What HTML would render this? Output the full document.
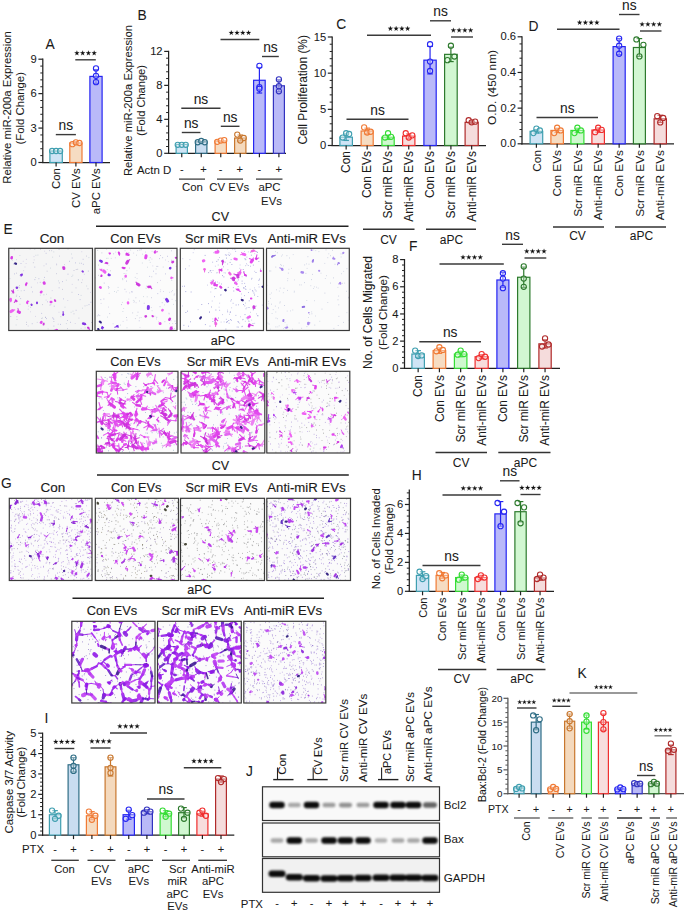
<!DOCTYPE html>
<html><head><meta charset="utf-8"><style>
html,body{margin:0;padding:0;background:#fff;}
svg{display:block;}
text{font-family:"Liberation Sans", sans-serif;stroke:#1a1a1a;stroke-width:0.06px;}
</style></head><body>
<svg width="685" height="914" viewBox="0 0 685 914">
<rect x="0" y="0" width="685" height="914" fill="#fff"/>
<text x="45.57" y="49.4" font-size="13.8" text-anchor="start" fill="#1a1a1a" >A</text>
<line x1="42.8" y1="58.6" x2="42.8" y2="163.1" stroke="#222" stroke-width="1.25" />
<line x1="42.2" y1="162.5" x2="110" y2="162.5" stroke="#222" stroke-width="1.25" />
<line x1="38.4" y1="162.5" x2="42.8" y2="162.5" stroke="#222" stroke-width="1.2" />
<text x="36.8" y="166.1" font-size="11.2" text-anchor="end" fill="#1a1a1a" >0</text>
<line x1="38.4" y1="128.07" x2="42.8" y2="128.07" stroke="#222" stroke-width="1.2" />
<text x="36.8" y="131.67" font-size="11.2" text-anchor="end" fill="#1a1a1a" >3</text>
<line x1="38.4" y1="93.63" x2="42.8" y2="93.63" stroke="#222" stroke-width="1.2" />
<text x="36.8" y="97.23" font-size="11.2" text-anchor="end" fill="#1a1a1a" >6</text>
<line x1="38.4" y1="59.2" x2="42.8" y2="59.2" stroke="#222" stroke-width="1.2" />
<text x="36.8" y="62.8" font-size="11.2" text-anchor="end" fill="#1a1a1a" >9</text>
<line x1="40.3" y1="155.61" x2="42.8" y2="155.61" stroke="#222" stroke-width="1.0" />
<line x1="40.3" y1="148.73" x2="42.8" y2="148.73" stroke="#222" stroke-width="1.0" />
<line x1="40.3" y1="141.84" x2="42.8" y2="141.84" stroke="#222" stroke-width="1.0" />
<line x1="40.3" y1="134.95" x2="42.8" y2="134.95" stroke="#222" stroke-width="1.0" />
<line x1="40.3" y1="121.18" x2="42.8" y2="121.18" stroke="#222" stroke-width="1.0" />
<line x1="40.3" y1="114.29" x2="42.8" y2="114.29" stroke="#222" stroke-width="1.0" />
<line x1="40.3" y1="107.41" x2="42.8" y2="107.41" stroke="#222" stroke-width="1.0" />
<line x1="40.3" y1="100.52" x2="42.8" y2="100.52" stroke="#222" stroke-width="1.0" />
<line x1="40.3" y1="86.75" x2="42.8" y2="86.75" stroke="#222" stroke-width="1.0" />
<line x1="40.3" y1="79.86" x2="42.8" y2="79.86" stroke="#222" stroke-width="1.0" />
<line x1="40.3" y1="72.97" x2="42.8" y2="72.97" stroke="#222" stroke-width="1.0" />
<line x1="40.3" y1="66.09" x2="42.8" y2="66.09" stroke="#222" stroke-width="1.0" />
<rect x="49.9" y="151.02" width="12.4" height="11.48" fill="#cfe4f5" stroke="#3f9fb0" stroke-width="1.2" />
<circle cx="52.1" cy="151.02" r="2.6" fill="rgba(255,255,255,0.35)" stroke="#3f9fb0" stroke-width="1.1"/>
<circle cx="56.1" cy="151.02" r="2.6" fill="rgba(255,255,255,0.35)" stroke="#3f9fb0" stroke-width="1.1"/>
<circle cx="60.1" cy="151.02" r="2.6" fill="rgba(255,255,255,0.35)" stroke="#3f9fb0" stroke-width="1.1"/>
<line x1="56.1" y1="162.5" x2="56.1" y2="166.5" stroke="#222" stroke-width="1.2" />
<rect x="69.8" y="142.99" width="12.2" height="19.51" fill="#f6dcc2" stroke="#f07a35" stroke-width="1.2" />
<line x1="75.9" y1="141.84" x2="75.9" y2="142.99" stroke="#f07a35" stroke-width="1.2" />
<line x1="73.1" y1="141.84" x2="78.7" y2="141.84" stroke="#f07a35" stroke-width="1.2" />
<line x1="75.9" y1="142.99" x2="75.9" y2="144.14" stroke="#f07a35" stroke-width="1.2" />
<line x1="73.1" y1="144.14" x2="78.7" y2="144.14" stroke="#f07a35" stroke-width="1.2" />
<circle cx="72.4" cy="144.14" r="2.6" fill="rgba(255,255,255,0.35)" stroke="#f07a35" stroke-width="1.1"/>
<circle cx="75.9" cy="142.41" r="2.6" fill="rgba(255,255,255,0.35)" stroke="#f07a35" stroke-width="1.1"/>
<circle cx="79.4" cy="142.99" r="2.6" fill="rgba(255,255,255,0.35)" stroke="#f07a35" stroke-width="1.1"/>
<line x1="75.9" y1="162.5" x2="75.9" y2="166.5" stroke="#222" stroke-width="1.2" />
<rect x="89.9" y="76.42" width="12.2" height="86.08" fill="#b9b9f9" stroke="#2525f2" stroke-width="1.2" />
<line x1="96" y1="69.53" x2="96" y2="76.42" stroke="#2525f2" stroke-width="1.2" />
<line x1="93.2" y1="69.53" x2="98.8" y2="69.53" stroke="#2525f2" stroke-width="1.2" />
<line x1="96" y1="76.42" x2="96" y2="83.3" stroke="#2525f2" stroke-width="1.2" />
<line x1="93.2" y1="83.3" x2="98.8" y2="83.3" stroke="#2525f2" stroke-width="1.2" />
<circle cx="96" cy="68.38" r="2.6" fill="rgba(255,255,255,0.35)" stroke="#2525f2" stroke-width="1.1"/>
<circle cx="96" cy="75.84" r="2.6" fill="rgba(255,255,255,0.35)" stroke="#2525f2" stroke-width="1.1"/>
<circle cx="96" cy="82.16" r="2.6" fill="rgba(255,255,255,0.35)" stroke="#2525f2" stroke-width="1.1"/>
<line x1="96" y1="162.5" x2="96" y2="166.5" stroke="#222" stroke-width="1.2" />
<line x1="55.8" y1="134.6" x2="75.9" y2="134.6" stroke="#3a3a3a" stroke-width="1.4" />
<text x="65.85" y="130" font-size="15" text-anchor="middle" fill="#1a1a1a" textLength="14.55" lengthAdjust="spacingAndGlyphs" >ns</text>
<line x1="75.3" y1="59.8" x2="95.8" y2="59.8" stroke="#3a3a3a" stroke-width="1.4" />
<path d="M76.92,50.55L77.52,52.34L79.39,52.35L77.88,53.46L78.45,55.25L76.92,54.15L75.39,55.25L75.97,53.46L74.45,52.35L76.33,52.34Z" fill="#111" stroke="#111" stroke-width="0.15" stroke-linejoin="round"/>
<path d="M82.67,50.55L83.27,52.34L85.14,52.35L83.62,53.46L84.20,55.25L82.67,54.15L81.14,55.25L81.72,53.46L80.20,52.35L82.08,52.34Z" fill="#111" stroke="#111" stroke-width="0.15" stroke-linejoin="round"/>
<path d="M88.42,50.55L89.02,52.34L90.89,52.35L89.38,53.46L89.95,55.25L88.42,54.15L86.89,55.25L87.47,53.46L85.95,52.35L87.83,52.34Z" fill="#111" stroke="#111" stroke-width="0.15" stroke-linejoin="round"/>
<path d="M94.17,50.55L94.77,52.34L96.64,52.35L95.12,53.46L95.70,55.25L94.17,54.15L92.64,55.25L93.22,53.46L91.70,52.35L93.58,52.34Z" fill="#111" stroke="#111" stroke-width="0.15" stroke-linejoin="round"/>
<text transform="translate(10.9,107.4) rotate(-90)" font-size="11.3" text-anchor="middle" fill="#1a1a1a" textLength="152.5" lengthAdjust="spacingAndGlyphs" >Relative miR-200a Expression</text>
<text transform="translate(24.4,108.3) rotate(-90)" font-size="11.1" text-anchor="middle" fill="#1a1a1a" textLength="72.5" lengthAdjust="spacingAndGlyphs" >(Fold Change)</text>
<text transform="translate(60.2,168.2) rotate(-90)" font-size="11.35" text-anchor="end" fill="#1a1a1a" >Con</text>
<text transform="translate(80,168.2) rotate(-90)" font-size="11.35" text-anchor="end" fill="#1a1a1a" >CV EVs</text>
<text transform="translate(99.9,168.2) rotate(-90)" font-size="11.35" text-anchor="end" fill="#1a1a1a" >aPC EVs</text>
<text x="137.5" y="19.5" font-size="13.8" text-anchor="start" fill="#1a1a1a" >B</text>
<line x1="168.6" y1="50.8" x2="168.6" y2="153.9" stroke="#222" stroke-width="1.25" />
<line x1="168" y1="153.3" x2="286" y2="153.3" stroke="#222" stroke-width="1.25" />
<line x1="164.2" y1="153.3" x2="168.6" y2="153.3" stroke="#222" stroke-width="1.2" />
<text x="162.6" y="156.9" font-size="11.2" text-anchor="end" fill="#1a1a1a" >0</text>
<line x1="164.2" y1="119.33" x2="168.6" y2="119.33" stroke="#222" stroke-width="1.2" />
<text x="162.6" y="122.93" font-size="11.2" text-anchor="end" fill="#1a1a1a" >4</text>
<line x1="164.2" y1="85.37" x2="168.6" y2="85.37" stroke="#222" stroke-width="1.2" />
<text x="162.6" y="88.97" font-size="11.2" text-anchor="end" fill="#1a1a1a" >8</text>
<line x1="164.2" y1="51.4" x2="168.6" y2="51.4" stroke="#222" stroke-width="1.2" />
<text x="162.6" y="55" font-size="11.2" text-anchor="end" fill="#1a1a1a" >12</text>
<line x1="166.1" y1="146.51" x2="168.6" y2="146.51" stroke="#222" stroke-width="1.0" />
<line x1="166.1" y1="139.71" x2="168.6" y2="139.71" stroke="#222" stroke-width="1.0" />
<line x1="166.1" y1="132.92" x2="168.6" y2="132.92" stroke="#222" stroke-width="1.0" />
<line x1="166.1" y1="126.13" x2="168.6" y2="126.13" stroke="#222" stroke-width="1.0" />
<line x1="166.1" y1="112.54" x2="168.6" y2="112.54" stroke="#222" stroke-width="1.0" />
<line x1="166.1" y1="105.75" x2="168.6" y2="105.75" stroke="#222" stroke-width="1.0" />
<line x1="166.1" y1="98.95" x2="168.6" y2="98.95" stroke="#222" stroke-width="1.0" />
<line x1="166.1" y1="92.16" x2="168.6" y2="92.16" stroke="#222" stroke-width="1.0" />
<line x1="166.1" y1="78.57" x2="168.6" y2="78.57" stroke="#222" stroke-width="1.0" />
<line x1="166.1" y1="71.78" x2="168.6" y2="71.78" stroke="#222" stroke-width="1.0" />
<line x1="166.1" y1="64.99" x2="168.6" y2="64.99" stroke="#222" stroke-width="1.0" />
<line x1="166.1" y1="58.19" x2="168.6" y2="58.19" stroke="#222" stroke-width="1.0" />
<rect x="176.1" y="144.38" width="11.3" height="8.92" fill="#cfe4f5" stroke="#3f9fb0" stroke-width="1.2" />
<circle cx="177.75" cy="144.81" r="2.6" fill="rgba(255,255,255,0.35)" stroke="#3f9fb0" stroke-width="1.1"/>
<circle cx="181.75" cy="144.81" r="2.6" fill="rgba(255,255,255,0.35)" stroke="#3f9fb0" stroke-width="1.1"/>
<circle cx="185.75" cy="144.81" r="2.6" fill="rgba(255,255,255,0.35)" stroke="#3f9fb0" stroke-width="1.1"/>
<line x1="181.75" y1="153.3" x2="181.75" y2="157.3" stroke="#222" stroke-width="1.2" />
<rect x="195.6" y="141.84" width="11.3" height="11.46" fill="#c9dcf0" stroke="#2f6d85" stroke-width="1.2" />
<circle cx="197.75" cy="142.26" r="2.6" fill="rgba(255,255,255,0.35)" stroke="#2f6d85" stroke-width="1.1"/>
<circle cx="201.25" cy="140.99" r="2.6" fill="rgba(255,255,255,0.35)" stroke="#2f6d85" stroke-width="1.1"/>
<circle cx="204.75" cy="142.26" r="2.6" fill="rgba(255,255,255,0.35)" stroke="#2f6d85" stroke-width="1.1"/>
<line x1="201.25" y1="153.3" x2="201.25" y2="157.3" stroke="#222" stroke-width="1.2" />
<rect x="215.1" y="140.99" width="11.3" height="12.31" fill="#f6dcc2" stroke="#f07a35" stroke-width="1.2" />
<circle cx="217.25" cy="141.84" r="2.6" fill="rgba(255,255,255,0.35)" stroke="#f07a35" stroke-width="1.1"/>
<circle cx="220.75" cy="140.56" r="2.6" fill="rgba(255,255,255,0.35)" stroke="#f07a35" stroke-width="1.1"/>
<circle cx="224.25" cy="140.14" r="2.6" fill="rgba(255,255,255,0.35)" stroke="#f07a35" stroke-width="1.1"/>
<line x1="220.75" y1="153.3" x2="220.75" y2="157.3" stroke="#222" stroke-width="1.2" />
<rect x="234.6" y="138.02" width="11.3" height="15.28" fill="#f4d9bd" stroke="#c8772e" stroke-width="1.2" />
<line x1="240.25" y1="135.04" x2="240.25" y2="138.02" stroke="#c8772e" stroke-width="1.2" />
<line x1="237.45" y1="135.04" x2="243.05" y2="135.04" stroke="#c8772e" stroke-width="1.2" />
<line x1="240.25" y1="138.02" x2="240.25" y2="140.99" stroke="#c8772e" stroke-width="1.2" />
<line x1="237.45" y1="140.99" x2="243.05" y2="140.99" stroke="#c8772e" stroke-width="1.2" />
<circle cx="237.25" cy="134.62" r="2.6" fill="rgba(255,255,255,0.35)" stroke="#c8772e" stroke-width="1.1"/>
<circle cx="243.75" cy="138.02" r="2.6" fill="rgba(255,255,255,0.35)" stroke="#c8772e" stroke-width="1.1"/>
<circle cx="240.25" cy="140.56" r="2.6" fill="rgba(255,255,255,0.35)" stroke="#c8772e" stroke-width="1.1"/>
<line x1="240.25" y1="153.3" x2="240.25" y2="157.3" stroke="#222" stroke-width="1.2" />
<rect x="253.6" y="80.27" width="11.6" height="73.03" fill="#b9b9f9" stroke="#2525f2" stroke-width="1.2" />
<line x1="259.4" y1="67.53" x2="259.4" y2="80.27" stroke="#2525f2" stroke-width="1.2" />
<line x1="256.6" y1="67.53" x2="262.2" y2="67.53" stroke="#2525f2" stroke-width="1.2" />
<line x1="259.4" y1="80.27" x2="259.4" y2="93.01" stroke="#2525f2" stroke-width="1.2" />
<line x1="256.6" y1="93.01" x2="262.2" y2="93.01" stroke="#2525f2" stroke-width="1.2" />
<circle cx="259.4" cy="65.84" r="2.6" fill="rgba(255,255,255,0.35)" stroke="#2525f2" stroke-width="1.1"/>
<circle cx="259.4" cy="87.07" r="2.6" fill="rgba(255,255,255,0.35)" stroke="#2525f2" stroke-width="1.1"/>
<circle cx="259.4" cy="88.76" r="2.6" fill="rgba(255,255,255,0.35)" stroke="#2525f2" stroke-width="1.1"/>
<line x1="259.4" y1="153.3" x2="259.4" y2="157.3" stroke="#222" stroke-width="1.2" />
<rect x="273.4" y="85.79" width="11" height="67.51" fill="#b9b9f7" stroke="#3232c0" stroke-width="1.2" />
<line x1="278.9" y1="79.85" x2="278.9" y2="85.79" stroke="#3232c0" stroke-width="1.2" />
<line x1="276.1" y1="79.85" x2="281.7" y2="79.85" stroke="#3232c0" stroke-width="1.2" />
<line x1="278.9" y1="85.79" x2="278.9" y2="91.74" stroke="#3232c0" stroke-width="1.2" />
<line x1="276.1" y1="91.74" x2="281.7" y2="91.74" stroke="#3232c0" stroke-width="1.2" />
<circle cx="278.9" cy="79.42" r="2.6" fill="rgba(255,255,255,0.35)" stroke="#3232c0" stroke-width="1.1"/>
<circle cx="278.9" cy="86.22" r="2.6" fill="rgba(255,255,255,0.35)" stroke="#3232c0" stroke-width="1.1"/>
<circle cx="278.9" cy="91.31" r="2.6" fill="rgba(255,255,255,0.35)" stroke="#3232c0" stroke-width="1.1"/>
<line x1="278.9" y1="153.3" x2="278.9" y2="157.3" stroke="#222" stroke-width="1.2" />
<line x1="181.8" y1="132.5" x2="200.5" y2="132.5" stroke="#3a3a3a" stroke-width="1.4" />
<text x="191.15" y="127.9" font-size="15" text-anchor="middle" fill="#1a1a1a" textLength="14.55" lengthAdjust="spacingAndGlyphs" >ns</text>
<line x1="220.8" y1="126.3" x2="239.5" y2="126.3" stroke="#3a3a3a" stroke-width="1.4" />
<text x="230.15" y="121.7" font-size="15" text-anchor="middle" fill="#1a1a1a" textLength="14.55" lengthAdjust="spacingAndGlyphs" >ns</text>
<line x1="181.3" y1="108.3" x2="220.5" y2="108.3" stroke="#3a3a3a" stroke-width="1.4" />
<text x="200.9" y="103.7" font-size="15" text-anchor="middle" fill="#1a1a1a" textLength="14.55" lengthAdjust="spacingAndGlyphs" >ns</text>
<line x1="220.5" y1="39.5" x2="259.3" y2="39.5" stroke="#3a3a3a" stroke-width="1.4" />
<path d="M231.28,30.25L231.87,32.04L233.75,32.05L232.22,33.16L232.81,34.95L231.28,33.85L229.75,34.95L230.33,33.16L228.81,32.05L230.69,32.04Z" fill="#111" stroke="#111" stroke-width="0.15" stroke-linejoin="round"/>
<path d="M237.03,30.25L237.62,32.04L239.50,32.05L237.97,33.16L238.56,34.95L237.03,33.85L235.50,34.95L236.08,33.16L234.56,32.05L236.44,32.04Z" fill="#111" stroke="#111" stroke-width="0.15" stroke-linejoin="round"/>
<path d="M242.78,30.25L243.37,32.04L245.25,32.05L243.72,33.16L244.31,34.95L242.78,33.85L241.25,34.95L241.83,33.16L240.31,32.05L242.19,32.04Z" fill="#111" stroke="#111" stroke-width="0.15" stroke-linejoin="round"/>
<path d="M248.53,30.25L249.12,32.04L251.00,32.05L249.47,33.16L250.06,34.95L248.53,33.85L247.00,34.95L247.58,33.16L246.06,32.05L247.94,32.04Z" fill="#111" stroke="#111" stroke-width="0.15" stroke-linejoin="round"/>
<line x1="262" y1="56.5" x2="278.8" y2="56.5" stroke="#3a3a3a" stroke-width="1.4" />
<text x="270.4" y="51.9" font-size="15" text-anchor="middle" fill="#1a1a1a" textLength="14.55" lengthAdjust="spacingAndGlyphs" >ns</text>
<text transform="translate(131.8,100.5) rotate(-90)" font-size="11.3" text-anchor="middle" fill="#1a1a1a" textLength="151" lengthAdjust="spacingAndGlyphs" >Relative miR-200a Expression</text>
<text transform="translate(145.3,100.5) rotate(-90)" font-size="11.1" text-anchor="middle" fill="#1a1a1a" textLength="71" lengthAdjust="spacingAndGlyphs" >(Fold Change)</text>
<text x="137" y="173.6" font-size="11.4" text-anchor="start" fill="#1a1a1a" textLength="34.3" lengthAdjust="spacingAndGlyphs" >Actn D</text>
<text x="181.8" y="172.9" font-size="11" text-anchor="middle" fill="#1a1a1a" >-</text>
<text x="203.5" y="172.9" font-size="11" text-anchor="middle" fill="#1a1a1a" >+</text>
<text x="220.6" y="172.9" font-size="11" text-anchor="middle" fill="#1a1a1a" >-</text>
<text x="239.8" y="172.9" font-size="11" text-anchor="middle" fill="#1a1a1a" >+</text>
<text x="259.4" y="172.9" font-size="11" text-anchor="middle" fill="#1a1a1a" >-</text>
<text x="278.6" y="172.9" font-size="11" text-anchor="middle" fill="#1a1a1a" >+</text>
<line x1="179" y1="179.1" x2="205" y2="179.1" stroke="#2e2e2e" stroke-width="1.2" />
<line x1="217" y1="179.1" x2="243" y2="179.1" stroke="#2e2e2e" stroke-width="1.2" />
<line x1="256" y1="179.1" x2="282.5" y2="179.1" stroke="#2e2e2e" stroke-width="1.2" />
<text x="192.5" y="190.8" font-size="11.4" text-anchor="middle" fill="#1a1a1a" >Con</text>
<text x="229.3" y="190.8" font-size="11.4" text-anchor="middle" fill="#1a1a1a" >CV EVs</text>
<text x="269.5" y="190.8" font-size="11.4" text-anchor="middle" fill="#1a1a1a" >aPC</text>
<text x="271.5" y="204.9" font-size="11.4" text-anchor="middle" fill="#1a1a1a" >EVs</text>
<text x="336.2" y="28.6" font-size="13.8" text-anchor="start" fill="#1a1a1a" >C</text>
<line x1="332.2" y1="36.4" x2="332.2" y2="146.1" stroke="#222" stroke-width="1.25" />
<line x1="331.6" y1="145.5" x2="486" y2="145.5" stroke="#222" stroke-width="1.25" />
<line x1="327.8" y1="145.5" x2="332.2" y2="145.5" stroke="#222" stroke-width="1.2" />
<text x="326.2" y="149.1" font-size="11.2" text-anchor="end" fill="#1a1a1a" >0</text>
<line x1="327.8" y1="109.33" x2="332.2" y2="109.33" stroke="#222" stroke-width="1.2" />
<text x="326.2" y="112.93" font-size="11.2" text-anchor="end" fill="#1a1a1a" >5</text>
<line x1="327.8" y1="73.17" x2="332.2" y2="73.17" stroke="#222" stroke-width="1.2" />
<text x="326.2" y="76.77" font-size="11.2" text-anchor="end" fill="#1a1a1a" >10</text>
<line x1="327.8" y1="37" x2="332.2" y2="37" stroke="#222" stroke-width="1.2" />
<text x="326.2" y="40.6" font-size="11.2" text-anchor="end" fill="#1a1a1a" >15</text>
<line x1="329.7" y1="138.27" x2="332.2" y2="138.27" stroke="#222" stroke-width="1.0" />
<line x1="329.7" y1="131.03" x2="332.2" y2="131.03" stroke="#222" stroke-width="1.0" />
<line x1="329.7" y1="123.8" x2="332.2" y2="123.8" stroke="#222" stroke-width="1.0" />
<line x1="329.7" y1="116.57" x2="332.2" y2="116.57" stroke="#222" stroke-width="1.0" />
<line x1="329.7" y1="102.1" x2="332.2" y2="102.1" stroke="#222" stroke-width="1.0" />
<line x1="329.7" y1="94.87" x2="332.2" y2="94.87" stroke="#222" stroke-width="1.0" />
<line x1="329.7" y1="87.63" x2="332.2" y2="87.63" stroke="#222" stroke-width="1.0" />
<line x1="329.7" y1="80.4" x2="332.2" y2="80.4" stroke="#222" stroke-width="1.0" />
<line x1="329.7" y1="65.93" x2="332.2" y2="65.93" stroke="#222" stroke-width="1.0" />
<line x1="329.7" y1="58.7" x2="332.2" y2="58.7" stroke="#222" stroke-width="1.0" />
<line x1="329.7" y1="51.47" x2="332.2" y2="51.47" stroke="#222" stroke-width="1.0" />
<line x1="329.7" y1="44.23" x2="332.2" y2="44.23" stroke="#222" stroke-width="1.0" />
<rect x="339.9" y="137.18" width="12.5" height="8.32" fill="#cfe4f5" stroke="#3f9fb0" stroke-width="1.2" />
<line x1="346.15" y1="133.93" x2="346.15" y2="137.18" stroke="#3f9fb0" stroke-width="1.2" />
<line x1="343.35" y1="133.93" x2="348.95" y2="133.93" stroke="#3f9fb0" stroke-width="1.2" />
<line x1="346.15" y1="137.18" x2="346.15" y2="140.44" stroke="#3f9fb0" stroke-width="1.2" />
<line x1="343.35" y1="140.44" x2="348.95" y2="140.44" stroke="#3f9fb0" stroke-width="1.2" />
<circle cx="342.65" cy="137.54" r="2.6" fill="rgba(255,255,255,0.35)" stroke="#3f9fb0" stroke-width="1.1"/>
<circle cx="346.15" cy="133.2" r="2.6" fill="rgba(255,255,255,0.35)" stroke="#3f9fb0" stroke-width="1.1"/>
<circle cx="349.15" cy="133.93" r="2.6" fill="rgba(255,255,255,0.35)" stroke="#3f9fb0" stroke-width="1.1"/>
<line x1="346.15" y1="145.5" x2="346.15" y2="149.5" stroke="#222" stroke-width="1.2" />
<rect x="361.1" y="131.03" width="12.1" height="14.47" fill="#f6dcc2" stroke="#f07a35" stroke-width="1.2" />
<line x1="367.15" y1="128.14" x2="367.15" y2="131.03" stroke="#f07a35" stroke-width="1.2" />
<line x1="364.35" y1="128.14" x2="369.95" y2="128.14" stroke="#f07a35" stroke-width="1.2" />
<line x1="367.15" y1="131.03" x2="367.15" y2="133.93" stroke="#f07a35" stroke-width="1.2" />
<line x1="364.35" y1="133.93" x2="369.95" y2="133.93" stroke="#f07a35" stroke-width="1.2" />
<circle cx="364.15" cy="127.42" r="2.6" fill="rgba(255,255,255,0.35)" stroke="#f07a35" stroke-width="1.1"/>
<circle cx="367.15" cy="132.48" r="2.6" fill="rgba(255,255,255,0.35)" stroke="#f07a35" stroke-width="1.1"/>
<circle cx="370.65" cy="131.76" r="2.6" fill="rgba(255,255,255,0.35)" stroke="#f07a35" stroke-width="1.1"/>
<line x1="367.15" y1="145.5" x2="367.15" y2="149.5" stroke="#222" stroke-width="1.2" />
<rect x="381.9" y="137.18" width="12.3" height="8.32" fill="#cff8cf" stroke="#35dd35" stroke-width="1.2" />
<line x1="388.05" y1="135.01" x2="388.05" y2="137.18" stroke="#35dd35" stroke-width="1.2" />
<line x1="385.25" y1="135.01" x2="390.85" y2="135.01" stroke="#35dd35" stroke-width="1.2" />
<line x1="388.05" y1="137.18" x2="388.05" y2="139.35" stroke="#35dd35" stroke-width="1.2" />
<line x1="385.25" y1="139.35" x2="390.85" y2="139.35" stroke="#35dd35" stroke-width="1.2" />
<circle cx="388.05" cy="133.2" r="2.6" fill="rgba(255,255,255,0.35)" stroke="#35dd35" stroke-width="1.1"/>
<circle cx="385.05" cy="137.54" r="2.6" fill="rgba(255,255,255,0.35)" stroke="#35dd35" stroke-width="1.1"/>
<circle cx="391.05" cy="136.82" r="2.6" fill="rgba(255,255,255,0.35)" stroke="#35dd35" stroke-width="1.1"/>
<line x1="388.05" y1="145.5" x2="388.05" y2="149.5" stroke="#222" stroke-width="1.2" />
<rect x="402.6" y="136.1" width="12.3" height="9.4" fill="#f7dddd" stroke="#f02e2e" stroke-width="1.2" />
<line x1="408.75" y1="133.93" x2="408.75" y2="136.1" stroke="#f02e2e" stroke-width="1.2" />
<line x1="405.95" y1="133.93" x2="411.55" y2="133.93" stroke="#f02e2e" stroke-width="1.2" />
<line x1="408.75" y1="136.1" x2="408.75" y2="138.27" stroke="#f02e2e" stroke-width="1.2" />
<line x1="405.95" y1="138.27" x2="411.55" y2="138.27" stroke="#f02e2e" stroke-width="1.2" />
<circle cx="405.75" cy="133.2" r="2.6" fill="rgba(255,255,255,0.35)" stroke="#f02e2e" stroke-width="1.1"/>
<circle cx="408.75" cy="137.54" r="2.6" fill="rgba(255,255,255,0.35)" stroke="#f02e2e" stroke-width="1.1"/>
<circle cx="412.25" cy="135.37" r="2.6" fill="rgba(255,255,255,0.35)" stroke="#f02e2e" stroke-width="1.1"/>
<line x1="408.75" y1="145.5" x2="408.75" y2="149.5" stroke="#222" stroke-width="1.2" />
<rect x="423.9" y="60.15" width="12.3" height="85.35" fill="#b9b9f9" stroke="#2525f2" stroke-width="1.2" />
<line x1="430.05" y1="46.4" x2="430.05" y2="60.15" stroke="#2525f2" stroke-width="1.2" />
<line x1="427.25" y1="46.4" x2="432.85" y2="46.4" stroke="#2525f2" stroke-width="1.2" />
<line x1="430.05" y1="60.15" x2="430.05" y2="73.89" stroke="#2525f2" stroke-width="1.2" />
<line x1="427.25" y1="73.89" x2="432.85" y2="73.89" stroke="#2525f2" stroke-width="1.2" />
<circle cx="430.05" cy="44.23" r="2.6" fill="rgba(255,255,255,0.35)" stroke="#2525f2" stroke-width="1.1"/>
<circle cx="430.05" cy="61.59" r="2.6" fill="rgba(255,255,255,0.35)" stroke="#2525f2" stroke-width="1.1"/>
<circle cx="430.05" cy="71" r="2.6" fill="rgba(255,255,255,0.35)" stroke="#2525f2" stroke-width="1.1"/>
<line x1="430.05" y1="145.5" x2="430.05" y2="149.5" stroke="#222" stroke-width="1.2" />
<rect x="444.6" y="54.36" width="12.6" height="91.14" fill="#d2f7d2" stroke="#2d7a2d" stroke-width="1.2" />
<line x1="450.9" y1="47.13" x2="450.9" y2="54.36" stroke="#2d7a2d" stroke-width="1.2" />
<line x1="448.1" y1="47.13" x2="453.7" y2="47.13" stroke="#2d7a2d" stroke-width="1.2" />
<line x1="450.9" y1="54.36" x2="450.9" y2="61.59" stroke="#2d7a2d" stroke-width="1.2" />
<line x1="448.1" y1="61.59" x2="453.7" y2="61.59" stroke="#2d7a2d" stroke-width="1.2" />
<circle cx="450.9" cy="45.68" r="2.6" fill="rgba(255,255,255,0.35)" stroke="#2d7a2d" stroke-width="1.1"/>
<circle cx="447.4" cy="60.15" r="2.6" fill="rgba(255,255,255,0.35)" stroke="#2d7a2d" stroke-width="1.1"/>
<circle cx="454.4" cy="56.53" r="2.6" fill="rgba(255,255,255,0.35)" stroke="#2d7a2d" stroke-width="1.1"/>
<line x1="450.9" y1="145.5" x2="450.9" y2="149.5" stroke="#222" stroke-width="1.2" />
<rect x="465.1" y="122.35" width="13.1" height="23.15" fill="#f5dcdc" stroke="#b02a2a" stroke-width="1.2" />
<line x1="471.65" y1="120.91" x2="471.65" y2="122.35" stroke="#b02a2a" stroke-width="1.2" />
<line x1="468.85" y1="120.91" x2="474.45" y2="120.91" stroke="#b02a2a" stroke-width="1.2" />
<line x1="471.65" y1="122.35" x2="471.65" y2="123.8" stroke="#b02a2a" stroke-width="1.2" />
<line x1="468.85" y1="123.8" x2="474.45" y2="123.8" stroke="#b02a2a" stroke-width="1.2" />
<circle cx="468.65" cy="120.18" r="2.6" fill="rgba(255,255,255,0.35)" stroke="#b02a2a" stroke-width="1.1"/>
<circle cx="471.65" cy="122.35" r="2.6" fill="rgba(255,255,255,0.35)" stroke="#b02a2a" stroke-width="1.1"/>
<circle cx="475.15" cy="121.63" r="2.6" fill="rgba(255,255,255,0.35)" stroke="#b02a2a" stroke-width="1.1"/>
<line x1="471.65" y1="145.5" x2="471.65" y2="149.5" stroke="#222" stroke-width="1.2" />
<line x1="346.5" y1="119.3" x2="408.5" y2="119.3" stroke="#3a3a3a" stroke-width="1.4" />
<text x="377.5" y="114.7" font-size="15" text-anchor="middle" fill="#1a1a1a" textLength="14.55" lengthAdjust="spacingAndGlyphs" >ns</text>
<line x1="367" y1="35.3" x2="431" y2="35.3" stroke="#3a3a3a" stroke-width="1.4" />
<path d="M390.38,26.05L390.96,27.84L392.85,27.85L391.32,28.96L391.90,30.75L390.38,29.65L388.85,30.75L389.43,28.96L387.90,27.85L389.79,27.84Z" fill="#111" stroke="#111" stroke-width="0.15" stroke-linejoin="round"/>
<path d="M396.12,26.05L396.71,27.84L398.60,27.85L397.07,28.96L397.65,30.75L396.12,29.65L394.60,30.75L395.18,28.96L393.65,27.85L395.54,27.84Z" fill="#111" stroke="#111" stroke-width="0.15" stroke-linejoin="round"/>
<path d="M401.88,26.05L402.46,27.84L404.35,27.85L402.82,28.96L403.40,30.75L401.88,29.65L400.35,30.75L400.93,28.96L399.40,27.85L401.29,27.84Z" fill="#111" stroke="#111" stroke-width="0.15" stroke-linejoin="round"/>
<path d="M407.62,26.05L408.21,27.84L410.10,27.85L408.57,28.96L409.15,30.75L407.62,29.65L406.10,30.75L406.68,28.96L405.15,27.85L407.04,27.84Z" fill="#111" stroke="#111" stroke-width="0.15" stroke-linejoin="round"/>
<line x1="430" y1="20.8" x2="451" y2="20.8" stroke="#3a3a3a" stroke-width="1.4" />
<text x="440.5" y="16.2" font-size="15" text-anchor="middle" fill="#1a1a1a" textLength="14.55" lengthAdjust="spacingAndGlyphs" >ns</text>
<line x1="451" y1="37" x2="473" y2="37" stroke="#3a3a3a" stroke-width="1.4" />
<path d="M453.38,27.75L453.96,29.54L455.85,29.55L454.32,30.66L454.90,32.45L453.38,31.35L451.85,32.45L452.43,30.66L450.90,29.55L452.79,29.54Z" fill="#111" stroke="#111" stroke-width="0.15" stroke-linejoin="round"/>
<path d="M459.12,27.75L459.71,29.54L461.60,29.55L460.07,30.66L460.65,32.45L459.12,31.35L457.60,32.45L458.18,30.66L456.65,29.55L458.54,29.54Z" fill="#111" stroke="#111" stroke-width="0.15" stroke-linejoin="round"/>
<path d="M464.88,27.75L465.46,29.54L467.35,29.55L465.82,30.66L466.40,32.45L464.88,31.35L463.35,32.45L463.93,30.66L462.40,29.55L464.29,29.54Z" fill="#111" stroke="#111" stroke-width="0.15" stroke-linejoin="round"/>
<path d="M470.62,27.75L471.21,29.54L473.10,29.55L471.57,30.66L472.15,32.45L470.62,31.35L469.10,32.45L469.68,30.66L468.15,29.55L470.04,29.54Z" fill="#111" stroke="#111" stroke-width="0.15" stroke-linejoin="round"/>
<text transform="translate(307.2,89.8) rotate(-90)" font-size="11.9" text-anchor="middle" fill="#1a1a1a" textLength="109.5" lengthAdjust="spacingAndGlyphs" >Cell Proliferation (%)</text>
<text transform="translate(350.35,151.1) rotate(-90)" font-size="11.9" text-anchor="end" fill="#1a1a1a" >Con</text>
<text transform="translate(371.35,151.1) rotate(-90)" font-size="11.9" text-anchor="end" fill="#1a1a1a" >Con EVs</text>
<text transform="translate(392.25,151.1) rotate(-90)" font-size="11.9" text-anchor="end" fill="#1a1a1a" >Scr miR EVs</text>
<text transform="translate(412.95,151.1) rotate(-90)" font-size="11.9" text-anchor="end" fill="#1a1a1a" >Anti-miR EVs</text>
<text transform="translate(434.25,151.1) rotate(-90)" font-size="11.9" text-anchor="end" fill="#1a1a1a" >Con EVs</text>
<text transform="translate(455.1,151.1) rotate(-90)" font-size="11.9" text-anchor="end" fill="#1a1a1a" >Scr miR EVs</text>
<text transform="translate(475.85,151.1) rotate(-90)" font-size="11.9" text-anchor="end" fill="#1a1a1a" >Anti-miR EVs</text>
<line x1="363" y1="229.3" x2="414.5" y2="229.3" stroke="#333" stroke-width="1.4" />
<line x1="426" y1="229.3" x2="476" y2="229.3" stroke="#333" stroke-width="1.4" />
<text x="388.5" y="244" font-size="12" text-anchor="middle" fill="#1a1a1a" >CV</text>
<text x="451.5" y="244" font-size="12" text-anchor="middle" fill="#1a1a1a" >aPC</text>
<text x="528.4" y="30.8" font-size="13.8" text-anchor="start" fill="#1a1a1a" >D</text>
<line x1="522" y1="36.2" x2="522" y2="144.4" stroke="#222" stroke-width="1.25" />
<line x1="521.4" y1="143.8" x2="674" y2="143.8" stroke="#222" stroke-width="1.25" />
<line x1="517.6" y1="143.8" x2="522" y2="143.8" stroke="#222" stroke-width="1.2" />
<text x="516" y="147.4" font-size="11.2" text-anchor="end" fill="#1a1a1a" >0.0</text>
<line x1="517.6" y1="108.13" x2="522" y2="108.13" stroke="#222" stroke-width="1.2" />
<text x="516" y="111.73" font-size="11.2" text-anchor="end" fill="#1a1a1a" >0.2</text>
<line x1="517.6" y1="72.47" x2="522" y2="72.47" stroke="#222" stroke-width="1.2" />
<text x="516" y="76.07" font-size="11.2" text-anchor="end" fill="#1a1a1a" >0.4</text>
<line x1="517.6" y1="36.8" x2="522" y2="36.8" stroke="#222" stroke-width="1.2" />
<text x="516" y="40.4" font-size="11.2" text-anchor="end" fill="#1a1a1a" >0.6</text>
<line x1="519.5" y1="136.67" x2="522" y2="136.67" stroke="#222" stroke-width="1.0" />
<line x1="519.5" y1="129.53" x2="522" y2="129.53" stroke="#222" stroke-width="1.0" />
<line x1="519.5" y1="122.4" x2="522" y2="122.4" stroke="#222" stroke-width="1.0" />
<line x1="519.5" y1="115.27" x2="522" y2="115.27" stroke="#222" stroke-width="1.0" />
<line x1="519.5" y1="101" x2="522" y2="101" stroke="#222" stroke-width="1.0" />
<line x1="519.5" y1="93.87" x2="522" y2="93.87" stroke="#222" stroke-width="1.0" />
<line x1="519.5" y1="86.73" x2="522" y2="86.73" stroke="#222" stroke-width="1.0" />
<line x1="519.5" y1="79.6" x2="522" y2="79.6" stroke="#222" stroke-width="1.0" />
<line x1="519.5" y1="65.33" x2="522" y2="65.33" stroke="#222" stroke-width="1.0" />
<line x1="519.5" y1="58.2" x2="522" y2="58.2" stroke="#222" stroke-width="1.0" />
<line x1="519.5" y1="51.07" x2="522" y2="51.07" stroke="#222" stroke-width="1.0" />
<line x1="519.5" y1="43.93" x2="522" y2="43.93" stroke="#222" stroke-width="1.0" />
<rect x="530.1" y="131.32" width="12.6" height="12.48" fill="#cfe4f5" stroke="#3f9fb0" stroke-width="1.2" />
<line x1="536.4" y1="129.53" x2="536.4" y2="131.32" stroke="#3f9fb0" stroke-width="1.2" />
<line x1="533.6" y1="129.53" x2="539.2" y2="129.53" stroke="#3f9fb0" stroke-width="1.2" />
<line x1="536.4" y1="131.32" x2="536.4" y2="133.1" stroke="#3f9fb0" stroke-width="1.2" />
<line x1="533.6" y1="133.1" x2="539.2" y2="133.1" stroke="#3f9fb0" stroke-width="1.2" />
<circle cx="533.4" cy="133.1" r="2.6" fill="rgba(255,255,255,0.35)" stroke="#3f9fb0" stroke-width="1.1"/>
<circle cx="536.4" cy="128.64" r="2.6" fill="rgba(255,255,255,0.35)" stroke="#3f9fb0" stroke-width="1.1"/>
<circle cx="539.9" cy="130.43" r="2.6" fill="rgba(255,255,255,0.35)" stroke="#3f9fb0" stroke-width="1.1"/>
<line x1="536.4" y1="143.8" x2="536.4" y2="147.8" stroke="#222" stroke-width="1.2" />
<rect x="550.9" y="130.43" width="12.5" height="13.38" fill="#f6dcc2" stroke="#f07a35" stroke-width="1.2" />
<line x1="557.15" y1="128.28" x2="557.15" y2="130.43" stroke="#f07a35" stroke-width="1.2" />
<line x1="554.35" y1="128.28" x2="559.95" y2="128.28" stroke="#f07a35" stroke-width="1.2" />
<line x1="557.15" y1="130.43" x2="557.15" y2="132.56" stroke="#f07a35" stroke-width="1.2" />
<line x1="554.35" y1="132.56" x2="559.95" y2="132.56" stroke="#f07a35" stroke-width="1.2" />
<circle cx="554.15" cy="133.1" r="2.6" fill="rgba(255,255,255,0.35)" stroke="#f07a35" stroke-width="1.1"/>
<circle cx="557.15" cy="127.75" r="2.6" fill="rgba(255,255,255,0.35)" stroke="#f07a35" stroke-width="1.1"/>
<circle cx="560.65" cy="130.43" r="2.6" fill="rgba(255,255,255,0.35)" stroke="#f07a35" stroke-width="1.1"/>
<line x1="557.15" y1="143.8" x2="557.15" y2="147.8" stroke="#222" stroke-width="1.2" />
<rect x="570.9" y="130.43" width="13" height="13.38" fill="#cff8cf" stroke="#35dd35" stroke-width="1.2" />
<line x1="577.4" y1="128.28" x2="577.4" y2="130.43" stroke="#35dd35" stroke-width="1.2" />
<line x1="574.6" y1="128.28" x2="580.2" y2="128.28" stroke="#35dd35" stroke-width="1.2" />
<line x1="577.4" y1="130.43" x2="577.4" y2="132.56" stroke="#35dd35" stroke-width="1.2" />
<line x1="574.6" y1="132.56" x2="580.2" y2="132.56" stroke="#35dd35" stroke-width="1.2" />
<circle cx="574.4" cy="133.1" r="2.6" fill="rgba(255,255,255,0.35)" stroke="#35dd35" stroke-width="1.1"/>
<circle cx="577.4" cy="127.75" r="2.6" fill="rgba(255,255,255,0.35)" stroke="#35dd35" stroke-width="1.1"/>
<circle cx="580.9" cy="130.43" r="2.6" fill="rgba(255,255,255,0.35)" stroke="#35dd35" stroke-width="1.1"/>
<line x1="577.4" y1="143.8" x2="577.4" y2="147.8" stroke="#222" stroke-width="1.2" />
<rect x="591.9" y="130.07" width="12.5" height="13.73" fill="#f7dddd" stroke="#f02e2e" stroke-width="1.2" />
<line x1="598.15" y1="127.93" x2="598.15" y2="130.07" stroke="#f02e2e" stroke-width="1.2" />
<line x1="595.35" y1="127.93" x2="600.95" y2="127.93" stroke="#f02e2e" stroke-width="1.2" />
<line x1="598.15" y1="130.07" x2="598.15" y2="132.21" stroke="#f02e2e" stroke-width="1.2" />
<line x1="595.35" y1="132.21" x2="600.95" y2="132.21" stroke="#f02e2e" stroke-width="1.2" />
<circle cx="595.15" cy="132.21" r="2.6" fill="rgba(255,255,255,0.35)" stroke="#f02e2e" stroke-width="1.1"/>
<circle cx="598.15" cy="127.75" r="2.6" fill="rgba(255,255,255,0.35)" stroke="#f02e2e" stroke-width="1.1"/>
<circle cx="601.65" cy="129.89" r="2.6" fill="rgba(255,255,255,0.35)" stroke="#f02e2e" stroke-width="1.1"/>
<line x1="598.15" y1="143.8" x2="598.15" y2="147.8" stroke="#222" stroke-width="1.2" />
<rect x="613.1" y="46.61" width="12.1" height="97.19" fill="#b9b9f9" stroke="#2525f2" stroke-width="1.2" />
<line x1="619.15" y1="38.58" x2="619.15" y2="46.61" stroke="#2525f2" stroke-width="1.2" />
<line x1="616.35" y1="38.58" x2="621.95" y2="38.58" stroke="#2525f2" stroke-width="1.2" />
<line x1="619.15" y1="46.61" x2="619.15" y2="54.63" stroke="#2525f2" stroke-width="1.2" />
<line x1="616.35" y1="54.63" x2="621.95" y2="54.63" stroke="#2525f2" stroke-width="1.2" />
<circle cx="619.15" cy="38.58" r="2.6" fill="rgba(255,255,255,0.35)" stroke="#2525f2" stroke-width="1.1"/>
<circle cx="619.15" cy="45.72" r="2.6" fill="rgba(255,255,255,0.35)" stroke="#2525f2" stroke-width="1.1"/>
<circle cx="619.15" cy="53.74" r="2.6" fill="rgba(255,255,255,0.35)" stroke="#2525f2" stroke-width="1.1"/>
<line x1="619.15" y1="143.8" x2="619.15" y2="147.8" stroke="#222" stroke-width="1.2" />
<rect x="633.4" y="47.5" width="12" height="96.3" fill="#d2f7d2" stroke="#2d7a2d" stroke-width="1.2" />
<line x1="639.4" y1="38.58" x2="639.4" y2="47.5" stroke="#2d7a2d" stroke-width="1.2" />
<line x1="636.6" y1="38.58" x2="642.2" y2="38.58" stroke="#2d7a2d" stroke-width="1.2" />
<line x1="639.4" y1="47.5" x2="639.4" y2="56.42" stroke="#2d7a2d" stroke-width="1.2" />
<line x1="636.6" y1="56.42" x2="642.2" y2="56.42" stroke="#2d7a2d" stroke-width="1.2" />
<circle cx="636.4" cy="39.47" r="2.6" fill="rgba(255,255,255,0.35)" stroke="#2d7a2d" stroke-width="1.1"/>
<circle cx="643.4" cy="44.82" r="2.6" fill="rgba(255,255,255,0.35)" stroke="#2d7a2d" stroke-width="1.1"/>
<circle cx="639.4" cy="56.42" r="2.6" fill="rgba(255,255,255,0.35)" stroke="#2d7a2d" stroke-width="1.1"/>
<line x1="639.4" y1="143.8" x2="639.4" y2="147.8" stroke="#222" stroke-width="1.2" />
<rect x="654.1" y="118.83" width="12.3" height="24.97" fill="#f5dcdc" stroke="#b02a2a" stroke-width="1.2" />
<line x1="660.25" y1="115.27" x2="660.25" y2="118.83" stroke="#b02a2a" stroke-width="1.2" />
<line x1="657.45" y1="115.27" x2="663.05" y2="115.27" stroke="#b02a2a" stroke-width="1.2" />
<line x1="660.25" y1="118.83" x2="660.25" y2="122.4" stroke="#b02a2a" stroke-width="1.2" />
<line x1="657.45" y1="122.4" x2="663.05" y2="122.4" stroke="#b02a2a" stroke-width="1.2" />
<circle cx="657.25" cy="116.16" r="2.6" fill="rgba(255,255,255,0.35)" stroke="#b02a2a" stroke-width="1.1"/>
<circle cx="663.25" cy="117.94" r="2.6" fill="rgba(255,255,255,0.35)" stroke="#b02a2a" stroke-width="1.1"/>
<circle cx="660.25" cy="122.4" r="2.6" fill="rgba(255,255,255,0.35)" stroke="#b02a2a" stroke-width="1.1"/>
<line x1="660.25" y1="143.8" x2="660.25" y2="147.8" stroke="#222" stroke-width="1.2" />
<line x1="536.5" y1="117.5" x2="598" y2="117.5" stroke="#3a3a3a" stroke-width="1.4" />
<text x="567.25" y="112.9" font-size="15" text-anchor="middle" fill="#1a1a1a" textLength="14.55" lengthAdjust="spacingAndGlyphs" >ns</text>
<line x1="557" y1="29.3" x2="619.5" y2="29.3" stroke="#3a3a3a" stroke-width="1.4" />
<path d="M579.62,20.05L580.22,21.84L582.10,21.85L580.58,22.96L581.15,24.75L579.62,23.65L578.10,24.75L578.67,22.96L577.15,21.85L579.03,21.84Z" fill="#111" stroke="#111" stroke-width="0.15" stroke-linejoin="round"/>
<path d="M585.38,20.05L585.97,21.84L587.85,21.85L586.33,22.96L586.90,24.75L585.38,23.65L583.85,24.75L584.42,22.96L582.90,21.85L584.78,21.84Z" fill="#111" stroke="#111" stroke-width="0.15" stroke-linejoin="round"/>
<path d="M591.12,20.05L591.72,21.84L593.60,21.85L592.08,22.96L592.65,24.75L591.12,23.65L589.60,24.75L590.17,22.96L588.65,21.85L590.53,21.84Z" fill="#111" stroke="#111" stroke-width="0.15" stroke-linejoin="round"/>
<path d="M596.88,20.05L597.47,21.84L599.35,21.85L597.83,22.96L598.40,24.75L596.88,23.65L595.35,24.75L595.92,22.96L594.40,21.85L596.28,21.84Z" fill="#111" stroke="#111" stroke-width="0.15" stroke-linejoin="round"/>
<line x1="619" y1="14.5" x2="639.5" y2="14.5" stroke="#3a3a3a" stroke-width="1.4" />
<text x="629.25" y="9.9" font-size="15" text-anchor="middle" fill="#1a1a1a" textLength="14.55" lengthAdjust="spacingAndGlyphs" >ns</text>
<line x1="640" y1="31" x2="661.5" y2="31" stroke="#3a3a3a" stroke-width="1.4" />
<path d="M642.12,21.75L642.72,23.54L644.60,23.55L643.08,24.66L643.65,26.45L642.12,25.35L640.60,26.45L641.17,24.66L639.65,23.55L641.53,23.54Z" fill="#111" stroke="#111" stroke-width="0.15" stroke-linejoin="round"/>
<path d="M647.88,21.75L648.47,23.54L650.35,23.55L648.83,24.66L649.40,26.45L647.88,25.35L646.35,26.45L646.92,24.66L645.40,23.55L647.28,23.54Z" fill="#111" stroke="#111" stroke-width="0.15" stroke-linejoin="round"/>
<path d="M653.62,21.75L654.22,23.54L656.10,23.55L654.58,24.66L655.15,26.45L653.62,25.35L652.10,26.45L652.67,24.66L651.15,23.55L653.03,23.54Z" fill="#111" stroke="#111" stroke-width="0.15" stroke-linejoin="round"/>
<path d="M659.38,21.75L659.97,23.54L661.85,23.55L660.33,24.66L660.90,26.45L659.38,25.35L657.85,26.45L658.42,24.66L656.90,23.55L658.78,23.54Z" fill="#111" stroke="#111" stroke-width="0.15" stroke-linejoin="round"/>
<text transform="translate(495.5,87.5) rotate(-90)" font-size="11.8" text-anchor="middle" fill="#1a1a1a" textLength="75" lengthAdjust="spacingAndGlyphs" >O.D. (450 nm)</text>
<text transform="translate(540.6,150) rotate(-90)" font-size="11.8" text-anchor="end" fill="#1a1a1a" >Con</text>
<text transform="translate(561.35,150) rotate(-90)" font-size="11.8" text-anchor="end" fill="#1a1a1a" >Con EVs</text>
<text transform="translate(581.6,150) rotate(-90)" font-size="11.8" text-anchor="end" fill="#1a1a1a" >Scr miR EVs</text>
<text transform="translate(602.35,150) rotate(-90)" font-size="11.8" text-anchor="end" fill="#1a1a1a" >Anti-miR EVs</text>
<text transform="translate(623.35,150) rotate(-90)" font-size="11.8" text-anchor="end" fill="#1a1a1a" >Con EVs</text>
<text transform="translate(643.6,150) rotate(-90)" font-size="11.8" text-anchor="end" fill="#1a1a1a" >Scr miR EVs</text>
<text transform="translate(664.45,150) rotate(-90)" font-size="11.8" text-anchor="end" fill="#1a1a1a" >Anti-miR EVs</text>
<line x1="553" y1="227" x2="604" y2="227" stroke="#333" stroke-width="1.4" />
<line x1="615" y1="227" x2="666" y2="227" stroke="#333" stroke-width="1.4" />
<text x="577.5" y="240" font-size="12" text-anchor="middle" fill="#1a1a1a" >CV</text>
<text x="641.5" y="240" font-size="12" text-anchor="middle" fill="#1a1a1a" >aPC</text>
<text x="408.9" y="251" font-size="13.8" text-anchor="start" fill="#1a1a1a" >F</text>
<line x1="404.5" y1="259" x2="404.5" y2="368.9" stroke="#222" stroke-width="1.25" />
<line x1="403.9" y1="368.3" x2="560" y2="368.3" stroke="#222" stroke-width="1.25" />
<line x1="400.1" y1="368.3" x2="404.5" y2="368.3" stroke="#222" stroke-width="1.2" />
<text x="398.5" y="371.9" font-size="11.2" text-anchor="end" fill="#1a1a1a" >0</text>
<line x1="400.1" y1="341.12" x2="404.5" y2="341.12" stroke="#222" stroke-width="1.2" />
<text x="398.5" y="344.73" font-size="11.2" text-anchor="end" fill="#1a1a1a" >2</text>
<line x1="400.1" y1="313.95" x2="404.5" y2="313.95" stroke="#222" stroke-width="1.2" />
<text x="398.5" y="317.55" font-size="11.2" text-anchor="end" fill="#1a1a1a" >4</text>
<line x1="400.1" y1="286.78" x2="404.5" y2="286.78" stroke="#222" stroke-width="1.2" />
<text x="398.5" y="290.38" font-size="11.2" text-anchor="end" fill="#1a1a1a" >6</text>
<line x1="400.1" y1="259.6" x2="404.5" y2="259.6" stroke="#222" stroke-width="1.2" />
<text x="398.5" y="263.2" font-size="11.2" text-anchor="end" fill="#1a1a1a" >8</text>
<line x1="402" y1="362.87" x2="404.5" y2="362.87" stroke="#222" stroke-width="1.0" />
<line x1="402" y1="357.43" x2="404.5" y2="357.43" stroke="#222" stroke-width="1.0" />
<line x1="402" y1="352" x2="404.5" y2="352" stroke="#222" stroke-width="1.0" />
<line x1="402" y1="346.56" x2="404.5" y2="346.56" stroke="#222" stroke-width="1.0" />
<line x1="402" y1="335.69" x2="404.5" y2="335.69" stroke="#222" stroke-width="1.0" />
<line x1="402" y1="330.25" x2="404.5" y2="330.25" stroke="#222" stroke-width="1.0" />
<line x1="402" y1="324.82" x2="404.5" y2="324.82" stroke="#222" stroke-width="1.0" />
<line x1="402" y1="319.38" x2="404.5" y2="319.38" stroke="#222" stroke-width="1.0" />
<line x1="402" y1="308.52" x2="404.5" y2="308.52" stroke="#222" stroke-width="1.0" />
<line x1="402" y1="303.08" x2="404.5" y2="303.08" stroke="#222" stroke-width="1.0" />
<line x1="402" y1="297.64" x2="404.5" y2="297.64" stroke="#222" stroke-width="1.0" />
<line x1="402" y1="292.21" x2="404.5" y2="292.21" stroke="#222" stroke-width="1.0" />
<line x1="402" y1="281.34" x2="404.5" y2="281.34" stroke="#222" stroke-width="1.0" />
<line x1="402" y1="275.9" x2="404.5" y2="275.9" stroke="#222" stroke-width="1.0" />
<line x1="402" y1="270.47" x2="404.5" y2="270.47" stroke="#222" stroke-width="1.0" />
<line x1="402" y1="265.03" x2="404.5" y2="265.03" stroke="#222" stroke-width="1.0" />
<rect x="411.9" y="354.03" width="12.5" height="14.27" fill="#cfe4f5" stroke="#3f9fb0" stroke-width="1.2" />
<line x1="418.15" y1="350.64" x2="418.15" y2="354.03" stroke="#3f9fb0" stroke-width="1.2" />
<line x1="415.35" y1="350.64" x2="420.95" y2="350.64" stroke="#3f9fb0" stroke-width="1.2" />
<line x1="418.15" y1="354.03" x2="418.15" y2="357.43" stroke="#3f9fb0" stroke-width="1.2" />
<line x1="415.35" y1="357.43" x2="420.95" y2="357.43" stroke="#3f9fb0" stroke-width="1.2" />
<circle cx="415.15" cy="350.64" r="2.6" fill="rgba(255,255,255,0.35)" stroke="#3f9fb0" stroke-width="1.1"/>
<circle cx="418.15" cy="356.07" r="2.6" fill="rgba(255,255,255,0.35)" stroke="#3f9fb0" stroke-width="1.1"/>
<circle cx="421.65" cy="355.39" r="2.6" fill="rgba(255,255,255,0.35)" stroke="#3f9fb0" stroke-width="1.1"/>
<line x1="418.15" y1="368.3" x2="418.15" y2="372.3" stroke="#222" stroke-width="1.2" />
<rect x="433.1" y="350.64" width="12.6" height="17.66" fill="#f6dcc2" stroke="#f07a35" stroke-width="1.2" />
<line x1="439.4" y1="347.92" x2="439.4" y2="350.64" stroke="#f07a35" stroke-width="1.2" />
<line x1="436.6" y1="347.92" x2="442.2" y2="347.92" stroke="#f07a35" stroke-width="1.2" />
<line x1="439.4" y1="350.64" x2="439.4" y2="353.35" stroke="#f07a35" stroke-width="1.2" />
<line x1="436.6" y1="353.35" x2="442.2" y2="353.35" stroke="#f07a35" stroke-width="1.2" />
<circle cx="436.4" cy="351.32" r="2.6" fill="rgba(255,255,255,0.35)" stroke="#f07a35" stroke-width="1.1"/>
<circle cx="439.4" cy="347.24" r="2.6" fill="rgba(255,255,255,0.35)" stroke="#f07a35" stroke-width="1.1"/>
<circle cx="442.9" cy="349.96" r="2.6" fill="rgba(255,255,255,0.35)" stroke="#f07a35" stroke-width="1.1"/>
<line x1="439.4" y1="368.3" x2="439.4" y2="372.3" stroke="#222" stroke-width="1.2" />
<rect x="454.4" y="354.03" width="12.5" height="14.27" fill="#cff8cf" stroke="#35dd35" stroke-width="1.2" />
<line x1="460.65" y1="351.32" x2="460.65" y2="354.03" stroke="#35dd35" stroke-width="1.2" />
<line x1="457.85" y1="351.32" x2="463.45" y2="351.32" stroke="#35dd35" stroke-width="1.2" />
<line x1="460.65" y1="354.03" x2="460.65" y2="356.75" stroke="#35dd35" stroke-width="1.2" />
<line x1="457.85" y1="356.75" x2="463.45" y2="356.75" stroke="#35dd35" stroke-width="1.2" />
<circle cx="457.65" cy="354.71" r="2.6" fill="rgba(255,255,255,0.35)" stroke="#35dd35" stroke-width="1.1"/>
<circle cx="460.65" cy="350.64" r="2.6" fill="rgba(255,255,255,0.35)" stroke="#35dd35" stroke-width="1.1"/>
<circle cx="464.15" cy="354.03" r="2.6" fill="rgba(255,255,255,0.35)" stroke="#35dd35" stroke-width="1.1"/>
<line x1="460.65" y1="368.3" x2="460.65" y2="372.3" stroke="#222" stroke-width="1.2" />
<rect x="475.1" y="356.75" width="13.1" height="11.55" fill="#f7dddd" stroke="#f02e2e" stroke-width="1.2" />
<line x1="481.65" y1="354.71" x2="481.65" y2="356.75" stroke="#f02e2e" stroke-width="1.2" />
<line x1="478.85" y1="354.71" x2="484.45" y2="354.71" stroke="#f02e2e" stroke-width="1.2" />
<line x1="481.65" y1="356.75" x2="481.65" y2="358.79" stroke="#f02e2e" stroke-width="1.2" />
<line x1="478.85" y1="358.79" x2="484.45" y2="358.79" stroke="#f02e2e" stroke-width="1.2" />
<circle cx="478.65" cy="358.11" r="2.6" fill="rgba(255,255,255,0.35)" stroke="#f02e2e" stroke-width="1.1"/>
<circle cx="481.65" cy="354.03" r="2.6" fill="rgba(255,255,255,0.35)" stroke="#f02e2e" stroke-width="1.1"/>
<circle cx="485.15" cy="356.75" r="2.6" fill="rgba(255,255,255,0.35)" stroke="#f02e2e" stroke-width="1.1"/>
<line x1="481.65" y1="368.3" x2="481.65" y2="372.3" stroke="#222" stroke-width="1.2" />
<rect x="496.9" y="279.98" width="12" height="88.32" fill="#b9b9f9" stroke="#2525f2" stroke-width="1.2" />
<line x1="502.9" y1="272.51" x2="502.9" y2="279.98" stroke="#2525f2" stroke-width="1.2" />
<line x1="500.1" y1="272.51" x2="505.7" y2="272.51" stroke="#2525f2" stroke-width="1.2" />
<line x1="502.9" y1="279.98" x2="502.9" y2="287.45" stroke="#2525f2" stroke-width="1.2" />
<line x1="500.1" y1="287.45" x2="505.7" y2="287.45" stroke="#2525f2" stroke-width="1.2" />
<circle cx="502.9" cy="273.19" r="2.6" fill="rgba(255,255,255,0.35)" stroke="#2525f2" stroke-width="1.1"/>
<circle cx="502.9" cy="278.62" r="2.6" fill="rgba(255,255,255,0.35)" stroke="#2525f2" stroke-width="1.1"/>
<circle cx="502.9" cy="288.13" r="2.6" fill="rgba(255,255,255,0.35)" stroke="#2525f2" stroke-width="1.1"/>
<line x1="502.9" y1="368.3" x2="502.9" y2="372.3" stroke="#222" stroke-width="1.2" />
<rect x="517.6" y="277.26" width="12.3" height="91.04" fill="#d2f7d2" stroke="#2d7a2d" stroke-width="1.2" />
<line x1="523.75" y1="267.07" x2="523.75" y2="277.26" stroke="#2d7a2d" stroke-width="1.2" />
<line x1="520.95" y1="267.07" x2="526.55" y2="267.07" stroke="#2d7a2d" stroke-width="1.2" />
<line x1="523.75" y1="277.26" x2="523.75" y2="287.45" stroke="#2d7a2d" stroke-width="1.2" />
<line x1="520.95" y1="287.45" x2="526.55" y2="287.45" stroke="#2d7a2d" stroke-width="1.2" />
<circle cx="523.75" cy="266.39" r="2.6" fill="rgba(255,255,255,0.35)" stroke="#2d7a2d" stroke-width="1.1"/>
<circle cx="523.75" cy="278.62" r="2.6" fill="rgba(255,255,255,0.35)" stroke="#2d7a2d" stroke-width="1.1"/>
<circle cx="523.75" cy="286.78" r="2.6" fill="rgba(255,255,255,0.35)" stroke="#2d7a2d" stroke-width="1.1"/>
<line x1="523.75" y1="368.3" x2="523.75" y2="372.3" stroke="#222" stroke-width="1.2" />
<rect x="538.9" y="343.84" width="12.3" height="24.46" fill="#f5dcdc" stroke="#b02a2a" stroke-width="1.2" />
<line x1="545.05" y1="339.77" x2="545.05" y2="343.84" stroke="#b02a2a" stroke-width="1.2" />
<line x1="542.25" y1="339.77" x2="547.85" y2="339.77" stroke="#b02a2a" stroke-width="1.2" />
<line x1="545.05" y1="343.84" x2="545.05" y2="347.92" stroke="#b02a2a" stroke-width="1.2" />
<line x1="542.25" y1="347.92" x2="547.85" y2="347.92" stroke="#b02a2a" stroke-width="1.2" />
<circle cx="545.05" cy="338.41" r="2.6" fill="rgba(255,255,255,0.35)" stroke="#b02a2a" stroke-width="1.1"/>
<circle cx="542.05" cy="346.56" r="2.6" fill="rgba(255,255,255,0.35)" stroke="#b02a2a" stroke-width="1.1"/>
<circle cx="548.55" cy="344.52" r="2.6" fill="rgba(255,255,255,0.35)" stroke="#b02a2a" stroke-width="1.1"/>
<line x1="545.05" y1="368.3" x2="545.05" y2="372.3" stroke="#222" stroke-width="1.2" />
<line x1="419.3" y1="341.8" x2="481" y2="341.8" stroke="#3a3a3a" stroke-width="1.4" />
<text x="450.15" y="337.2" font-size="15" text-anchor="middle" fill="#1a1a1a" textLength="14.55" lengthAdjust="spacingAndGlyphs" >ns</text>
<line x1="439.5" y1="264" x2="503.8" y2="264" stroke="#3a3a3a" stroke-width="1.4" />
<path d="M463.02,254.75L463.61,256.54L465.50,256.55L463.97,257.66L464.55,259.45L463.02,258.35L461.50,259.45L462.07,257.66L460.55,256.55L462.44,256.54Z" fill="#111" stroke="#111" stroke-width="0.15" stroke-linejoin="round"/>
<path d="M468.77,254.75L469.36,256.54L471.25,256.55L469.72,257.66L470.30,259.45L468.77,258.35L467.25,259.45L467.82,257.66L466.30,256.55L468.19,256.54Z" fill="#111" stroke="#111" stroke-width="0.15" stroke-linejoin="round"/>
<path d="M474.52,254.75L475.11,256.54L477.00,256.55L475.47,257.66L476.05,259.45L474.52,258.35L473.00,259.45L473.57,257.66L472.05,256.55L473.94,256.54Z" fill="#111" stroke="#111" stroke-width="0.15" stroke-linejoin="round"/>
<path d="M480.27,254.75L480.86,256.54L482.75,256.55L481.22,257.66L481.80,259.45L480.27,258.35L478.75,259.45L479.32,257.66L477.80,256.55L479.69,256.54Z" fill="#111" stroke="#111" stroke-width="0.15" stroke-linejoin="round"/>
<line x1="502" y1="244.3" x2="523" y2="244.3" stroke="#3a3a3a" stroke-width="1.4" />
<text x="512.5" y="239.7" font-size="15" text-anchor="middle" fill="#1a1a1a" textLength="14.55" lengthAdjust="spacingAndGlyphs" >ns</text>
<line x1="524.5" y1="258" x2="546.3" y2="258" stroke="#3a3a3a" stroke-width="1.4" />
<path d="M526.77,248.75L527.37,250.54L529.25,250.55L527.73,251.66L528.30,253.45L526.77,252.35L525.25,253.45L525.82,251.66L524.30,250.55L526.18,250.54Z" fill="#111" stroke="#111" stroke-width="0.15" stroke-linejoin="round"/>
<path d="M532.52,248.75L533.12,250.54L535.00,250.55L533.48,251.66L534.05,253.45L532.52,252.35L531.00,253.45L531.57,251.66L530.05,250.55L531.93,250.54Z" fill="#111" stroke="#111" stroke-width="0.15" stroke-linejoin="round"/>
<path d="M538.27,248.75L538.87,250.54L540.75,250.55L539.23,251.66L539.80,253.45L538.27,252.35L536.75,253.45L537.32,251.66L535.80,250.55L537.68,250.54Z" fill="#111" stroke="#111" stroke-width="0.15" stroke-linejoin="round"/>
<path d="M544.02,248.75L544.62,250.54L546.50,250.55L544.98,251.66L545.55,253.45L544.02,252.35L542.50,253.45L543.07,251.66L541.55,250.55L543.43,250.54Z" fill="#111" stroke="#111" stroke-width="0.15" stroke-linejoin="round"/>
<text transform="translate(372.3,312.5) rotate(-90)" font-size="12" text-anchor="middle" fill="#1a1a1a" textLength="113" lengthAdjust="spacingAndGlyphs" >No. of Cells Migrated</text>
<text transform="translate(386.6,312.5) rotate(-90)" font-size="11.7" text-anchor="middle" fill="#1a1a1a" textLength="75" lengthAdjust="spacingAndGlyphs" >(Fold Change)</text>
<text transform="translate(422.35,375.1) rotate(-90)" font-size="11.9" text-anchor="end" fill="#1a1a1a" >Con</text>
<text transform="translate(443.6,375.1) rotate(-90)" font-size="11.9" text-anchor="end" fill="#1a1a1a" >Con EVs</text>
<text transform="translate(464.85,375.1) rotate(-90)" font-size="11.9" text-anchor="end" fill="#1a1a1a" >Scr miR EVs</text>
<text transform="translate(485.85,375.1) rotate(-90)" font-size="11.9" text-anchor="end" fill="#1a1a1a" >Anti-miR EVs</text>
<text transform="translate(507.1,375.1) rotate(-90)" font-size="11.9" text-anchor="end" fill="#1a1a1a" >Con EVs</text>
<text transform="translate(527.95,375.1) rotate(-90)" font-size="11.9" text-anchor="end" fill="#1a1a1a" >Scr miR EVs</text>
<text transform="translate(549.25,375.1) rotate(-90)" font-size="11.9" text-anchor="end" fill="#1a1a1a" >Anti-miR EVs</text>
<line x1="435.5" y1="452.5" x2="487" y2="452.5" stroke="#333" stroke-width="1.4" />
<line x1="498.3" y1="452.5" x2="550.5" y2="452.5" stroke="#333" stroke-width="1.4" />
<text x="461.2" y="466.8" font-size="12" text-anchor="middle" fill="#1a1a1a" >CV</text>
<text x="525.5" y="466.5" font-size="12" text-anchor="middle" fill="#1a1a1a" >aPC</text>
<text x="411.8" y="480.4" font-size="13.8" text-anchor="start" fill="#1a1a1a" >H</text>
<line x1="409.3" y1="489.4" x2="409.3" y2="591.9" stroke="#222" stroke-width="1.25" />
<line x1="408.7" y1="591.3" x2="554" y2="591.3" stroke="#222" stroke-width="1.25" />
<line x1="404.9" y1="591.3" x2="409.3" y2="591.3" stroke="#222" stroke-width="1.2" />
<text x="403.3" y="594.9" font-size="11.2" text-anchor="end" fill="#1a1a1a" >0</text>
<line x1="404.9" y1="562.36" x2="409.3" y2="562.36" stroke="#222" stroke-width="1.2" />
<text x="403.3" y="565.96" font-size="11.2" text-anchor="end" fill="#1a1a1a" >2</text>
<line x1="404.9" y1="533.41" x2="409.3" y2="533.41" stroke="#222" stroke-width="1.2" />
<text x="403.3" y="537.01" font-size="11.2" text-anchor="end" fill="#1a1a1a" >4</text>
<line x1="404.9" y1="504.47" x2="409.3" y2="504.47" stroke="#222" stroke-width="1.2" />
<text x="403.3" y="508.07" font-size="11.2" text-anchor="end" fill="#1a1a1a" >6</text>
<line x1="406.8" y1="585.51" x2="409.3" y2="585.51" stroke="#222" stroke-width="1.0" />
<line x1="406.8" y1="579.72" x2="409.3" y2="579.72" stroke="#222" stroke-width="1.0" />
<line x1="406.8" y1="573.93" x2="409.3" y2="573.93" stroke="#222" stroke-width="1.0" />
<line x1="406.8" y1="568.15" x2="409.3" y2="568.15" stroke="#222" stroke-width="1.0" />
<line x1="406.8" y1="556.57" x2="409.3" y2="556.57" stroke="#222" stroke-width="1.0" />
<line x1="406.8" y1="550.78" x2="409.3" y2="550.78" stroke="#222" stroke-width="1.0" />
<line x1="406.8" y1="544.99" x2="409.3" y2="544.99" stroke="#222" stroke-width="1.0" />
<line x1="406.8" y1="539.2" x2="409.3" y2="539.2" stroke="#222" stroke-width="1.0" />
<line x1="406.8" y1="527.63" x2="409.3" y2="527.63" stroke="#222" stroke-width="1.0" />
<line x1="406.8" y1="521.84" x2="409.3" y2="521.84" stroke="#222" stroke-width="1.0" />
<line x1="406.8" y1="516.05" x2="409.3" y2="516.05" stroke="#222" stroke-width="1.0" />
<line x1="406.8" y1="510.26" x2="409.3" y2="510.26" stroke="#222" stroke-width="1.0" />
<line x1="406.8" y1="498.68" x2="409.3" y2="498.68" stroke="#222" stroke-width="1.0" />
<line x1="406.8" y1="492.89" x2="409.3" y2="492.89" stroke="#222" stroke-width="1.0" />
<rect x="416.4" y="575.38" width="12.3" height="15.92" fill="#cfe4f5" stroke="#3f9fb0" stroke-width="1.2" />
<line x1="422.55" y1="571.76" x2="422.55" y2="575.38" stroke="#3f9fb0" stroke-width="1.2" />
<line x1="419.75" y1="571.76" x2="425.35" y2="571.76" stroke="#3f9fb0" stroke-width="1.2" />
<line x1="422.55" y1="575.38" x2="422.55" y2="579" stroke="#3f9fb0" stroke-width="1.2" />
<line x1="419.75" y1="579" x2="425.35" y2="579" stroke="#3f9fb0" stroke-width="1.2" />
<circle cx="419.55" cy="571.76" r="2.6" fill="rgba(255,255,255,0.35)" stroke="#3f9fb0" stroke-width="1.1"/>
<circle cx="422.55" cy="579" r="2.6" fill="rgba(255,255,255,0.35)" stroke="#3f9fb0" stroke-width="1.1"/>
<circle cx="426.05" cy="576.11" r="2.6" fill="rgba(255,255,255,0.35)" stroke="#3f9fb0" stroke-width="1.1"/>
<line x1="422.55" y1="591.3" x2="422.55" y2="595.3" stroke="#222" stroke-width="1.2" />
<rect x="436.1" y="575.38" width="12.3" height="15.92" fill="#f6dcc2" stroke="#f07a35" stroke-width="1.2" />
<line x1="442.25" y1="572.49" x2="442.25" y2="575.38" stroke="#f07a35" stroke-width="1.2" />
<line x1="439.45" y1="572.49" x2="445.05" y2="572.49" stroke="#f07a35" stroke-width="1.2" />
<line x1="442.25" y1="575.38" x2="442.25" y2="578.28" stroke="#f07a35" stroke-width="1.2" />
<line x1="439.45" y1="578.28" x2="445.05" y2="578.28" stroke="#f07a35" stroke-width="1.2" />
<circle cx="439.25" cy="573.21" r="2.6" fill="rgba(255,255,255,0.35)" stroke="#f07a35" stroke-width="1.1"/>
<circle cx="442.25" cy="578.28" r="2.6" fill="rgba(255,255,255,0.35)" stroke="#f07a35" stroke-width="1.1"/>
<circle cx="445.75" cy="575.38" r="2.6" fill="rgba(255,255,255,0.35)" stroke="#f07a35" stroke-width="1.1"/>
<line x1="442.25" y1="591.3" x2="442.25" y2="595.3" stroke="#222" stroke-width="1.2" />
<rect x="455.6" y="577.55" width="12.3" height="13.75" fill="#cff8cf" stroke="#35dd35" stroke-width="1.2" />
<line x1="461.75" y1="574.95" x2="461.75" y2="577.55" stroke="#35dd35" stroke-width="1.2" />
<line x1="458.95" y1="574.95" x2="464.55" y2="574.95" stroke="#35dd35" stroke-width="1.2" />
<line x1="461.75" y1="577.55" x2="461.75" y2="580.16" stroke="#35dd35" stroke-width="1.2" />
<line x1="458.95" y1="580.16" x2="464.55" y2="580.16" stroke="#35dd35" stroke-width="1.2" />
<circle cx="458.75" cy="579.72" r="2.6" fill="rgba(255,255,255,0.35)" stroke="#35dd35" stroke-width="1.1"/>
<circle cx="461.75" cy="574.66" r="2.6" fill="rgba(255,255,255,0.35)" stroke="#35dd35" stroke-width="1.1"/>
<circle cx="465.25" cy="577.55" r="2.6" fill="rgba(255,255,255,0.35)" stroke="#35dd35" stroke-width="1.1"/>
<line x1="461.75" y1="591.3" x2="461.75" y2="595.3" stroke="#222" stroke-width="1.2" />
<rect x="474.9" y="577.55" width="12" height="13.75" fill="#f7dddd" stroke="#f02e2e" stroke-width="1.2" />
<line x1="480.9" y1="575.38" x2="480.9" y2="577.55" stroke="#f02e2e" stroke-width="1.2" />
<line x1="478.1" y1="575.38" x2="483.7" y2="575.38" stroke="#f02e2e" stroke-width="1.2" />
<line x1="480.9" y1="577.55" x2="480.9" y2="579.72" stroke="#f02e2e" stroke-width="1.2" />
<line x1="478.1" y1="579.72" x2="483.7" y2="579.72" stroke="#f02e2e" stroke-width="1.2" />
<circle cx="477.9" cy="579" r="2.6" fill="rgba(255,255,255,0.35)" stroke="#f02e2e" stroke-width="1.1"/>
<circle cx="480.9" cy="575.38" r="2.6" fill="rgba(255,255,255,0.35)" stroke="#f02e2e" stroke-width="1.1"/>
<circle cx="484.4" cy="577.55" r="2.6" fill="rgba(255,255,255,0.35)" stroke="#f02e2e" stroke-width="1.1"/>
<line x1="480.9" y1="591.3" x2="480.9" y2="595.3" stroke="#222" stroke-width="1.2" />
<rect x="494.9" y="513.88" width="11.3" height="77.42" fill="#b9b9f9" stroke="#2525f2" stroke-width="1.2" />
<line x1="500.55" y1="501.58" x2="500.55" y2="513.88" stroke="#2525f2" stroke-width="1.2" />
<line x1="497.75" y1="501.58" x2="503.35" y2="501.58" stroke="#2525f2" stroke-width="1.2" />
<line x1="500.55" y1="513.88" x2="500.55" y2="526.18" stroke="#2525f2" stroke-width="1.2" />
<line x1="497.75" y1="526.18" x2="503.35" y2="526.18" stroke="#2525f2" stroke-width="1.2" />
<circle cx="497.55" cy="503.02" r="2.6" fill="rgba(255,255,255,0.35)" stroke="#2525f2" stroke-width="1.1"/>
<circle cx="504.05" cy="511.71" r="2.6" fill="rgba(255,255,255,0.35)" stroke="#2525f2" stroke-width="1.1"/>
<circle cx="500.55" cy="526.18" r="2.6" fill="rgba(255,255,255,0.35)" stroke="#2525f2" stroke-width="1.1"/>
<line x1="500.55" y1="591.3" x2="500.55" y2="595.3" stroke="#222" stroke-width="1.2" />
<rect x="514.9" y="511.71" width="11.3" height="79.59" fill="#d2f7d2" stroke="#2d7a2d" stroke-width="1.2" />
<line x1="520.55" y1="501.58" x2="520.55" y2="511.71" stroke="#2d7a2d" stroke-width="1.2" />
<line x1="517.75" y1="501.58" x2="523.35" y2="501.58" stroke="#2d7a2d" stroke-width="1.2" />
<line x1="520.55" y1="511.71" x2="520.55" y2="521.84" stroke="#2d7a2d" stroke-width="1.2" />
<line x1="517.75" y1="521.84" x2="523.35" y2="521.84" stroke="#2d7a2d" stroke-width="1.2" />
<circle cx="517.55" cy="503.02" r="2.6" fill="rgba(255,255,255,0.35)" stroke="#2d7a2d" stroke-width="1.1"/>
<circle cx="524.05" cy="507.37" r="2.6" fill="rgba(255,255,255,0.35)" stroke="#2d7a2d" stroke-width="1.1"/>
<circle cx="520.55" cy="523.28" r="2.6" fill="rgba(255,255,255,0.35)" stroke="#2d7a2d" stroke-width="1.1"/>
<line x1="520.55" y1="591.3" x2="520.55" y2="595.3" stroke="#222" stroke-width="1.2" />
<rect x="534.4" y="577.99" width="11.3" height="13.31" fill="#f5dcdc" stroke="#b02a2a" stroke-width="1.2" />
<line x1="540.05" y1="575.82" x2="540.05" y2="577.99" stroke="#b02a2a" stroke-width="1.2" />
<line x1="537.25" y1="575.82" x2="542.85" y2="575.82" stroke="#b02a2a" stroke-width="1.2" />
<line x1="540.05" y1="577.99" x2="540.05" y2="580.16" stroke="#b02a2a" stroke-width="1.2" />
<line x1="537.25" y1="580.16" x2="542.85" y2="580.16" stroke="#b02a2a" stroke-width="1.2" />
<circle cx="537.05" cy="579" r="2.6" fill="rgba(255,255,255,0.35)" stroke="#b02a2a" stroke-width="1.1"/>
<circle cx="540.05" cy="574.66" r="2.6" fill="rgba(255,255,255,0.35)" stroke="#b02a2a" stroke-width="1.1"/>
<circle cx="543.55" cy="577.55" r="2.6" fill="rgba(255,255,255,0.35)" stroke="#b02a2a" stroke-width="1.1"/>
<line x1="540.05" y1="591.3" x2="540.05" y2="595.3" stroke="#222" stroke-width="1.2" />
<line x1="422.5" y1="565.5" x2="480.5" y2="565.5" stroke="#3a3a3a" stroke-width="1.4" />
<text x="451.5" y="560.9" font-size="15" text-anchor="middle" fill="#1a1a1a" textLength="14.55" lengthAdjust="spacingAndGlyphs" >ns</text>
<line x1="442.5" y1="495" x2="501.3" y2="495" stroke="#3a3a3a" stroke-width="1.4" />
<path d="M463.27,485.75L463.86,487.54L465.75,487.55L464.22,488.66L464.80,490.45L463.27,489.35L461.75,490.45L462.32,488.66L460.80,487.55L462.69,487.54Z" fill="#111" stroke="#111" stroke-width="0.15" stroke-linejoin="round"/>
<path d="M469.02,485.75L469.61,487.54L471.50,487.55L469.97,488.66L470.55,490.45L469.02,489.35L467.50,490.45L468.07,488.66L466.55,487.55L468.44,487.54Z" fill="#111" stroke="#111" stroke-width="0.15" stroke-linejoin="round"/>
<path d="M474.77,485.75L475.36,487.54L477.25,487.55L475.72,488.66L476.30,490.45L474.77,489.35L473.25,490.45L473.82,488.66L472.30,487.55L474.19,487.54Z" fill="#111" stroke="#111" stroke-width="0.15" stroke-linejoin="round"/>
<path d="M480.52,485.75L481.11,487.54L483.00,487.55L481.47,488.66L482.05,490.45L480.52,489.35L479.00,490.45L479.57,488.66L478.05,487.55L479.94,487.54Z" fill="#111" stroke="#111" stroke-width="0.15" stroke-linejoin="round"/>
<line x1="500" y1="480.8" x2="519.5" y2="480.8" stroke="#3a3a3a" stroke-width="1.4" />
<text x="509.75" y="476.2" font-size="15" text-anchor="middle" fill="#1a1a1a" textLength="14.55" lengthAdjust="spacingAndGlyphs" >ns</text>
<line x1="520.5" y1="494.5" x2="540.5" y2="494.5" stroke="#3a3a3a" stroke-width="1.4" />
<path d="M521.88,485.25L522.47,487.04L524.35,487.05L522.83,488.16L523.40,489.95L521.88,488.85L520.35,489.95L520.92,488.16L519.40,487.05L521.28,487.04Z" fill="#111" stroke="#111" stroke-width="0.15" stroke-linejoin="round"/>
<path d="M527.62,485.25L528.22,487.04L530.10,487.05L528.58,488.16L529.15,489.95L527.62,488.85L526.10,489.95L526.67,488.16L525.15,487.05L527.03,487.04Z" fill="#111" stroke="#111" stroke-width="0.15" stroke-linejoin="round"/>
<path d="M533.38,485.25L533.97,487.04L535.85,487.05L534.33,488.16L534.90,489.95L533.38,488.85L531.85,489.95L532.42,488.16L530.90,487.05L532.78,487.04Z" fill="#111" stroke="#111" stroke-width="0.15" stroke-linejoin="round"/>
<path d="M539.12,485.25L539.72,487.04L541.60,487.05L540.08,488.16L540.65,489.95L539.12,488.85L537.60,489.95L538.17,488.16L536.65,487.05L538.53,487.04Z" fill="#111" stroke="#111" stroke-width="0.15" stroke-linejoin="round"/>
<text transform="translate(379.6,538.8) rotate(-90)" font-size="11.2" text-anchor="middle" fill="#1a1a1a" textLength="101" lengthAdjust="spacingAndGlyphs" >No. of Cells Invaded</text>
<text transform="translate(393.3,538.8) rotate(-90)" font-size="11.1" text-anchor="middle" fill="#1a1a1a" textLength="71" lengthAdjust="spacingAndGlyphs" >(Fold Change)</text>
<text transform="translate(426.75,597.6) rotate(-90)" font-size="11.0" text-anchor="end" fill="#1a1a1a" >Con</text>
<text transform="translate(446.45,597.6) rotate(-90)" font-size="11.0" text-anchor="end" fill="#1a1a1a" >Con EVs</text>
<text transform="translate(465.95,597.6) rotate(-90)" font-size="11.0" text-anchor="end" fill="#1a1a1a" >Scr miR EVs</text>
<text transform="translate(485.1,597.6) rotate(-90)" font-size="11.0" text-anchor="end" fill="#1a1a1a" >Anti-miR EVs</text>
<text transform="translate(504.75,597.6) rotate(-90)" font-size="11.0" text-anchor="end" fill="#1a1a1a" >Con EVs</text>
<text transform="translate(524.75,597.6) rotate(-90)" font-size="11.0" text-anchor="end" fill="#1a1a1a" >Scr miR EVs</text>
<text transform="translate(544.25,597.6) rotate(-90)" font-size="11.0" text-anchor="end" fill="#1a1a1a" >Anti-miR EVs</text>
<line x1="438" y1="669.5" x2="486.3" y2="669.5" stroke="#333" stroke-width="1.4" />
<line x1="496.8" y1="669.5" x2="545.5" y2="669.5" stroke="#333" stroke-width="1.4" />
<text x="461.8" y="683" font-size="12" text-anchor="middle" fill="#1a1a1a" >CV</text>
<text x="522" y="683" font-size="12" text-anchor="middle" fill="#1a1a1a" >aPC</text>
<text x="44.5" y="722.8" font-size="13.8" text-anchor="start" fill="#1a1a1a" >I</text>
<line x1="42.6" y1="732.6" x2="42.6" y2="835.7" stroke="#222" stroke-width="1.25" />
<line x1="42" y1="835.1" x2="234.3" y2="835.1" stroke="#222" stroke-width="1.25" />
<line x1="38.2" y1="835.1" x2="42.6" y2="835.1" stroke="#222" stroke-width="1.2" />
<text x="36.6" y="838.7" font-size="11.2" text-anchor="end" fill="#1a1a1a" >0</text>
<line x1="38.2" y1="814.72" x2="42.6" y2="814.72" stroke="#222" stroke-width="1.2" />
<text x="36.6" y="818.32" font-size="11.2" text-anchor="end" fill="#1a1a1a" >1</text>
<line x1="38.2" y1="794.34" x2="42.6" y2="794.34" stroke="#222" stroke-width="1.2" />
<text x="36.6" y="797.94" font-size="11.2" text-anchor="end" fill="#1a1a1a" >2</text>
<line x1="38.2" y1="773.96" x2="42.6" y2="773.96" stroke="#222" stroke-width="1.2" />
<text x="36.6" y="777.56" font-size="11.2" text-anchor="end" fill="#1a1a1a" >3</text>
<line x1="38.2" y1="753.58" x2="42.6" y2="753.58" stroke="#222" stroke-width="1.2" />
<text x="36.6" y="757.18" font-size="11.2" text-anchor="end" fill="#1a1a1a" >4</text>
<line x1="38.2" y1="733.2" x2="42.6" y2="733.2" stroke="#222" stroke-width="1.2" />
<text x="36.6" y="736.8" font-size="11.2" text-anchor="end" fill="#1a1a1a" >5</text>
<line x1="40.1" y1="831.02" x2="42.6" y2="831.02" stroke="#222" stroke-width="1.0" />
<line x1="40.1" y1="826.95" x2="42.6" y2="826.95" stroke="#222" stroke-width="1.0" />
<line x1="40.1" y1="822.87" x2="42.6" y2="822.87" stroke="#222" stroke-width="1.0" />
<line x1="40.1" y1="818.8" x2="42.6" y2="818.8" stroke="#222" stroke-width="1.0" />
<line x1="40.1" y1="810.64" x2="42.6" y2="810.64" stroke="#222" stroke-width="1.0" />
<line x1="40.1" y1="806.57" x2="42.6" y2="806.57" stroke="#222" stroke-width="1.0" />
<line x1="40.1" y1="802.49" x2="42.6" y2="802.49" stroke="#222" stroke-width="1.0" />
<line x1="40.1" y1="798.42" x2="42.6" y2="798.42" stroke="#222" stroke-width="1.0" />
<line x1="40.1" y1="790.26" x2="42.6" y2="790.26" stroke="#222" stroke-width="1.0" />
<line x1="40.1" y1="786.19" x2="42.6" y2="786.19" stroke="#222" stroke-width="1.0" />
<line x1="40.1" y1="782.11" x2="42.6" y2="782.11" stroke="#222" stroke-width="1.0" />
<line x1="40.1" y1="778.04" x2="42.6" y2="778.04" stroke="#222" stroke-width="1.0" />
<line x1="40.1" y1="769.88" x2="42.6" y2="769.88" stroke="#222" stroke-width="1.0" />
<line x1="40.1" y1="765.81" x2="42.6" y2="765.81" stroke="#222" stroke-width="1.0" />
<line x1="40.1" y1="761.73" x2="42.6" y2="761.73" stroke="#222" stroke-width="1.0" />
<line x1="40.1" y1="757.66" x2="42.6" y2="757.66" stroke="#222" stroke-width="1.0" />
<line x1="40.1" y1="749.5" x2="42.6" y2="749.5" stroke="#222" stroke-width="1.0" />
<line x1="40.1" y1="745.43" x2="42.6" y2="745.43" stroke="#222" stroke-width="1.0" />
<line x1="40.1" y1="741.35" x2="42.6" y2="741.35" stroke="#222" stroke-width="1.0" />
<line x1="40.1" y1="737.28" x2="42.6" y2="737.28" stroke="#222" stroke-width="1.0" />
<rect x="49.4" y="814.72" width="11.3" height="20.38" fill="#cfe4f5" stroke="#3f9fb0" stroke-width="1.2" />
<line x1="55.05" y1="810.64" x2="55.05" y2="814.72" stroke="#3f9fb0" stroke-width="1.2" />
<line x1="52.25" y1="810.64" x2="57.85" y2="810.64" stroke="#3f9fb0" stroke-width="1.2" />
<line x1="55.05" y1="814.72" x2="55.05" y2="818.8" stroke="#3f9fb0" stroke-width="1.2" />
<line x1="52.25" y1="818.8" x2="57.85" y2="818.8" stroke="#3f9fb0" stroke-width="1.2" />
<circle cx="52.05" cy="810.64" r="2.6" fill="rgba(255,255,255,0.35)" stroke="#3f9fb0" stroke-width="1.1"/>
<circle cx="58.55" cy="815.74" r="2.6" fill="rgba(255,255,255,0.35)" stroke="#3f9fb0" stroke-width="1.1"/>
<circle cx="55.05" cy="818.8" r="2.6" fill="rgba(255,255,255,0.35)" stroke="#3f9fb0" stroke-width="1.1"/>
<line x1="55.05" y1="835.1" x2="55.05" y2="839.1" stroke="#222" stroke-width="1.2" />
<rect x="68.1" y="764.79" width="10.8" height="70.31" fill="#c9dcf0" stroke="#2f6d85" stroke-width="1.2" />
<line x1="73.5" y1="757.66" x2="73.5" y2="764.79" stroke="#2f6d85" stroke-width="1.2" />
<line x1="70.7" y1="757.66" x2="76.3" y2="757.66" stroke="#2f6d85" stroke-width="1.2" />
<line x1="73.5" y1="764.79" x2="73.5" y2="771.92" stroke="#2f6d85" stroke-width="1.2" />
<line x1="70.7" y1="771.92" x2="76.3" y2="771.92" stroke="#2f6d85" stroke-width="1.2" />
<circle cx="73.5" cy="757.66" r="2.6" fill="rgba(255,255,255,0.35)" stroke="#2f6d85" stroke-width="1.1"/>
<circle cx="73.5" cy="765.81" r="2.6" fill="rgba(255,255,255,0.35)" stroke="#2f6d85" stroke-width="1.1"/>
<circle cx="73.5" cy="770.9" r="2.6" fill="rgba(255,255,255,0.35)" stroke="#2f6d85" stroke-width="1.1"/>
<line x1="73.5" y1="835.1" x2="73.5" y2="839.1" stroke="#222" stroke-width="1.2" />
<rect x="86.4" y="815.74" width="11" height="19.36" fill="#f6dcc2" stroke="#f07a35" stroke-width="1.2" />
<line x1="91.9" y1="811.66" x2="91.9" y2="815.74" stroke="#f07a35" stroke-width="1.2" />
<line x1="89.1" y1="811.66" x2="94.7" y2="811.66" stroke="#f07a35" stroke-width="1.2" />
<line x1="91.9" y1="815.74" x2="91.9" y2="819.82" stroke="#f07a35" stroke-width="1.2" />
<line x1="89.1" y1="819.82" x2="94.7" y2="819.82" stroke="#f07a35" stroke-width="1.2" />
<circle cx="88.9" cy="811.66" r="2.6" fill="rgba(255,255,255,0.35)" stroke="#f07a35" stroke-width="1.1"/>
<circle cx="95.4" cy="815.74" r="2.6" fill="rgba(255,255,255,0.35)" stroke="#f07a35" stroke-width="1.1"/>
<circle cx="91.9" cy="819.82" r="2.6" fill="rgba(255,255,255,0.35)" stroke="#f07a35" stroke-width="1.1"/>
<line x1="91.9" y1="835.1" x2="91.9" y2="839.1" stroke="#222" stroke-width="1.2" />
<rect x="105.1" y="766.83" width="10.8" height="68.27" fill="#f4d9bd" stroke="#c8772e" stroke-width="1.2" />
<line x1="110.5" y1="757.66" x2="110.5" y2="766.83" stroke="#c8772e" stroke-width="1.2" />
<line x1="107.7" y1="757.66" x2="113.3" y2="757.66" stroke="#c8772e" stroke-width="1.2" />
<line x1="110.5" y1="766.83" x2="110.5" y2="776" stroke="#c8772e" stroke-width="1.2" />
<line x1="107.7" y1="776" x2="113.3" y2="776" stroke="#c8772e" stroke-width="1.2" />
<circle cx="110.5" cy="757.66" r="2.6" fill="rgba(255,255,255,0.35)" stroke="#c8772e" stroke-width="1.1"/>
<circle cx="110.5" cy="767.85" r="2.6" fill="rgba(255,255,255,0.35)" stroke="#c8772e" stroke-width="1.1"/>
<circle cx="110.5" cy="772.94" r="2.6" fill="rgba(255,255,255,0.35)" stroke="#c8772e" stroke-width="1.1"/>
<line x1="110.5" y1="835.1" x2="110.5" y2="839.1" stroke="#222" stroke-width="1.2" />
<rect x="123.1" y="814.72" width="11.3" height="20.38" fill="#b9b9f9" stroke="#2525f2" stroke-width="1.2" />
<line x1="128.75" y1="810.24" x2="128.75" y2="814.72" stroke="#2525f2" stroke-width="1.2" />
<line x1="125.95" y1="810.24" x2="131.55" y2="810.24" stroke="#2525f2" stroke-width="1.2" />
<line x1="128.75" y1="814.72" x2="128.75" y2="819.2" stroke="#2525f2" stroke-width="1.2" />
<line x1="125.95" y1="819.2" x2="131.55" y2="819.2" stroke="#2525f2" stroke-width="1.2" />
<circle cx="128.75" cy="809.62" r="2.6" fill="rgba(255,255,255,0.35)" stroke="#2525f2" stroke-width="1.1"/>
<circle cx="125.75" cy="818.8" r="2.6" fill="rgba(255,255,255,0.35)" stroke="#2525f2" stroke-width="1.1"/>
<circle cx="132.25" cy="815.13" r="2.6" fill="rgba(255,255,255,0.35)" stroke="#2525f2" stroke-width="1.1"/>
<line x1="128.75" y1="835.1" x2="128.75" y2="839.1" stroke="#222" stroke-width="1.2" />
<rect x="141.4" y="811.66" width="11" height="23.44" fill="#b9b9f7" stroke="#3232c0" stroke-width="1.2" />
<line x1="146.9" y1="809.62" x2="146.9" y2="811.66" stroke="#3232c0" stroke-width="1.2" />
<line x1="144.1" y1="809.62" x2="149.7" y2="809.62" stroke="#3232c0" stroke-width="1.2" />
<line x1="146.9" y1="811.66" x2="146.9" y2="813.7" stroke="#3232c0" stroke-width="1.2" />
<line x1="144.1" y1="813.7" x2="149.7" y2="813.7" stroke="#3232c0" stroke-width="1.2" />
<circle cx="143.9" cy="812.68" r="2.6" fill="rgba(255,255,255,0.35)" stroke="#3232c0" stroke-width="1.1"/>
<circle cx="146.9" cy="809.62" r="2.6" fill="rgba(255,255,255,0.35)" stroke="#3232c0" stroke-width="1.1"/>
<circle cx="150.4" cy="811.66" r="2.6" fill="rgba(255,255,255,0.35)" stroke="#3232c0" stroke-width="1.1"/>
<line x1="146.9" y1="835.1" x2="146.9" y2="839.1" stroke="#222" stroke-width="1.2" />
<rect x="160.1" y="813.7" width="11.1" height="21.4" fill="#cff8cf" stroke="#35dd35" stroke-width="1.2" />
<line x1="165.65" y1="810.64" x2="165.65" y2="813.7" stroke="#35dd35" stroke-width="1.2" />
<line x1="162.85" y1="810.64" x2="168.45" y2="810.64" stroke="#35dd35" stroke-width="1.2" />
<line x1="165.65" y1="813.7" x2="165.65" y2="816.76" stroke="#35dd35" stroke-width="1.2" />
<line x1="162.85" y1="816.76" x2="168.45" y2="816.76" stroke="#35dd35" stroke-width="1.2" />
<circle cx="162.65" cy="810.64" r="2.6" fill="rgba(255,255,255,0.35)" stroke="#35dd35" stroke-width="1.1"/>
<circle cx="169.15" cy="813.7" r="2.6" fill="rgba(255,255,255,0.35)" stroke="#35dd35" stroke-width="1.1"/>
<circle cx="165.65" cy="816.76" r="2.6" fill="rgba(255,255,255,0.35)" stroke="#35dd35" stroke-width="1.1"/>
<line x1="165.65" y1="835.1" x2="165.65" y2="839.1" stroke="#222" stroke-width="1.2" />
<rect x="178.6" y="812.68" width="10.8" height="22.42" fill="#d2f7d2" stroke="#2d7a2d" stroke-width="1.2" />
<line x1="184" y1="807.59" x2="184" y2="812.68" stroke="#2d7a2d" stroke-width="1.2" />
<line x1="181.2" y1="807.59" x2="186.8" y2="807.59" stroke="#2d7a2d" stroke-width="1.2" />
<line x1="184" y1="812.68" x2="184" y2="817.78" stroke="#2d7a2d" stroke-width="1.2" />
<line x1="181.2" y1="817.78" x2="186.8" y2="817.78" stroke="#2d7a2d" stroke-width="1.2" />
<circle cx="181" cy="808.61" r="2.6" fill="rgba(255,255,255,0.35)" stroke="#2d7a2d" stroke-width="1.1"/>
<circle cx="187.5" cy="812.68" r="2.6" fill="rgba(255,255,255,0.35)" stroke="#2d7a2d" stroke-width="1.1"/>
<circle cx="184" cy="818.8" r="2.6" fill="rgba(255,255,255,0.35)" stroke="#2d7a2d" stroke-width="1.1"/>
<line x1="184" y1="835.1" x2="184" y2="839.1" stroke="#222" stroke-width="1.2" />
<rect x="196.9" y="813.7" width="11" height="21.4" fill="#f7dddd" stroke="#f02e2e" stroke-width="1.2" />
<line x1="202.4" y1="811.26" x2="202.4" y2="813.7" stroke="#f02e2e" stroke-width="1.2" />
<line x1="199.6" y1="811.26" x2="205.2" y2="811.26" stroke="#f02e2e" stroke-width="1.2" />
<line x1="202.4" y1="813.7" x2="202.4" y2="816.15" stroke="#f02e2e" stroke-width="1.2" />
<line x1="199.6" y1="816.15" x2="205.2" y2="816.15" stroke="#f02e2e" stroke-width="1.2" />
<circle cx="199.4" cy="812.68" r="2.6" fill="rgba(255,255,255,0.35)" stroke="#f02e2e" stroke-width="1.1"/>
<circle cx="202.4" cy="810.64" r="2.6" fill="rgba(255,255,255,0.35)" stroke="#f02e2e" stroke-width="1.1"/>
<circle cx="205.9" cy="815.74" r="2.6" fill="rgba(255,255,255,0.35)" stroke="#f02e2e" stroke-width="1.1"/>
<line x1="202.4" y1="835.1" x2="202.4" y2="839.1" stroke="#222" stroke-width="1.2" />
<rect x="215.6" y="779.06" width="10.8" height="56.04" fill="#f5dcdc" stroke="#b02a2a" stroke-width="1.2" />
<line x1="221" y1="776" x2="221" y2="779.06" stroke="#b02a2a" stroke-width="1.2" />
<line x1="218.2" y1="776" x2="223.8" y2="776" stroke="#b02a2a" stroke-width="1.2" />
<line x1="221" y1="779.06" x2="221" y2="782.11" stroke="#b02a2a" stroke-width="1.2" />
<line x1="218.2" y1="782.11" x2="223.8" y2="782.11" stroke="#b02a2a" stroke-width="1.2" />
<circle cx="218" cy="778.04" r="2.6" fill="rgba(255,255,255,0.35)" stroke="#b02a2a" stroke-width="1.1"/>
<circle cx="224" cy="779.06" r="2.6" fill="rgba(255,255,255,0.35)" stroke="#b02a2a" stroke-width="1.1"/>
<circle cx="221" cy="782.11" r="2.6" fill="rgba(255,255,255,0.35)" stroke="#b02a2a" stroke-width="1.1"/>
<line x1="221" y1="835.1" x2="221" y2="839.1" stroke="#222" stroke-width="1.2" />
<line x1="54.5" y1="748.5" x2="74.3" y2="748.5" stroke="#3a3a3a" stroke-width="1.4" />
<path d="M55.78,739.25L56.37,741.04L58.25,741.05L56.73,742.16L57.31,743.95L55.78,742.85L54.25,743.95L54.83,742.16L53.31,741.05L55.19,741.04Z" fill="#111" stroke="#111" stroke-width="0.15" stroke-linejoin="round"/>
<path d="M61.53,739.25L62.12,741.04L64.00,741.05L62.48,742.16L63.06,743.95L61.53,742.85L60.00,743.95L60.58,742.16L59.06,741.05L60.94,741.04Z" fill="#111" stroke="#111" stroke-width="0.15" stroke-linejoin="round"/>
<path d="M67.28,739.25L67.87,741.04L69.75,741.05L68.23,742.16L68.81,743.95L67.28,742.85L65.75,743.95L66.33,742.16L64.81,741.05L66.69,741.04Z" fill="#111" stroke="#111" stroke-width="0.15" stroke-linejoin="round"/>
<path d="M73.03,739.25L73.62,741.04L75.50,741.05L73.98,742.16L74.56,743.95L73.03,742.85L71.50,743.95L72.08,742.16L70.56,741.05L72.44,741.04Z" fill="#111" stroke="#111" stroke-width="0.15" stroke-linejoin="round"/>
<line x1="90.5" y1="748" x2="110.5" y2="748" stroke="#3a3a3a" stroke-width="1.4" />
<path d="M91.88,738.75L92.47,740.54L94.34,740.55L92.83,741.66L93.41,743.45L91.88,742.35L90.34,743.45L90.92,741.66L89.41,740.55L91.28,740.54Z" fill="#111" stroke="#111" stroke-width="0.15" stroke-linejoin="round"/>
<path d="M97.62,738.75L98.22,740.54L100.09,740.55L98.58,741.66L99.16,743.45L97.62,742.35L96.09,743.45L96.67,741.66L95.16,740.55L97.03,740.54Z" fill="#111" stroke="#111" stroke-width="0.15" stroke-linejoin="round"/>
<path d="M103.38,738.75L103.97,740.54L105.84,740.55L104.33,741.66L104.91,743.45L103.38,742.35L101.84,743.45L102.42,741.66L100.91,740.55L102.78,740.54Z" fill="#111" stroke="#111" stroke-width="0.15" stroke-linejoin="round"/>
<path d="M109.12,738.75L109.72,740.54L111.59,740.55L110.08,741.66L110.66,743.45L109.12,742.35L107.59,743.45L108.17,741.66L106.66,740.55L108.53,740.54Z" fill="#111" stroke="#111" stroke-width="0.15" stroke-linejoin="round"/>
<line x1="110" y1="733" x2="147" y2="733" stroke="#3a3a3a" stroke-width="1.4" />
<path d="M119.88,723.75L120.47,725.54L122.34,725.55L120.83,726.66L121.41,728.45L119.88,727.35L118.34,728.45L118.92,726.66L117.41,725.55L119.28,725.54Z" fill="#111" stroke="#111" stroke-width="0.15" stroke-linejoin="round"/>
<path d="M125.62,723.75L126.22,725.54L128.09,725.55L126.58,726.66L127.16,728.45L125.62,727.35L124.09,728.45L124.67,726.66L123.16,725.55L125.03,725.54Z" fill="#111" stroke="#111" stroke-width="0.15" stroke-linejoin="round"/>
<path d="M131.38,723.75L131.97,725.54L133.84,725.55L132.32,726.66L132.91,728.45L131.38,727.35L129.84,728.45L130.43,726.66L128.91,725.55L130.78,725.54Z" fill="#111" stroke="#111" stroke-width="0.15" stroke-linejoin="round"/>
<path d="M137.12,723.75L137.72,725.54L139.59,725.55L138.07,726.66L138.66,728.45L137.12,727.35L135.59,728.45L136.18,726.66L134.66,725.55L136.53,725.54Z" fill="#111" stroke="#111" stroke-width="0.15" stroke-linejoin="round"/>
<line x1="147" y1="799" x2="184.5" y2="799" stroke="#3a3a3a" stroke-width="1.4" />
<text x="165.75" y="794.4" font-size="15" text-anchor="middle" fill="#1a1a1a" textLength="14.55" lengthAdjust="spacingAndGlyphs" >ns</text>
<line x1="183.8" y1="767.8" x2="221.3" y2="767.8" stroke="#3a3a3a" stroke-width="1.4" />
<path d="M193.93,758.55L194.52,760.34L196.40,760.35L194.88,761.46L195.46,763.25L193.93,762.15L192.40,763.25L192.98,761.46L191.46,760.35L193.34,760.34Z" fill="#111" stroke="#111" stroke-width="0.15" stroke-linejoin="round"/>
<path d="M199.68,758.55L200.27,760.34L202.15,760.35L200.62,761.46L201.21,763.25L199.68,762.15L198.15,763.25L198.73,761.46L197.21,760.35L199.09,760.34Z" fill="#111" stroke="#111" stroke-width="0.15" stroke-linejoin="round"/>
<path d="M205.43,758.55L206.02,760.34L207.90,760.35L206.38,761.46L206.96,763.25L205.43,762.15L203.90,763.25L204.48,761.46L202.96,760.35L204.84,760.34Z" fill="#111" stroke="#111" stroke-width="0.15" stroke-linejoin="round"/>
<path d="M211.18,758.55L211.77,760.34L213.65,760.35L212.12,761.46L212.71,763.25L211.18,762.15L209.65,763.25L210.23,761.46L208.71,760.35L210.59,760.34Z" fill="#111" stroke="#111" stroke-width="0.15" stroke-linejoin="round"/>
<text transform="translate(12.9,782.3) rotate(-90)" font-size="11.4" text-anchor="middle" fill="#1a1a1a" textLength="102.5" lengthAdjust="spacingAndGlyphs" >Caspase 3/7 Activity</text>
<text transform="translate(25.3,782.3) rotate(-90)" font-size="11.1" text-anchor="middle" fill="#1a1a1a" textLength="71" lengthAdjust="spacingAndGlyphs" >(Fold Change)</text>
<text x="22" y="852.8" font-size="11.4" text-anchor="start" fill="#1a1a1a" >PTX</text>
<text x="55.05" y="852.5" font-size="11" text-anchor="middle" fill="#1a1a1a" >-</text>
<text x="73.5" y="852.5" font-size="11" text-anchor="middle" fill="#1a1a1a" >+</text>
<text x="91.9" y="852.5" font-size="11" text-anchor="middle" fill="#1a1a1a" >-</text>
<text x="110.5" y="852.5" font-size="11" text-anchor="middle" fill="#1a1a1a" >+</text>
<text x="128.75" y="852.5" font-size="11" text-anchor="middle" fill="#1a1a1a" >-</text>
<text x="146.9" y="852.5" font-size="11" text-anchor="middle" fill="#1a1a1a" >+</text>
<text x="165.65" y="852.5" font-size="11" text-anchor="middle" fill="#1a1a1a" >-</text>
<text x="184" y="852.5" font-size="11" text-anchor="middle" fill="#1a1a1a" >+</text>
<text x="202.4" y="852.5" font-size="11" text-anchor="middle" fill="#1a1a1a" >-</text>
<text x="221" y="852.5" font-size="11" text-anchor="middle" fill="#1a1a1a" >+</text>
<line x1="51.3" y1="860.3" x2="78.8" y2="860.3" stroke="#333" stroke-width="1.3" />
<line x1="87.5" y1="860.3" x2="115.5" y2="860.3" stroke="#333" stroke-width="1.3" />
<line x1="125" y1="860.3" x2="153" y2="860.3" stroke="#333" stroke-width="1.3" />
<line x1="162" y1="860.3" x2="190" y2="860.3" stroke="#333" stroke-width="1.3" />
<line x1="198.3" y1="860.3" x2="227" y2="860.3" stroke="#333" stroke-width="1.3" />
<text x="64.5" y="872.8" font-size="11.3" text-anchor="middle" fill="#1a1a1a" >Con</text>
<text x="101.3" y="872.8" font-size="11.3" text-anchor="middle" fill="#1a1a1a" >CV</text>
<text x="101.3" y="885.3" font-size="11.3" text-anchor="middle" fill="#1a1a1a" >EVs</text>
<text x="138.8" y="872.8" font-size="11.3" text-anchor="middle" fill="#1a1a1a" >aPC</text>
<text x="138.8" y="885.3" font-size="11.3" text-anchor="middle" fill="#1a1a1a" >EVs</text>
<text x="177.5" y="872.8" font-size="11.3" text-anchor="middle" fill="#1a1a1a" >Scr</text>
<text x="177.5" y="885.3" font-size="11.3" text-anchor="middle" fill="#1a1a1a" >miR</text>
<text x="177.5" y="897.8" font-size="11.3" text-anchor="middle" fill="#1a1a1a" >aPC</text>
<text x="177.5" y="910.3" font-size="11.3" text-anchor="middle" fill="#1a1a1a" >EVs</text>
<text x="213" y="872.8" font-size="11.3" text-anchor="middle" fill="#1a1a1a" >Anti-miR</text>
<text x="213" y="885.3" font-size="11.3" text-anchor="middle" fill="#1a1a1a" >aPC</text>
<text x="213" y="897.8" font-size="11.3" text-anchor="middle" fill="#1a1a1a" >EVs</text>
<text x="577.4" y="677.8" font-size="13.8" text-anchor="start" fill="#1a1a1a" >K</text>
<line x1="507.9" y1="697.7" x2="507.9" y2="794.3" stroke="#555" stroke-width="1.25" />
<line x1="507.3" y1="793.7" x2="684" y2="793.7" stroke="#555" stroke-width="1.25" />
<line x1="503.5" y1="793.7" x2="507.9" y2="793.7" stroke="#555" stroke-width="1.2" />
<text x="502.5" y="797.3" font-size="9.8" text-anchor="end" fill="#1a1a1a" >0</text>
<line x1="503.5" y1="769.85" x2="507.9" y2="769.85" stroke="#555" stroke-width="1.2" />
<text x="502.5" y="773.45" font-size="9.8" text-anchor="end" fill="#1a1a1a" >5</text>
<line x1="503.5" y1="746" x2="507.9" y2="746" stroke="#555" stroke-width="1.2" />
<text x="502.5" y="749.6" font-size="9.8" text-anchor="end" fill="#1a1a1a" >10</text>
<line x1="503.5" y1="722.15" x2="507.9" y2="722.15" stroke="#555" stroke-width="1.2" />
<text x="502.5" y="725.75" font-size="9.8" text-anchor="end" fill="#1a1a1a" >15</text>
<line x1="503.5" y1="698.3" x2="507.9" y2="698.3" stroke="#555" stroke-width="1.2" />
<text x="502.5" y="701.9" font-size="9.8" text-anchor="end" fill="#1a1a1a" >20</text>
<line x1="505.4" y1="788.93" x2="507.9" y2="788.93" stroke="#555" stroke-width="1.0" />
<line x1="505.4" y1="784.16" x2="507.9" y2="784.16" stroke="#555" stroke-width="1.0" />
<line x1="505.4" y1="779.39" x2="507.9" y2="779.39" stroke="#555" stroke-width="1.0" />
<line x1="505.4" y1="774.62" x2="507.9" y2="774.62" stroke="#555" stroke-width="1.0" />
<line x1="505.4" y1="765.08" x2="507.9" y2="765.08" stroke="#555" stroke-width="1.0" />
<line x1="505.4" y1="760.31" x2="507.9" y2="760.31" stroke="#555" stroke-width="1.0" />
<line x1="505.4" y1="755.54" x2="507.9" y2="755.54" stroke="#555" stroke-width="1.0" />
<line x1="505.4" y1="750.77" x2="507.9" y2="750.77" stroke="#555" stroke-width="1.0" />
<line x1="505.4" y1="741.23" x2="507.9" y2="741.23" stroke="#555" stroke-width="1.0" />
<line x1="505.4" y1="736.46" x2="507.9" y2="736.46" stroke="#555" stroke-width="1.0" />
<line x1="505.4" y1="731.69" x2="507.9" y2="731.69" stroke="#555" stroke-width="1.0" />
<line x1="505.4" y1="726.92" x2="507.9" y2="726.92" stroke="#555" stroke-width="1.0" />
<line x1="505.4" y1="717.38" x2="507.9" y2="717.38" stroke="#555" stroke-width="1.0" />
<line x1="505.4" y1="712.61" x2="507.9" y2="712.61" stroke="#555" stroke-width="1.0" />
<line x1="505.4" y1="707.84" x2="507.9" y2="707.84" stroke="#555" stroke-width="1.0" />
<line x1="505.4" y1="703.07" x2="507.9" y2="703.07" stroke="#555" stroke-width="1.0" />
<rect x="514.2" y="787.98" width="9.8" height="5.72" fill="#cfe4f5" stroke="#3f9fb0" stroke-width="1.2" />
<line x1="519.1" y1="787.02" x2="519.1" y2="787.98" stroke="#3f9fb0" stroke-width="1.2" />
<line x1="516.3" y1="787.02" x2="521.9" y2="787.02" stroke="#3f9fb0" stroke-width="1.2" />
<line x1="519.1" y1="787.98" x2="519.1" y2="788.93" stroke="#3f9fb0" stroke-width="1.2" />
<line x1="516.3" y1="788.93" x2="521.9" y2="788.93" stroke="#3f9fb0" stroke-width="1.2" />
<circle cx="516.1" cy="788.93" r="2.6" fill="rgba(255,255,255,0.35)" stroke="#3f9fb0" stroke-width="1.1"/>
<circle cx="519.1" cy="787.02" r="2.6" fill="rgba(255,255,255,0.35)" stroke="#3f9fb0" stroke-width="1.1"/>
<circle cx="522.1" cy="788.45" r="2.6" fill="rgba(255,255,255,0.35)" stroke="#3f9fb0" stroke-width="1.1"/>
<line x1="519.1" y1="793.7" x2="519.1" y2="797.7" stroke="#222" stroke-width="1.2" />
<rect x="531.3" y="722.15" width="9.7" height="71.55" fill="#c9dcf0" stroke="#2f6d85" stroke-width="1.2" />
<line x1="536.15" y1="714.52" x2="536.15" y2="722.15" stroke="#2f6d85" stroke-width="1.2" />
<line x1="533.35" y1="714.52" x2="538.95" y2="714.52" stroke="#2f6d85" stroke-width="1.2" />
<line x1="536.15" y1="722.15" x2="536.15" y2="729.78" stroke="#2f6d85" stroke-width="1.2" />
<line x1="533.35" y1="729.78" x2="538.95" y2="729.78" stroke="#2f6d85" stroke-width="1.2" />
<circle cx="533.15" cy="715.47" r="2.6" fill="rgba(255,255,255,0.35)" stroke="#2f6d85" stroke-width="1.1"/>
<circle cx="539.65" cy="719.29" r="2.6" fill="rgba(255,255,255,0.35)" stroke="#2f6d85" stroke-width="1.1"/>
<circle cx="536.15" cy="730.26" r="2.6" fill="rgba(255,255,255,0.35)" stroke="#2f6d85" stroke-width="1.1"/>
<line x1="536.15" y1="793.7" x2="536.15" y2="797.7" stroke="#222" stroke-width="1.2" />
<rect x="548.4" y="788.45" width="9.5" height="5.25" fill="#f6dcc2" stroke="#f07a35" stroke-width="1.2" />
<line x1="553.15" y1="787.5" x2="553.15" y2="788.45" stroke="#f07a35" stroke-width="1.2" />
<line x1="550.35" y1="787.5" x2="555.95" y2="787.5" stroke="#f07a35" stroke-width="1.2" />
<line x1="553.15" y1="788.45" x2="553.15" y2="789.41" stroke="#f07a35" stroke-width="1.2" />
<line x1="550.35" y1="789.41" x2="555.95" y2="789.41" stroke="#f07a35" stroke-width="1.2" />
<circle cx="550.15" cy="789.41" r="2.6" fill="rgba(255,255,255,0.35)" stroke="#f07a35" stroke-width="1.1"/>
<circle cx="553.15" cy="787.02" r="2.6" fill="rgba(255,255,255,0.35)" stroke="#f07a35" stroke-width="1.1"/>
<circle cx="556.15" cy="788.93" r="2.6" fill="rgba(255,255,255,0.35)" stroke="#f07a35" stroke-width="1.1"/>
<line x1="553.15" y1="793.7" x2="553.15" y2="797.7" stroke="#222" stroke-width="1.2" />
<rect x="564.6" y="721.2" width="10.1" height="72.5" fill="#f4d9bd" stroke="#c8772e" stroke-width="1.2" />
<line x1="569.65" y1="714.04" x2="569.65" y2="721.2" stroke="#c8772e" stroke-width="1.2" />
<line x1="566.85" y1="714.04" x2="572.45" y2="714.04" stroke="#c8772e" stroke-width="1.2" />
<line x1="569.65" y1="721.2" x2="569.65" y2="728.35" stroke="#c8772e" stroke-width="1.2" />
<line x1="566.85" y1="728.35" x2="572.45" y2="728.35" stroke="#c8772e" stroke-width="1.2" />
<circle cx="569.65" cy="714.04" r="2.6" fill="rgba(255,255,255,0.35)" stroke="#c8772e" stroke-width="1.1"/>
<circle cx="569.65" cy="721.2" r="2.6" fill="rgba(255,255,255,0.35)" stroke="#c8772e" stroke-width="1.1"/>
<circle cx="569.65" cy="728.35" r="2.6" fill="rgba(255,255,255,0.35)" stroke="#c8772e" stroke-width="1.1"/>
<line x1="569.65" y1="793.7" x2="569.65" y2="797.7" stroke="#222" stroke-width="1.2" />
<rect x="581.6" y="722.15" width="9.8" height="71.55" fill="#cff8cf" stroke="#35dd35" stroke-width="1.2" />
<line x1="586.5" y1="715" x2="586.5" y2="722.15" stroke="#35dd35" stroke-width="1.2" />
<line x1="583.7" y1="715" x2="589.3" y2="715" stroke="#35dd35" stroke-width="1.2" />
<line x1="586.5" y1="722.15" x2="586.5" y2="729.3" stroke="#35dd35" stroke-width="1.2" />
<line x1="583.7" y1="729.3" x2="589.3" y2="729.3" stroke="#35dd35" stroke-width="1.2" />
<circle cx="586.5" cy="715.47" r="2.6" fill="rgba(255,255,255,0.35)" stroke="#35dd35" stroke-width="1.1"/>
<circle cx="586.5" cy="721.67" r="2.6" fill="rgba(255,255,255,0.35)" stroke="#35dd35" stroke-width="1.1"/>
<circle cx="586.5" cy="730.74" r="2.6" fill="rgba(255,255,255,0.35)" stroke="#35dd35" stroke-width="1.1"/>
<line x1="586.5" y1="793.7" x2="586.5" y2="797.7" stroke="#222" stroke-width="1.2" />
<rect x="598.4" y="722.15" width="10" height="71.55" fill="#f7dddd" stroke="#f02e2e" stroke-width="1.2" />
<line x1="603.4" y1="714.04" x2="603.4" y2="722.15" stroke="#f02e2e" stroke-width="1.2" />
<line x1="600.6" y1="714.04" x2="606.2" y2="714.04" stroke="#f02e2e" stroke-width="1.2" />
<line x1="603.4" y1="722.15" x2="603.4" y2="730.26" stroke="#f02e2e" stroke-width="1.2" />
<line x1="600.6" y1="730.26" x2="606.2" y2="730.26" stroke="#f02e2e" stroke-width="1.2" />
<circle cx="603.4" cy="713.09" r="2.6" fill="rgba(255,255,255,0.35)" stroke="#f02e2e" stroke-width="1.1"/>
<circle cx="603.4" cy="722.15" r="2.6" fill="rgba(255,255,255,0.35)" stroke="#f02e2e" stroke-width="1.1"/>
<circle cx="603.4" cy="729.3" r="2.6" fill="rgba(255,255,255,0.35)" stroke="#f02e2e" stroke-width="1.1"/>
<line x1="603.4" y1="793.7" x2="603.4" y2="797.7" stroke="#222" stroke-width="1.2" />
<rect x="615.4" y="788.93" width="9.8" height="4.77" fill="#b9b9f9" stroke="#2525f2" stroke-width="1.2" />
<line x1="620.3" y1="787.98" x2="620.3" y2="788.93" stroke="#2525f2" stroke-width="1.2" />
<line x1="617.5" y1="787.98" x2="623.1" y2="787.98" stroke="#2525f2" stroke-width="1.2" />
<line x1="620.3" y1="788.93" x2="620.3" y2="789.88" stroke="#2525f2" stroke-width="1.2" />
<line x1="617.5" y1="789.88" x2="623.1" y2="789.88" stroke="#2525f2" stroke-width="1.2" />
<circle cx="617.3" cy="789.41" r="2.6" fill="rgba(255,255,255,0.35)" stroke="#2525f2" stroke-width="1.1"/>
<circle cx="620.3" cy="787.5" r="2.6" fill="rgba(255,255,255,0.35)" stroke="#2525f2" stroke-width="1.1"/>
<circle cx="623.3" cy="789.17" r="2.6" fill="rgba(255,255,255,0.35)" stroke="#2525f2" stroke-width="1.1"/>
<line x1="620.3" y1="793.7" x2="620.3" y2="797.7" stroke="#222" stroke-width="1.2" />
<rect x="632.1" y="783.68" width="10.1" height="10.02" fill="#b9b9f7" stroke="#3232c0" stroke-width="1.2" />
<line x1="637.15" y1="782.73" x2="637.15" y2="783.68" stroke="#3232c0" stroke-width="1.2" />
<line x1="634.35" y1="782.73" x2="639.95" y2="782.73" stroke="#3232c0" stroke-width="1.2" />
<line x1="637.15" y1="783.68" x2="637.15" y2="784.64" stroke="#3232c0" stroke-width="1.2" />
<line x1="634.35" y1="784.64" x2="639.95" y2="784.64" stroke="#3232c0" stroke-width="1.2" />
<circle cx="634.15" cy="783.21" r="2.6" fill="rgba(255,255,255,0.35)" stroke="#3232c0" stroke-width="1.1"/>
<circle cx="637.15" cy="784.16" r="2.6" fill="rgba(255,255,255,0.35)" stroke="#3232c0" stroke-width="1.1"/>
<circle cx="640.15" cy="783.68" r="2.6" fill="rgba(255,255,255,0.35)" stroke="#3232c0" stroke-width="1.1"/>
<line x1="637.15" y1="793.7" x2="637.15" y2="797.7" stroke="#222" stroke-width="1.2" />
<rect x="648.9" y="783.68" width="10" height="10.02" fill="#d2f7d2" stroke="#2d7a2d" stroke-width="1.2" />
<line x1="653.9" y1="782.25" x2="653.9" y2="783.68" stroke="#2d7a2d" stroke-width="1.2" />
<line x1="651.1" y1="782.25" x2="656.7" y2="782.25" stroke="#2d7a2d" stroke-width="1.2" />
<line x1="653.9" y1="783.68" x2="653.9" y2="785.11" stroke="#2d7a2d" stroke-width="1.2" />
<line x1="651.1" y1="785.11" x2="656.7" y2="785.11" stroke="#2d7a2d" stroke-width="1.2" />
<circle cx="650.9" cy="784.16" r="2.6" fill="rgba(255,255,255,0.35)" stroke="#2d7a2d" stroke-width="1.1"/>
<circle cx="653.9" cy="781.78" r="2.6" fill="rgba(255,255,255,0.35)" stroke="#2d7a2d" stroke-width="1.1"/>
<circle cx="656.9" cy="783.68" r="2.6" fill="rgba(255,255,255,0.35)" stroke="#2d7a2d" stroke-width="1.1"/>
<line x1="653.9" y1="793.7" x2="653.9" y2="797.7" stroke="#222" stroke-width="1.2" />
<rect x="665.9" y="749.82" width="10" height="43.88" fill="#f5dcdc" stroke="#b02a2a" stroke-width="1.2" />
<line x1="670.9" y1="745.05" x2="670.9" y2="749.82" stroke="#b02a2a" stroke-width="1.2" />
<line x1="668.1" y1="745.05" x2="673.7" y2="745.05" stroke="#b02a2a" stroke-width="1.2" />
<line x1="670.9" y1="749.82" x2="670.9" y2="754.59" stroke="#b02a2a" stroke-width="1.2" />
<line x1="668.1" y1="754.59" x2="673.7" y2="754.59" stroke="#b02a2a" stroke-width="1.2" />
<circle cx="670.9" cy="743.62" r="2.6" fill="rgba(255,255,255,0.35)" stroke="#b02a2a" stroke-width="1.1"/>
<circle cx="667.9" cy="750.77" r="2.6" fill="rgba(255,255,255,0.35)" stroke="#b02a2a" stroke-width="1.1"/>
<circle cx="673.9" cy="749.82" r="2.6" fill="rgba(255,255,255,0.35)" stroke="#b02a2a" stroke-width="1.1"/>
<line x1="670.9" y1="793.7" x2="670.9" y2="797.7" stroke="#222" stroke-width="1.2" />
<line x1="517" y1="708" x2="536.5" y2="708" stroke="#3a3a3a" stroke-width="1.4" />
<path d="M519.70,699.86L520.22,701.44L521.87,701.44L520.54,702.42L521.05,704.00L519.70,703.03L518.35,704.00L518.86,702.42L517.53,701.44L519.18,701.44Z" fill="#111" stroke="#111" stroke-width="0.15" stroke-linejoin="round"/>
<path d="M524.40,699.86L524.92,701.44L526.57,701.44L525.24,702.42L525.75,704.00L524.40,703.03L523.05,704.00L523.56,702.42L522.23,701.44L523.88,701.44Z" fill="#111" stroke="#111" stroke-width="0.15" stroke-linejoin="round"/>
<path d="M529.10,699.86L529.62,701.44L531.27,701.44L529.94,702.42L530.45,704.00L529.10,703.03L527.75,704.00L528.26,702.42L526.93,701.44L528.58,701.44Z" fill="#111" stroke="#111" stroke-width="0.15" stroke-linejoin="round"/>
<path d="M533.80,699.86L534.32,701.44L535.97,701.44L534.64,702.42L535.15,704.00L533.80,703.03L532.45,704.00L532.96,702.42L531.63,701.44L533.28,701.44Z" fill="#111" stroke="#111" stroke-width="0.15" stroke-linejoin="round"/>
<line x1="552.3" y1="706.3" x2="570.3" y2="706.3" stroke="#3a3a3a" stroke-width="1.4" />
<path d="M554.25,698.16L554.77,699.74L556.42,699.74L555.09,700.72L555.60,702.30L554.25,701.33L552.90,702.30L553.41,700.72L552.08,699.74L553.73,699.74Z" fill="#111" stroke="#111" stroke-width="0.15" stroke-linejoin="round"/>
<path d="M558.95,698.16L559.47,699.74L561.12,699.74L559.79,700.72L560.30,702.30L558.95,701.33L557.60,702.30L558.11,700.72L556.78,699.74L558.43,699.74Z" fill="#111" stroke="#111" stroke-width="0.15" stroke-linejoin="round"/>
<path d="M563.65,698.16L564.17,699.74L565.82,699.74L564.49,700.72L565.00,702.30L563.65,701.33L562.30,702.30L562.81,700.72L561.48,699.74L563.13,699.74Z" fill="#111" stroke="#111" stroke-width="0.15" stroke-linejoin="round"/>
<path d="M568.35,698.16L568.87,699.74L570.52,699.74L569.19,700.72L569.70,702.30L568.35,701.33L567.00,702.30L567.51,700.72L566.18,699.74L567.83,699.74Z" fill="#111" stroke="#111" stroke-width="0.15" stroke-linejoin="round"/>
<line x1="569.5" y1="693" x2="637.3" y2="693" stroke="#777" stroke-width="1.4" />
<path d="M596.35,684.86L596.87,686.44L598.52,686.44L597.19,687.42L597.70,689.00L596.35,688.03L595.00,689.00L595.51,687.42L594.18,686.44L595.83,686.44Z" fill="#111" stroke="#111" stroke-width="0.15" stroke-linejoin="round"/>
<path d="M601.05,684.86L601.57,686.44L603.22,686.44L601.89,687.42L602.40,689.00L601.05,688.03L599.70,689.00L600.21,687.42L598.88,686.44L600.53,686.44Z" fill="#111" stroke="#111" stroke-width="0.15" stroke-linejoin="round"/>
<path d="M605.75,684.86L606.27,686.44L607.92,686.44L606.59,687.42L607.10,689.00L605.75,688.03L604.40,689.00L604.91,687.42L603.58,686.44L605.23,686.44Z" fill="#111" stroke="#111" stroke-width="0.15" stroke-linejoin="round"/>
<path d="M610.45,684.86L610.97,686.44L612.62,686.44L611.29,687.42L611.80,689.00L610.45,688.03L609.10,689.00L609.61,687.42L608.28,686.44L609.93,686.44Z" fill="#111" stroke="#111" stroke-width="0.15" stroke-linejoin="round"/>
<line x1="654.5" y1="735.8" x2="671.5" y2="735.8" stroke="#777" stroke-width="1.4" />
<path d="M655.95,727.66L656.47,729.24L658.12,729.24L656.79,730.22L657.30,731.80L655.95,730.83L654.60,731.80L655.11,730.22L653.78,729.24L655.43,729.24Z" fill="#111" stroke="#111" stroke-width="0.15" stroke-linejoin="round"/>
<path d="M660.65,727.66L661.17,729.24L662.82,729.24L661.49,730.22L662.00,731.80L660.65,730.83L659.30,731.80L659.81,730.22L658.48,729.24L660.13,729.24Z" fill="#111" stroke="#111" stroke-width="0.15" stroke-linejoin="round"/>
<path d="M665.35,727.66L665.87,729.24L667.52,729.24L666.19,730.22L666.70,731.80L665.35,730.83L664.00,731.80L664.51,730.22L663.18,729.24L664.83,729.24Z" fill="#111" stroke="#111" stroke-width="0.15" stroke-linejoin="round"/>
<path d="M670.05,727.66L670.57,729.24L672.22,729.24L670.89,730.22L671.40,731.80L670.05,730.83L668.70,731.80L669.21,730.22L667.88,729.24L669.53,729.24Z" fill="#111" stroke="#111" stroke-width="0.15" stroke-linejoin="round"/>
<line x1="637" y1="775.5" x2="655.3" y2="775.5" stroke="#3a3a3a" stroke-width="1.4" />
<text x="646.15" y="770.9" font-size="14.5" text-anchor="middle" fill="#1a1a1a" textLength="14.06" lengthAdjust="spacingAndGlyphs" >ns</text>
<text transform="translate(486.3,744.5) rotate(-90)" font-size="10.5" text-anchor="middle" fill="#1a1a1a" textLength="115" lengthAdjust="spacingAndGlyphs" >Bax:Bcl-2 (Fold Change)</text>
<text x="488" y="813.4" font-size="10.6" text-anchor="start" fill="#1a1a1a" >PTX</text>
<text x="519.1" y="813.3" font-size="10.4" text-anchor="middle" fill="#1a1a1a" >-</text>
<text x="536.15" y="813.3" font-size="10.4" text-anchor="middle" fill="#1a1a1a" >+</text>
<text x="553.15" y="813.3" font-size="10.4" text-anchor="middle" fill="#1a1a1a" >-</text>
<text x="569.65" y="813.3" font-size="10.4" text-anchor="middle" fill="#1a1a1a" >+</text>
<text x="586.5" y="813.3" font-size="10.4" text-anchor="middle" fill="#1a1a1a" >+</text>
<text x="603.4" y="813.3" font-size="10.4" text-anchor="middle" fill="#1a1a1a" >+</text>
<text x="620.3" y="813.3" font-size="10.4" text-anchor="middle" fill="#1a1a1a" >-</text>
<text x="637.15" y="813.3" font-size="10.4" text-anchor="middle" fill="#1a1a1a" >+</text>
<text x="653.9" y="813.3" font-size="10.4" text-anchor="middle" fill="#1a1a1a" >+</text>
<text x="670.9" y="813.3" font-size="10.4" text-anchor="middle" fill="#1a1a1a" >+</text>
<line x1="514" y1="818" x2="539.8" y2="818" stroke="#555" stroke-width="1.3" />
<line x1="548.3" y1="818" x2="573.3" y2="818" stroke="#555" stroke-width="1.3" />
<line x1="581.4" y1="818" x2="591.9" y2="818" stroke="#555" stroke-width="1.3" />
<line x1="598.3" y1="818" x2="608.7" y2="818" stroke="#555" stroke-width="1.3" />
<line x1="617" y1="818" x2="642.1" y2="818" stroke="#555" stroke-width="1.8" />
<line x1="649.6" y1="818" x2="660" y2="818" stroke="#555" stroke-width="1.6" />
<line x1="666.2" y1="818" x2="677" y2="818" stroke="#555" stroke-width="1.3" />
<text transform="translate(530.3,821.5) rotate(-90)" font-size="10.5" text-anchor="end" fill="#1a1a1a" >Con</text>
<text transform="translate(564.1,821.5) rotate(-90)" font-size="10.5" text-anchor="end" fill="#1a1a1a" >CV EVs</text>
<text transform="translate(590.3,821.5) rotate(-90)" font-size="10.5" text-anchor="end" fill="#1a1a1a" >Scr miR CV EVs</text>
<text transform="translate(608.3,821.5) rotate(-90)" font-size="10.5" text-anchor="end" fill="#1a1a1a" >Anti-miR CV EVs</text>
<text transform="translate(634.1,821.5) rotate(-90)" font-size="10.5" text-anchor="end" fill="#1a1a1a" >aPC EVs</text>
<text transform="translate(659.1,821.5) rotate(-90)" font-size="10.5" text-anchor="end" fill="#1a1a1a" >Scr miR aPC EVs</text>
<text transform="translate(676.6,821.5) rotate(-90)" font-size="10.5" text-anchor="end" fill="#1a1a1a" >Anti-miR aPC EVs</text>
<text x="246.1" y="775.5" font-size="13.8" text-anchor="start" fill="#1a1a1a" >J</text>
<rect x="262.5" y="786.8" width="177" height="33.7" fill="#f9f9f9" stroke="#333" stroke-width="1.2" />
<rect x="262.5" y="823" width="177" height="33.8" fill="#f9f9f9" stroke="#333" stroke-width="1.2" />
<rect x="262.5" y="858.5" width="177" height="33.8" fill="#f1f1f1" stroke="#333" stroke-width="1.2" />
<g style="filter:blur(0.9px)">
<rect x="269.25" y="801.75" width="15.5" height="6.5" rx="3.25" fill="rgb(12,12,12)"/>
<rect x="287.91" y="802.77" width="12.79" height="4.45" rx="2.23" fill="rgb(167,167,167)"/>
<rect x="303.75" y="801.75" width="15.5" height="6.5" rx="3.25" fill="rgb(12,12,12)"/>
<rect x="322.51" y="802.7" width="12.98" height="4.6" rx="2.3" fill="rgb(156,156,156)"/>
<rect x="338.91" y="802.63" width="13.17" height="4.75" rx="2.37" fill="rgb(145,145,145)"/>
<rect x="356.51" y="802.7" width="12.98" height="4.6" rx="2.3" fill="rgb(156,156,156)"/>
<rect x="373.25" y="801.75" width="15.5" height="6.5" rx="3.25" fill="rgb(12,12,12)"/>
<rect x="390.25" y="801.75" width="15.5" height="6.5" rx="3.25" fill="rgb(12,12,12)"/>
<rect x="405.75" y="801.75" width="15.5" height="6.5" rx="3.25" fill="rgb(12,12,12)"/>
<rect x="423.02" y="802.34" width="13.95" height="5.33" rx="2.67" fill="rgb(100,100,100)"/>
<rect x="270.61" y="838.27" width="12.79" height="4.45" rx="2.23" fill="rgb(167,167,167)"/>
<rect x="286.55" y="837.25" width="15.5" height="6.5" rx="3.25" fill="rgb(12,12,12)"/>
<rect x="305.11" y="838.27" width="12.79" height="4.45" rx="2.23" fill="rgb(167,167,167)"/>
<rect x="321.25" y="837.25" width="15.5" height="6.5" rx="3.25" fill="rgb(12,12,12)"/>
<rect x="337.75" y="837.25" width="15.5" height="6.5" rx="3.25" fill="rgb(12,12,12)"/>
<rect x="355.25" y="837.25" width="15.5" height="6.5" rx="3.25" fill="rgb(12,12,12)"/>
<rect x="374.7" y="838.35" width="12.59" height="4.31" rx="2.15" fill="rgb(178,178,178)"/>
<rect x="391.61" y="838.27" width="12.79" height="4.45" rx="2.23" fill="rgb(167,167,167)"/>
<rect x="407.11" y="838.27" width="12.79" height="4.45" rx="2.23" fill="rgb(167,167,167)"/>
<rect x="422.25" y="837.25" width="15.5" height="6.5" rx="3.25" fill="rgb(12,12,12)"/>
<rect x="268.5" y="870.55" width="17" height="6.5" rx="3.25" fill="rgb(12,12,12)"/>
<rect x="285.8" y="874.05" width="17" height="6.5" rx="3.25" fill="rgb(12,12,12)"/>
<rect x="303" y="875.05" width="17" height="6.5" rx="3.25" fill="rgb(12,12,12)"/>
<rect x="320.5" y="875.35" width="17" height="6.5" rx="3.25" fill="rgb(12,12,12)"/>
<rect x="337" y="875.05" width="17" height="6.5" rx="3.25" fill="rgb(12,12,12)"/>
<rect x="354.5" y="874.75" width="17" height="6.5" rx="3.25" fill="rgb(12,12,12)"/>
<rect x="372.5" y="874.55" width="17" height="6.5" rx="3.25" fill="rgb(12,12,12)"/>
<rect x="389.5" y="874.55" width="17" height="6.5" rx="3.25" fill="rgb(12,12,12)"/>
<rect x="405" y="874.55" width="17" height="6.5" rx="3.25" fill="rgb(12,12,12)"/>
<rect x="421.5" y="874.75" width="17" height="6.5" rx="3.25" fill="rgb(12,12,12)"/>
</g>
<text x="443.8" y="809" font-size="11.6" text-anchor="start" fill="#1a1a1a" >Bcl2</text>
<text x="443.8" y="842.6" font-size="11.6" text-anchor="start" fill="#1a1a1a" >Bax</text>
<text x="443.8" y="882.2" font-size="11.6" text-anchor="start" fill="#1a1a1a" >GAPDH</text>
<text x="240.8" y="907.6" font-size="11.4" text-anchor="start" fill="#1a1a1a" >PTX</text>
<text x="277" y="907.4" font-size="11" text-anchor="middle" fill="#1a1a1a" >-</text>
<text x="294.3" y="907.4" font-size="11" text-anchor="middle" fill="#1a1a1a" >+</text>
<text x="311.5" y="907.4" font-size="11" text-anchor="middle" fill="#1a1a1a" >-</text>
<text x="329" y="907.4" font-size="11" text-anchor="middle" fill="#1a1a1a" >+</text>
<text x="345.5" y="907.4" font-size="11" text-anchor="middle" fill="#1a1a1a" >+</text>
<text x="363" y="907.4" font-size="11" text-anchor="middle" fill="#1a1a1a" >+</text>
<text x="381" y="907.4" font-size="11" text-anchor="middle" fill="#1a1a1a" >-</text>
<text x="398" y="907.4" font-size="11" text-anchor="middle" fill="#1a1a1a" >+</text>
<text x="413.5" y="907.4" font-size="11" text-anchor="middle" fill="#1a1a1a" >+</text>
<text x="430" y="907.4" font-size="11" text-anchor="middle" fill="#1a1a1a" >+</text>
<text transform="translate(286.1,774.8) rotate(-90)" font-size="11.5" text-anchor="start" fill="#1a1a1a" textLength="21" lengthAdjust="spacingAndGlyphs" >Con</text>
<text transform="translate(321.6,774.8) rotate(-90)" font-size="11.5" text-anchor="start" fill="#1a1a1a" textLength="37.5" lengthAdjust="spacingAndGlyphs" >CV EVs</text>
<text transform="translate(347.7,782) rotate(-90)" font-size="11.5" text-anchor="start" fill="#1a1a1a" textLength="83" lengthAdjust="spacingAndGlyphs" >Scr miR CV EVs</text>
<text transform="translate(366.8,782) rotate(-90)" font-size="11.5" text-anchor="start" fill="#1a1a1a" textLength="88.3" lengthAdjust="spacingAndGlyphs" >Anti-miR CV EVs</text>
<text transform="translate(391.4,774) rotate(-90)" font-size="11.5" text-anchor="start" fill="#1a1a1a" textLength="44" lengthAdjust="spacingAndGlyphs" >aPC EVs</text>
<text transform="translate(414.1,782) rotate(-90)" font-size="11.5" text-anchor="start" fill="#1a1a1a" textLength="90" lengthAdjust="spacingAndGlyphs" >Scr miR aPC EVs</text>
<text transform="translate(431.8,782) rotate(-90)" font-size="11.5" text-anchor="start" fill="#1a1a1a" textLength="95.6" lengthAdjust="spacingAndGlyphs" >Anti-miR aPC EVs</text>
<line x1="273.2" y1="779.6" x2="293.5" y2="779.6" stroke="#222" stroke-width="1.4" />
<line x1="307.3" y1="779.6" x2="327.7" y2="779.6" stroke="#222" stroke-width="1.4" />
<line x1="378" y1="779.6" x2="398.4" y2="779.6" stroke="#222" stroke-width="1.4" />
<line x1="277.5" y1="767.5" x2="277.5" y2="779.6" stroke="#222" stroke-width="1.1" />
<line x1="313.2" y1="767.5" x2="313.2" y2="779.6" stroke="#222" stroke-width="1.1" />
<line x1="381.6" y1="767.5" x2="381.6" y2="779.6" stroke="#222" stroke-width="1.1" />
<svg x="8.75" y="248.3" width="83.75" height="82.2" viewBox="8.75 248.3 83.75 82.2" overflow="hidden">
<rect x="8.75" y="248.3" width="83.75" height="82.2" fill="#f5f5f5" stroke="none" stroke-width="1" />
<path d="M46.6 294.3l0 0M58.6 280.9l0 0M42.3 317.9l0 0M48.1 328.9l0 0M34.8 249.5l0 0M68 249.2l0 0M43.9 279.8l0 0M12.3 260.3l0 0M10 278.6l0 0M66.3 280.2l0 0M44 322.7l0 0M71.5 254l0 0M16.5 259.7l0 0M58.2 324.2l0 0M10.5 300.6l0 0M81.1 295.4l0 0M82.4 308.2l0 0M87 305.4l0 0M88.9 257.6l0 0M71.9 276.5l0 0M50.5 268.1l0 0M64.5 264.6l0 0M78.3 279.7l0 0M65 307.2l0 0M16.1 325l0 0M37.9 255.1l0 0M66.3 323.6l0 0M21.2 290.8l0 0M53.8 251.9l0 0M86.7 286l0 0M37.2 322.4l0 0M52.7 257.2l0 0M35.7 277.5l0 0M19.9 255.5l0 0M16.9 316.7l0 0M11.9 293.6l0 0M72.8 275.2l0 0M79.5 263.2l0 0M35.9 255.3l0 0M71.1 312.3l0 0M73 311.2l0 0" stroke="#b0c0d0" stroke-width="0.8" stroke-linecap="round" fill="none" opacity="0.8"/>
<path d="M46.6 318.6l0 0M24.2 290.4l0 0M63.5 298.9l0 0M13.7 263.9l0 0M45.6 317.5l0 0M68 274.2l0 0M43.9 294.8l0 0M72.2 258l0 0M75.5 262.9l0 0M46.2 264l0 0M92.3 249.9l0 0M16.3 296.2l0 0M19.4 296.6l0 0M81.3 263.3l0 0M34.8 267.1l0 0M69.5 261.3l0 0M32.2 323.7l0 0M46.1 253.3l0 0M32.4 291.9l0 0M90.9 302.3l0 0M14.4 273.9l0 0M70.5 322.3l0 0M59.1 287.8l0 0M20.7 298.6l0 0M76.1 310.3l0 0M88.3 271.1l0 0M18.2 287l0 0M62.4 281.6l0 0M10.8 316.5l0 0M89 304.6l0 0M53.9 326.1l0 0M41.7 313.4l0 0M47.6 301.8l0 0M78.4 294.5l0 0M34.9 279.6l0 0M31.3 287.2l0 0M60.5 324.4l0 0M80.1 299.6l0 0M40.2 282.3l0 0M53.8 319.3l0 0M53.1 318.3l0 0M83.3 264.3l0 0M83.1 259.3l0 0M54.2 306.2l0 0M50.9 304.7l0 0M21 263.5l0 0M44.5 277.4l0 0M38.9 278.7l0 0" stroke="#9898d0" stroke-width="0.8" stroke-linecap="round" fill="none" opacity="0.8"/>
<path d="M16.6 273.2l0 0M53.9 321.5l0 0M60.9 316.7l0 0M62.4 289.4l0 0M47.1 271.2l0 0M51.7 250.7l0 0M14.3 249.7l0 0M26.6 324.5l0 0M74 270.5l0 0M41.8 318.5l0 0M78.3 280l0 0M59.3 282.9l0 0M33.3 262.7l0 0M19.3 287.7l0 0M85 305.9l0 0M15.9 287.2l0 0M81.7 282.6l0 0M40.5 249.3l0 0M45.6 317.2l0 0M78.9 318.1l0 0M56.5 273.7l0 0M74 313.8l0 0M77.7 269.3l0 0M72 292.3l0 0M19.6 285.6l0 0M17 319.5l0 0M26.6 322.3l0 0M30.7 307.3l0 0M49.6 250.6l0 0M88 288.8l0 0M56.7 264.8l0 0M50.9 298l0 0M54.3 329.6l0 0M49.9 305.1l0 0M67.6 328.6l0 0M17.5 308.4l0 0M67.5 320.5l0 0M42.5 304.6l0 0M85.1 327.9l0 0M76 287.9l0 0M86.4 256.1l0 0M20 304.3l0 0M59.1 249.4l0 0M59.4 256.1l0 0M76.2 269.5l0 0M91.7 322.5l0 0" stroke="#a8a8c8" stroke-width="0.8" stroke-linecap="round" fill="none" opacity="0.8"/>
<path d="M59 312.3l0 0M44 265.8l0 0M81.1 328.4l0 0M30.4 311.8l0 0M17.9 290.4l0 0M28.7 306.2l0 0M92.4 254.5l0 0M75.2 323.5l0 0M15.5 300.9l0 0M52.2 290.6l0 0M30.2 249.2l0 0M82.5 279.9l0 0M26.3 259.4l0 0M35.6 316.4l0 0M81.8 251.7l0 0M46.1 300.1l0 0M23.7 270.7l0 0M40.3 295.1l0 0M90.6 292.4l0 0M37.4 282.9l0 0M44.7 251.2l0 0M72.2 284.4l0 0M52.5 317.6l0 0M34.2 259.9l0 0M25 267l0 0M28.2 309.2l0 0M84.3 274.3l0 0M16.8 295.1l0 0M67.8 300.5l0 0M23.2 261.3l0 0M56.5 264l0 0M19.9 275.4l0 0M26.1 263.5l0 0M34 256.6l0 0M28.2 326l0 0" stroke="#c0b8dc" stroke-width="0.8" stroke-linecap="round" fill="none" opacity="0.8"/>
<path d="M37 302.5l-0 0.8M31.5 304.6l0.2 0.3M82.5 271.4l0.4 0.2M63.3 314.4l-0.1 0.5M21.9 274.8l-0.7 0.7" stroke="#8030e0" stroke-width="2.0" stroke-linecap="round" fill="none" opacity="0.95"/>
<path d="M10.7 298.9l-0 1.5" stroke="#ee5cf2" stroke-width="2.5" stroke-linecap="round" fill="none" opacity="0.95"/>
<path d="M10.7 298.9l-0.8 0.8M10.7 298.9l-0 2.8M12.6 310.5l2.2 -0.6" stroke="#ee5cf2" stroke-width="1.1" stroke-linecap="round" fill="none" opacity="0.9"/>
<path d="M56.3 330.1l-1 1.6M41.4 322.1l-0.4 0.5M50.8 302l0.5 0M41.4 291.8l-0.4 0.5" stroke="#e33fee" stroke-width="2.5" stroke-linecap="round" fill="none" opacity="0.95"/>
<path d="M56.3 330.1l1.2 -0.6M27.1 302.3l1.6 -1M27.1 302.3l0.5 -1.5" stroke="#e33fee" stroke-width="1.1" stroke-linecap="round" fill="none" opacity="0.9"/>
<path d="M13.1 291.7l0.2 0.9M54.9 300.2l0.4 0.7M15.8 300.4l0.9 0.8M43.7 323.7l-0.1 0.8M88 327.5l0.4 0.6" stroke="#cc34dc" stroke-width="2.0" stroke-linecap="round" fill="none" opacity="0.95"/>
<path d="M13.1 291.7l-1.6 -0.9M13.1 291.7l0.4 -2M15.8 300.4l-1 1.6M15.8 300.4l-1.5 2.1M63.8 267.8l-1 -0.8M88 327.5l1 0.5M88 327.5l1.5 1.8" stroke="#cc34dc" stroke-width="1.1" stroke-linecap="round" fill="none" opacity="0.9"/>
<path d="M26.6 283.2l-0.7 1.4" stroke="#d838e6" stroke-width="2.0" stroke-linecap="round" fill="none" opacity="0.95"/>
<path d="M26.6 283.2l-0.6 2.4M11.8 257.2l0.2 1.4M11.8 257.2l-0.3 1.3M18.2 311.7l-0 -2.9M18.2 311.7l0.1 -2.1" stroke="#d838e6" stroke-width="1.1" stroke-linecap="round" fill="none" opacity="0.9"/>
<path d="M27.1 302.3l0.2 0.9" stroke="#e33fee" stroke-width="2.0" stroke-linecap="round" fill="none" opacity="0.95"/>
<path d="M63.3 314.4l-0.2 -2.8M83.1 323.5l2.8 0.9M21.9 274.8l-1.3 -0.3M21.9 274.8l0.1 -1" stroke="#8030e0" stroke-width="1.1" stroke-linecap="round" fill="none" opacity="0.9"/>
<path d="M12.6 310.5l-1.6 1.1" stroke="#ee5cf2" stroke-width="3.0" stroke-linecap="round" fill="none" opacity="0.95"/>
<path d="M44.1 282.9l0.2 0.4M18.2 311.7l1.3 0.7" stroke="#d838e6" stroke-width="3.0" stroke-linecap="round" fill="none" opacity="0.95"/>
<path d="M11.8 257.2l-0.3 0.9" stroke="#d838e6" stroke-width="2.5" stroke-linecap="round" fill="none" opacity="0.95"/>
<path d="M83.1 323.5l1.7 0.5M16.9 287.8l-0 0" stroke="#8030e0" stroke-width="2.5" stroke-linecap="round" fill="none" opacity="0.95"/>
<path d="M63.8 267.8l0.1 0.6" stroke="#cc34dc" stroke-width="3.0" stroke-linecap="round" fill="none" opacity="0.95"/>
<path d="M16 263.8l-0.8 -0.4" stroke="#2a1a80" stroke-width="2.2" stroke-linecap="round" fill="none" opacity="0.95"/>
</svg>
<rect x="8.75" y="248.3" width="83.75" height="82.2" fill="none" stroke="#3a3a3a" stroke-width="1.2" />
<svg x="95" y="248.3" width="82" height="82.2" viewBox="95 248.3 82 82.2" overflow="hidden">
<rect x="95" y="248.3" width="82" height="82.2" fill="#fbfbfb" stroke="none" stroke-width="1" />
<path d="M133.9 302.3l0 0M106.7 249.2l0 0M174.3 328.6l0 0M152.1 251.3l0 0M137.1 278.6l0 0M172.7 323.6l0 0M115.3 257.8l0 0M171.1 320.8l0 0M168.3 261.6l0 0M145.6 252.1l0 0M152.8 265.9l0 0M151.9 259.1l0 0M133.7 253.1l0 0M168.9 313.2l0 0M142.6 254.2l0 0M151.3 307.5l0 0M95.6 277.9l0 0M164.6 304.9l0 0M113.1 323.8l0 0M174.7 293.8l0 0M123.7 308.5l0 0M158.6 321.9l0 0M115.7 252.1l0 0M118.4 325.3l0 0M126.9 320.1l0 0M128.8 299.1l0 0M108.9 265.2l0 0M166.2 302l0 0M156.4 319l0 0M108.4 307.1l0 0M171 329l0 0M160.7 289.8l0 0M140 327.4l0 0M146.6 286.2l0 0M129.7 292.9l0 0M160.6 280.4l0 0M173.1 329.4l0 0M154.9 316.2l0 0M123.1 321.4l0 0M100.3 276.4l0 0M109.2 293.4l0 0M126 273.8l0 0M172.1 299.3l0 0M165.4 260l0 0M163.5 291.5l0 0M136.1 302.7l0 0M101.1 303.4l0 0M126.2 291.8l0 0M171.4 291.7l0 0M139.6 317.9l0 0M129 259.9l0 0M160.3 291.7l0 0M166.3 301.7l0 0" stroke="#c0b8dc" stroke-width="0.8" stroke-linecap="round" fill="none" opacity="0.8"/>
<path d="M134.6 301.2l0 0M149.2 260.2l0 0M137.1 315.6l0 0M102.5 329.4l0 0M136.6 255.2l0 0M149.8 286.9l0 0M124.2 278.1l0 0M97.3 315.9l0 0M97.7 250.4l0 0M118.1 287.4l0 0M114.7 329.6l0 0M147.4 267.2l0 0M135.2 277.4l0 0M172.4 290.6l0 0M129.5 268.1l0 0M175.4 300.7l0 0M169.7 292.3l0 0M120.6 325.1l0 0M146 258.6l0 0M152.1 310.7l0 0M125 250.7l0 0M163.2 267l0 0M164.1 298.3l0 0M122.9 311.5l0 0M133.3 300.4l0 0M173.4 304.4l0 0M123.6 267.3l0 0M143.6 296.6l0 0M106.7 258.4l0 0M111.2 258.4l0 0M122.9 279.7l0 0M145.2 258.7l0 0M156.1 269l0 0M176.2 258.1l0 0M169.4 323.6l0 0M122.3 302.4l0 0M150.2 262.4l0 0M147.2 296.8l0 0M171.8 280.5l0 0M114.6 291.5l0 0M127 327.8l0 0M107.4 317.1l0 0M142.3 263l0 0M108 258.3l0 0M116.4 292.2l0 0M130.7 250.1l0 0M101.4 323.9l0 0M141.1 317.5l0 0M176.2 266.4l0 0M118 290.6l0 0" stroke="#b0c0d0" stroke-width="0.8" stroke-linecap="round" fill="none" opacity="0.8"/>
<path d="M151.6 297.7l0 0M99.8 315.6l0 0M160.4 255.5l0 0M139.4 301l0 0M98.6 265.1l0 0M156.8 266.4l0 0M135.9 297.8l0 0M157.8 266.4l0 0M109.7 313.6l0 0M176.9 289.7l0 0M137.7 250.6l0 0M157.4 282.6l0 0M169.1 313.9l0 0M146.1 288.2l0 0M132.7 312.9l0 0M137.8 284.5l0 0M107.2 269.6l0 0M104 270.3l0 0M139.8 250.1l0 0M164.9 321.7l0 0M135.3 318.6l0 0M101.9 252.9l0 0M171.5 250.8l0 0M144.2 303.3l0 0M98.5 275.3l0 0M108.4 288.2l0 0M110.4 270.8l0 0M124.1 273.5l0 0M128.9 252.6l0 0M137 273.6l0 0M174.1 295l0 0M126.5 317.5l0 0M138 312.2l0 0M151.8 276.8l0 0" stroke="#a8a8c8" stroke-width="0.8" stroke-linecap="round" fill="none" opacity="0.8"/>
<path d="M125.1 276.2l0 0M162.2 302.7l0 0M104.2 283.1l0 0M139.2 320.8l0 0M175 321.1l0 0M150.2 257.7l0 0M122.5 278.8l0 0M170.8 278.2l0 0M141.2 249.7l0 0M160 306.7l0 0M121.5 304.6l0 0M149.7 276.4l0 0M167.5 256.3l0 0M108.3 286.5l0 0M109 287.5l0 0M126.5 281.1l0 0M175.4 323.5l0 0M165.4 273.9l0 0M98.5 314.9l0 0M124.9 289.3l0 0M131.8 291.7l0 0M153.6 271.2l0 0M156.8 317.3l0 0M100.8 299.6l0 0M113.7 253.8l0 0M156 273.8l0 0M126.9 270.7l0 0M132.1 292l0 0M171.5 260.3l0 0M159.4 258.6l0 0M157.8 293.6l0 0M103.9 299l0 0M162.7 257.7l0 0" stroke="#9898d0" stroke-width="0.8" stroke-linecap="round" fill="none" opacity="0.8"/>
<path d="M100.3 260.7l1.4 0.9M170.3 268l-0.2 0.3M108.7 275l0.9 0.1M117.3 326.2l0 0.1" stroke="#7a30e8" stroke-width="2.5" stroke-linecap="round" fill="none" opacity="0.95"/>
<path d="M100.3 260.7l1.4 -0.2M166.5 299.4l1.7 2.1M102.2 327.1l-0.8 1.3M102.2 327.1l1.4 0.4M108.7 275l-0.1 -1.3M117.3 326.2l1 1M117.3 326.2l-2.5 1.1" stroke="#7a30e8" stroke-width="1.1" stroke-linecap="round" fill="none" opacity="0.9"/>
<path d="M128 302.6l0.1 0.6M162.6 310l-0.3 0.3M125.7 276l0 0.4" stroke="#ee5cf2" stroke-width="2.5" stroke-linecap="round" fill="none" opacity="0.95"/>
<path d="M171.4 277.5l0 0.7M101.5 270.2l-0.1 0.1" stroke="#ee5cf2" stroke-width="2.0" stroke-linecap="round" fill="none" opacity="0.95"/>
<path d="M171.4 277.5l1.6 0.4M101.5 270.2l-1.6 -1M101.5 270.2l0.3 -1.1M103.7 270.8l-0.7 1" stroke="#ee5cf2" stroke-width="1.1" stroke-linecap="round" fill="none" opacity="0.9"/>
<path d="M166.5 299.4l1.2 1.7M148.4 306.6l-0.1 1.9" stroke="#7a30e8" stroke-width="3.0" stroke-linecap="round" fill="none" opacity="0.95"/>
<path d="M102.2 327.1l0.3 1.3" stroke="#7a30e8" stroke-width="2.0" stroke-linecap="round" fill="none" opacity="0.95"/>
<path d="M145.9 316.2l-0.3 0.2M150.2 286.8l-1.7 0.1M169.9 318.8l-0.6 0.9M173 261.9l-0.6 0.3" stroke="#cc34dc" stroke-width="2.5" stroke-linecap="round" fill="none" opacity="0.95"/>
<path d="M150.2 286.8l1.6 1.8M150.2 286.8l-2.4 -0.5M175.8 257.7l2.4 -0.2M137.4 284l-1.4 -1.9M137.4 284l1.3 1.6M127.8 261.3l1.9 -1.7M101.5 275.4l-0.5 0.9M106.2 262.9l-1.2 0.4" stroke="#cc34dc" stroke-width="1.1" stroke-linecap="round" fill="none" opacity="0.9"/>
<path d="M175.8 257.7l0.1 0.1M152.5 316l0.4 0.4M101.5 275.4l0.1 0.6M106.2 262.9l1.1 0.4" stroke="#cc34dc" stroke-width="2.0" stroke-linecap="round" fill="none" opacity="0.95"/>
<path d="M137.4 284l1.7 1M127.8 261.3l-1.1 1.8" stroke="#cc34dc" stroke-width="3.0" stroke-linecap="round" fill="none" opacity="0.95"/>
<path d="M171.1 328l-0.1 1.4" stroke="#d838e6" stroke-width="3.0" stroke-linecap="round" fill="none" opacity="0.95"/>
<path d="M171.1 328l1 -1.2M171.1 328l1.2 0.6M126.7 253.8l-0.6 1.5M154.7 252.2l2.8 -0.4M154.7 252.2l0.6 -1.7M122.6 267.7l2.2 -0.2M122.6 267.7l2.7 0.2M118.8 252.5l0.7 2.8" stroke="#d838e6" stroke-width="1.1" stroke-linecap="round" fill="none" opacity="0.9"/>
<path d="M110 253.4l-0.2 0.2" stroke="#e33fee" stroke-width="2.0" stroke-linecap="round" fill="none" opacity="0.95"/>
<path d="M110 253.4l-1.1 -0.4" stroke="#e33fee" stroke-width="1.1" stroke-linecap="round" fill="none" opacity="0.9"/>
<path d="M160.1 323.6l-0 0M146.1 255.8l-0.4 2" stroke="#e33fee" stroke-width="3.0" stroke-linecap="round" fill="none" opacity="0.95"/>
<path d="M103.7 270.8l1.3 1.3" stroke="#ee5cf2" stroke-width="3.0" stroke-linecap="round" fill="none" opacity="0.95"/>
<path d="M126.7 253.8l1.7 1" stroke="#d838e6" stroke-width="2.5" stroke-linecap="round" fill="none" opacity="0.95"/>
<path d="M154.7 252.2l0.2 0.5M122.6 267.7l1.4 0.6M118.8 252.5l0.5 1.3" stroke="#d838e6" stroke-width="2.0" stroke-linecap="round" fill="none" opacity="0.95"/>
<path d="M100.1 287.2l0.5 0.4" stroke="#e33fee" stroke-width="2.5" stroke-linecap="round" fill="none" opacity="0.95"/>
<path d="M98.3 329.1l0.4 1M99.9 321.7l0.9 0.6" stroke="#2a1a80" stroke-width="2.2" stroke-linecap="round" fill="none" opacity="0.95"/>
</svg>
<rect x="95" y="248.3" width="82" height="82.2" fill="none" stroke="#3a3a3a" stroke-width="1.2" />
<svg x="180.3" y="248.3" width="83.2" height="82.2" viewBox="180.3 248.3 83.2 82.2" overflow="hidden">
<rect x="180.3" y="248.3" width="83.2" height="82.2" fill="#fefefe" stroke="none" stroke-width="1" />
<path d="M243.6 304.5l0 0M191.1 292l0 0M210.1 271l0 0M215.9 288.6l0 0M253.7 306l0 0M230.6 319.6l0 0M208.7 272.6l0 0M226.5 322.3l0 0M209.6 330.3l0 0M232.9 278.4l0 0M211.6 307l0 0M201.8 304.5l0 0M238.8 277.5l0 0M229.3 255.4l0 0M209.6 311.9l0 0M258.9 280.3l0 0M231.1 259.6l0 0M223.9 276.9l0 0M236.1 258.9l0 0M254 293.1l0 0M250.4 252.2l0 0M211.1 280.9l0 0M205.1 255.4l0 0M256.7 251.7l0 0M222.4 275.6l0 0M259.5 279.1l0 0M228.2 287.4l0 0M251.3 260.9l0 0M215.9 310l0 0M257.8 315.5l0 0M245 258.6l0 0M208.4 303.6l0 0M205.3 324.6l0 0M185.4 268.9l0 0M256 272.5l0 0M212.8 280.1l0 0M258.9 261.5l0 0M221 294.8l0 0M251.3 255.2l0 0M260.6 269.2l0 0M216.8 261.4l0 0M215.6 282l0 0M231.8 279.2l0 0M184.4 286.2l0 0M230.6 312l0 0M218.5 318l0 0M253.3 265.1l0 0M236.1 305l0 0M249.2 300.8l0 0M219 251.2l0 0M245.9 289.4l0 0M249 307.5l0 0M185.9 312.5l0 0M185.8 291.6l0 0M218.2 259.8l0 0M234.6 283.6l0 0M245 314.6l0 0M245.4 286.4l0 0M225.9 329.1l0 0M212.9 321.5l0 0M187.4 311.2l0 0M226.4 258.1l0 0M238.3 279.9l0 0M231.9 264.5l0 0M210 326.1l0 0M257.4 252.4l0 0M252.7 290.6l0 0M225.1 262.2l0 0M243.2 269.5l0 0M244 271.6l0 0M190.5 321.8l0 0M242.1 281.1l0 0M243.9 287.7l0 0M247.9 319l0 0M233.8 291l0 0M183.9 325.3l0 0M188.5 326.2l0 0M246.3 317.9l0 0M230.1 262.4l0 0M236.5 283.8l0 0M238.5 322.1l0 0M227.7 311.8l0 0M226.3 255.2l0 0M253 323.6l0 0M215.8 288.4l0 0M214.8 322.3l0 0M228.8 320.5l0 0M210.8 270.5l0 0" stroke="#6060c0" stroke-width="0.8" stroke-linecap="round" fill="none" opacity="0.8"/>
<path d="M242.7 319.8l0 0M182.8 258.7l0 0M221.1 322.1l0 0M242.1 276.7l0 0M262.3 305.1l0 0M258.7 284.5l0 0M218.2 265l0 0M249.7 317.2l0 0M247.1 265l0 0M245.2 259.6l0 0M245.5 265.7l0 0M244.5 251.5l0 0M241.5 294l0 0M257.9 316.1l0 0M254.7 294.7l0 0M226.1 289.1l0 0M254.7 323.3l0 0M229 252.8l0 0M189.9 259.6l0 0M194.2 249.6l0 0M252.4 330.5l0 0M240.5 316.8l0 0M216.9 273l0 0M254.6 287.9l0 0M254.5 295.3l0 0M198.1 309.6l0 0M210.8 292l0 0M239.8 268.3l0 0M245.4 303.1l0 0M212.2 301l0 0M250.1 289.3l0 0M212.8 318.9l0 0M217.6 282l0 0M225.6 273l0 0M253.2 309.9l0 0M193.2 252.7l0 0M250.4 312.3l0 0M222.5 314.6l0 0M254.7 271.3l0 0M214.4 288.8l0 0M245 288.6l0 0M255.4 306.3l0 0M227.5 310.1l0 0M256.5 313.9l0 0M237.1 281.3l0 0M246.9 307.7l0 0M248.3 251.9l0 0M229.5 314.3l0 0M231.7 307.8l0 0M182.6 306l0 0M235.7 288.9l0 0M245.3 321.3l0 0M207.6 285.1l0 0M256.2 306l0 0M239.7 323.2l0 0M209.4 312.5l0 0M220.7 295.3l0 0M219.1 307.2l0 0M251.7 320.1l0 0M230.7 254.1l0 0M241.4 297.8l0 0M232.8 249.3l0 0M217.1 272.5l0 0M215.3 266.2l0 0M254.8 253.7l0 0M189.2 265.9l0 0M219.7 303.2l0 0M213 270.5l0 0M223.1 263.2l0 0M246.4 263.7l0 0M224.1 321.9l0 0M219.6 257.5l0 0M211.3 272.5l0 0M240.1 265l0 0M211.9 287.7l0 0M227.5 249.1l0 0M213.4 252.7l0 0M248.6 265.5l0 0M224.1 272.8l0 0M248.5 321l0 0" stroke="#a0a0d8" stroke-width="0.8" stroke-linecap="round" fill="none" opacity="0.8"/>
<path d="M249.1 321.3l0 0M242.3 326.3l0 0M230.9 278.2l0 0M227.9 269.8l0 0M241.9 326.7l0 0M246 308.8l0 0M233.1 303.3l0 0M230.8 301l0 0M250.5 266.2l0 0M231.5 320.3l0 0M233.3 278.8l0 0M256.1 291l0 0M259.1 287l0 0M243.7 288.1l0 0M238.3 327.1l0 0M214.6 296.7l0 0M237.9 321.6l0 0M239.8 291.4l0 0M234.9 249.3l0 0M182.5 286.3l0 0M228.2 254.7l0 0M244.8 305.9l0 0M244.7 283.4l0 0M244.6 295.6l0 0M233.3 287.6l0 0M249.2 315.6l0 0M221.6 260.7l0 0M229.1 323.2l0 0M221.5 284l0 0M219.7 310.3l0 0M255.1 289.8l0 0M257.8 296.5l0 0M212.7 262.2l0 0M255.1 308.5l0 0M230.1 312.3l0 0M246.9 257.1l0 0M223 259.7l0 0M246.2 276.6l0 0M238.5 304.8l0 0M235.9 315.4l0 0M235.7 251.4l0 0M242.1 283.6l0 0M227.6 321.6l0 0M227.2 321.7l0 0M245.9 259.7l0 0M225.3 254.8l0 0M219.2 283l0 0M237.8 290l0 0M231.6 299.7l0 0M253.5 309.6l0 0M227.7 264l0 0M226.3 319.3l0 0M243.1 319.4l0 0M252 278.3l0 0M238.1 286.5l0 0M253 291.7l0 0M251.6 279.1l0 0M248.4 292.5l0 0M237.1 327l0 0M218.6 250.8l0 0M241.1 299.5l0 0M223.6 266.8l0 0" stroke="#8080d0" stroke-width="0.8" stroke-linecap="round" fill="none" opacity="0.8"/>
<path d="M218.2 251.5l-1 0.2M219.4 269.8l0.1 0" stroke="#f060e0" stroke-width="2.0" stroke-linecap="round" fill="none" opacity="0.95"/>
<path d="M218.2 251.5l-0.7 -1.4M204.4 269.2l0.2 2.8M215.7 323.5l-0.5 -3.7M215.7 323.5l-0.1 3M219.4 269.8l0 3.2M253.5 250.6l2 0.7" stroke="#f060e0" stroke-width="1.1" stroke-linecap="round" fill="none" opacity="0.9"/>
<path d="M243.3 254.2l1.5 0.5M217.5 252.3l-1.7 0M203.9 260.7l-0.5 0.2M240 272.5l-0.8 1.6" stroke="#ee5cf2" stroke-width="3.0" stroke-linecap="round" fill="none" opacity="0.95"/>
<path d="M243.3 254.2l-1.8 -1.6M243.3 254.2l-2.9 0.5M212.4 282.2l-2 0.6M212.4 282.2l1.2 -2M217.5 252.3l1.5 -0.1M240 272.5l-2.4 0.4M240 272.5l0.9 -2.9" stroke="#ee5cf2" stroke-width="1.1" stroke-linecap="round" fill="none" opacity="0.9"/>
<path d="M204.4 269.2l0.3 0.2M253.5 250.6l-1.5 0.5M229.4 272.9l1 1.3" stroke="#f060e0" stroke-width="2.5" stroke-linecap="round" fill="none" opacity="0.95"/>
<path d="M251.4 298.6l-0.5 0M237 289.4l1.5 0.2M215.9 285.1l0.9 0.7M260.9 271l-0.1 0" stroke="#e33fee" stroke-width="2.0" stroke-linecap="round" fill="none" opacity="0.95"/>
<path d="M253.9 306.7l-0 0.9M233.5 278l0.1 1.8M237.6 275.3l0.3 1.8" stroke="#cc34dc" stroke-width="3.0" stroke-linecap="round" fill="none" opacity="0.95"/>
<path d="M235.3 282.7l1.2 1.2M212.4 282.2l-0.7 1.2M234.6 258.7l1.9 0.6M249.8 316.9l-1.7 0.6" stroke="#ee5cf2" stroke-width="2.5" stroke-linecap="round" fill="none" opacity="0.95"/>
<path d="M244.9 275l1.1 0.4M220.8 270l0.7 0.4M215.5 318.6l-0 0.1" stroke="#d838e6" stroke-width="2.0" stroke-linecap="round" fill="none" opacity="0.95"/>
<path d="M244.9 275l-1.2 -3M220.8 270l1.1 -1.1M215.5 318.6l-0.8 2.2M215.5 318.6l2.2 2.1M256 258.7l0.9 -3.8M256 258.7l2.8 -0.7" stroke="#d838e6" stroke-width="1.1" stroke-linecap="round" fill="none" opacity="0.9"/>
<path d="M214.6 283.5l-0.1 1.6M220.4 286.7l0.7 0.8M256 258.7l0.5 0.2" stroke="#d838e6" stroke-width="2.5" stroke-linecap="round" fill="none" opacity="0.95"/>
<path d="M249.5 324.6l-0.5 1.7M222.5 261.2l0.4 0.2" stroke="#cc34dc" stroke-width="2.5" stroke-linecap="round" fill="none" opacity="0.95"/>
<path d="M249.5 324.6l3.8 1.1M233.5 278l2.1 0.2M233.5 278l-2.7 0.3M222.5 261.2l0.4 1.8M222.5 261.2l0 3.6M237.6 275.3l-2.6 -0.5M237.6 275.3l-3.7 -1.3" stroke="#cc34dc" stroke-width="1.1" stroke-linecap="round" fill="none" opacity="0.9"/>
<path d="M237 289.4l3.4 2.1M252.6 260.1l0.8 -2.2M252.6 260.1l-3.2 -1.6M215.9 285.1l1.8 -0.5" stroke="#e33fee" stroke-width="1.1" stroke-linecap="round" fill="none" opacity="0.9"/>
<path d="M215.7 323.5l0.1 0.3" stroke="#f060e0" stroke-width="3.0" stroke-linecap="round" fill="none" opacity="0.95"/>
<path d="M252.6 260.1l-1.4 1.9" stroke="#e33fee" stroke-width="3.0" stroke-linecap="round" fill="none" opacity="0.95"/>
<path d="M263.3 286.6l-0.7 0.2M225.2 289.9l0.5 0.4M241.9 299.9l0.8 0.4M200.3 318.3l0.6 -1" stroke="#2a1a80" stroke-width="2.2" stroke-linecap="round" fill="none" opacity="0.95"/>
</svg>
<rect x="180.3" y="248.3" width="83.2" height="82.2" fill="none" stroke="#3a3a3a" stroke-width="1.2" />
<svg x="266.5" y="248.3" width="82.8" height="82.2" viewBox="266.5 248.3 82.8 82.2" overflow="hidden">
<rect x="266.5" y="248.3" width="82.8" height="82.2" fill="#fbfbfb" stroke="none" stroke-width="1" />
<path d="M275.3 306.1l0 0M288.9 269.3l0 0M333.4 277.9l0 0M280.2 301.9l0 0M314.8 325.1l0 0M338.8 304.8l0 0M307.9 256.7l0 0M289.6 258l0 0M327.8 257.7l0 0M301.7 328.3l0 0M304.6 282.6l0 0M338.2 325.5l0 0M288.3 273.1l0 0M274.4 256.3l0 0M275.9 326.9l0 0M269.1 324.1l0 0M306.9 326.6l0 0M330.6 255.7l0 0M277.3 252.8l0 0M284 288.3l0 0M311.6 279.6l0 0M301.2 284.9l0 0M278.6 307.9l0 0M348.9 297.2l0 0M271.6 304.2l0 0M342.7 253.9l0 0M338.9 316.4l0 0M270.2 329.2l0 0M326 249.9l0 0M346.9 268.7l0 0M311.9 313.8l0 0M343.4 322.4l0 0M333.9 328.4l0 0M335 264.3l0 0M286.9 255.7l0 0M330.6 283.1l0 0M341 253.9l0 0M304.7 264.9l0 0M305.9 273.4l0 0M322 309.1l0 0M332.6 250.3l0 0M349.1 320.3l0 0M280.7 264.6l0 0M276 318.1l0 0M348.4 297.9l0 0M324.9 293.1l0 0M338 299.8l0 0M273.2 309.6l0 0M338.7 296.1l0 0M312.5 274.4l0 0M280.2 288.1l0 0M308.9 312.6l0 0M342.3 283.3l0 0M284.4 305.5l0 0M287.6 290.4l0 0M275.8 267.1l0 0M269.4 271l0 0M284.7 327.6l0 0M270.8 271l0 0" stroke="#a8b0d0" stroke-width="0.8" stroke-linecap="round" fill="none" opacity="0.8"/>
<path d="M321 273.2l0 0M299.1 323l0 0M285 322.4l0 0M279.8 303l0 0M315.8 250.6l0 0M283.4 328.7l0 0M314.4 300.7l0 0M281.5 256.1l0 0M309 264.2l0 0M318.2 288.1l0 0M310.8 285.7l0 0M287.7 280.7l0 0M313.6 288.5l0 0M313.8 249.9l0 0M344.7 283.1l0 0M325.3 278.5l0 0M270 294.3l0 0M292.4 329.1l0 0M309.7 314.4l0 0M266.6 268.9l0 0M281.6 265.4l0 0M290.6 310.9l0 0M308.6 317.5l0 0M307.1 268.4l0 0M311.7 311.9l0 0M287 325l0 0M287.8 278.6l0 0M267.9 323l0 0M314.3 286.8l0 0M293.2 254.6l0 0M272.1 313.5l0 0M266.9 285.3l0 0M299.4 284.9l0 0M326.5 275.7l0 0M277.8 326.9l0 0M346.6 291.3l0 0M268.6 301.4l0 0M294.6 279.9l0 0M287.2 311.1l0 0M346.9 312.6l0 0M337.9 287.4l0 0M268.8 303.8l0 0M324.8 263.4l0 0M316.4 287.2l0 0M294.2 292.2l0 0M270.6 298.4l0 0M277.5 318.7l0 0M279.3 291.1l0 0M306.8 300.5l0 0M341.4 273.7l0 0M315.4 316l0 0M281.2 268.6l0 0M294.3 291.2l0 0M275.6 251.6l0 0M343.7 271.4l0 0M275.8 312l0 0M271.4 293l0 0M282.6 254.9l0 0M341.1 257l0 0M319.8 321.3l0 0M276.6 289.8l0 0M318.9 251.6l0 0M292.8 310l0 0M283.3 292.7l0 0M328.8 253.8l0 0M306.4 263.9l0 0M279.2 325.8l0 0M291.4 268.4l0 0M283.4 265.9l0 0M327.8 302.5l0 0M266.7 317.9l0 0" stroke="#b8c0d8" stroke-width="0.8" stroke-linecap="round" fill="none" opacity="0.8"/>
<path d="M319.1 270.8l0.1 0.1M340.1 282.9l0.3 0.8M343.4 252.8l-0.2 0.2M333.2 258.6l1.2 0.2M287.2 327.4l-1 0.4" stroke="#a888ee" stroke-width="2.0" stroke-linecap="round" fill="none" opacity="0.95"/>
<path d="M304.2 306.8l-1.5 0.2M272.9 256l-0.9 0.8" stroke="#8a6ae0" stroke-width="2.0" stroke-linecap="round" fill="none" opacity="0.95"/>
<path d="M308.3 323.1l0 0.8M301.6 272.2l1.3 0.3M282.1 269l0.3 0.7" stroke="#a888ee" stroke-width="2.5" stroke-linecap="round" fill="none" opacity="0.95"/>
<path d="M308.3 323.1l1.6 -0.3M301.6 272.2l1.2 0.5M282.1 269l-2.4 -1.2M340.1 282.9l-1.3 1.1M268 308.3l-0.8 -1.3M333.2 258.6l0.2 -1.6" stroke="#a888ee" stroke-width="1.1" stroke-linecap="round" fill="none" opacity="0.9"/>
<path d="M272.9 256l2.5 -0.8" stroke="#8a6ae0" stroke-width="1.1" stroke-linecap="round" fill="none" opacity="0.9"/>
<path d="M268 308.3l-0.9 0.6M308.9 312.8l-0.2 0" stroke="#a888ee" stroke-width="1.5" stroke-linecap="round" fill="none" opacity="0.95"/>
<path d="M338.4 262.9l0.9 0.4M311.3 250l0.5 0.2" stroke="#9a7ae8" stroke-width="1.5" stroke-linecap="round" fill="none" opacity="0.95"/>
<path d="M338.4 262.9l-0.9 1.8M313 260.5l0.5 -0.9" stroke="#9a7ae8" stroke-width="1.1" stroke-linecap="round" fill="none" opacity="0.9"/>
<path d="M283.5 319.9l-0.2 1.2M313 260.5l-0.3 1.3" stroke="#9a7ae8" stroke-width="2.0" stroke-linecap="round" fill="none" opacity="0.95"/>
</svg>
<rect x="266.5" y="248.3" width="82.8" height="82.2" fill="none" stroke="#3a3a3a" stroke-width="1.2" />
<svg x="96.3" y="371.3" width="81.7" height="81.7" viewBox="96.3 371.3 81.7 81.7" overflow="hidden">
<rect x="96.3" y="371.3" width="81.7" height="81.7" fill="#fbfbfb" stroke="none" stroke-width="1" />
<path d="M109.8 427.7l0 0M162.3 413.2l0 0M153 407l0 0M160 388.3l0 0M158 433.6l0 0M177.1 377.1l0 0M124.2 383.2l0 0M96.5 377l0 0M157.4 389.4l0 0M164.4 398.5l0 0M126.9 427.1l0 0M129.6 452.1l0 0M100.3 382.7l0 0M161.3 443.3l0 0M128.7 443.8l0 0M145.6 412.5l0 0M158.7 385.6l0 0M115.4 450.1l0 0M173.8 379.4l0 0M175.3 396.6l0 0M137.6 448.7l0 0M149 407.5l0 0M99.7 393.8l0 0M136.1 422.9l0 0M160 422.5l0 0M150.9 441.5l0 0M171.2 402.8l0 0M127.5 414.1l0 0M112.8 442.8l0 0M113.1 398.7l0 0M173.5 450.3l0 0M137.7 390.8l0 0M134.5 407l0 0M150.7 426l0 0M162.5 447.7l0 0M126.3 377.4l0 0M99.5 421l0 0M133 452.2l0 0M114.7 436.9l0 0M169.8 432.3l0 0M111.7 376.2l0 0M125.1 384.5l0 0M136.7 426.9l0 0M112.6 387.1l0 0M145.9 423l0 0M162.2 445.4l0 0M100.8 426.9l0 0M145.9 433l0 0M157.5 386.2l0 0M170.7 390.9l0 0M174.3 433l0 0M172.1 414l0 0M120.5 384.5l0 0M136.3 393l0 0" stroke="#70a0b0" stroke-width="0.8" stroke-linecap="round" fill="none" opacity="0.8"/>
<path d="M119.3 440.2l0 0M159.3 404.5l0 0M99.1 398.2l0 0M153 424.3l0 0M106.5 447.1l0 0M109.5 430.8l0 0M129.8 401.1l0 0M137.3 397.3l0 0M109.3 429.8l0 0M111.1 385.2l0 0M101.7 437.8l0 0M144.5 443.5l0 0M109.6 377l0 0M159.5 410.8l0 0M100.6 392.4l0 0M99.1 391.6l0 0M176.6 432.2l0 0M174.1 444.8l0 0M159.4 410.9l0 0M121.5 415l0 0M107.7 430.2l0 0M165.9 419l0 0M102.2 381l0 0M106.6 415.3l0 0M109.9 386.3l0 0M128 441.9l0 0M121.9 374.7l0 0M109.1 430.6l0 0M163.1 436.9l0 0M101.2 419.9l0 0M125.3 397.3l0 0M147.5 437.3l0 0M114.7 375.3l0 0M163.1 430.4l0 0M161.5 403.9l0 0M103.3 410.5l0 0M163.3 392.7l0 0M177.1 371.8l0 0M139 422l0 0M177.3 384.9l0 0M174 397.6l0 0M119 402.3l0 0M176 388.9l0 0M133.4 444.4l0 0M109.9 417.9l0 0M150.1 377.3l0 0M145.9 422l0 0M118.3 400.2l0 0M151.7 386.8l0 0M172.4 415.3l0 0M113.8 374.6l0 0M110.5 429.3l0 0M135.4 441.9l0 0M175.6 403.2l0 0M170.9 385.5l0 0M177.8 416.6l0 0M156.8 443.4l0 0M110.9 415.4l0 0M143.1 452.5l0 0M131 423.7l0 0M157.7 424.5l0 0M166.5 388.1l0 0" stroke="#8090d0" stroke-width="0.8" stroke-linecap="round" fill="none" opacity="0.8"/>
<path d="M139.4 435.7l0 0M126.6 419.1l0 0M108.1 432.7l0 0M98.2 431.8l0 0M135.9 386.6l0 0M134.7 438.3l0 0M135.2 438.9l0 0M127.9 373.5l0 0M122.3 451.4l0 0M172.3 391.4l0 0M138.8 425.1l0 0M137.7 425.8l0 0M102 398.9l0 0M139.2 430.8l0 0M152.3 449.2l0 0M117.9 397.9l0 0M152.1 432.7l0 0M107.2 379l0 0M111.6 423.7l0 0M112.8 432.1l0 0M159.6 435.9l0 0M147.3 433.2l0 0M101.5 437.9l0 0M105.1 377.5l0 0M138.2 442.8l0 0M126.8 420.7l0 0M108.2 416.5l0 0M157 409.1l0 0M143.8 386.7l0 0M127.7 393.6l0 0M108.4 450.8l0 0M139.6 375.3l0 0M130.4 443.4l0 0M171.9 443.5l0 0M151.8 426.5l0 0M148.6 372.1l0 0M150.9 386.5l0 0M128.9 374l0 0M130.9 397.8l0 0M170.1 414.9l0 0M172.8 436.2l0 0M137.2 405l0 0M156.8 431.9l0 0M111.4 438.9l0 0" stroke="#6070c0" stroke-width="0.8" stroke-linecap="round" fill="none" opacity="0.8"/>
<path d="M144.2 436.9l0.5 0.3M97 396l-0.1 0.1M165.4 382.3l-1.3 3M161.9 402.6l-0 0.7M111.5 398.2l2.4 1.5M97 436.2l1.1 1.9M114.1 377l1 3.3M168.8 433.9l1 2.1" stroke="#e24cee" stroke-width="2.0" stroke-linecap="round" fill="none" opacity="0.95"/>
<path d="M144.2 436.9l4.7 0.1M144.2 436.9l-3.8 -2.1M177.8 387.4l-3.6 3.9M177.8 387.4l-3.8 0M128.1 422.6l-0 5.1M128.1 422.6l1.5 -5.5M128.1 422.6l1.7 5.1M128.1 422.6l1.8 -1.5M112.1 382.8l-1.2 -1.7M112.1 382.8l-0.7 -4.3M112.1 382.8l-3.8 1.4M112.1 382.8l3.4 -0.8M97 396l3.5 1M97 396l1.4 -3.7M97 396l4.4 1.1M108.5 396.5l2.5 -2.8M108.5 396.5l-1.6 -4.2M108.5 396.5l-4.2 0.7M108.5 396.5l-1.8 2.1M165.4 382.3l0.7 -2.5M165.4 382.3l2.1 -0.4M165.4 382.3l1.2 -4.6M161.9 402.6l2.1 -0.3M161.9 402.6l5.1 -1.1M148.9 425l-2.1 5M148.9 425l2.3 2.5M148.9 425l-5.1 2.8M111.5 398.2l-3.3 4.1M111.5 398.2l0.8 4.5M111.5 398.2l1.7 4.1M97 436.2l-1.6 -5M97 436.2l-3.2 -0.8M104.4 413.9l5.2 0.2M104.4 413.9l-1.1 5.5M145.9 408.8l1.5 -2.7M145.9 408.8l-4.5 0.8M145.9 408.8l-3.7 -1.6M145.9 408.8l5.4 1.4M122 438.9l5.8 -0.7M122 438.9l1.3 -2.6M122 438.9l3.8 2.4M122 438.9l1.5 1.7M100.5 420.9l-4 -4.2M100.5 420.9l-4.9 2.5M100.5 420.9l-0.1 -3M100.5 420.9l1.4 4M114.8 422.5l-1.4 5.3M114.8 422.5l0.1 -2.6M101.2 385l0.8 -4.1M101.2 385l-3.1 1.3M101.2 385l-0.5 4.8M123.9 435.8l-4.4 -1.1M123.9 435.8l2.5 -3M163.7 407.7l-3.5 0.3M163.7 407.7l2.6 3.3M163.7 407.7l-0.9 3.8M112.9 386.4l5 -0.4M112.9 386.4l5.5 -1.5M114.1 377l2.1 3.9M114.1 377l-4.2 0.2M135.7 374.9l3 1.8M135.7 374.9l2.5 -1.8M141.1 395l5.3 -2.8M141.1 395l4.6 1.2M154.5 409.2l-3.2 0.2M154.5 409.2l2.4 -1.2M154.5 409.2l-3.5 2.9M154.5 409.2l0.9 2.8M109.8 426.1l0.4 -4M109.8 426.1l-4.7 -2.2M109.8 426.1l-0.6 3.1M109.8 426.1l-4 0M108 432.9l2.8 2.6M108 432.9l-4.6 2.3M108 432.9l1.5 1.9M108 432.9l3.6 1.6M118.3 384.6l-2.4 1.6M118.3 384.6l-3 -2.4M126 444.3l-2.9 2.1M126 444.3l-3.8 2.4M168.8 433.9l-1.6 -1.5M168.8 433.9l-5 -1.3" stroke="#e24cee" stroke-width="1.05" stroke-linecap="round" fill="none" opacity="0.9"/>
<path d="M177.8 387.4l-2.5 2.3M112.1 382.8l3.7 0.7M108.5 396.5l-0.2 0.1M148.9 425l3.8 2.8M104.4 413.9l0.1 1.2M122 438.9l0.3 2.9M100.5 420.9l1.2 2.8M101.2 385l-3.7 1.1M123.9 435.8l3.1 1.5M112.9 386.4l-1.6 4.1M141.1 395l0.2 4.2M154.5 409.2l0.2 0.1M109.8 426.1l-1.4 1.6M126 444.3l-1.8 0.2" stroke="#e24cee" stroke-width="2.5" stroke-linecap="round" fill="none" opacity="0.95"/>
<path d="M128.1 422.6l0.2 0.2M163.7 407.7l1.4 2.4M108 432.9l2.2 1.8" stroke="#e24cee" stroke-width="1.5" stroke-linecap="round" fill="none" opacity="0.95"/>
<path d="M121.5 423.1l-0.7 1.8M123.8 404.1l-0.8 0.9M150.5 393.8l-0.1 1.1M170.3 398.6l0.2 0.4" stroke="#d836e4" stroke-width="1.5" stroke-linecap="round" fill="none" opacity="0.95"/>
<path d="M121.5 423.1l1.1 3.8M121.5 423.1l-0.7 -2.8M121.5 423.1l-1.3 -3.1M121.5 423.1l-2.1 -2.8M148.3 423.2l-2.9 -0.3M148.3 423.2l0.5 -2M148.3 423.2l-2.4 -3M148.3 423.2l0.8 4.3M109.8 436.6l2.6 3.7M109.8 436.6l1.7 -2.4M117.7 438.7l3 1M117.7 438.7l2.8 1.8M117.7 438.7l1.3 -4.8M110 403.6l0.3 2.5M110 403.6l2.8 0.4M110 403.6l-2 1.9M110 403.6l-2.7 -3.8M137.5 374.7l-1.9 -1.9M137.5 374.7l0.2 -2.4M137.5 374.7l2.9 -1.4M117 389l0.7 5.2M117 389l0.3 -2.7M117 389l4.3 -1.2M145.4 385.1l3.2 -1.4M145.4 385.1l-1.9 -1.9M123.8 404.1l-2.3 -1.2M123.8 404.1l-2.3 -0.2M123.8 404.1l2.1 -3.2M123.8 404.1l-3.2 2M168 437.2l2.6 1.7M168 437.2l-2.9 -4.8M168 437.2l3.7 -1.3M168 437.2l1.5 -5.7M136.6 405.3l4.2 1.4M136.6 405.3l-4 -2.9M172.4 386l-4 2.3M172.4 386l-0.7 4.1M172.4 386l1.5 4.2M172.4 386l-4.5 -1.1M115.4 449.2l-2.2 -2.1M115.4 449.2l1.6 4.3M115.4 449.2l2.4 1.7M108.3 419.8l4.1 3.9M108.3 419.8l4.5 -2.4M108.3 419.8l0.2 3.2M108.3 419.8l-4.3 1.2M164.1 380.3l-1.9 2.3M164.1 380.3l-2.4 1.9M150.5 393.8l-1.8 -5M150.5 393.8l-3.1 -0.6M150.5 393.8l-1.4 -3.5M128.9 419.2l3.7 -0.1M128.9 419.2l4.2 0.6M170.3 398.6l0.8 -5.7M170.3 398.6l-5.3 -1M170.3 398.6l5 -3M170.3 398.6l2.5 3M140.4 421.2l5 1.3M140.4 421.2l3.2 0.8M140.4 421.2l-3.1 4.2M121 399.5l-1.5 -1.6M121 399.5l-1.9 3M121 399.5l3.7 1.4M121 399.5l-1.5 -1.8M140 399.3l1.7 -2.9M140 399.3l-2.5 -0.5M140 399.3l1.7 5.1M140 399.3l1.2 -2M109.1 423.8l-3.2 -1.2M109.1 423.8l-1 -3.4M109.1 423.8l-2.6 0.5M112.9 444.7l2.1 -1M112.9 444.7l2.1 -3.9M112.9 444.7l-3.4 1.5M112.9 444.7l-5.5 -1.7M163 404.4l3.4 3.2M163 404.4l1.7 -1.1M163 404.4l-1.7 1.2M131.8 397.2l2.3 -2.5M131.8 397.2l2.9 -0.7M114 374.2l0.2 4.7M114 374.2l0 2.1M174.8 441.1l3.4 0.2M174.8 441.1l1.8 3.6M168.7 442.8l-2.6 4.2M168.7 442.8l1.8 -1.4M168.7 442.8l-0.6 -3.8M127.8 423.8l0.4 -4.1M127.8 423.8l-4.3 -4M127.8 423.8l-2.4 1.2M127.8 423.8l2.5 1.4M130.3 413l-3.4 1.6M130.3 413l0.5 4.1" stroke="#d836e4" stroke-width="1.05" stroke-linecap="round" fill="none" opacity="0.9"/>
<path d="M148.3 423.2l0.5 2.6M109.8 436.6l-1.8 0.2M145.4 385.1l0.7 0.1M172.4 386l-0.6 0.2M108.3 419.8l0.6 2M164.1 380.3l-1.4 1.1M128.9 419.2l2.7 0.8M114 374.2l-1 0.8M168.7 442.8l-1.1 1.6" stroke="#d836e4" stroke-width="2.0" stroke-linecap="round" fill="none" opacity="0.95"/>
<path d="M105.4 415l1.9 0.8M132.1 375.4l-0.9 1.1M175.3 407.9l0.1 0.8M171.9 373l-0.5 0.2M148 446.5l-1.4 2.5" stroke="#ec7cf2" stroke-width="1.5" stroke-linecap="round" fill="none" opacity="0.95"/>
<path d="M105.4 415l-2.3 -0.6M105.4 415l0.2 4.4M133.1 431.5l-1.4 -3.7M133.1 431.5l-2.6 4.9M149.6 442.6l-1.6 -5.1M149.6 442.6l3 -0.4M132.1 375.4l2.3 -5.1M132.1 375.4l-1.5 -1.4M160.1 390.7l-1.3 -3.5M160.1 390.7l3.2 0.3M160.1 390.7l-2 1.9M160.1 390.7l-2.9 -5.2M127.6 399.5l3.9 0.8M127.6 399.5l3.4 -1.1M150.7 389l2.1 3.5M150.7 389l-3 0.4M150.7 389l2.2 -1.3M150.7 389l-0.1 2.2M103.1 380.1l-2 -3.4M103.1 380.1l1.6 1.5M103.1 380.1l4.4 1.2M103.1 380.1l-5.6 -1M175.3 407.9l0.5 -2.4M175.3 407.9l-2.1 -1.6M171.9 373l-4.4 0.8M171.9 373l2.4 -4.7M171.9 373l-3.3 2M171.9 373l0.7 -2.9M169.9 384.8l-3.1 -4M169.9 384.8l-2.1 0.6M169.9 384.8l-2.3 -0.8M141.7 448.5l2.1 -2.6M141.7 448.5l1.3 -5.8M107.8 443.8l-1.4 2.2M107.8 443.8l-3.5 0.6M150.6 373.5l1.9 2M150.6 373.5l-3.2 3.4M167.9 443.7l-0.4 -2.1M167.9 443.7l-5.1 2.6M167.9 443.7l1.3 2.3M167.9 443.7l2.6 -3.8M131.9 436.7l-1.5 -5.1M131.9 436.7l3 1.7M111.9 386.7l3.5 3.4M111.9 386.7l4.3 -1M111.9 386.7l-1.3 -5.1M111.9 386.7l2.5 -2.1M133.3 440l-3.5 1.8M133.3 440l0.3 -2.4M133.3 440l-3.6 0.9M148 446.5l2.1 -1.3M148 446.5l-1.4 -5.8M148 446.5l0.1 3.2" stroke="#ec7cf2" stroke-width="1.05" stroke-linecap="round" fill="none" opacity="0.9"/>
<path d="M117.7 438.7l-0.9 1.7M137.5 374.7l-0.7 4.2M117 389l-0.8 0.9M168 437.2l1.4 1.7M136.6 405.3l3.2 0.2M115.4 449.2l2.6 1.1M140.4 421.2l0 0.9M121 399.5l-0.8 1.1M140 399.3l-3.4 3.1M109.1 423.8l0 0.1M163 404.4l-4.1 2.1M130.3 413l1.6 2" stroke="#d836e4" stroke-width="2.5" stroke-linecap="round" fill="none" opacity="0.95"/>
<path d="M136.7 396.2l2.5 0.1M152.4 392.7l2.7 1.2M156.1 441.9l-2.9 1.4M176 437.4l-4 2.3M128.2 384l0.3 2.2M156.6 429.7l-3.1 0.4M158.2 409.9l-4 1.8" stroke="#e060f0" stroke-width="2.5" stroke-linecap="round" fill="none" opacity="0.95"/>
<path d="M136.7 396.2l2.8 0.6M136.7 396.2l2.3 -2.5M118 417.5l-2.4 -3.5M118 417.5l0.4 -3.5M118 417.5l-0.1 -3.5M138 445.8l-2.1 -3.3M138 445.8l0.6 -4.7M159.3 431.8l0.6 5.7M159.3 431.8l-0.3 -3.7M159.3 431.8l4.4 -3.5M123.2 389.9l-2.8 -3M123.2 389.9l4 -0.9M123.2 389.9l-5.6 0.3M152.4 392.7l-4.8 -2.2M152.4 392.7l-2.6 -0.2M170.6 420.3l5.9 0.3M170.6 420.3l-3.1 5M170.6 420.3l5.5 0.6M118.8 445.9l1.4 3.3M118.8 445.9l-5.6 -0.2M118.8 445.9l0 -2.5M118.8 445.9l0.1 4.3M126.8 417.3l4.8 -2.2M126.8 417.3l4.2 -0.9M126.8 417.3l-2.8 -1.9M156.1 441.9l-0.1 -3.1M156.1 441.9l-2 -1.2M176 437.4l-4.3 -2M176 437.4l5.8 -0.7M128.2 384l0.3 -3.4M128.2 384l2.7 1.5M156.6 429.7l-1.4 -5.2M156.6 429.7l-2.6 -5.2M156.6 429.7l-5.6 1.4M138.8 390.6l2.3 0.2M138.8 390.6l-3.4 0.8M138.8 390.6l3.2 0.4M158.2 409.9l-2.5 -4.7M158.2 409.9l2.1 3M158.2 409.9l3.5 0.7M158.2 409.9l-2.3 0.3" stroke="#e060f0" stroke-width="1.05" stroke-linecap="round" fill="none" opacity="0.9"/>
<path d="M133.1 431.5l-2.1 2.9M103.1 380.1l-0 3.8M169.9 384.8l1.1 2.7M107.8 443.8l-0.5 1M133.3 440l-1.2 2.1" stroke="#ec7cf2" stroke-width="2.0" stroke-linecap="round" fill="none" opacity="0.95"/>
<path d="M110 403.6l4.6 3.6M112.9 444.7l1 2.5M131.8 397.2l2.1 2.1M174.8 441.1l-4.6 1.5M127.8 423.8l-2.8 1.3" stroke="#d836e4" stroke-width="3.0" stroke-linecap="round" fill="none" opacity="0.95"/>
<path d="M127.4 447.2l0 0M122.1 421.6l2.7 2.4M120.7 402.8l-1.2 0.6M102.1 421.5l0.4 2.2M109.1 442.7l-3.3 0.7M120.7 448.7l-2.1 2.9M99.3 448.9l0.7 0.6M101 445.9l3 1.8" stroke="#cc30dc" stroke-width="2.0" stroke-linecap="round" fill="none" opacity="0.95"/>
<path d="M127.4 447.2l1.2 2.1M127.4 447.2l-2.3 0.4M122.1 421.6l0.8 2.6M122.1 421.6l-5.6 -1.5M122.1 421.6l2.9 5M111.5 439.3l-2.8 -3.5M111.5 439.3l2.4 2.1M111.5 439.3l2.8 -0.6M111.5 439.3l-4.7 -1.1M114.8 434.3l5.2 -1.5M114.8 434.3l-5.4 0.6M120.7 402.8l5 1.1M120.7 402.8l0.1 3M120.7 402.8l-5.2 -1.4M120.7 402.8l0.8 4.3M126.8 426.6l-0.8 2.3M126.8 426.6l0.2 -2.7M126.8 426.6l-0.4 -2.2M102.1 421.5l-4.4 0.3M102.1 421.5l3.2 3.5M102.1 421.5l2.3 -1.6M102.1 421.5l1 -5.3M124.5 435.1l2.2 1.5M124.5 435.1l-2.2 2.8M124.5 435.1l-0.6 -3M124.5 435.1l-3.5 -1.4M161.9 412.9l2.1 1.1M161.9 412.9l1.1 -4.4M161.9 412.9l4.1 -3.1M128.2 414l-3 3.2M128.2 414l-1.7 5.7M128.2 414l-2.5 5.1M109.1 442.7l0 3.4M109.1 442.7l0.4 2.3M109.1 442.7l-0.9 -3.6M109.1 442.7l-0.2 -3.6M130.9 435.9l-5.7 -1.6M130.9 435.9l4.7 3.5M97.3 449.9l2.1 3.1M97.3 449.9l-0.6 -3.8M97.3 449.9l2.1 5M97.3 449.9l-3.5 4.4M132.7 445.6l-1.4 -4.3M132.7 445.6l2.7 -3.2M132.7 445.6l1.5 5.2M165.8 418.4l-5.2 -2.6M165.8 418.4l-2 -0.5M165.8 418.4l-2.9 -4.5M165.8 418.4l4.3 -2.5M171.4 413.7l-0.4 3.1M171.4 413.7l-3.1 -5M171.4 413.7l-1.1 -3.1M120.7 448.7l2.4 -1.9M120.7 448.7l2.9 1.4M113.5 415.7l0.2 3.6M113.5 415.7l-0 -3.1M113.5 415.7l1.3 -2.5M113.5 415.7l-5.5 0.8M164.4 432.7l-3.1 2.5M164.4 432.7l0.1 -2M164.4 432.7l-3.5 -2.1M164.4 432.7l1.8 2.4M165.1 414.3l-4.5 -1.1M165.1 414.3l0.9 5.1M135.1 438.9l4.2 -1.2M135.1 438.9l0.9 -2.4M135.1 438.9l0.9 -5.5M135.1 438.9l-1.3 -5.3M99.3 448.9l-1.6 -3.9M99.3 448.9l5.8 -1M101 445.9l-3 0.9M101 445.9l-2.8 0.5M101 445.9l1.6 5.7M101 445.9l-3.6 3.5M128.2 445.7l4.2 1.6M128.2 445.7l0.7 -5.1" stroke="#cc30dc" stroke-width="1.05" stroke-linecap="round" fill="none" opacity="0.9"/>
<path d="M149.6 442.6l-0.3 1.7M160.1 390.7l-2.1 1.1M141.7 448.5l-0.5 0.1" stroke="#ec7cf2" stroke-width="3.0" stroke-linecap="round" fill="none" opacity="0.95"/>
<path d="M118 417.5l-0.6 0.1M138 445.8l0.2 2.1M159.3 431.8l2.1 2.4M123.2 389.9l-0.2 0.2M170.6 420.3l-2.6 2.4M126.8 417.3l-1.4 0.2M138.8 390.6l-1.5 1.5" stroke="#e060f0" stroke-width="2.0" stroke-linecap="round" fill="none" opacity="0.95"/>
<path d="M111.5 439.3l0.9 0.9M114.8 434.3l-2.9 0.8M126.8 426.6l3.2 2M161.9 412.9l4.4 2.1M128.2 414l-3.4 0.9M165.8 418.4l2.8 2M171.4 413.7l-2.4 3M164.4 432.7l2 2.3M135.1 438.9l1.5 3.9M128.2 445.7l0 0.5" stroke="#cc30dc" stroke-width="2.5" stroke-linecap="round" fill="none" opacity="0.95"/>
<path d="M136.5 419.2l3.4 3.4M142.7 447.1l-4.2 1.1M124 416.3l-0.6 0.5M151.3 416.1l-1.8 1.9M102.4 391.8l-4.8 1.2M122.4 405.4l0.9 2.1M136.1 411.8l0 3.8" stroke="#e040ec" stroke-width="2.5" stroke-linecap="round" fill="none" opacity="0.95"/>
<path d="M136.5 419.2l-2 1M136.5 419.2l-2.5 -5.3M136.5 419.2l0.3 2.7M136.5 419.2l-2.6 4.5M142.7 447.1l-2 -4.9M142.7 447.1l0.1 3.9M146.7 389.7l-2.2 3.2M146.7 389.7l0.6 -2.9M146.7 389.7l-4.5 0.4M146.7 389.7l1.8 -2.4M124 416.3l-4.8 2.5M124 416.3l3.3 4.8M124 416.3l-4.4 1.8M124 416.3l0.6 4.1M177.3 415.7l-2.2 1.1M177.3 415.7l2.4 -1.8M177.3 415.7l-1.8 5M116.2 421.4l0.6 -5.4M116.2 421.4l-5.7 -1.9M116.2 421.4l-5.8 1M121.2 423.8l1.8 -2.6M121.2 423.8l-0.8 -4.1M121.2 423.8l-3.4 3M153 382.9l1.7 2.1M153 382.9l-4.4 1.2M123.3 413.1l4.9 0.1M123.3 413.1l-3.8 -3.9M123.3 413.1l-5.4 1.5M133.3 428.8l4.8 1M133.3 428.8l-4.2 1.2M163.9 399.4l3.8 0.6M163.9 399.4l2.3 -0.1M114.4 430.1l-1.7 -2.3M114.4 430.1l1.2 -5.4M114.4 430.1l0.6 4.9M156.9 419.7l1.6 2.3M156.9 419.7l1.6 -2.5M151.3 416.1l1.4 -5.4M151.3 416.1l-3.5 2.6M151.3 416.1l-1.2 2.1M151.3 416.1l3 0.2M100.5 408.1l2.1 -1.1M100.5 408.1l-2.8 1.7M100.5 408.1l-1.5 -5.6M102.4 391.8l-0 2.4M102.4 391.8l4.9 0.8M114.9 374.3l-1.3 -3.4M114.9 374.3l2.9 -2M122.4 405.4l3.6 2.7M122.4 405.4l-2 -0.7M122.4 405.4l3 2.6M154.5 379.7l0.9 -5.2M154.5 379.7l3.2 3.7M141.5 449.1l4 -1.1M141.5 449.1l-2.5 -3.5M141.5 449.1l2.4 0.9M141.5 449.1l4.7 0.6M113 431.3l-0.1 -3M113 431.3l-3.6 3.2M113 431.3l4.1 -0.8M113 431.3l-2.6 -2.1M136.1 411.8l0.9 -3.6M136.1 411.8l1 3.4M136.1 411.8l1.7 2.5M145.3 448.6l-2.8 -2.5M145.3 448.6l0.8 2.4M145.3 448.6l2.9 -1.2" stroke="#e040ec" stroke-width="1.05" stroke-linecap="round" fill="none" opacity="0.9"/>
<path d="M127.6 399.5l0.1 0.1M150.7 389l-0.8 1.8M150.6 373.5l-3.3 1.2M167.9 443.7l2.2 1.8M131.9 436.7l-1.4 3M111.9 386.7l3 2.2" stroke="#ec7cf2" stroke-width="2.5" stroke-linecap="round" fill="none" opacity="0.95"/>
<path d="M146.7 389.7l-1.8 2.6M116.2 421.4l3.4 0.8M153 382.9l1.3 0.4M163.9 399.4l-2.7 1.9M114.4 430.1l1.8 0.4M100.5 408.1l-1.5 1.2M141.5 449.1l0.4 0.8M145.3 448.6l3 0.3" stroke="#e040ec" stroke-width="2.0" stroke-linecap="round" fill="none" opacity="0.95"/>
<path d="M177.3 415.7l-2.6 0.2M123.3 413.1l3.3 4.6M114.9 374.3l0.1 3.3" stroke="#e040ec" stroke-width="3.0" stroke-linecap="round" fill="none" opacity="0.95"/>
<path d="M124.5 435.1l-3.8 3.5M97.3 449.9l4 2.3M132.7 445.6l3.9 2.4M113.5 415.7l4.9 0.7M165.1 414.3l-0.9 0.2" stroke="#cc30dc" stroke-width="3.0" stroke-linecap="round" fill="none" opacity="0.95"/>
<path d="M121.2 423.8l-1.8 0.6M133.3 428.8l0.4 0M156.9 419.7l1.9 1.4M154.5 379.7l-0.7 1.6M113 431.3l-1.3 2.3" stroke="#e040ec" stroke-width="1.5" stroke-linecap="round" fill="none" opacity="0.95"/>
<path d="M118.8 445.9l-1.1 0.1" stroke="#e060f0" stroke-width="1.5" stroke-linecap="round" fill="none" opacity="0.95"/>
<path d="M130.9 435.9l0.6 2.9" stroke="#cc30dc" stroke-width="1.5" stroke-linecap="round" fill="none" opacity="0.95"/>
<path d="M145.9 408.8l-3.5 0.4M114.8 422.5l2.4 2.6M135.7 374.9l-3.8 3.2M118.3 384.6l-0.6 1" stroke="#e24cee" stroke-width="3.0" stroke-linecap="round" fill="none" opacity="0.95"/>
<path d="M176.2 391.1l0.4 -0.4M147.1 392l0.2 -0.1M150.9 416.7l-0.6 -0.8M102.6 429.4l-1 -0.9" stroke="#302080" stroke-width="2.2" stroke-linecap="round" fill="none" opacity="0.95"/>
</svg>
<rect x="96.3" y="371.3" width="81.7" height="81.7" fill="none" stroke="#3a3a3a" stroke-width="1.2" />
<svg x="181" y="371.3" width="83.8" height="81.7" viewBox="181 371.3 83.8 81.7" overflow="hidden">
<rect x="181" y="371.3" width="83.8" height="81.7" fill="#fbfbfb" stroke="none" stroke-width="1" />
<path d="M261.3 382.8l0 0M258.4 429.2l0 0M207 386.8l0 0M236.9 386.4l0 0M254.9 403.8l0 0M256.4 406.2l0 0M246.5 376l0 0M223.9 404l0 0M219.5 387.1l0 0M242.9 424.9l0 0M185.4 404.9l0 0M258.2 408.9l0 0M202.7 381.1l0 0M217.4 393.3l0 0M221.8 376.9l0 0M232.8 404.2l0 0M242.6 446.9l0 0M241.2 409.2l0 0M255.5 380.5l0 0M259 417.5l0 0M255.5 424.1l0 0M184.5 411.1l0 0M204.2 434.1l0 0M200.6 415l0 0M222.5 412.1l0 0M209.8 442.8l0 0M213.4 424.9l0 0M211.3 449.1l0 0M225.2 434l0 0M190.5 412.7l0 0M248.6 438.7l0 0M181.3 391.1l0 0M258.6 395.7l0 0M250.1 446.4l0 0M192.7 404.3l0 0M224.1 389.1l0 0M192.6 375.3l0 0M181.9 378l0 0M251.7 432.9l0 0M203.4 381.5l0 0M230 396.1l0 0M246.2 388.3l0 0M205.4 375.1l0 0M247.9 401.8l0 0M212.4 450.2l0 0M243.1 372.3l0 0M218 437.4l0 0M239.4 418.5l0 0M185.2 381.4l0 0M258.6 413.1l0 0M238.8 415.3l0 0M218.1 437.8l0 0M218.9 402.7l0 0M249.4 397.1l0 0M219.1 384.8l0 0M242.4 401.3l0 0M227.8 450.9l0 0M196.8 403.2l0 0M190.9 399.9l0 0M195.3 392.5l0 0M213.9 445.7l0 0M250.9 395.3l0 0M216 434.1l0 0" stroke="#6070c0" stroke-width="0.8" stroke-linecap="round" fill="none" opacity="0.8"/>
<path d="M232.4 407.8l0 0M261.4 397.4l0 0M196 416.4l0 0M229.8 447.9l0 0M256.5 442.4l0 0M258.5 412.7l0 0M206.8 401.8l0 0M183.1 418.3l0 0M226.5 406.7l0 0M184.1 415l0 0M222.8 414.1l0 0M220.9 376.7l0 0M210.6 435.4l0 0M189.1 422.7l0 0M187.4 386.9l0 0M184.2 402.2l0 0M234.2 375.3l0 0M234 451.8l0 0M210.8 392.5l0 0M181.8 402.3l0 0M190 440.4l0 0M227.2 400.9l0 0M203 392.5l0 0M194.3 439.8l0 0M209.3 375.7l0 0M262.2 383.8l0 0M229.2 414.2l0 0M208.9 450.6l0 0M185.4 390.4l0 0M249.9 432.7l0 0M238.5 437.3l0 0M217.9 388.3l0 0M199.2 409.9l0 0M242.9 408l0 0M199.9 414.6l0 0M235.6 380.2l0 0M191.9 401.7l0 0M221.5 384.7l0 0M191.1 385.2l0 0M252 432.1l0 0M203.1 417.8l0 0M213.6 394.9l0 0M244.5 436.2l0 0M196.9 388.6l0 0M246.5 421.6l0 0M262.3 445.9l0 0M232.6 425.9l0 0M202.2 449.8l0 0" stroke="#70a0b0" stroke-width="0.8" stroke-linecap="round" fill="none" opacity="0.8"/>
<path d="M191.1 424.5l0 0M247.4 377.8l0 0M229.4 373l0 0M186.1 398l0 0M202.7 449.5l0 0M224.2 394.1l0 0M209.7 444.9l0 0M264.5 400.4l0 0M226.8 399.8l0 0M257.2 422.7l0 0M204.8 427.2l0 0M222.9 423.1l0 0M190.9 389l0 0M204.2 379.3l0 0M183.8 387.9l0 0M183.5 384.2l0 0M262.6 386.9l0 0M240.2 378.3l0 0M228.8 446.6l0 0M223.3 448l0 0M235.7 397.6l0 0M259.5 380.5l0 0M221 405.2l0 0M226.4 443l0 0M256.7 409.2l0 0M249.7 380.6l0 0M208.4 384.9l0 0M186.8 399l0 0M192.1 425.8l0 0M217.4 415.3l0 0M230.1 387.5l0 0M195.7 404.5l0 0M227.6 438.5l0 0M232.2 391l0 0M229.6 389.9l0 0M184.8 420.7l0 0M223.6 446.3l0 0M194.5 379.5l0 0M188 412.3l0 0M238.5 415.2l0 0M181.8 414.6l0 0M233.5 398.7l0 0M245.3 379l0 0M228 383.3l0 0M211.2 373.6l0 0M228.1 445.1l0 0M264.8 380.3l0 0M264.2 387.1l0 0M204.5 421l0 0M248.9 434.5l0 0M242.8 372.2l0 0M225 443.5l0 0M207 441.4l0 0M234.5 449.3l0 0M217 433.9l0 0M192.4 382.3l0 0M210.7 429l0 0M234.2 382.2l0 0M200.1 375.4l0 0" stroke="#8090d0" stroke-width="0.8" stroke-linecap="round" fill="none" opacity="0.8"/>
<path d="M243.1 373l0.1 2.3M229.2 447.5l0.3 0.3M212.6 427.9l0.1 0.1M184.7 374.7l1.8 2.5M203.4 424.4l0.5 3.6M244.5 427.2l3.6 3.2M236.7 427.5l3.1 2.6M200.8 445.3l1.5 1.7" stroke="#e24cee" stroke-width="2.5" stroke-linecap="round" fill="none" opacity="0.95"/>
<path d="M243.1 373l-2.2 -4.5M243.1 373l0.3 -2.7M243.1 373l-0.3 3.3M243.1 373l4.3 2.6M249.4 409.5l1.8 -5.5M249.4 409.5l2.4 2.1M229.2 447.5l-4.5 3.7M229.2 447.5l-0.3 2.4M206.1 407.8l2.6 -0.5M206.1 407.8l-2.5 0.3M211.4 382.2l-4.3 1.5M211.4 382.2l4 -0.4M216.4 393.2l-3.7 4.1M216.4 393.2l-4.5 0M216.4 393.2l-3.5 0.4M216.4 393.2l3.3 -2.9M216.9 442.5l1.6 1.3M216.9 442.5l-1.5 2.4M216.9 442.5l0.2 3.9M212.6 427.9l0 3.6M212.6 427.9l-5.1 0.2M212.6 427.9l3.3 1.5M255.2 412.1l0.3 4.5M255.2 412.1l4.4 1.3M184.7 374.7l-2 -0.9M184.7 374.7l-4.1 -1.4M184.7 374.7l-4.5 -3M184.7 374.7l3.8 0.4M263.1 393.7l0 5.6M263.1 393.7l-0.1 3.1M263.1 393.7l-3.1 -1.8M203.4 424.4l-3.9 -2.5M203.4 424.4l-1.9 -1.8M244.5 427.2l0.2 2M244.5 427.2l-3.5 -3.4M244.5 427.2l-0.9 5.9M236.7 427.5l0.6 5.4M236.7 427.5l2.6 -0.6M236.7 427.5l1.8 -1.2M188.9 417.6l-4.2 -1.2M188.9 417.6l-2 1M188.9 417.6l-4.4 1.8M259 413.6l-5.9 0.8M259 413.6l-2.7 0.8M259 413.6l-2.3 -4.9M259 413.6l-0.1 2.5M200.8 445.3l5.7 1.7M200.8 445.3l3.2 0.8M200.8 445.3l-4.3 0.1M258.1 443.9l-1.4 1.6M258.1 443.9l1.4 5.3M251.8 401.3l-0.7 2.3M251.8 401.3l-4.2 4M251.8 401.3l-4.6 3.7M251.8 401.3l1.2 5.6M216.1 444l2.6 -1.1M216.1 444l0.2 3.3" stroke="#e24cee" stroke-width="1.05" stroke-linecap="round" fill="none" opacity="0.9"/>
<path d="M218.1 436.8l0.5 0.4M204.3 382.9l0.3 1.5M245.4 402.8l-0.1 0.1M204 376.6l0 0M204.1 438.2l2.1 1.2M237.8 420.8l0.8 1M231.6 398.8l0.2 0.2M217.9 385.9l0 1.8M205.8 440.8l1.6 2.5M187.6 381.3l-3 2.3M188.4 375.9l-0.1 0.3M234.5 450.4l0.1 1.3" stroke="#cc30dc" stroke-width="2.5" stroke-linecap="round" fill="none" opacity="0.95"/>
<path d="M218.1 436.8l-2.6 5.3M218.1 436.8l2.2 0.6M218.1 436.8l-0.9 -1.9M218.1 436.8l3.8 -1.4M213.4 400.3l-2.7 -2.2M213.4 400.3l1 4.3M213.4 400.3l3.8 4.6M204.3 382.9l-3.6 -2.5M204.3 382.9l-2.9 2.2M204.3 382.9l0.3 -3.5M197 441.7l2.1 3.7M197 441.7l3.1 -0.1M191 417.2l-3.7 -1.8M191 417.2l2.4 -4.3M191 417.2l3.7 2M191 417.2l2.9 2.9M245.4 402.8l2.8 -2.6M245.4 402.8l-4.3 -2.9M245.4 402.8l2.6 -1.3M206.6 449.3l2.2 -2M206.6 449.3l-1.7 -2M206.6 449.3l-3.2 1.3M249.7 445.7l-1.6 -2.6M249.7 445.7l-4.5 0.3M195 383.5l2.4 1.8M195 383.5l-2.1 -0.1M195 383.5l-0.6 3.8M255.5 447.4l3.3 -3.7M255.5 447.4l-5 -2M250 438.1l-0.1 -5.6M250 438.1l2.8 -1.7M204 376.6l-2.1 4.1M204 376.6l-4.6 0.3M204 376.6l-3.5 3.5M244.1 405.2l2.6 -5.2M244.1 405.2l-4 -0.2M192.4 415l1.3 -2.4M192.4 415l2.3 4.7M192.4 415l-0.5 4.3M219.7 371.8l4.4 -3.4M219.7 371.8l3.8 1.4M244.8 419.2l-1.9 3.3M244.8 419.2l-0.8 -4.3M244.8 419.2l3.3 0M244.8 419.2l3.8 -0.6M204.1 438.2l4 2.9M204.1 438.2l-3.6 -2M204.1 438.2l1.7 -5.6M237.8 420.8l-0.5 3.4M237.8 420.8l4.9 -2.2M237.8 420.8l-1.8 -5.3M237.8 420.8l-0.2 -2.5M231.6 398.8l-4.7 -1.9M231.6 398.8l2.4 1.2M217.9 385.9l-3.7 2.7M217.9 385.9l-2.9 -1.4M217.9 385.9l0.6 5.1M223.2 399.7l-3.1 1.7M223.2 399.7l-3.1 -2.7M223.2 399.7l-4 -1.1M197.2 384.9l-1.7 2.1M197.2 384.9l-5.6 0.4M197.2 384.9l1.4 2.5M205.8 440.8l2.4 4.3M205.8 440.8l2.2 -0M249.6 405.1l3.9 4.6M249.6 405.1l0.5 5.6M249.6 405.1l-3.6 0.3M263.5 395.3l-4.3 -3.4M263.5 395.3l0.5 5.9M263.5 395.3l-5.2 3M263.5 395.3l-1.9 5.3M187.6 381.3l0.7 3.2M187.6 381.3l3.1 -2.4M187.6 381.3l5.2 2M187.6 381.3l-4 0.5M188.4 375.9l-3.9 -0.7M188.4 375.9l0.1 -4.2M234.5 450.4l4.5 -0.9M234.5 450.4l-3.1 3.4M234.5 450.4l4.4 2.8M206.3 425.4l-2.8 -1.7M206.3 425.4l-4.6 -3" stroke="#cc30dc" stroke-width="1.05" stroke-linecap="round" fill="none" opacity="0.9"/>
<path d="M213.4 400.3l0.6 0.2M197 441.7l-0 0.3M195 383.5l-5.3 2M263.5 395.3l5.5 0.3" stroke="#cc30dc" stroke-width="3.0" stroke-linecap="round" fill="none" opacity="0.95"/>
<path d="M185.7 430.6l1 1.1M239.5 403.7l-0.1 0.1M239.8 417.2l-3.4 2M186.3 426.4l1.9 2.4M227.5 385.5l-1.8 1.2M205.3 409.8l0.4 1M231.9 448.9l-0.6 0.3M224.6 425.5l-2.5 0.7M226.4 431l2.7 0.4M259.4 424.9l2.3 0.1" stroke="#ec7cf2" stroke-width="2.0" stroke-linecap="round" fill="none" opacity="0.95"/>
<path d="M185.7 430.6l3.2 -0.8M185.7 430.6l2.6 -2.3M254.4 414.5l-2.1 -2.4M254.4 414.5l-4.5 -0.6M254.4 414.5l1.8 2.1M254.4 414.5l-3.7 -2.8M245.2 421l-4 2M245.2 421l-2.4 1.2M245.2 421l-2.9 -0M245.2 421l-4.9 0.3M239.5 403.7l-0.1 4.4M239.5 403.7l-2.9 -0.8M239.5 403.7l-1.8 -2.4M239.5 403.7l-5.3 -0.6M193.5 440.8l4.4 1.8M193.5 440.8l-1.2 -2.7M193.5 440.8l2.5 -1.1M250.2 411.4l3.2 0.4M250.2 411.4l-1.2 -1.7M239.8 417.2l0.6 -3.6M239.8 417.2l3.8 0.8M239.8 417.2l-2.8 -1M197 396.4l-2 5.6M197 396.4l-0.4 -5.4M197 396.4l2 -1.6M225.9 430.4l1 2M225.9 430.4l-0.3 2.1M225.9 430.4l-0.8 2M225.9 430.4l3.7 2.8M197.4 429.6l-3.3 1.7M197.4 429.6l4.3 -2.1M255.9 394.7l2.3 -2.7M255.9 394.7l-4 -1.5M255.9 394.7l-3.9 4.1M258.6 417.8l-3 -0.7M258.6 417.8l2.4 3.4M258.6 417.8l-4.1 1.9M258.6 417.8l-1.9 3.6M186.3 426.4l4.7 2.8M186.3 426.4l-4.7 0.7M186.3 426.4l-1.2 2.1M186.3 426.4l-2.5 1.4M227.5 385.5l-2.3 5M227.5 385.5l-4.5 -3.6M227.5 385.5l2.8 -2.5M205.3 409.8l4 -3.4M205.3 409.8l-0.4 -5M205.3 409.8l5.2 1.1M205.3 409.8l5.8 1.4M237.7 421.9l1.9 3.3M237.7 421.9l-4.3 1.6M237.7 421.9l-4.2 -2.7M237.7 421.9l-4.7 -2.2M184.1 409.1l-0.3 -2.1M184.1 409.1l-3.2 0.3M195.2 443l-1.7 1.7M195.2 443l-2 -4.6M195.2 443l5 -1.3M195.2 443l-1.3 4.2M231.9 448.9l-4.5 -3.8M231.9 448.9l0.4 -2M231.9 448.9l-3.5 -2.2M224.6 425.5l-4.4 -1.4M224.6 425.5l-1.7 2M224.6 425.5l1.8 -4.2M207.8 377.8l-1.7 2.4M207.8 377.8l1.1 1.9M207.8 377.8l3.5 -3.4M207.8 377.8l5.4 -1.2M220.3 376l1.3 2.5M220.3 376l-2.7 -1.6M213.8 435.8l-2.6 -1.8M213.8 435.8l-1.5 3.2M226.4 431l-0.3 -4M226.4 431l1.6 1.2M226.4 431l-2.5 1.7M226.4 431l3.2 0.8M209.4 440.6l-0.3 3.3M209.4 440.6l1 4.3M239.2 373.4l3.4 0M239.2 373.4l-0.8 -3.2M239.2 373.4l1.5 2.8M239.2 373.4l-1.2 4.7M259.4 424.9l5.4 -1.5M259.4 424.9l-2.4 1.5M211.1 438.5l1.8 -4.2M211.1 438.5l-0.8 -4.3M211.1 438.5l-0.1 2.1M211.1 438.5l2.2 -1.1M261.8 444.2l-2.2 1M261.8 444.2l2.5 -4.1M261.8 444.2l3.2 -0M261.8 444.2l-4.7 2M215.9 392.6l-4.6 3.5M215.9 392.6l-4.5 2.3M247.1 397.2l3.9 -0.3M247.1 397.2l3.5 0.9M247.1 397.2l0.6 2.7M247.1 397.2l-3.8 -1.1M183.8 408.3l0.8 2.7M183.8 408.3l-3 2.5M183.8 408.3l2.8 -0.6M253.4 420.6l-4.7 1.3M253.4 420.6l3.1 -4.6M253.4 420.6l-1.7 -5.3" stroke="#ec7cf2" stroke-width="1.05" stroke-linecap="round" fill="none" opacity="0.9"/>
<path d="M250.1 394.3l-2 1.5M240.3 377.8l0.1 0.4M253.7 404.2l-0.3 0.5M243.2 438.2l-3.3 1.6" stroke="#d836e4" stroke-width="3.0" stroke-linecap="round" fill="none" opacity="0.95"/>
<path d="M250.1 394.3l2.5 4.6M250.1 394.3l2.1 1.5M250.1 394.3l0.2 2.7M250.1 394.3l-1.2 -4.5M256.7 430.8l-0.5 -3.3M256.7 430.8l0.2 -5.4M256.1 410.8l-2.2 0.5M256.1 410.8l1.2 2.6M256.1 410.8l0.9 4M189 384.7l-3 1.9M189 384.7l-1.3 4.3M189 384.7l-1.4 -2.7M189 384.7l2 -1M194.6 432.9l-0.6 -5.1M194.6 432.9l-0.1 2.2M194.6 432.9l-0.7 2.1M217.4 432.4l-0.6 -2.6M217.4 432.4l-3.8 -4.4M217.4 432.4l-0.2 5.1M217.4 432.4l-3.3 -0.3M212.3 401l-1.6 -3.5M212.3 401l2.7 -4.2M212.3 401l1.6 -2M212.3 401l1.4 -4.9M207.1 451.7l3.5 -3M207.1 451.7l-4 -0.7M207.1 451.7l-1.5 2.4M240.3 377.8l-3.6 1.3M240.3 377.8l4.2 0.8M249.2 415.7l-2 -2.6M249.2 415.7l-1 4.6M249.2 415.7l-3.6 -0.4M249.2 415.7l3.8 -0M223.2 426.9l-2.9 -1.6M223.2 426.9l2 -1.8M205.4 395.2l-5.4 0.8M205.4 395.2l2.8 -1.2M205.4 395.2l-1.5 4.8M185.8 386l-3.6 4.5M185.8 386l0.8 2M185.8 386l4 1.3M185.8 386l1.5 -2M251.3 381.4l1.5 -3.5M251.3 381.4l-1.9 -5.3M251.3 381.4l1.5 -3.2M251.3 381.4l2.2 -1.7M250 378.3l-2.1 -1.7M250 378.3l-1.9 -3.5M250 378.3l-1 2.4M244.5 387.1l-3.5 -4.1M244.5 387.1l2.7 -4.6M253.7 404.2l-2.7 -4M253.7 404.2l4.4 -1.2M193.4 371.5l1 -2.6M193.4 371.5l0.4 -3.1M243.2 438.2l-4.5 2.5M243.2 438.2l1.8 1.2M243.2 438.2l-3.7 -3.6M200.4 404l-1.2 -2.9M200.4 404l-2.2 1.8M233.3 448.7l5.2 -2.8M233.3 448.7l0.5 2.6M233.3 448.7l2.2 1.7M183.9 442.9l-0.8 2.9M183.9 442.9l-4.1 3.4M236.6 378.2l5 -2.4M236.6 378.2l-3 0.6M236.6 378.2l-2.1 -0.6M186.5 442.1l-4.8 2.4M186.5 442.1l-2 -2.2M186.5 442.1l4.3 3.1M234.3 404.1l1.1 4M234.3 404.1l-0.6 3.3M234.3 404.1l-2.4 -3.2M193.8 394.9l-1.5 -2.6M193.8 394.9l-5.1 -2.2M193.8 394.9l5.7 0.4M193.8 394.9l-0.8 2.7M219.3 375.9l-3.9 4.2M219.3 375.9l-1.5 2.3M219.3 375.9l-2 1M245.2 381.7l-3.3 -0.6M245.2 381.7l-3.2 3.3M245.2 381.7l4.7 3.1M245.2 381.7l2.4 4.1" stroke="#d836e4" stroke-width="1.05" stroke-linecap="round" fill="none" opacity="0.9"/>
<path d="M249.4 409.5l-0.2 3.1M206.1 407.8l-0.3 2.9M216.4 393.2l1.4 1M216.9 442.5l-0 0.1M259 413.6l2.1 0.8M258.1 443.9l1.8 1.7M216.1 444l3 2.5" stroke="#e24cee" stroke-width="2.0" stroke-linecap="round" fill="none" opacity="0.95"/>
<path d="M256.7 430.8l-0.4 1.8M256.1 410.8l1.2 0M217.4 432.4l1.3 1.6M212.3 401l-0.2 0.2M223.2 426.9l-2 0.9M205.4 395.2l2.1 1.8M185.8 386l-1.9 2.8M251.3 381.4l2.7 2.3M193.4 371.5l2.2 1.4M200.4 404l3.2 0.3M233.3 448.7l1.5 0.9M193.8 394.9l1.3 0.2M219.3 375.9l-0.7 3" stroke="#d836e4" stroke-width="2.5" stroke-linecap="round" fill="none" opacity="0.95"/>
<path d="M185 378.6l0.7 2.9M253.3 398.4l-4.5 2M221.6 402l-2.9 2M237.4 401.9l1.2 0.8M219.9 377.7l0.9 4M255.3 413.4l-1 1.5" stroke="#e040ec" stroke-width="2.5" stroke-linecap="round" fill="none" opacity="0.95"/>
<path d="M185 378.6l-2.5 -0.2M185 378.6l0.5 -2.5M185 378.6l3.6 1.9M185 378.6l2.1 -2.5M253.3 398.4l-2.6 -0.6M253.3 398.4l-4.8 -0M205.5 371.4l0.2 3.6M205.5 371.4l4.2 1.9M194.5 447.5l4 0.3M194.5 447.5l-4.2 -3.4M221.6 402l3 0.2M221.6 402l-3.4 3.7M221.6 402l0.5 2.3M182.8 426.6l0.1 4.9M182.8 426.6l-0.5 -2.6M237.9 428.8l-2.3 -1.1M237.9 428.8l-3 -0.7M237.9 428.8l3.5 -2.7M216.3 408l-2.1 1.5M216.3 408l4.5 -0.6M216.3 408l1.9 0.7M259.9 381l4 2.3M259.9 381l-1.6 -2.4M196.1 391.6l-0.9 5.7M196.1 391.6l2.7 -0.2M196.1 391.6l2.1 1.3M196.1 391.6l1.7 1.3M217.8 382.3l-2.4 1.6M217.8 382.3l-3.8 -2.3M237.4 401.9l-4.5 -1.9M237.4 401.9l4.4 -1.3M244.9 421.5l0.3 -3.8M244.9 421.5l2.3 0.7M244.9 421.5l0.3 -2M244.9 421.5l4.6 1.5M231.9 426.5l3.2 4.9M231.9 426.5l0.6 3.6M231.9 426.5l1.7 -3.4M231.9 426.5l3.7 1.1M196.6 376.7l-2.5 2.2M196.6 376.7l2.2 -1.2M252.5 373.9l-2.5 -2.4M252.5 373.9l2.8 -1.3M252.5 373.9l-1.3 5.2M218.1 432.8l-0.1 -5.5M218.1 432.8l-2.7 -5.2M218.1 432.8l2.3 -1.3M218.1 432.8l-5.7 0.8M261.9 384.8l-3.1 -0.6M261.9 384.8l5.7 1.5M255.3 381.7l-2.7 -4.1M255.3 381.7l3.3 -1.3M255.3 381.7l1.7 2M255.3 381.7l0.2 4.7M244.1 390.5l4.2 -3.5M244.1 390.5l1.6 5.2M244.1 390.5l-5.7 0.1M209.1 394.9l5 0.3M209.1 394.9l1.4 -4.8M209.1 394.9l0.1 -2.4M240.6 416.2l3.6 1.6M240.6 416.2l4.2 1.1M207.2 446.5l-1.7 -1.5M207.2 446.5l5.2 0M207.2 446.5l2.8 0.9M219.9 377.7l0.3 -4.9M219.9 377.7l-2.4 1.2M219.9 377.7l3.4 2.9M219.9 377.7l-2.1 -4.4M242.2 409.4l-2.2 -0.2M242.2 409.4l2.4 1.6M242.2 409.4l-3.2 0.5M255.3 413.4l1.7 2.5M255.3 413.4l-3.1 2.6M255.3 413.4l1.8 -3.5M255.3 413.4l-1.7 -3.8" stroke="#e040ec" stroke-width="1.05" stroke-linecap="round" fill="none" opacity="0.9"/>
<path d="M189 384.7l0.5 3.2M194.6 432.9l-0.7 3.3M249.2 415.7l1.1 2.4M250 378.3l-1.4 3.5M244.5 387.1l-1 1.8M183.9 442.9l2.3 1.1M236.6 378.2l0.8 3.1M186.5 442.1l0.6 1M234.3 404.1l-1.2 3.3M245.2 381.7l-0.4 0.1" stroke="#d836e4" stroke-width="2.0" stroke-linecap="round" fill="none" opacity="0.95"/>
<path d="M205.1 377.6l-3.2 0.8M223.9 420.2l-1.7 1.4M250.6 398.1l-0.2 0.1M252.9 440.1l-4 0.8M240 443.2l-3.9 1.2M239 419.1l0.1 0.1M187.1 427.3l2.1 4M224.4 384.2l-0.1 0.2M182.4 419.1l0.5 4.3" stroke="#e060f0" stroke-width="2.5" stroke-linecap="round" fill="none" opacity="0.95"/>
<path d="M205.1 377.6l3.4 -0M205.1 377.6l-2.1 -2.4M223.9 420.2l-0.7 2.5M223.9 420.2l1.5 -1.5M250.6 398.1l-4.2 -0.1M250.6 398.1l5 2.8M250.6 398.1l-1.5 1.4M252.9 440.1l3.5 -4.6M252.9 440.1l3.6 -3.4M252.9 440.1l1.7 -3.8M252.9 440.1l4.7 0.3M222.9 383.4l4.8 0.6M222.9 383.4l-1.4 5.3M222.9 383.4l-4.7 1.1M184.9 434.7l0.2 3.8M184.9 434.7l2.5 0.8M184.9 434.7l3.7 4M248 404.9l3 -0.9M248 404.9l-3.4 1.4M240 443.2l-1.3 -2.4M240 443.2l-0.4 5.6M240 443.2l0.7 5.6M239 419.1l-1.4 5.8M239 419.1l0.8 -4.1M239 419.1l1.1 -2.3M239 419.1l-2.9 4.4M243.8 451.1l3.7 1.3M243.8 451.1l1 2.6M237 390.8l-3.8 -2.1M237 390.8l-1.1 -2.9M237 390.8l-1 -2M187.1 427.3l4.2 -3.5M187.1 427.3l-0.9 -5M187.1 427.3l-0.6 3.1M205.2 416.7l2.4 -4.6M205.2 416.7l-1.8 -5.4M205.2 416.7l-5.3 -1.1M205.2 416.7l-0.5 2.5M209.6 436.7l5.2 0.1M209.6 436.7l-1.4 -2.9M211.3 438.5l-3.2 4.6M211.3 438.5l-4.8 -2.7M211.3 438.5l1.2 -3.6M211.3 438.5l-1.5 2M224.4 384.2l2 -2.4M224.4 384.2l-1.9 -3.4M224.4 384.2l-0.1 2.3M198.4 426.9l-4.3 3.3M198.4 426.9l-1.7 -1.6M198.4 426.9l-4.9 1.3M227.1 394.1l-0.7 -4.7M227.1 394.1l-0.5 -2.7M240.3 429.6l2.8 -1.2M240.3 429.6l2.2 3.1M263.8 373.7l4 2.2M263.8 373.7l-0 2.5M263.8 373.7l3.9 3.2M233 448.7l3.2 -0.4M233 448.7l2.9 2.7M233 448.7l3 1.8M228.5 406.6l2.2 1.9M228.5 406.6l-4.6 1.7M228.5 406.6l2.3 -0.9M228.5 406.6l-1.7 2.4M216.4 386.5l-2.9 1.2M216.4 386.5l3.4 -1.3M216.4 386.5l2.4 -5M216.4 386.5l-0.7 -3.1M247.5 404.9l-2.5 4.5M247.5 404.9l1.9 -2.5M229.1 433.9l2.1 1.7M229.1 433.9l2.7 2.2M229.1 433.9l3.4 0.3M213.3 379.4l0.5 2.2M213.3 379.4l-3.4 -0.2M220.8 410.1l3.5 -2.1M220.8 410.1l0 3M190.3 394.9l-2.5 -3.2M190.3 394.9l2.1 0.1M182.4 419.1l0.8 5.7M182.4 419.1l0.3 -3.7M182.4 419.1l1 -3.6M182.4 419.1l-3.4 3.6" stroke="#e060f0" stroke-width="1.05" stroke-linecap="round" fill="none" opacity="0.9"/>
<path d="M254.4 414.5l3.9 1.1M193.5 440.8l-3.8 2.1M250.2 411.4l0.2 0.5M197 396.4l-1.1 3.9M197.4 429.6l2.8 1.1M237.7 421.9l2.9 2.8M184.1 409.1l-4.2 2.4M207.8 377.8l2.2 1.9M211.1 438.5l-2.6 2.7M215.9 392.6l-0.5 1.2M183.8 408.3l-1.1 0.9" stroke="#ec7cf2" stroke-width="2.5" stroke-linecap="round" fill="none" opacity="0.95"/>
<path d="M245.2 421l0.1 2.5M195.2 443l-3.2 3.4M220.3 376l1.5 1.2M213.8 435.8l1.1 0.1M239.2 373.4l-1.2 1M247.1 397.2l-4.7 1.8M253.4 420.6l-1.5 3.5" stroke="#ec7cf2" stroke-width="3.0" stroke-linecap="round" fill="none" opacity="0.95"/>
<path d="M211.4 382.2l-5.9 0.3M255.2 412.1l3.2 1.5" stroke="#e24cee" stroke-width="3.0" stroke-linecap="round" fill="none" opacity="0.95"/>
<path d="M205.5 371.4l-2.9 1.3M216.3 408l2.3 0.9M196.1 391.6l-3.8 2.6M231.9 426.5l-3.9 1.8M218.1 432.8l-3.9 3.8M209.1 394.9l1.1 3.7" stroke="#e040ec" stroke-width="3.0" stroke-linecap="round" fill="none" opacity="0.95"/>
<path d="M222.9 383.4l-2.2 1.6M248 404.9l-1.6 0.6M243.8 451.1l-0.3 1M205.2 416.7l3.1 0.9M198.4 426.9l0.1 1.5M227.1 394.1l1.1 3.6M233 448.7l-1.1 2.2M228.5 406.6l-1.6 2.4M247.5 404.9l1.5 0.8M220.8 410.1l-0 2.3" stroke="#e060f0" stroke-width="2.0" stroke-linecap="round" fill="none" opacity="0.95"/>
<path d="M184.9 434.7l-1.1 1.5M209.6 436.7l0 0.1M263.8 373.7l0 2.6M216.4 386.5l-0.1 0.1" stroke="#e060f0" stroke-width="1.5" stroke-linecap="round" fill="none" opacity="0.95"/>
<path d="M207.1 451.7l-2.7 1.3" stroke="#d836e4" stroke-width="1.5" stroke-linecap="round" fill="none" opacity="0.95"/>
<path d="M194.5 447.5l-0.5 0.3M182.8 426.6l-1.4 2.8M196.6 376.7l0.7 0.1M252.5 373.9l-0.8 1.6M255.3 381.7l-1.4 1.3M240.6 416.2l-0.2 0.3M242.2 409.4l0.8 0.1" stroke="#e040ec" stroke-width="2.0" stroke-linecap="round" fill="none" opacity="0.95"/>
<path d="M191 417.2l-0.6 0.9M206.6 449.3l-0.7 3M249.7 445.7l0 0.2M255.5 447.4l-2.7 1.8M250 438.1l-0.6 1.1M244.1 405.2l-0 0.1M192.4 415l-0.2 1M223.2 399.7l-0.5 3.6M249.6 405.1l1.7 3.6" stroke="#cc30dc" stroke-width="2.0" stroke-linecap="round" fill="none" opacity="0.95"/>
<path d="M237.9 428.8l0.2 0.1M259.9 381l-0.6 2.1M217.8 382.3l0.3 0.8M244.9 421.5l-1.4 0.3M261.9 384.8l-1.5 0.3M244.1 390.5l-1.8 1.6M207.2 446.5l-0 0.1" stroke="#e040ec" stroke-width="1.5" stroke-linecap="round" fill="none" opacity="0.95"/>
<path d="M225.9 430.4l1 2M255.9 394.7l0.1 1.1M258.6 417.8l-1.4 0M209.4 440.6l0.7 0.1M261.8 444.2l0.3 1.9" stroke="#ec7cf2" stroke-width="1.5" stroke-linecap="round" fill="none" opacity="0.95"/>
<path d="M263.1 393.7l-0.1 0M188.9 417.6l0.3 0.2M251.8 401.3l-0.3 0" stroke="#e24cee" stroke-width="1.5" stroke-linecap="round" fill="none" opacity="0.95"/>
<path d="M219.7 371.8l-1.2 1.3M244.8 419.2l2.3 1.7M197.2 384.9l-0 0.1M206.3 425.4l-1.1 2.1" stroke="#cc30dc" stroke-width="1.5" stroke-linecap="round" fill="none" opacity="0.95"/>
<path d="M237 390.8l-0.3 0.1M211.3 438.5l4.9 3.4M240.3 429.6l3.1 0.9M229.1 433.9l-3.4 0.7M213.3 379.4l-2.3 2.7M190.3 394.9l0.9 1.4" stroke="#e060f0" stroke-width="3.0" stroke-linecap="round" fill="none" opacity="0.95"/>
<path d="M249.2 405l0.4 -0.7M252.8 448.5l0.9 -0.2M241.6 427.8l-0.7 -0.8M236 451.3l0.4 0.2M260.6 387.3l0.9 -0.8" stroke="#302080" stroke-width="2.2" stroke-linecap="round" fill="none" opacity="0.95"/>
</svg>
<rect x="181" y="371.3" width="83.8" height="81.7" fill="none" stroke="#3a3a3a" stroke-width="1.2" />
<svg x="266.8" y="371.3" width="83" height="81.7" viewBox="266.8 371.3 83 81.7" overflow="hidden">
<rect x="266.8" y="371.3" width="83" height="81.7" fill="#fbfbfb" stroke="none" stroke-width="1" />
<path d="M343.6 448.8l0 0M304.6 373.3l0 0M348.2 412l0 0M330.8 388.1l0 0M276.3 379.4l0 0M312.4 392.4l0 0M323.8 450.9l0 0M311.5 452l0 0M345.7 388.9l0 0M313.1 390.8l0 0M271.1 394.6l0 0M329 404.1l0 0M291.5 444.7l0 0M267.4 374.3l0 0M314.1 434.3l0 0M297.2 449.3l0 0M348.2 408.6l0 0M299.3 402.5l0 0M326.5 383l0 0M311.8 381.2l0 0M291.3 450l0 0M273.4 377.9l0 0M326.6 449.5l0 0M301.8 423.2l0 0M339.5 387.4l0 0M329.7 405.7l0 0M319.6 382.7l0 0M313.1 451l0 0M290.5 430l0 0M335.9 388.3l0 0M276.4 406.5l0 0M297.7 373.9l0 0M322.1 402l0 0M281.3 443.2l0 0M341.4 419.6l0 0M311.7 423.6l0 0M321.4 387l0 0M301 387.5l0 0M333.6 444.8l0 0M267.1 376.2l0 0M326.3 436.7l0 0M308.8 422.4l0 0M286.8 445.3l0 0M285.4 406l0 0M311.8 408l0 0M306.7 377.5l0 0M279.9 430.7l0 0M279 447.1l0 0M273.3 377.2l0 0M286 420.7l0 0M267.9 381.4l0 0M316.5 437.6l0 0M291.5 422.1l0 0M325.3 422.4l0 0M296.8 450.3l0 0M323.4 400.2l0 0M345.7 429.1l0 0M285.3 372.6l0 0M291.3 426.7l0 0M295 419.1l0 0M288.5 411.5l0 0M335.3 440.1l0 0M299.3 444.9l0 0M331.7 377.2l0 0M270.5 390.1l0 0M293.1 444.2l0 0M268.5 393.8l0 0M316.5 435.4l0 0M278.7 443.9l0 0" stroke="#8a70c8" stroke-width="0.75" stroke-linecap="round" fill="none" opacity="0.8"/>
<path d="M268.2 396.4l0 0M273.9 410l0 0M341.5 415.6l0 0M318.2 381.1l0 0M275.1 402.6l0 0M347.7 375.9l0 0M295.5 450.9l0 0M305.5 387.4l0 0M301.8 444.9l0 0M330 424.9l0 0M334.3 444.4l0 0M281.2 408l0 0M285.6 376.4l0 0M298.1 372.8l0 0M346.5 399.2l0 0M270.4 443.8l0 0M308.5 380.3l0 0M349 394l0 0M287.4 451.6l0 0M337.9 388.1l0 0M311.1 441.5l0 0M335.8 374.5l0 0M280.2 397.1l0 0M271.7 397.1l0 0M306 384.4l0 0M299.9 401.3l0 0M343.1 451.5l0 0M329.1 437.6l0 0M289.1 394.5l0 0M322.3 380.4l0 0M279.1 422.8l0 0M291.8 436.8l0 0M312.3 443.1l0 0M295.9 447l0 0M285.7 451.8l0 0M307.6 397.6l0 0M302.2 432.1l0 0M294.4 418l0 0M327.4 440.2l0 0M342.6 440.6l0 0M337.2 452.3l0 0M344.6 450.8l0 0M300.9 397.9l0 0M337.3 428.1l0 0M336.8 438.2l0 0M291.1 432.9l0 0M279.8 445l0 0M270.6 444.2l0 0M315 416.7l0 0M320.2 448.9l0 0M329.3 380l0 0M331.9 420l0 0M292.4 442.1l0 0M339.1 381.7l0 0M329.2 423.5l0 0M324.3 383.6l0 0M324 446.3l0 0M276.3 417.9l0 0M334.2 405.3l0 0M327.9 442.2l0 0M309.6 414.2l0 0M308.4 404.1l0 0M267.6 452.9l0 0M291.5 374.9l0 0M296.4 451.6l0 0M300 428.2l0 0M339.2 382.5l0 0M338.6 382.4l0 0M340.2 442.3l0 0M282.5 394.9l0 0M305.8 419.1l0 0" stroke="#c0a0e0" stroke-width="0.75" stroke-linecap="round" fill="none" opacity="0.8"/>
<path d="M310.8 381.9l0 0M315.8 407.9l0 0M299.5 384.6l0 0M272.6 449.8l0 0M327.3 406.5l0 0M267.1 402.1l0 0M289.9 378.6l0 0M340.9 452l0 0M280.9 451.1l0 0M348.6 382.4l0 0M269.2 399.9l0 0M349.1 433.2l0 0M321.9 414.7l0 0M304.7 425.2l0 0M322.5 407.7l0 0M319.2 437.8l0 0M317.1 414.7l0 0M279.5 427.6l0 0M321.3 382.1l0 0M307.4 431.5l0 0M329.2 387.4l0 0M316.7 444.2l0 0M275 419l0 0M330.6 379.4l0 0M316 452.3l0 0M345.4 423.1l0 0M289.1 430.5l0 0M288.1 447l0 0M323.8 451.5l0 0M272.2 381.7l0 0M276.4 406.9l0 0M342.9 452.9l0 0M269.9 424.8l0 0M331.5 415.7l0 0M290.1 436.5l0 0M288 414l0 0M332.4 380.8l0 0M281.7 439.3l0 0M309.5 405.2l0 0M339.5 433.9l0 0M289.2 434.4l0 0M273.8 391.5l0 0M298 404.5l0 0M314.9 444.7l0 0M310.4 442.1l0 0M269.5 437.2l0 0M289 387.2l0 0M288 400l0 0M346 402.7l0 0M276.5 432.4l0 0M346.9 429.2l0 0M273.5 417.5l0 0M290.1 380.7l0 0M285.7 427.7l0 0M322.9 414.9l0 0M304.7 387.7l0 0M297.8 421l0 0M287.9 436.7l0 0M300.6 442.7l0 0" stroke="#a080e0" stroke-width="0.75" stroke-linecap="round" fill="none" opacity="0.8"/>
<path d="M289 372.5l0 0M315.7 425.1l0 0M284.7 431.4l0 0M329.9 401.4l0 0M290.1 450.9l0 0M322.7 413.8l0 0M286.6 415.9l0 0M313 424.4l0 0M330.8 416.8l0 0M319.2 398.5l0 0M345.8 377.7l0 0M323.9 380.6l0 0M306.7 427.6l0 0M326.6 385.8l0 0M329.5 443.5l0 0M283.4 417.5l0 0M336.3 378.7l0 0M348.6 422.3l0 0M295.9 388.5l0 0M347.1 415.1l0 0M276.5 372.7l0 0M342.5 447.9l0 0M285.1 425.9l0 0M347.3 380.4l0 0M309.3 393.5l0 0M288.4 447l0 0M334 433.3l0 0M296.2 419l0 0M278.7 382.7l0 0M310.1 415.2l0 0M336.4 393l0 0M304.9 384.3l0 0M332.6 398.7l0 0M327.9 383.8l0 0M332.3 379.8l0 0M310.2 449.1l0 0M314.1 423l0 0M300 431.7l0 0M281.5 372.9l0 0M341.1 439.3l0 0M295 415.7l0 0M337.5 433.6l0 0M328.7 394.4l0 0M275.9 452.2l0 0M270 418.2l0 0M310.7 411.9l0 0M314.2 391.1l0 0M315 374l0 0M312.3 425.7l0 0M273 398l0 0M311.1 402.7l0 0M279.6 382.7l0 0M282.4 436.9l0 0M334.4 408.1l0 0M313.9 408.7l0 0M287 378.8l0 0M287.4 398.4l0 0M342.2 390.6l0 0M326.5 406.6l0 0M322.9 429.7l0 0M327.2 403.1l0 0M336.5 413.2l0 0M326.6 388.4l0 0M296.1 409.6l0 0M298 407.2l0 0M311.4 381.3l0 0M281.8 379.8l0 0M323.4 433.2l0 0M300.9 439.1l0 0M308.4 397l0 0M267.1 419.3l0 0M347.4 390.7l0 0M316.4 430l0 0M302.6 445.2l0 0M330.1 374.4l0 0M338.6 401.5l0 0" stroke="#606060" stroke-width="0.75" stroke-linecap="round" fill="none" opacity="0.8"/>
<path d="M309.3 431.3l0 0M281.9 385.9l0 0M313.9 448.1l0 0M334.9 398.3l0 0M307.5 374.3l0 0M312.1 406l0 0M346.3 436.6l0 0M346 405.6l0 0M317 395.1l0 0M300.6 437l0 0M270.3 437.2l0 0M299.6 426.8l0 0M344.2 395.4l0 0M316.8 419.6l0 0M328.6 446.9l0 0M296.4 451.5l0 0M328 405.7l0 0M347.7 431.8l0 0M301.9 427.4l0 0M337.5 435.3l0 0M322.2 380.5l0 0M337.6 378l0 0M283.8 412.2l0 0M303.9 375.7l0 0M295.8 388.1l0 0M268.8 441.4l0 0M324.3 380l0 0M300.8 381.7l0 0M334.5 444.1l0 0M322 440.5l0 0M274.6 422.5l0 0M296.3 379.6l0 0M277.3 372.4l0 0M340.5 371.6l0 0M276.8 431.4l0 0M284.9 371.9l0 0M326.6 371.5l0 0M312.8 385.3l0 0M297.1 388l0 0M336.8 428.6l0 0M319.7 425.5l0 0M288.3 384.8l0 0M286.2 389.1l0 0M304.2 379.5l0 0M295 433.1l0 0M346.6 426.9l0 0M339.4 387.2l0 0M269.8 432.8l0 0M283 414.3l0 0M287.3 409l0 0M325.2 373.1l0 0M319.8 419.6l0 0M329.7 430.4l0 0M293.8 452.8l0 0M277.2 389.4l0 0M336.2 372.3l0 0M275.2 438.6l0 0M341 422.9l0 0M331.9 383.2l0 0M305.8 371.8l0 0M347.8 426.1l0 0M330.7 398.4l0 0M294.1 440.8l0 0M329.9 398.3l0 0M310.9 399.1l0 0" stroke="#909090" stroke-width="0.75" stroke-linecap="round" fill="none" opacity="0.8"/>
<path d="M307.3 397.9l1.8 0.3M334.2 415l1.4 0.5M291 450.6l0.7 0.7" stroke="#cc34dc" stroke-width="1.5" stroke-linecap="round" fill="none" opacity="0.95"/>
<path d="M307.3 397.9l-0.5 2.7M307.3 397.9l2.1 0.2M334.2 415l-1.2 3M291 450.6l1.9 -2.2M327.2 381.8l-0.7 -2.2M327.2 381.8l2.1 -1.4M338.3 442l-1.7 1.8M309.4 379.1l-1.2 -2.2" stroke="#cc34dc" stroke-width="1.0" stroke-linecap="round" fill="none" opacity="0.9"/>
<path d="M342.4 432.7l1.3 1.5M347.9 412.2l0.6 0.7M290.8 410.9l1 0.5M308.7 443.7l-0.2 0.4" stroke="#e060f0" stroke-width="1.5" stroke-linecap="round" fill="none" opacity="0.95"/>
<path d="M342.4 432.7l-1.1 -2.8M347.9 412.2l1.3 2M311.8 425.3l2.1 1.1M330.5 419.2l2.3 -2.2M330.5 419.2l-1.6 -1.4M290.8 410.9l2 -2.4M290.8 410.9l-0.5 -2.2M314.6 416.9l0.5 2.4M308.7 443.7l-0.9 3.3M308.7 443.7l2 2.7" stroke="#e060f0" stroke-width="1.0" stroke-linecap="round" fill="none" opacity="0.9"/>
<path d="M281.7 435.3l-0.2 0.7M279.9 431.3l0.3 0.5M323.9 447.3l2 0" stroke="#d838e6" stroke-width="1.5" stroke-linecap="round" fill="none" opacity="0.95"/>
<path d="M281.7 435.3l-2.4 1.8M281.7 435.3l-2.2 -0.5M279.9 431.3l2.4 1.7M323.9 447.3l-0 2.5M323.9 447.3l1.2 1.4" stroke="#d838e6" stroke-width="1.0" stroke-linecap="round" fill="none" opacity="0.9"/>
<path d="M266.9 403.9l0.2 0.2M294.3 392.2l-0.6 0.5M273.8 414.6l-0.1 0.9M330.4 418.9l0.2 1.3M268.4 418l0.3 0.5" stroke="#b040f0" stroke-width="1.5" stroke-linecap="round" fill="none" opacity="0.95"/>
<path d="M266.9 403.9l1.2 1M266.9 403.9l-0.1 -2.7M294.3 392.2l1.9 0.3M294.3 392.2l1.5 2.3M273.8 414.6l1.8 2.5M341.8 445.4l-0 1.6M341.8 445.4l1.4 2.6M269 421l-0.7 -1.9M330.4 418.9l-1.9 -1.2M330.4 418.9l-2.5 0.2M268.4 418l0.2 -3.5M268.4 418l0.3 -3.1M300.1 398.2l-1.5 1.8" stroke="#b040f0" stroke-width="1.0" stroke-linecap="round" fill="none" opacity="0.9"/>
<path d="M288.8 438.8l-0.1 0.2M290.1 434.1l1.2 2.3M300.1 397.6l-0.2 1.9M290.8 442.2l1 1.8M287.9 405.4l-1.1 2M297.1 380.3l0.6 1.7M310.6 417l-2.3 1" stroke="#ee5cf2" stroke-width="2.0" stroke-linecap="round" fill="none" opacity="0.95"/>
<path d="M288.8 438.8l1.1 -1.3M290.1 434.1l1.3 0.7M290.1 434.1l-0.1 -2.7M274 397.4l-1 -1.1M271.7 393l2.1 1.6M300.1 397.6l2.9 -0.5M300.1 397.6l-1.6 0M302.9 413.6l2 -2.4M302.9 413.6l2.9 1M344.2 417.3l1.3 -3.2M344.2 417.3l-1.7 1.8M290.8 442.2l-2.5 -0.2M290.8 442.2l-2.4 0.4M287.9 405.4l-2.2 -0.2M297.1 380.3l-2.6 1M297.1 380.3l2.8 1.2M308.7 375.5l-0 1.8M308.7 375.5l1.9 2.3M292 390l3.1 0.3M292 390l2.1 -0.3M310.6 417l-2.2 -2.7" stroke="#ee5cf2" stroke-width="1.0" stroke-linecap="round" fill="none" opacity="0.9"/>
<path d="M288.7 410.1l-1.1 0.5M333.3 434.4l-0.6 0.1M315.7 386.2l-0.3 2" stroke="#e33fee" stroke-width="2.5" stroke-linecap="round" fill="none" opacity="0.95"/>
<path d="M288.7 410.1l-1.6 -2.2M288.7 410.1l0.1 -2.1M285 409.3l1.7 0.5M309.8 411.6l3.1 -1M309.8 411.6l-2.5 -0.2M333.2 415.3l1.5 -0.4M333.2 415.3l-2.1 -1.2M333.3 434.4l2.5 1.5M298.5 397.5l-2.7 1.9M318.3 411.6l1.8 -2.7M334.8 397.7l0.1 3.4M334.8 397.7l3.3 0.2M315.7 386.2l-1.1 2.7M315.7 386.2l-2.8 -1.1M267.9 405.6l-3.2 -0.1M322.7 409.1l-2.5 -2M322.7 409.1l-0 1.9M310.4 391.9l1.2 1.4M267.7 401.2l-2.8 -2M267.7 401.2l0.8 1.6" stroke="#e33fee" stroke-width="1.0" stroke-linecap="round" fill="none" opacity="0.9"/>
<path d="M274 397.4l-0.2 1.7M271.7 393l-0 0.2M308.7 375.5l-0.2 1M292 390l0.3 1.9" stroke="#ee5cf2" stroke-width="1.5" stroke-linecap="round" fill="none" opacity="0.95"/>
<path d="M311.8 425.3l0.1 1.3M330.5 419.2l0.2 2.7M314.6 416.9l-0.3 0.1" stroke="#e060f0" stroke-width="2.0" stroke-linecap="round" fill="none" opacity="0.95"/>
<path d="M285 409.3l0.8 0.5M333.2 415.3l0 0" stroke="#e33fee" stroke-width="1.0" stroke-linecap="round" fill="none" opacity="0.95"/>
<path d="M341.8 445.4l-0.9 1.8" stroke="#b040f0" stroke-width="2.0" stroke-linecap="round" fill="none" opacity="0.95"/>
<path d="M309.8 411.6l1.4 1.1M267.9 405.6l-1.9 0.2M322.7 409.1l-0.2 0.9M310.4 391.9l0.2 0.5M267.7 401.2l-1 0.7" stroke="#e33fee" stroke-width="1.5" stroke-linecap="round" fill="none" opacity="0.95"/>
<path d="M269 421l-1.5 0.7M300.1 398.2l-0.5 0.1" stroke="#b040f0" stroke-width="2.5" stroke-linecap="round" fill="none" opacity="0.95"/>
<path d="M327.2 381.8l0.1 0.6" stroke="#cc34dc" stroke-width="1.0" stroke-linecap="round" fill="none" opacity="0.95"/>
<path d="M298.5 397.5l-0.2 0.4M318.3 411.6l0.1 0M334.8 397.7l1.4 0.1" stroke="#e33fee" stroke-width="2.0" stroke-linecap="round" fill="none" opacity="0.95"/>
<path d="M338.3 442l-0.6 0M309.4 379.1l1.7 2.1" stroke="#cc34dc" stroke-width="2.0" stroke-linecap="round" fill="none" opacity="0.95"/>
<path d="M302.9 413.6l2.4 0.1M344.2 417.3l1.4 2.1" stroke="#ee5cf2" stroke-width="2.5" stroke-linecap="round" fill="none" opacity="0.95"/>
<path d="M280.2 401.6l0.1 0.4M288.8 409.1l-0.2 1M340.5 400.9l-0.6 0.8" stroke="#2a1a80" stroke-width="2.2" stroke-linecap="round" fill="none" opacity="0.95"/>
</svg>
<rect x="266.8" y="371.3" width="83" height="81.7" fill="none" stroke="#3a3a3a" stroke-width="1.2" />
<svg x="9.3" y="498.3" width="82.7" height="82.2" viewBox="9.3 498.3 82.7 82.2" overflow="hidden">
<rect x="9.3" y="498.3" width="82.7" height="82.2" fill="#fbfbfb" stroke="none" stroke-width="1" />
<path d="M10.3 507.5l0 0M20.6 542.3l0 0M19.1 561.6l0 0M37.5 515.2l0 0M20.4 510.4l0 0M11.8 558.7l0 0M63.2 516.2l0 0M66.8 506.2l0 0M68.3 568.5l0 0M80.5 579l0 0M49.4 563.8l0 0M49.8 562.6l0 0M38.1 499.2l0 0M55.2 544.2l0 0M28.1 514.3l0 0M70.9 575.8l0 0M40.8 523.6l0 0M26.7 501l0 0M82.5 555.3l0 0M11 572.8l0 0M55.1 516.5l0 0M36.4 558.3l0 0M15.6 538.9l0 0M45.7 537.8l0 0M28.7 579.9l0 0M80.3 503l0 0M84.5 524.8l0 0M82.3 532.2l0 0M37.5 577.2l0 0M73.4 566.9l0 0M31.3 562.4l0 0M75.5 542.8l0 0M48.7 510.1l0 0M31.1 543.1l0 0M21.6 578l0 0M77.4 525.9l0 0M67.8 559l0 0M36.2 518.8l0 0M85.7 527.8l0 0M89.4 536.6l0 0M10.7 542.2l0 0M44.2 540.3l0 0M47.8 544l0 0M18.9 540l0 0M17.7 502.6l0 0M15.4 509.3l0 0M81.2 570.4l0 0M60.9 510.5l0 0M53 522.3l0 0M76.7 518.8l0 0M82.3 525.1l0 0M88 557.6l0 0M42.9 556.3l0 0M41.1 533.9l0 0M71.3 551.1l0 0M62.3 561.9l0 0M24.4 558.5l0 0M76.9 554.1l0 0M50.2 509.4l0 0M10.2 527.6l0 0M81.6 502.7l0 0M82.8 529.3l0 0M65.5 518l0 0M10.1 577.5l0 0M13.6 553.1l0 0M24.3 506.1l0 0M52.3 569l0 0M74.9 529.4l0 0M69.3 510.1l0 0M85.6 512.3l0 0M77.6 522.7l0 0M91.6 557l0 0M28.4 515.6l0 0M86.5 505.8l0 0M47.2 510.3l0 0M10.9 506.4l0 0M11.5 527.1l0 0M89.6 499.4l0 0M67.3 564.1l0 0M46.9 562.1l0 0M51 533.6l0 0M11.2 528.4l0 0M19.8 518l0 0M36.3 502.7l0 0M66.8 511.7l0 0M48.8 573l0 0M70.9 549.1l0 0M45 536.5l0 0M71.1 556.4l0 0M32.4 565.3l0 0M76.5 553.9l0 0M37.3 510.5l0 0M75.6 534.5l0 0M88 557.3l0 0M59.2 549.8l0 0M64.6 512.3l0 0M14.4 507.6l0 0M60.4 553.8l0 0M39.6 536.5l0 0M28.3 529.4l0 0M26.3 551l0 0M57.8 549.4l0 0M24.4 513.8l0 0M35.4 550.4l0 0M31.7 568.4l0 0M22.2 515l0 0M15.5 525.7l0 0M72 521.8l0 0M15 568.9l0 0M38.2 547.1l0 0M80.6 531.5l0 0M63.8 517.4l0 0M27.7 523.4l0 0M59.9 543l0 0M11.8 556.9l0 0M77.9 564.1l0 0M77.3 529.8l0 0M48.3 516.8l0 0M53.4 569.4l0 0M67.8 539.8l0 0M69.1 564l0 0M31.8 520.5l0 0M54.3 507.5l0 0M82.9 547.5l0 0M21.7 511.9l0 0M9.8 505.3l0 0M37.3 580.2l0 0M60.1 526.4l0 0M81.9 514.8l0 0M27.2 551.5l0 0M20.4 506.7l0 0M12 566.1l0 0M11.9 561.9l0 0M49.2 549.7l0 0M58.4 576.6l0 0M89.6 558.5l0 0M88.5 517.1l0 0M68.6 572.4l0 0M70 527.4l0 0M63.6 533.2l0 0M34 534.6l0 0M11.8 499.2l0 0M81.6 572l0 0M86.6 530.3l0 0M25.9 560.3l0 0M24.4 555.6l0 0M44.3 576.5l0 0M16 498.7l0 0M72.1 507l0 0M77.7 547.7l0 0M39.3 539.2l0 0M22 543.2l0 0M14.4 529l0 0M66.9 531.9l0 0M31.6 525.8l0 0M88.9 533.8l0 0M34.4 578.5l0 0M29.3 565l0 0M58.8 558.4l0 0M68.1 572.7l0 0M20.9 501.7l0 0M28.3 507.3l0 0M86.5 571.6l0 0M39 573.7l0 0M88.5 549.2l0 0M73.4 559.2l0 0M31.3 524.6l0 0M60.7 552.5l0 0M55.7 547.4l0 0M48.8 502.5l0 0M12.9 512.5l0 0M41 545.2l0 0M69.4 536l0 0M79.9 549.6l0 0" stroke="#b090e0" stroke-width="0.75" stroke-linecap="round" fill="none" opacity="0.8"/>
<path d="M20.9 501.9l0 0M21.5 559.2l0 0M52.8 515.1l0 0M69.2 532.5l0 0M88.8 578.6l0 0M46.1 563.1l0 0M31.4 570.1l0 0M61.9 501.4l0 0M57.5 534.9l0 0M20.2 544.9l0 0M57.2 512l0 0M85.3 520.4l0 0M33.9 537.2l0 0M31.9 507.2l0 0M26 516.3l0 0M65.9 567.3l0 0M44.7 544l0 0M77.2 532.8l0 0M76.5 577.6l0 0M35.2 567.9l0 0M37.9 568.8l0 0M76.6 503.6l0 0M43.5 522.8l0 0M88.9 531.2l0 0M22.7 501.3l0 0M80.6 556.3l0 0M69.7 547.7l0 0M25.9 532.4l0 0M49.9 541.5l0 0M9.4 539.7l0 0M71.6 530.9l0 0M66.8 549.7l0 0M11.4 530.9l0 0M19.1 519.1l0 0M14.9 516.1l0 0M52.6 503l0 0M56.1 510.9l0 0M46.3 504.9l0 0M19.4 561.4l0 0M55.9 551.3l0 0M85.3 545.3l0 0M51.1 506.3l0 0M26.7 524.4l0 0M55.5 557.3l0 0M87.6 534.1l0 0M11.9 550l0 0M18 566.4l0 0M65.4 542.1l0 0M30.3 513.6l0 0M69.9 569.6l0 0M26.1 504.6l0 0M18 508.9l0 0M9.6 529l0 0M32.9 509.8l0 0M28.4 552.4l0 0M38.7 545.5l0 0M81.6 542l0 0M38.2 540.3l0 0M49.9 551.8l0 0M14.4 566.2l0 0M80.4 530.2l0 0M24.7 506.6l0 0M67.5 554.2l0 0M53.8 527.1l0 0M42.9 548.2l0 0M81.7 518.9l0 0M79.7 534l0 0M56.5 532.5l0 0M18.4 517.9l0 0M63.4 518.1l0 0M19.2 515.2l0 0M71.6 540.2l0 0M57.5 573.1l0 0M36.7 499.1l0 0M25.5 567.2l0 0M38.6 501.5l0 0M56.6 551l0 0M62.1 534.3l0 0M74.5 523.4l0 0M82 546.8l0 0M87.9 580.3l0 0M32.9 559.4l0 0M85.5 549.6l0 0M73.1 539.2l0 0M86.9 500.3l0 0M22.5 535.9l0 0M48.2 503.6l0 0M78.1 533.2l0 0M51.3 542.5l0 0M83.8 578.3l0 0M84.4 526.7l0 0M24.8 556.3l0 0M65.9 533.5l0 0M47.3 543.6l0 0M47.5 532.5l0 0M77.5 535.3l0 0M84.9 572.5l0 0M10.7 572.9l0 0M67.8 513.5l0 0M28.6 546.3l0 0M31.2 557.4l0 0M9.4 533.8l0 0M90.4 542.8l0 0M18.8 523l0 0M82 509.2l0 0M30.8 538.7l0 0M34.9 554.1l0 0M71.2 538.2l0 0M63.2 575.4l0 0M17.9 515.6l0 0M43.5 566.3l0 0M85.5 499.2l0 0M14.5 560.4l0 0M44 547.1l0 0M51.9 546.7l0 0M38.4 551.7l0 0M76.1 509.2l0 0M90.8 528.2l0 0M15 564l0 0M72.3 542.5l0 0M67.2 526.4l0 0M41.9 502.6l0 0M84 564.2l0 0M27.8 545.4l0 0M76.3 554.4l0 0M87 577.1l0 0M39.5 522.4l0 0M68.7 541.7l0 0M23.9 529.1l0 0M67 550.4l0 0M24.2 511.7l0 0M81.4 516.3l0 0M46.8 541.9l0 0M45 500.1l0 0M87.8 557.6l0 0M18.9 570.4l0 0M41.1 533l0 0M26.5 566.9l0 0M74.8 543.5l0 0M67.3 557.5l0 0M15 580l0 0M87.7 543.8l0 0M11.5 525.3l0 0M29 539.6l0 0M33.6 513.3l0 0M15.3 519.4l0 0M15.7 514.3l0 0M51.3 541.9l0 0M25.9 542.4l0 0M20.8 516.5l0 0M34.7 507.4l0 0M27.2 536.1l0 0M19.9 521.1l0 0M70.8 572.4l0 0" stroke="#8a50d0" stroke-width="0.75" stroke-linecap="round" fill="none" opacity="0.8"/>
<path d="M53.6 556.8l0 0M39.5 576.8l0 0M69.7 514.2l0 0M74.6 523.5l0 0M32.9 523.4l0 0M88.8 514.8l0 0M85.7 571.2l0 0M87.6 569.5l0 0M69.9 515.4l0 0M82.9 523.5l0 0M41.1 514.6l0 0M18.6 516.1l0 0M46.7 551.9l0 0M43.9 503.9l0 0M72 523l0 0M57.2 531.5l0 0M79.6 553.4l0 0M34.8 530.2l0 0M13.3 545.2l0 0M75.4 575.1l0 0M53.8 534.5l0 0M81.3 569.9l0 0M73.3 508.2l0 0M54.9 547l0 0M71.2 551.4l0 0M88.7 557.6l0 0M44.5 577.8l0 0M75.6 538.4l0 0M40.1 561l0 0M49.3 523.6l0 0M44.6 579.9l0 0M90.1 556.8l0 0M85.7 545l0 0M83.5 521.4l0 0M49.9 526.6l0 0M33.1 555.8l0 0M46.7 511.4l0 0M41.7 554.6l0 0M73.2 575l0 0M15.2 528.8l0 0M59.4 528.9l0 0M27.8 537l0 0M91.7 548l0 0M21.7 498.4l0 0M80.6 551.1l0 0M87 552.3l0 0M61.3 565.8l0 0M58.6 559.7l0 0M45.3 524.7l0 0M28.1 505.2l0 0M78.9 531.4l0 0M62.4 528.1l0 0M40.8 567.2l0 0M28.1 547.7l0 0M46.5 502.9l0 0M58.3 527.7l0 0M58.7 509.5l0 0M70.4 535.8l0 0M86.5 514.7l0 0M44.1 513.5l0 0M48 571.2l0 0M13 532.2l0 0M79.5 509.4l0 0M11 520.7l0 0M90.1 546.7l0 0M53.3 542.6l0 0M58.3 558.4l0 0M66.2 500.6l0 0M72.1 529.8l0 0M89.1 510.7l0 0M69.6 514.5l0 0M65.7 550.7l0 0M22.1 568.9l0 0M49.1 519.5l0 0M13.1 555.5l0 0M35.5 529l0 0M20.6 575.5l0 0M51.1 514.7l0 0M32.7 574.5l0 0M37.6 501.2l0 0M49.4 533.7l0 0M18.7 509l0 0M23.3 574.2l0 0M36.3 554.8l0 0M24.3 544l0 0M43.2 528.1l0 0M79.4 522.8l0 0M50.3 525l0 0M72.8 558.4l0 0M37.2 520.7l0 0M36.8 534.5l0 0M91.9 557.7l0 0M33.8 517.8l0 0M9.6 515l0 0M31.4 558.3l0 0M27.3 566.4l0 0M71.5 570.1l0 0M60.2 513.4l0 0M35.5 540.4l0 0M81 535.3l0 0M12.9 557.2l0 0M85 517.3l0 0M43.6 567.2l0 0M39.6 502.4l0 0M84.5 512.4l0 0M10.6 508.7l0 0M83.6 561.7l0 0M74.8 576.4l0 0M64.7 569.7l0 0M63.8 543.8l0 0M50.6 546.5l0 0M15.1 520.6l0 0M9.3 579.5l0 0M83.7 555.1l0 0M11.6 578.7l0 0M53.8 538.9l0 0M34.3 558.3l0 0M77.1 553.5l0 0M47.8 502.8l0 0M31.2 503.4l0 0M63.4 561.6l0 0M50.2 537.7l0 0M15.8 566.8l0 0M50 568.6l0 0M20 517.1l0 0M19.7 559.1l0 0M41.9 520.4l0 0M47.6 535.6l0 0M83.4 510.8l0 0M88 499l0 0M59.7 572.3l0 0M55.3 554.7l0 0M69 562.3l0 0M82.2 579.1l0 0M22.3 563.8l0 0M61.5 562.8l0 0M30.8 508.4l0 0M53.1 533.2l0 0M71.8 499.4l0 0M39 535.6l0 0M80.9 521.6l0 0M33.5 545.8l0 0M13.5 571.4l0 0M85.2 500.4l0 0M37.5 523.6l0 0M59.1 576.8l0 0M67.3 534.5l0 0M46.1 512.3l0 0M45.6 538.6l0 0M18.7 522.7l0 0M37.2 566.4l0 0M86.1 545.2l0 0M32.6 558.1l0 0M40.1 560.9l0 0M25.2 531.5l0 0M68.4 536.7l0 0M76.4 573.8l0 0M30.3 511.3l0 0M18 569.9l0 0M28.7 509.6l0 0M90 550.3l0 0M87.8 500l0 0" stroke="#a070e0" stroke-width="0.75" stroke-linecap="round" fill="none" opacity="0.8"/>
<path d="M88.2 567.2l0 0M49.2 520l0 0M37 530.9l0 0M55.6 575.2l0 0M17 514.1l0 0M18.7 515l0 0M14.1 548.6l0 0M89.8 561.4l0 0M34.8 565.6l0 0M20.4 508.4l0 0M12 548.8l0 0M30.7 514.9l0 0M35.9 522.7l0 0M90.4 521.1l0 0M29.1 510l0 0M87.1 553.7l0 0M13.3 576.8l0 0M20.9 502.2l0 0M64.5 498.6l0 0M20.5 577.6l0 0M46.8 509.6l0 0M62.6 536.8l0 0M24.7 516.9l0 0M71.7 507.2l0 0M25.6 540.2l0 0M49.2 503.4l0 0M58.5 542.9l0 0M47.4 509.3l0 0M71.6 572.8l0 0M76.4 568l0 0M56.2 517.9l0 0M14.7 531.5l0 0M54.2 530.8l0 0M32.2 527.6l0 0M90.2 575.8l0 0M19.9 552.3l0 0M37.6 519.7l0 0M34.5 534.4l0 0M73.9 579.4l0 0M76.8 555.6l0 0M66.4 530.5l0 0M16.1 519.1l0 0M20.4 562.2l0 0M78.8 564.2l0 0M10.9 570.7l0 0M42.2 522l0 0M66.9 554.5l0 0M52.4 568.6l0 0M58.6 518.9l0 0M91.7 574.4l0 0M15.3 566.4l0 0M54.5 517.9l0 0M43.9 579.2l0 0M58.2 512l0 0M66.6 540.3l0 0M89.8 563l0 0M63.6 566.7l0 0M31.7 576.1l0 0M80.1 514.4l0 0M68.7 560.7l0 0M75 556.8l0 0M53.3 502.6l0 0M47.2 519.8l0 0M77.8 555.5l0 0M87.1 527.1l0 0M89.1 572.3l0 0M43 554.7l0 0M62.4 572.5l0 0M66.8 546l0 0M17 542.6l0 0M89.3 539.4l0 0M11.1 543.6l0 0M84.9 532l0 0M91.3 498.9l0 0M80.2 532.9l0 0M20.5 571.7l0 0M47.5 576l0 0M77.4 499.9l0 0M45.7 499.7l0 0M51.2 579l0 0M22.4 513.6l0 0M41.6 499.5l0 0M62.1 533.6l0 0M17.6 548.7l0 0M75.2 544.7l0 0M14.4 500.6l0 0M10.6 552.8l0 0M18.7 544.5l0 0M67.6 533.3l0 0M27.6 542.1l0 0M19.7 513.8l0 0M91 569.2l0 0M22.1 520.1l0 0M56.9 510l0 0M33.3 528.7l0 0M18.9 574.3l0 0M45.7 515.4l0 0M20.1 537.5l0 0M83.4 516.8l0 0M29.7 519l0 0M81.5 499.1l0 0M63.1 540.1l0 0M19.7 534.9l0 0M62.9 536.7l0 0M83.2 569.7l0 0M63.9 540.1l0 0M87.1 563.2l0 0M65.3 574.7l0 0M59.5 526.8l0 0M31.7 544l0 0M91.2 557.5l0 0M70.8 520l0 0M73 518.6l0 0M75.8 569.4l0 0M34.9 541l0 0M31.8 504.4l0 0M54.6 578.6l0 0M87.8 547.9l0 0M82.8 532.6l0 0M23.1 578l0 0M32.3 560.1l0 0M46.2 505.9l0 0M65.9 506l0 0M45.1 540.1l0 0M19.2 573l0 0M82.1 508.9l0 0M87.6 516.8l0 0M11.7 509.5l0 0M37.4 541.3l0 0M53.4 568.2l0 0M83.1 540.1l0 0M64.4 505.9l0 0M75.6 566.5l0 0M79.9 519.2l0 0M69.8 542.2l0 0M68.5 577.4l0 0M85.3 543.9l0 0M34.1 524.1l0 0M60.1 540.8l0 0M60.9 548.3l0 0M21.9 551.9l0 0M58.6 561.2l0 0M75.3 503.6l0 0M66.1 540.2l0 0M9.5 546.1l0 0M63.3 580.2l0 0M14.5 521.5l0 0M61.5 569.1l0 0M60.2 505.6l0 0M90.4 532.4l0 0M80.4 526.8l0 0M83.9 550l0 0M48.5 570.2l0 0M49.7 562.6l0 0M37.1 550.2l0 0M44.6 514.2l0 0M58.9 519.5l0 0M20.6 542.4l0 0M59.6 525l0 0M89.6 549.8l0 0" stroke="#7a60a0" stroke-width="0.75" stroke-linecap="round" fill="none" opacity="0.8"/>
<path d="M78 536.3l-2 1.1M67.2 528.2l0 0M74 521.5l-0.9 0.1M75.9 539.6l0.8 0.8M9.6 506.3l0.6 0.2" stroke="#a030e0" stroke-width="1.5" stroke-linecap="round" fill="none" opacity="0.95"/>
<path d="M78 536.3l1.8 -0.1M67.2 528.2l-0.8 3.3M39 504.1l-3.3 0.2M39 504.1l-1.6 -0M74 521.5l-0.3 2.1M74 521.5l3.3 0.1M75.9 539.6l-0.1 -2.1M75.9 539.6l-2.2 0.5M9.6 506.3l1.4 -1M9.6 506.3l2.2 -1M81.3 500.3l-2.9 1.7M81.3 500.3l2.1 1M82.3 564l-0.4 -2.2M45.6 501.6l-1.1 1M45.6 501.6l-0.8 1.9" stroke="#a030e0" stroke-width="1.0" stroke-linecap="round" fill="none" opacity="0.9"/>
<path d="M55.7 563.3l-0.2 0.1M47.8 557.4l-0.7 1.1M10.2 507.8l-1.4 0.3M85.7 526.2l2.3 1.3" stroke="#8a28d4" stroke-width="2.0" stroke-linecap="round" fill="none" opacity="0.95"/>
<path d="M55.7 563.3l-2.4 1.2M55.7 563.3l1.4 -0.9M47.8 557.4l-0.3 2.4M47.8 557.4l-1.9 -0.3M10.2 507.8l0.2 -2.6M85.7 526.2l1.4 -1.3M17.5 500.7l-1.2 1.5M17.5 500.7l-1.9 2.3M11.1 545.5l-1.5 3.1M76.7 563.4l-1.1 -1.8M76.7 563.4l-1.6 -0.6M16.7 501.8l-0.5 -2.7M16.7 501.8l-1.1 1.8M38.1 554.1l1.7 -2.2M38.1 554.1l-2.5 -2.3M30.5 537.3l1.6 -1.8M73.2 523.1l-1.8 -0.6M54.3 523.7l-3.2 -0.5M54.3 523.7l-0.2 -3.3" stroke="#8a28d4" stroke-width="1.0" stroke-linecap="round" fill="none" opacity="0.9"/>
<path d="M33.2 502.5l1.1 1.7M75.9 573.6l0.2 0.3M77.3 562.6l-0.2 0M42 517.4l-0.9 2.9M80.1 506.3l-3.5 0" stroke="#b040ea" stroke-width="2.5" stroke-linecap="round" fill="none" opacity="0.95"/>
<path d="M33.2 502.5l0.1 1.6M33.2 502.5l1.7 -2.8M75.9 573.6l-1.4 1.8M75.9 573.6l1 -1.4M81.6 513.4l2.1 -0.9M18.2 537.1l1.1 -2.7M77.3 562.6l-1 1.7M77.3 562.6l0.9 -2.4M55.8 577.6l2.1 0.5M55.8 577.6l0.7 2.9M87.4 543.5l2.3 -1.7M87.4 543.5l-0.4 -2.3M42 517.4l0.6 -1.6M88.8 573.8l-1.5 2.5M88.8 573.8l-1.1 3M89.6 546.4l-2.5 -1M71.8 517.1l0.5 -1.4M71.8 517.1l-1.3 2.4M80.1 506.3l-3.2 -0.1M61.3 578.3l0.9 1.2M61.3 578.3l2.5 1.2M70.4 545.6l1.7 0.2M45.1 503l-1 -2.7M45.1 503l-1.1 -2.2" stroke="#b040ea" stroke-width="1.0" stroke-linecap="round" fill="none" opacity="0.9"/>
<path d="M23.9 517.2l2.1 0.4M90.8 519.8l2 2.5" stroke="#c048f0" stroke-width="2.5" stroke-linecap="round" fill="none" opacity="0.95"/>
<path d="M23.9 517.2l0.3 -2.4M72.3 571.2l1.8 -0.1M40.9 551.6l-1.4 1.4M91.9 553l-1.5 -2.6M91.9 553l-3.2 0.5M46.5 536.5l-2.5 -1.5M46.5 536.5l2 -1.6M82.5 531.1l-2.6 0.5M40.6 513.2l1.5 2.5M72.6 558.5l-1.3 1.4M11.1 578.5l1.7 -1.6M11.1 578.5l2.3 0M38.9 558.3l0.8 2.4M26.1 545.4l2.6 -0.8M26.1 545.4l-0.9 -2.7M90.8 519.8l-0.6 3.4" stroke="#c048f0" stroke-width="1.0" stroke-linecap="round" fill="none" opacity="0.9"/>
<path d="M72.3 571.2l0 2.4M40.9 551.6l-0.6 1.8M91.9 553l1.3 2M40.6 513.2l1.1 2.9M11.1 578.5l0.5 0.5" stroke="#c048f0" stroke-width="2.0" stroke-linecap="round" fill="none" opacity="0.95"/>
<path d="M81.6 513.4l-1.6 0.8M18.2 537.1l-0.5 0.5M89.6 546.4l-0.5 1.2M61.3 578.3l0.6 1.8" stroke="#b040ea" stroke-width="1.5" stroke-linecap="round" fill="none" opacity="0.95"/>
<path d="M39 504.1l0.6 1.2M81.3 500.3l1.3 2.8M45.6 501.6l0.7 1.8" stroke="#a030e0" stroke-width="2.0" stroke-linecap="round" fill="none" opacity="0.95"/>
<path d="M46.5 536.5l0.1 0.1M82.5 531.1l-1.2 1.4M72.6 558.5l-0.2 1M38.9 558.3l-0.1 0.2M26.1 545.4l0 1.1" stroke="#c048f0" stroke-width="1.5" stroke-linecap="round" fill="none" opacity="0.95"/>
<path d="M55.8 577.6l1.1 1.2M87.4 543.5l-0.6 0.1M88.8 573.8l-1.3 1.6M71.8 517.1l-0.1 0.5M70.4 545.6l0.3 0.4M45.1 503l1 0.2" stroke="#b040ea" stroke-width="2.0" stroke-linecap="round" fill="none" opacity="0.95"/>
<path d="M17.5 500.7l0.5 2.1M11.1 545.5l0.6 0.9M76.7 563.4l-0.1 2.3M30.5 537.3l-2 0.4M73.2 523.1l1.8 0.1M54.3 523.7l-1.2 1.3" stroke="#8a28d4" stroke-width="1.5" stroke-linecap="round" fill="none" opacity="0.95"/>
<path d="M16.7 501.8l-1.2 1.8M38.1 554.1l0.8 2.4" stroke="#8a28d4" stroke-width="2.5" stroke-linecap="round" fill="none" opacity="0.95"/>
<path d="M82.3 564l-1.1 3.1" stroke="#a030e0" stroke-width="2.5" stroke-linecap="round" fill="none" opacity="0.95"/>
<path d="M29.9 555.9l0.9 0.4M64 571.1l0.2 -0.1" stroke="#5020a0" stroke-width="2.2" stroke-linecap="round" fill="none" opacity="0.95"/>
</svg>
<rect x="9.3" y="498.3" width="82.7" height="82.2" fill="none" stroke="#3a3a3a" stroke-width="1.2" />
<svg x="95.3" y="498.3" width="83.2" height="82.2" viewBox="95.3 498.3 83.2 82.2" overflow="hidden">
<rect x="95.3" y="498.3" width="83.2" height="82.2" fill="#fbfbfb" stroke="none" stroke-width="1" />
<path d="M101.7 515.9l0 0M155.2 506.5l0 0M139.8 565.1l0 0M144.1 517.1l0 0M101.8 552.8l0 0M106.3 519.7l0 0M136 539.8l0 0M114.1 529.2l0 0M145.6 565.9l0 0M144.6 577.9l0 0M133.3 505.1l0 0M131.4 575.6l0 0M106.1 555.2l0 0M95.8 566.5l0 0M96.6 503.9l0 0M115.9 524.5l0 0M110.7 579.2l0 0M175.4 565l0 0M106.8 577.7l0 0M166.1 545.7l0 0M101.9 549l0 0M105.1 567l0 0M174.3 576.5l0 0M173.8 560.9l0 0M153.8 520.4l0 0M166.2 522.8l0 0M112 555.8l0 0M106.7 534.6l0 0M139.9 533l0 0M105.3 525.4l0 0M115.6 520.8l0 0M119 556l0 0M169.7 576.3l0 0M141.7 563.3l0 0M115.5 531l0 0M142 535.9l0 0M164.9 515.4l0 0M166.2 572.7l0 0M155.6 542.8l0 0M156.6 559.8l0 0M125.1 553.9l0 0M125.8 576l0 0M153.3 506.4l0 0M153.5 535.4l0 0M154.9 527.9l0 0M159.8 507.8l0 0M104.4 502.4l0 0M106.8 510.7l0 0M132.1 572.5l0 0M156.2 522.5l0 0M115.3 511.2l0 0M147.5 507.8l0 0M112.5 538.3l0 0M152.4 513.5l0 0M175.2 568.7l0 0M163.6 543.6l0 0M166.7 515.8l0 0M114.9 528.3l0 0M124.7 561.2l0 0M103.8 511.3l0 0M95.9 559.5l0 0M159.8 506.7l0 0M109.6 520.5l0 0M102.7 529.6l0 0M110.9 508.7l0 0M97.8 554.6l0 0M148.4 529.4l0 0M166.7 549.5l0 0M173.5 557.8l0 0M156.4 557l0 0M134 548.2l0 0M115.6 560.8l0 0M147 570.2l0 0M149.4 537.4l0 0M105 573.8l0 0M97.7 570.2l0 0M150.3 532l0 0M160.8 500.5l0 0M159.5 505.2l0 0M174.7 534.6l0 0M166 564.7l0 0M149.8 520.9l0 0M157.9 502l0 0M173.1 502.2l0 0M106.5 542.6l0 0M106.5 570.8l0 0M117.4 515.6l0 0M114.9 517.8l0 0M159.2 577l0 0M116.7 520.8l0 0M148.8 499.6l0 0M151.2 567.2l0 0M107.4 506.8l0 0M152.5 524.8l0 0M117.3 557.7l0 0M103.2 540.6l0 0M143.1 548.4l0 0M160.6 529l0 0M120.5 566.3l0 0M108.9 526.6l0 0M107.5 566.3l0 0M154.4 563.6l0 0M142.1 516.8l0 0M156.3 507.8l0 0M146.1 513.4l0 0M157.7 537.9l0 0M125.1 540.5l0 0M98.8 520l0 0M170.5 549.4l0 0M169.6 548.6l0 0M106.2 505.1l0 0M112.4 578.1l0 0M106.7 499.2l0 0M177.9 520.3l0 0M108.7 575l0 0M142.6 530.6l0 0M102.4 560.5l0 0M149 498.4l0 0M139.7 540.8l0 0M158.6 501.5l0 0M130.7 523.3l0 0M162.8 502.3l0 0" stroke="#909090" stroke-width="0.8" stroke-linecap="round" fill="none" opacity="0.8"/>
<path d="M153.4 517.8l0 0M132.4 525.8l0 0M131.8 533.8l0 0M142.6 545.6l0 0M153.7 505.8l0 0M107.4 502.9l0 0M106.8 518.7l0 0M136.8 507.2l0 0M146.9 503.1l0 0M176.2 569.4l0 0M174.8 499.9l0 0M96.3 544.4l0 0M157.9 512.9l0 0M134.7 542.3l0 0M102.4 576.6l0 0M170.8 527l0 0M160.8 558.7l0 0M150.7 545.6l0 0M118.8 553.4l0 0M152 570l0 0M105.4 559.2l0 0M128.9 561.2l0 0M131.9 544.1l0 0M113.8 560.6l0 0M123.8 519l0 0M114.8 544.5l0 0M171.1 536.3l0 0M132.5 513.9l0 0M176.1 527.6l0 0M100.6 552.9l0 0M153.8 535.3l0 0M123.9 498.8l0 0M111.1 537.7l0 0M126.1 515.3l0 0M150.1 548.7l0 0M101.3 513.4l0 0M145 523.6l0 0M162.6 545.6l0 0M145.1 567.8l0 0M160.1 560.7l0 0M133.3 530l0 0M98 571.5l0 0M156.8 499.4l0 0M102.6 527.8l0 0M111.1 577.5l0 0M129.3 500.2l0 0M101.8 517.4l0 0M154.1 516.5l0 0M114.1 537.9l0 0M98.6 570l0 0M148.4 533.1l0 0M112 551.9l0 0M98.6 516l0 0M137.4 571.1l0 0M111.9 531.7l0 0M161.7 570.7l0 0M143.8 555.7l0 0M107.6 505.1l0 0M176.2 563.5l0 0M170.7 511.4l0 0M122.2 536.6l0 0M161.2 551.2l0 0M139.2 570.2l0 0M156.4 534.3l0 0M161.6 522.9l0 0M125.6 549.4l0 0M174.8 560.5l0 0M178.1 575.2l0 0M106 567.9l0 0M170.6 533.7l0 0M122.9 543.8l0 0M101.7 552.3l0 0M120.1 526.1l0 0M107 518.2l0 0M138.6 565.2l0 0M117.1 508.3l0 0M105.1 545.3l0 0M167.3 553.5l0 0M118.7 543.4l0 0M125.8 540.5l0 0M157.2 531.6l0 0M140.8 533.5l0 0M177.1 508.6l0 0M133.2 524.8l0 0M134.8 517.6l0 0M115.8 552.3l0 0M138.2 522.6l0 0M170.7 539.3l0 0M144.1 532.1l0 0M157.4 555.8l0 0M101.5 574.9l0 0M171.9 552.2l0 0M141 577.8l0 0M108.8 506.5l0 0M177.6 502.5l0 0M109 574.5l0 0M123.1 502.5l0 0M134 517.6l0 0M173.4 575.4l0 0M99.3 512.4l0 0M150.9 522.2l0 0M97.2 522.4l0 0M107.1 574.4l0 0M149.4 528l0 0M137.3 526.7l0 0M110.3 572.4l0 0M107.2 572.9l0 0M173.2 552.4l0 0M95.4 510l0 0M131.8 524.8l0 0M160 509.4l0 0M118 535.1l0 0M111.8 521.4l0 0M138.1 562.5l0 0M142.4 548.7l0 0M168.8 547.5l0 0" stroke="#606060" stroke-width="0.8" stroke-linecap="round" fill="none" opacity="0.8"/>
<path d="M165.4 541.3l0 0M141.5 516.9l0 0M130.8 504l0 0M135.5 572.9l0 0M151.4 561.3l0 0M165.2 501.5l0 0M97.6 528.7l0 0M118.7 509.2l0 0M138.9 538.6l0 0M142.5 544.6l0 0M101.3 548.6l0 0M110.1 531.9l0 0M124 509.7l0 0M151.1 527.8l0 0M154.8 516.5l0 0M133.2 566.6l0 0M171.7 552.7l0 0M147.5 523.2l0 0M127.4 570.9l0 0M177.8 564.4l0 0M174.2 556.6l0 0M120.3 515.2l0 0M131.7 554.1l0 0M155.2 499.1l0 0M128 499l0 0M142 561.7l0 0M121 531l0 0M95.9 579.7l0 0M156.8 544.1l0 0M134.6 507.8l0 0M118.1 522l0 0M137 543.9l0 0M108.2 567.6l0 0M148.2 524.9l0 0M104.3 514.5l0 0M100.2 512.2l0 0M134.7 503.2l0 0M172.8 575.6l0 0M153 553.4l0 0M166.8 506.5l0 0M157.8 521.1l0 0M171.3 549.4l0 0M126.5 566.5l0 0M133.7 551.2l0 0M157.6 536.5l0 0M146.1 507.3l0 0M138.5 501.2l0 0M106.4 560l0 0M116.8 514.1l0 0M111.5 568.7l0 0M123.7 515.1l0 0M162.4 539.7l0 0M126.6 554.6l0 0M111.9 502.7l0 0M136.7 524.6l0 0M137.4 516.3l0 0M154.8 539.3l0 0M121.9 562.9l0 0M125.6 575.7l0 0M108.4 530.8l0 0M114 544.4l0 0M123.6 562.2l0 0M135.9 577.7l0 0M176.1 520l0 0M105.1 515.6l0 0M144.8 571.5l0 0M172.4 558.1l0 0M104.1 569.1l0 0M129.4 516.7l0 0M173.7 505.8l0 0M124.6 532.3l0 0M173.8 523.7l0 0M103.5 517.3l0 0M176 537.1l0 0M142.7 544.6l0 0M111.5 532.7l0 0M171.2 575.6l0 0M144.5 556.6l0 0M157.4 563.1l0 0M156.5 517.4l0 0M165.9 550l0 0M141.6 573.4l0 0M120.3 558l0 0M137 574.6l0 0M105.3 548.1l0 0M146 554.9l0 0M95.5 508.6l0 0M170.2 553l0 0M113.5 498.8l0 0M173.7 510.5l0 0M177.2 502l0 0M170.2 567.8l0 0M177.6 522.2l0 0M119.3 536.9l0 0M98.2 532l0 0M171.2 578l0 0M135.2 569.2l0 0M106.7 508.2l0 0M117.2 579.2l0 0M126.3 517.4l0 0M134 554.2l0 0M170.9 546.1l0 0M104.9 522.6l0 0M129.1 558.2l0 0M123.7 506.3l0 0M156 551.9l0 0M167.2 505.4l0 0M109.5 540l0 0M146.7 511.5l0 0M101.7 532.4l0 0M123.5 578.2l0 0M103.7 559.7l0 0" stroke="#6a6040" stroke-width="0.8" stroke-linecap="round" fill="none" opacity="0.8"/>
<path d="M126.2 498.4l0 0M139 538.2l0 0M164.9 576.7l0 0M176.6 507.5l0 0M121.1 574.6l0 0M96.1 513.1l0 0M174.5 538.7l0 0M146.7 541.5l0 0M111.5 568.2l0 0M160 532.6l0 0M102.2 556.9l0 0M103 561.3l0 0M168.8 502.3l0 0M113.7 531.2l0 0M174.6 579l0 0M102.3 570.9l0 0M120.7 513.2l0 0M137.2 503.7l0 0M152 550.8l0 0M126.7 537.2l0 0M132.5 556.2l0 0M120.6 552.3l0 0M149.4 567.5l0 0M119.9 580.1l0 0M95.5 535.1l0 0M99.4 517.3l0 0M172.7 519.3l0 0M169.4 529.5l0 0M176.3 514.5l0 0M164 542.1l0 0M155.4 566.8l0 0M177.7 513.6l0 0M123.1 541.4l0 0M141.9 521.6l0 0M159 577.7l0 0M107.8 531.1l0 0M117.8 505.6l0 0M175.4 562.9l0 0M146.8 571.4l0 0M143.9 537.9l0 0M97.1 562.8l0 0M137.7 512.7l0 0M131.7 499.4l0 0M171.3 510.2l0 0M152.5 561.8l0 0M151.1 545.2l0 0M138.8 526l0 0M133.3 561.2l0 0M161.9 519.1l0 0M133.3 518.4l0 0M147.7 554.7l0 0M158.5 579.4l0 0M127.8 548.7l0 0M134.7 560.8l0 0M144.7 522.1l0 0M112.6 548.6l0 0M105.2 575.7l0 0M177.2 519.2l0 0M140.4 557.8l0 0M171.5 539.4l0 0M145.2 504.2l0 0M166.2 552.6l0 0M123.4 579.4l0 0M122.2 555.1l0 0M172.8 576.1l0 0M108.9 522.5l0 0M96.8 531.6l0 0M99 547.2l0 0M127.7 516.2l0 0M127.5 530.2l0 0M123.1 529.4l0 0M125.5 568.9l0 0M155 539.4l0 0M119.2 535.1l0 0M140.3 578l0 0M161.6 537.4l0 0M146.4 547.6l0 0M110.1 577.7l0 0M166.8 577.6l0 0M172.3 500.5l0 0M172.3 534.4l0 0M95.4 567.2l0 0M168.7 549l0 0M128.2 539l0 0M132.2 542l0 0M153.9 528.2l0 0M147.2 540.3l0 0M106.6 579.6l0 0M131.5 558.6l0 0M131.1 524.2l0 0M112.6 576.6l0 0M106.9 519.2l0 0M97 557.4l0 0M171.9 523.1l0 0M124.1 528.8l0 0M163.4 527.7l0 0M108.3 559.1l0 0M104.1 566.6l0 0M130 546.5l0 0M137.6 548.8l0 0M151.1 520l0 0M97.4 534.3l0 0M113.3 553.2l0 0M112.5 502l0 0M177.2 534.6l0 0M99.1 508.5l0 0M175.2 551.4l0 0M136.4 510.5l0 0M135.4 567.7l0 0M121.1 510l0 0M134 550.2l0 0M118.8 502.5l0 0M116.8 532.6l0 0M106.5 548.1l0 0M147.6 556.6l0 0M166 573.4l0 0M172.8 503.6l0 0M122.9 552.5l0 0M150.5 538.8l0 0M151.9 528.6l0 0M161.6 513.7l0 0M117.9 559.9l0 0M116.7 577.6l0 0M112.9 514.8l0 0M132.1 536.2l0 0M176 555.3l0 0M168.3 571.5l0 0M154.3 498.6l0 0M148.9 557.1l0 0M155.2 541.4l0 0" stroke="#7a60a8" stroke-width="0.8" stroke-linecap="round" fill="none" opacity="0.8"/>
<path d="M177.1 551.7l0.2 3M158.6 579.2l2.7 0.9M102 555.8l-0.1 0.2M135.8 499l-0 0" stroke="#b83ae8" stroke-width="2.0" stroke-linecap="round" fill="none" opacity="0.95"/>
<path d="M177.1 551.7l1.7 0.5M177.1 551.7l-3.1 -0.5M160 521.9l-1 -3.1M160 521.9l1.3 -1.7M173.1 525.2l-0.2 1.6M158.6 579.2l-2.2 -0.3M158.6 579.2l-0.5 2.1M102 555.8l1 1.2M135.8 499l-0.5 -2.5M144.4 517.8l-0.3 -2.5M144.4 517.8l2.3 -0.9" stroke="#b83ae8" stroke-width="1.0" stroke-linecap="round" fill="none" opacity="0.9"/>
<path d="M134 558.8l1.3 1.4M127.4 569l-0.2 1.2M164.8 500.9l0.8 0.4M127 536.3l-0 0" stroke="#d050f0" stroke-width="1.5" stroke-linecap="round" fill="none" opacity="0.95"/>
<path d="M134 558.8l-3.1 -0.5M127.4 569l-2 -0.4M127.4 569l-1.7 -1.8M133.2 547.8l-3 0.8M133.2 547.8l1.3 2.2M149.8 554.2l3.1 0.2M149.8 554.2l3.1 0.6M122 502.8l1.1 2.5M164.8 500.9l0.4 -3.4M127 536.3l2.8 -1.1M127 536.3l-1.3 -1.5M151.6 558.6l0.6 -1.9M163.5 503.9l-2.1 1.3M107.6 505.2l1.6 2.7M107.6 505.2l2.8 -0M130.3 513.6l0.5 1.9" stroke="#d050f0" stroke-width="1.0" stroke-linecap="round" fill="none" opacity="0.9"/>
<path d="M175 528.6l-2.5 1.5M151.9 577.7l-1 1.5" stroke="#c840ee" stroke-width="2.5" stroke-linecap="round" fill="none" opacity="0.95"/>
<path d="M175 528.6l0.9 2.3M175 528.6l1.3 -1.7M116.1 560.7l1.3 3.2M116.1 560.7l-1.2 2.8M140.2 535.9l2.9 1M140.2 535.9l-0.1 1.8M130.3 558.8l-2.4 1.1M130.3 558.8l1.9 -2.8M151.9 577.7l-2.3 1.3M151.9 577.7l2.9 1.2M172.3 579.6l-2.3 0.9M174.3 559.2l-0.4 -2.1M174.3 559.2l0.7 2.2M127 551l2 -2.4M127 551l-2.9 -0.8M125.7 547.1l-0 2.3M125.7 547.1l-1.7 -2.8" stroke="#c840ee" stroke-width="1.0" stroke-linecap="round" fill="none" opacity="0.9"/>
<path d="M116.1 560.7l0.6 0.6M125.7 547.1l-1.4 0.9" stroke="#c840ee" stroke-width="2.0" stroke-linecap="round" fill="none" opacity="0.95"/>
<path d="M160 521.9l-0.3 0.9" stroke="#b83ae8" stroke-width="2.5" stroke-linecap="round" fill="none" opacity="0.95"/>
<path d="M132.4 522.6l1.7 0.4M163.7 560l-0 1.4M110.1 508.3l-1.2 0.7" stroke="#a838e4" stroke-width="1.5" stroke-linecap="round" fill="none" opacity="0.95"/>
<path d="M132.4 522.6l-2.5 -0.6M132.4 522.6l1.2 2.8M154.6 504.5l0.8 -3.1M154.6 504.5l-2.8 -1.1M119.1 537.3l2.2 -0.8M173.8 558.1l-2.6 2.1M173.8 558.1l3.2 1M163.7 560l-2.9 0.7M139.6 503.2l0 2.2M139.6 503.2l-2.1 0.6M110.1 508.3l1.2 -1M140.9 564.9l-1.5 -2.4M123.7 561.5l1.6 -2.1M123.7 561.5l0.9 -2.7M171.6 551.2l2 1.5M171.6 551.2l-2 -0.3M118.3 500.5l-3.2 -1.1M118.3 500.5l1 1.8" stroke="#a838e4" stroke-width="1.0" stroke-linecap="round" fill="none" opacity="0.9"/>
<path d="M133.2 547.8l1.5 2.7M149.8 554.2l2.3 2.5M107.6 505.2l1.6 3.4M130.3 513.6l0.6 0.4" stroke="#d050f0" stroke-width="2.5" stroke-linecap="round" fill="none" opacity="0.95"/>
<path d="M122 502.8l1.2 1.9M151.6 558.6l-1.1 1.4M163.5 503.9l-0.2 0.4" stroke="#d050f0" stroke-width="2.0" stroke-linecap="round" fill="none" opacity="0.95"/>
<path d="M140.2 535.9l-0.9 0.8M172.3 579.6l2.1 0.6M174.3 559.2l0.2 0.3M127 551l-0.7 2.2" stroke="#c840ee" stroke-width="1.5" stroke-linecap="round" fill="none" opacity="0.95"/>
<path d="M154.6 504.5l2.5 0.8M139.6 503.2l0.1 0M140.9 564.9l-0 0.4M123.7 561.5l-1.7 1.2M118.3 500.5l-0.9 0.1" stroke="#a838e4" stroke-width="2.0" stroke-linecap="round" fill="none" opacity="0.95"/>
<path d="M119.1 537.3l-0.8 0.7M173.8 558.1l-0.1 3.4M171.6 551.2l-1.5 1.4" stroke="#a838e4" stroke-width="2.5" stroke-linecap="round" fill="none" opacity="0.95"/>
<path d="M173.1 525.2l1.5 0M144.4 517.8l-1.2 0" stroke="#b83ae8" stroke-width="1.5" stroke-linecap="round" fill="none" opacity="0.95"/>
<path d="M130.3 558.8l-0.4 1.3" stroke="#c840ee" stroke-width="1.0" stroke-linecap="round" fill="none" opacity="0.95"/>
<path d="M165.7 510.1l-0.7 -0.7M151.3 575.8l-0.6 0M167.7 506.2l-0.6 0.5M98 503.7l-0.3 -0.9" stroke="#404030" stroke-width="2.2" stroke-linecap="round" fill="none" opacity="0.95"/>
</svg>
<rect x="95.3" y="498.3" width="83.2" height="82.2" fill="none" stroke="#3a3a3a" stroke-width="1.2" />
<svg x="180.5" y="498.3" width="84" height="82.2" viewBox="180.5 498.3 84 82.2" overflow="hidden">
<rect x="180.5" y="498.3" width="84" height="82.2" fill="#fbfbfb" stroke="none" stroke-width="1" />
<path d="M228.4 550.3l0 0M256.5 575.9l0 0M261.7 541.7l0 0M205.8 523.7l0 0M237.4 565.3l0 0M201.1 569.4l0 0M263.7 503.7l0 0M223.6 524.6l0 0M224.6 523.3l0 0M253.3 553.9l0 0M219 537.2l0 0M230 535.6l0 0M221.3 499.1l0 0M254.9 574.8l0 0M244.3 524.4l0 0M195 557.8l0 0M250.3 534l0 0M217 541.7l0 0M181.1 575.5l0 0M247.6 559.2l0 0M248.1 539.2l0 0M240.9 506.3l0 0M244.5 521.8l0 0M249.5 513.7l0 0M223.8 563.2l0 0M222.3 562.4l0 0M252.5 556.5l0 0M260.4 564.2l0 0M234.1 577.6l0 0M222.6 563.6l0 0M246.9 580l0 0M225.9 543l0 0M200.3 519.2l0 0M208.1 551.7l0 0M251.9 522l0 0M216.9 540.3l0 0M230.5 542l0 0M242.5 553.4l0 0M218.2 523.2l0 0M213.1 510.2l0 0M191.5 512.9l0 0M210 560l0 0M207.8 546.7l0 0M193.8 576.1l0 0M225.5 546.3l0 0M195.9 510.6l0 0M193.8 543.4l0 0M244.8 543.5l0 0M225.9 508.5l0 0M254.1 559.2l0 0M257 555.2l0 0M241.6 578.6l0 0M198.1 543.2l0 0M222 554.8l0 0M180.7 514.8l0 0M189.6 508l0 0M232.1 506.3l0 0M226.5 526.2l0 0M189 556l0 0M252.1 545l0 0M259.9 578.7l0 0M245.8 557.7l0 0M205.9 523.8l0 0M223.9 540.1l0 0M232.6 571.5l0 0M181 498.9l0 0M244 573.9l0 0M239.4 571.3l0 0M245.8 534.7l0 0M229.2 554.6l0 0M181.5 505.4l0 0M188.8 510.9l0 0M212.1 573.6l0 0M211.2 513.8l0 0M233.2 560.8l0 0M260.8 527.3l0 0M259.3 533.8l0 0M215.2 555.7l0 0M214.5 521.6l0 0M219.6 573.1l0 0M228.8 502.9l0 0M188.9 571.8l0 0M217.4 536.5l0 0M191 518l0 0M248.5 512.3l0 0M193 568.4l0 0M213.5 509.4l0 0M206.8 520.1l0 0M248.5 507.6l0 0M245 529.4l0 0M189.2 515.4l0 0M214.8 572l0 0M245.4 573.2l0 0M233 528l0 0M219.5 546.8l0 0M256.8 543.6l0 0M194.7 539.1l0 0M226.3 498.7l0 0M216.9 524.2l0 0M263.7 503.7l0 0M181 542.5l0 0M182.6 498.5l0 0M208.2 514.3l0 0M252.7 545.6l0 0M212 557.2l0 0M208.6 523.3l0 0M228.9 539.9l0 0M231.8 517.8l0 0M224.1 544.2l0 0M248.3 542.1l0 0M210.1 563.6l0 0M237.9 503.4l0 0M222.5 549.9l0 0M229.3 569.1l0 0M207.9 526.6l0 0M206.2 579.8l0 0M252.9 554l0 0M251.6 568l0 0M201.1 538.8l0 0M260.2 555.9l0 0M263.7 556l0 0M258.6 509l0 0" stroke="#7a7a7a" stroke-width="0.8" stroke-linecap="round" fill="none" opacity="0.8"/>
<path d="M220.7 570.7l0 0M256.8 513.6l0 0M256 559.4l0 0M258.5 544l0 0M211.1 549.9l0 0M236.6 518.3l0 0M233.8 557.7l0 0M253 573.1l0 0M219.4 533l0 0M214.6 537.1l0 0M194.6 577.1l0 0M207.4 576.6l0 0M258.2 569.7l0 0M235.7 501.2l0 0M220.9 563.8l0 0M258.3 561.8l0 0M218.9 562.5l0 0M202.2 512.6l0 0M191.4 564.1l0 0M219.5 524.9l0 0M193 513.6l0 0M222.1 547.6l0 0M232.3 560.1l0 0M241.8 572.9l0 0M217 546.6l0 0M188.6 509.4l0 0M215.3 510.4l0 0M263.9 572.2l0 0M230.6 573.9l0 0M258.5 570.3l0 0M201.7 534l0 0M226.5 521.4l0 0M243.3 578.1l0 0M261.6 569.6l0 0M261.6 524.1l0 0M231.8 557l0 0M248.8 572.6l0 0M202.4 526.1l0 0M215 562.7l0 0M185.7 576.1l0 0M212.3 526.6l0 0M226.5 500.5l0 0M203.6 562.8l0 0M187.2 531.2l0 0M258.1 569.9l0 0M209.1 529.4l0 0M243.8 572.8l0 0M244 542.8l0 0M235.9 560.4l0 0M249.4 551.4l0 0M236 512.7l0 0M264.4 527.4l0 0M191.6 533.7l0 0M194 561.9l0 0M220.8 500.7l0 0M220.8 564.7l0 0M218.7 536l0 0M258.9 498.4l0 0M237 565l0 0M224.8 572.1l0 0M261.3 562.9l0 0M222.2 531l0 0M211.7 577.3l0 0M263.1 531.1l0 0M210.9 507.4l0 0M194.3 533.5l0 0M215.3 518.4l0 0M190.7 572.6l0 0M221 571l0 0M233.3 563.7l0 0M229.5 541.5l0 0M260.7 550.7l0 0M257.1 511.5l0 0M204.5 554.1l0 0M221.3 499.9l0 0M181.6 510.9l0 0M243.6 501.1l0 0M261.1 556.1l0 0M195.1 560.6l0 0M252.3 535.3l0 0M183 545.4l0 0M185.3 570.3l0 0M247.6 552.5l0 0M226 506.6l0 0M221.8 505.6l0 0M224.3 563.6l0 0M202.1 574.3l0 0M194.7 532.5l0 0M205.4 540.7l0 0M181.5 533.2l0 0M218 540.4l0 0M236.8 565l0 0M225.4 514.3l0 0M218.7 510.8l0 0M209.4 521.3l0 0M197.2 544.9l0 0M250.6 503.5l0 0M205.5 539.8l0 0M246.6 544.2l0 0M184.9 523.4l0 0M261.8 578.8l0 0M181 549.1l0 0M218.7 546l0 0M202.3 561.4l0 0M244.2 516.3l0 0M226.5 566.2l0 0M217.1 566.6l0 0M195.8 540.8l0 0M233.3 503l0 0M250.4 538.6l0 0M235.6 512.6l0 0M246.2 513.1l0 0M228.4 535.7l0 0M256.3 514.1l0 0M234.7 521.4l0 0M247.4 520.9l0 0M193 576.6l0 0M243.8 536.6l0 0M198.3 515.6l0 0M197 533.6l0 0M254.6 510.4l0 0M221.9 519.6l0 0M182.6 574.6l0 0M188.5 537.6l0 0M181.8 552.3l0 0M250.6 539.3l0 0M243 508.4l0 0M247.4 563.7l0 0M218.6 525.4l0 0M187.3 548.2l0 0" stroke="#909090" stroke-width="0.8" stroke-linecap="round" fill="none" opacity="0.8"/>
<path d="M204.2 553.6l0 0M262.8 521.7l0 0M190.8 524.7l0 0M213.2 554.8l0 0M227.5 508.5l0 0M188.3 564.7l0 0M185.3 520.9l0 0M212.4 562.5l0 0M231.9 501.1l0 0M261.3 537.9l0 0M233 557.6l0 0M187.1 508l0 0M197.2 548.4l0 0M182.4 505.6l0 0M246.1 563.4l0 0M237.3 525.8l0 0M261.8 560.3l0 0M232.5 525.2l0 0M222.1 535.3l0 0M253.4 541.7l0 0M200.2 500.2l0 0M201.7 523.5l0 0M204.2 557.9l0 0M262.7 526.7l0 0M208.3 564.9l0 0M252.1 553.6l0 0M245.1 511.3l0 0M249.8 506.8l0 0M212.7 537.5l0 0M250.6 509.1l0 0M217.6 498.6l0 0M198.2 568.4l0 0M194.7 538l0 0M196.9 535.3l0 0M258.9 527.1l0 0M197.1 533.8l0 0M182.9 560.7l0 0M246.7 572.3l0 0M224 524.6l0 0M247.8 527.1l0 0M216.8 525.7l0 0M235.7 532.1l0 0M194.4 542.1l0 0M237.4 538.6l0 0M181.5 550.3l0 0M209.6 575.6l0 0M240.7 568.7l0 0M227.5 559.4l0 0M183.1 543.2l0 0M250.1 570.6l0 0M255.5 527.8l0 0M224 551.6l0 0M197.8 509.7l0 0M207.5 574.2l0 0M262.1 509.2l0 0M193.3 520.8l0 0M190.1 525.8l0 0M212.5 556l0 0M211.7 515.2l0 0M185.3 563.9l0 0M199.3 554.6l0 0M249.1 563.4l0 0M248.5 531.4l0 0M258.5 545.6l0 0M250.8 504l0 0M207.3 577.3l0 0M182.3 556.2l0 0M247.2 527.1l0 0M190.4 511.7l0 0M208.2 559.7l0 0M259 512.2l0 0M205.2 540.3l0 0M242.4 558.7l0 0M257 514.5l0 0M210.9 552l0 0M246.2 514.4l0 0M252.6 575.3l0 0M208.8 506.9l0 0M213.8 561.2l0 0M247.2 547.1l0 0M263.8 573.6l0 0M212.5 500.9l0 0M242.3 501.9l0 0M236.8 513.2l0 0M211.9 573.1l0 0M236.7 542.2l0 0M202.2 560.8l0 0M200.3 560.1l0 0M197.3 550.3l0 0M238.6 553.4l0 0M181.5 525l0 0M256.6 562.1l0 0M180.7 564.5l0 0M188.3 530.5l0 0M216.2 565.9l0 0M200.5 569.6l0 0M199.3 573.1l0 0M193.1 521l0 0M225.5 542.4l0 0M247.2 507.2l0 0M213.3 544.3l0 0M232.2 570.8l0 0M218.3 528.9l0 0M222.4 510.3l0 0M222.2 511.7l0 0M260.7 526l0 0M247.6 542.3l0 0M263.1 521.8l0 0M240.3 557.4l0 0M209 532.1l0 0M235.9 520.2l0 0M193 559l0 0M237.8 527.8l0 0M232.2 547.9l0 0M202.4 574.4l0 0M233.2 555.2l0 0M193.8 519.5l0 0M212 504.7l0 0M189.1 534.5l0 0M229.1 566.1l0 0M190.8 504.7l0 0M204.3 568.8l0 0M182.4 561.7l0 0M234.7 517.8l0 0M243.3 499.5l0 0M208.3 548.2l0 0M181.8 498.6l0 0M208.1 530.4l0 0" stroke="#606060" stroke-width="0.8" stroke-linecap="round" fill="none" opacity="0.8"/>
<path d="M221.1 500.2l-0.5 0.1M251 531l0.1 0.9M210.3 535.3l-0.1 0.2M231.7 572.8l-0.4 0.1M203.2 542.2l1.7 0.7" stroke="#c840ee" stroke-width="1.5" stroke-linecap="round" fill="none" opacity="0.95"/>
<path d="M221.1 500.2l-1.9 -2.4M221.1 500.2l-1.6 -2M247.9 557.6l-0.9 3.4M230.7 532.8l-2.2 0.9M230.7 532.8l-1.8 -1.9M251 531l-1.9 0.4M251 531l-3.4 -0.2M208.3 560.5l-2.2 -1.4M208.3 560.5l0.8 -1.9M234 530.5l-1.3 2.1M234 530.5l0.9 2.6M206.7 527.4l-1.9 0.3M210.3 535.3l0.6 -2.3M257.1 528.1l-3.2 0.3M257.1 528.1l-1.9 -1.8M231.7 572.8l-0.5 3.4M259.9 555.7l2.5 -1.8M203.2 542.2l1.7 0.3M203.2 542.2l-0.6 -1.5" stroke="#c840ee" stroke-width="1.0" stroke-linecap="round" fill="none" opacity="0.9"/>
<path d="M247.9 557.6l1 0.4M257.1 528.1l-0.3 3.7" stroke="#c840ee" stroke-width="2.5" stroke-linecap="round" fill="none" opacity="0.95"/>
<path d="M230.7 532.8l1.8 2.2M208.3 560.5l-0.4 0.2M234 530.5l-0.4 0.7M206.7 527.4l1.2 0.1M259.9 555.7l0.7 1.2" stroke="#c840ee" stroke-width="2.0" stroke-linecap="round" fill="none" opacity="0.95"/>
<path d="M183.1 516.9l-0.1 0M182.5 568.7l-1.1 1.1M221.6 538.8l0.3 1M253.4 557.9l-1.8 1M199 510.1l0.2 1.5" stroke="#b83ae8" stroke-width="1.5" stroke-linecap="round" fill="none" opacity="0.95"/>
<path d="M183.1 516.9l-2.7 0.1M183.1 516.9l-1 1.5M182.5 568.7l-2.2 2.1M182.5 568.7l2.4 -2.5M209 544.4l2.5 2.2M230.3 539.2l1.7 -2.8M230.3 539.2l-1.3 1M189.7 576.1l-3 0.3M189.7 576.1l-0.6 -1.7M221.6 538.8l-2.2 1.2M221.6 538.8l2.1 2.4M214.3 568.7l-2.1 -1.3M253.4 557.9l-0.6 1.4M208.6 529.5l2.1 2.8M208.6 529.5l2.3 0.4M203.4 579.8l-1.2 1.1M203.4 579.8l-1.8 0.1M199 510.1l1.1 -2.1M199 510.1l-0.8 -1.3M224.7 566.9l1.2 1.2M224.7 566.9l2 -2.2" stroke="#b83ae8" stroke-width="1.0" stroke-linecap="round" fill="none" opacity="0.9"/>
<path d="M213.2 564.7l-0.5 1.1M198.9 558.6l0.3 0.5" stroke="#d050f0" stroke-width="1.0" stroke-linecap="round" fill="none" opacity="0.95"/>
<path d="M213.2 564.7l2 -0.6M213.2 564.7l1.2 2M228 536.6l1.4 1.7M228 536.6l-1.9 -2M198.9 558.6l2.3 1.5M194.5 570.7l-1.8 -2.2" stroke="#d050f0" stroke-width="1.0" stroke-linecap="round" fill="none" opacity="0.9"/>
<path d="M228 536.6l0.9 3.9M194.5 570.7l0.1 0.2" stroke="#d050f0" stroke-width="2.5" stroke-linecap="round" fill="none" opacity="0.95"/>
<path d="M209 544.4l1.3 1.3M230.3 539.2l1.7 2.2M214.3 568.7l0.4 0.8" stroke="#b83ae8" stroke-width="2.5" stroke-linecap="round" fill="none" opacity="0.95"/>
<path d="M189.7 576.1l0.4 0.3M208.6 529.5l-0.1 0.7M203.4 579.8l1.9 0.6M224.7 566.9l0.3 0" stroke="#b83ae8" stroke-width="2.0" stroke-linecap="round" fill="none" opacity="0.95"/>
<path d="M225.7 498.7l1 0M185.9 544.1l-0.8 0.3" stroke="#404030" stroke-width="2.2" stroke-linecap="round" fill="none" opacity="0.95"/>
</svg>
<rect x="180.5" y="498.3" width="84" height="82.2" fill="none" stroke="#3a3a3a" stroke-width="1.2" />
<svg x="266.8" y="498.3" width="83.7" height="82.2" viewBox="266.8 498.3 83.7 82.2" overflow="hidden">
<rect x="266.8" y="498.3" width="83.7" height="82.2" fill="#fbfbfb" stroke="none" stroke-width="1" />
<path d="M311.1 546.4l0 0M295.4 546.3l0 0M274.9 526.8l0 0M331.8 560.2l0 0M292.7 529.7l0 0M302.3 518.7l0 0M343.3 514.6l0 0M336 535.7l0 0M288.6 542.1l0 0M324.9 580.2l0 0M297.6 565.2l0 0M276.1 525.1l0 0M300.3 541l0 0M336.5 535.6l0 0M318.8 508.2l0 0M323 521.4l0 0M269.9 503.5l0 0M331.7 524.1l0 0M331.7 529.2l0 0M348.3 569l0 0M344.5 544.4l0 0M333.9 519l0 0M324.3 540.5l0 0M334 507.5l0 0M336.7 519l0 0M333.1 570.4l0 0M274.2 562.2l0 0M329.3 507.6l0 0M311.5 549.9l0 0M318.1 509.3l0 0M279.1 579.3l0 0M324.8 508.3l0 0M329.4 540.6l0 0M324.4 516.6l0 0M339.7 522l0 0M312.7 549l0 0M328 566.1l0 0M319.4 558.7l0 0M294.9 547.3l0 0M299.9 524.4l0 0M276.8 539.2l0 0M311.8 546l0 0M347.9 539l0 0M345 526.5l0 0M297 577.1l0 0M317.9 544.5l0 0M325.8 516.2l0 0M308.4 558.9l0 0M313.9 511.3l0 0M277.3 562.9l0 0M342.2 542.3l0 0M268.4 538.3l0 0M279.4 574.1l0 0M325.4 523.5l0 0M308.4 571.3l0 0M311.3 574.3l0 0M274.7 516.6l0 0M340.7 549.7l0 0M304.7 567.9l0 0M306.8 524.7l0 0M311.7 545.8l0 0M313.8 562.4l0 0M328.5 543.1l0 0M281.5 515.2l0 0M308.8 509.6l0 0M277.1 552.1l0 0M305.5 506.4l0 0M298.5 505.8l0 0M326.5 524.4l0 0M339.2 507.2l0 0M284.7 571.5l0 0M321.1 579.4l0 0M323.7 527.4l0 0M285.3 510.2l0 0M293.5 504.5l0 0M346.7 499l0 0M280.9 571.2l0 0M333 505.5l0 0M338.9 507.4l0 0M304.9 505.5l0 0M302.6 506.3l0 0M300.4 555.5l0 0M280.2 535.3l0 0M334.4 560.6l0 0M334.7 546.3l0 0M347 556.8l0 0M278.2 520.1l0 0M268.8 577.4l0 0M269 572.3l0 0M308.8 520.6l0 0M287.2 548.4l0 0M323.5 533.9l0 0M296.8 552.8l0 0M278.6 501.9l0 0M309.8 542.9l0 0M327.8 542.3l0 0M268.4 548.3l0 0M310.7 553.8l0 0M325.6 511.6l0 0M309.3 509l0 0M277.4 544.7l0 0M305.8 544.4l0 0M334.9 543.5l0 0M282.2 525.9l0 0M267.8 520.3l0 0M293.8 549.8l0 0M271.5 514.1l0 0M338.6 532.9l0 0M346.2 560l0 0M310.7 531.9l0 0M278.5 552l0 0M278.6 536l0 0M293.4 571.3l0 0M309.1 537.7l0 0M267.7 559.4l0 0M340.6 580.2l0 0M331.2 501.4l0 0M330.9 575.8l0 0M289.5 569.7l0 0M277.7 515.7l0 0M303.2 564.7l0 0M313.7 518l0 0M271.8 511.9l0 0M297.1 534.8l0 0M288.9 528.8l0 0M290.1 543.5l0 0M282.4 508.3l0 0M333.4 545.5l0 0M284.9 580l0 0M345.9 513.1l0 0M290.1 571.2l0 0M322.9 527.5l0 0M296.5 551.9l0 0M320.8 554.9l0 0M309.8 533.1l0 0M312 527.7l0 0M270.4 543.2l0 0M321.1 530.8l0 0M328.7 520l0 0M341.8 498.5l0 0M329.3 569.4l0 0M300.8 502.7l0 0M272.9 562.3l0 0M279 577.8l0 0M320 517.4l0 0M325.3 571.5l0 0M284.1 560.8l0 0M344.6 503.4l0 0M305.7 560.8l0 0M316.1 578.6l0 0M327.9 578l0 0M304 551.2l0 0M341.4 566.6l0 0M321.2 530.7l0 0M289.4 541.5l0 0M284.4 563.6l0 0M342 547.1l0 0M272.3 571.6l0 0M307.4 567.4l0 0M283.5 544l0 0M331.2 563.3l0 0M291.7 575.5l0 0M322.4 531.8l0 0M274 504.4l0 0M269.2 542l0 0M323.8 534.2l0 0M336.5 508.4l0 0M295 573.8l0 0M307.4 517.6l0 0M271.4 520.3l0 0M305.3 512.6l0 0M302.3 577.3l0 0M348.8 519.3l0 0M275.8 577.8l0 0M316.6 567.7l0 0M331.6 510.9l0 0M281.3 565.7l0 0M292.7 540.8l0 0M272.6 546.9l0 0M312.1 502.9l0 0M309.2 578.3l0 0M267.1 506.8l0 0M296.1 546.8l0 0M346.9 556.1l0 0M271 502.3l0 0M331.5 535.9l0 0M298.6 557.7l0 0M305.9 570.4l0 0M299.6 558.9l0 0M266.8 563.3l0 0M323 557.8l0 0M337.3 563.8l0 0M345.3 514.6l0 0M348.8 551.6l0 0M327.6 555.1l0 0M292.7 506.1l0 0M326.3 553.5l0 0M323 502.8l0 0M307.4 574.4l0 0M322.3 553.5l0 0M305 514l0 0" stroke="#6a40c0" stroke-width="0.75" stroke-linecap="round" fill="none" opacity="0.8"/>
<path d="M342 570.8l0 0M346.7 503.6l0 0M313 567.3l0 0M315.4 559.8l0 0M290.3 507.9l0 0M300.7 562.1l0 0M328.8 578.9l0 0M339.2 528.1l0 0M289.8 517.5l0 0M275.5 541.4l0 0M344.9 531.8l0 0M328.2 525.9l0 0M281.3 513.6l0 0M295.4 528.2l0 0M280.3 508l0 0M333.2 520.2l0 0M312.3 536.3l0 0M299.6 510.2l0 0M279.4 540l0 0M296.5 507.1l0 0M295.3 562.5l0 0M330.1 579.6l0 0M323.9 501.2l0 0M345.6 529.8l0 0M315.1 548l0 0M269.8 561l0 0M274.9 536.3l0 0M338.2 555.1l0 0M342.7 519.9l0 0M286.4 540.4l0 0M313.9 523.2l0 0M329.1 563.5l0 0M341.8 517.4l0 0M338.5 509.9l0 0M298.8 528.5l0 0M272.9 548.3l0 0M269.3 558.6l0 0M278.6 551.8l0 0M291.6 567.2l0 0M273.2 530.4l0 0M273 523l0 0M302.2 565.2l0 0M338.6 505.6l0 0M302.4 539.9l0 0M311.2 516.6l0 0M331.8 518.7l0 0M275.4 504.1l0 0M287.7 501.5l0 0M332.8 542.4l0 0M275.4 568.3l0 0M347.1 526.7l0 0M345.7 523.7l0 0M308 515.9l0 0M319.3 573.7l0 0M294.7 559.5l0 0M327.2 522.1l0 0M304.3 530.4l0 0M288.6 578.7l0 0M323.5 533.3l0 0M337.3 536.5l0 0M301.2 525.5l0 0M283.6 520.4l0 0M310.5 508.9l0 0M313.5 500.7l0 0M311.5 578.7l0 0M311.9 541.7l0 0M309.2 563.4l0 0M343.3 543.1l0 0M293.7 551.1l0 0M290.5 575.7l0 0M300 513.9l0 0M320 551.5l0 0M285 540.3l0 0M283.2 520.1l0 0M318.5 574.4l0 0M324.8 572.4l0 0M282.3 569.4l0 0M294.5 550.2l0 0M268.9 515.1l0 0M301 556.5l0 0M335.3 576.3l0 0M274.7 552.6l0 0M333 537.1l0 0M346.2 525.9l0 0M323.6 563.9l0 0M270.9 538.7l0 0M317.5 531.3l0 0M282.2 548.7l0 0M322.1 570.8l0 0M306.3 539.9l0 0M297.1 551.3l0 0M292.2 511.4l0 0M310 530.9l0 0M308.4 571.6l0 0M284.7 512.1l0 0M350.3 521.3l0 0M275.6 578.3l0 0M315.3 540.3l0 0M286.5 544.4l0 0M305.4 579.2l0 0M286.2 555l0 0M336.2 558.4l0 0M296.5 536.4l0 0M310.6 560.6l0 0M296.3 513.6l0 0M313.5 521.5l0 0M288.2 506l0 0M291.7 545.9l0 0M315.9 563.9l0 0M316.1 552.7l0 0M341.3 552.8l0 0M310.6 508.3l0 0M273.3 570.2l0 0M298.7 576.6l0 0M329.7 562.6l0 0M276.5 501.7l0 0M291.9 562.8l0 0M338.4 573l0 0M319.2 576l0 0M272.7 539.4l0 0M304 539l0 0M329.4 562.5l0 0M295.6 526.5l0 0M306.8 561.5l0 0M303.2 530.8l0 0M324.9 511.1l0 0M321.8 515.4l0 0M304.8 519.5l0 0M325.1 526.3l0 0M333.4 542.4l0 0M281.2 572.9l0 0M298.3 532.2l0 0M297.4 517.2l0 0M296.9 556l0 0M290 543.6l0 0M287.3 557.8l0 0M321.6 563.3l0 0M336.2 541.9l0 0M299 559l0 0M290.6 572.1l0 0M307.8 535.5l0 0M279.9 514.3l0 0M322.9 533.8l0 0M271.8 576.7l0 0M306.8 550.5l0 0M284.7 522.2l0 0M340.3 574.7l0 0M297.4 551.8l0 0M295.7 574.5l0 0M284 530.3l0 0M324.2 533.9l0 0M298.1 546.5l0 0M302.6 557.9l0 0M300.9 527.4l0 0M348.6 569.7l0 0M302.7 540.1l0 0M311.8 505.3l0 0M338.6 526.2l0 0M320 524.9l0 0M272.6 506.1l0 0M270.7 508.7l0 0M318.6 501.6l0 0M273.2 505.4l0 0M268.1 575.8l0 0M293.7 565.3l0 0M283.5 562.9l0 0M343.6 545l0 0M321.2 559.7l0 0M343.6 523.7l0 0M310.3 523.2l0 0M328.7 551.8l0 0M267.6 506.5l0 0M312.8 504.7l0 0M331.2 529.5l0 0M274.5 501.4l0 0M293.5 555.2l0 0M311.2 557.7l0 0M275 541l0 0M316.3 528.7l0 0M309.7 560.3l0 0M301.8 528.8l0 0M291.4 512.3l0 0M309.9 553.6l0 0M293.9 575.5l0 0M272.9 526.6l0 0M347.7 523.2l0 0M272.9 513l0 0M300.2 549.7l0 0M343.2 519.7l0 0M297.9 511.6l0 0M278.2 532.6l0 0M338.6 498.4l0 0M277.1 566.5l0 0M338.2 538l0 0M285.7 517.3l0 0M282.1 498.3l0 0M310.2 550.9l0 0M329.1 506.8l0 0M305.3 538.2l0 0M331.4 514.9l0 0M273.7 570.9l0 0M291.1 534.1l0 0M267.1 557l0 0M329.5 553.6l0 0M285 571.2l0 0M309.5 501l0 0M302.5 501.1l0 0M287.6 507.8l0 0M346.1 505.9l0 0M289.5 561.7l0 0M317.6 506l0 0M328.2 516.7l0 0M342.9 528.3l0 0M310 506.7l0 0M304.2 506l0 0M324.1 533l0 0M332.1 528.8l0 0M334.7 550.9l0 0" stroke="#8a60d0" stroke-width="0.75" stroke-linecap="round" fill="none" opacity="0.8"/>
<path d="M333.9 528.6l0 0M345 546.7l0 0M284 542.3l0 0M277.8 557.3l0 0M304.6 572.9l0 0M292.8 573.5l0 0M330.6 573.8l0 0M330.3 577.7l0 0M267 557l0 0M348.2 568.8l0 0M305.2 510.1l0 0M306 513.1l0 0M325.7 568.8l0 0M336.2 578.3l0 0M335.6 549.5l0 0M301.1 546l0 0M292.8 553.3l0 0M331.8 538.2l0 0M292.1 542.1l0 0M339.3 575.8l0 0M288.7 580.1l0 0M329.6 502l0 0M326.2 504.3l0 0M323.8 516.5l0 0M289.1 556.9l0 0M306 504.8l0 0M306.7 532.9l0 0M272.1 538.4l0 0M339.2 546.5l0 0M300.3 516l0 0M324.5 545.7l0 0M267.2 556.7l0 0M307.1 578.8l0 0M283.9 510.2l0 0M337.7 572.2l0 0M311 569.5l0 0M269.6 521.1l0 0M345.9 531.8l0 0M276.5 504.9l0 0M308.2 580.2l0 0M329 559.6l0 0M277.2 532l0 0M294.5 529.3l0 0M347.3 565.7l0 0M296 544.5l0 0M288 567.1l0 0M336.1 511.2l0 0M318.2 546.4l0 0M299 573.2l0 0M336.7 516.5l0 0M345 562.8l0 0M297.1 579.2l0 0M334.7 557.1l0 0M309.1 498.4l0 0M342.6 558.6l0 0M308.6 518.8l0 0M343.5 547.2l0 0M271.1 537.6l0 0M348 542.2l0 0M280.2 502.7l0 0M324 579.4l0 0M318 531.3l0 0M333.8 523.4l0 0M322.5 524l0 0M304.1 574.5l0 0M302.3 507.2l0 0M337.7 524.6l0 0M279 499.7l0 0M327.4 506.7l0 0M297 531.9l0 0M300.7 550.1l0 0M312.4 545.5l0 0M293.3 578.8l0 0M347.6 542.1l0 0M344.7 552.8l0 0M274 500.8l0 0M320.3 573.2l0 0M310.4 566.6l0 0M307.7 573.6l0 0M336.9 526.4l0 0M277.1 558.7l0 0M315.6 544.5l0 0M280.3 540.6l0 0M344.6 556.5l0 0M275.6 501l0 0M267.4 501.9l0 0M331.4 547.5l0 0M316.8 516.4l0 0M330.4 534.3l0 0M267 522.3l0 0M314.4 577.1l0 0M275.7 570l0 0M312.4 514l0 0M274 532l0 0M297.6 577.6l0 0M275.8 516.6l0 0M276.4 538.9l0 0M326.3 515.3l0 0M309.4 526.9l0 0M268.1 574.7l0 0M312.4 528.3l0 0M344.5 510.5l0 0M321.2 520.5l0 0M344.8 568.3l0 0M319.2 539.1l0 0M292.7 500.6l0 0M305.4 575.3l0 0M325.9 532.6l0 0M274.6 518.9l0 0M293 571.2l0 0M282.1 570.7l0 0M347.1 529.8l0 0M319 575.3l0 0M346.6 512.1l0 0M349.7 566.3l0 0M313.1 557l0 0M283.2 518.1l0 0M309.5 518l0 0M345.2 571l0 0M348.6 564.3l0 0M339.7 554.1l0 0M284.6 569.7l0 0M345.6 549.4l0 0M308.8 535.3l0 0M337.5 533l0 0M303.5 519.5l0 0M343.2 507.7l0 0M296 554.3l0 0M344.6 565.2l0 0M337.8 513.6l0 0M269.8 547.2l0 0M297.7 502.2l0 0M285.4 535.8l0 0M339.9 542.9l0 0M322.9 543.4l0 0M276.7 557.7l0 0M327.3 550.3l0 0M310.3 534.3l0 0M290.9 575.6l0 0M340.6 564.3l0 0M293.8 525l0 0M304.6 517.1l0 0M340.8 502.8l0 0M269 551l0 0M310 564.4l0 0M277.9 518.7l0 0M290.4 537.3l0 0M338.2 538.8l0 0M281.7 530l0 0M326.5 553.9l0 0M292.5 519.5l0 0M315.3 564l0 0M301 575l0 0M309.5 564.8l0 0M271.3 538.4l0 0M348.1 518.3l0 0M291.4 533.8l0 0M299 525.4l0 0M314.9 560.8l0 0M345.3 576.2l0 0M322.3 554.3l0 0M306.4 555.8l0 0M322.5 541l0 0M295.2 549.4l0 0M287.4 569l0 0M314.1 577.1l0 0M290.3 552.2l0 0M327.5 553.9l0 0M294.6 539.1l0 0M331.9 520.6l0 0M284.6 554.9l0 0M323.2 511.2l0 0M288.5 528.8l0 0M345.3 580l0 0M339.4 539.4l0 0M270.2 525l0 0M325.3 515.6l0 0M284.1 503.7l0 0M278.7 529l0 0M321.3 540.7l0 0M296.6 520.7l0 0M269.5 558.1l0 0M334.9 529.6l0 0M344.6 572.6l0 0M330.2 549.1l0 0M305.3 580.1l0 0M320.7 549.7l0 0M300.8 517.8l0 0M290.5 561.2l0 0M316.9 573.4l0 0M343.7 556.2l0 0M306.1 538.9l0 0M339.9 541.1l0 0M348.7 513.9l0 0M348.1 570.5l0 0M346.2 570.6l0 0M274.5 552.6l0 0M276.1 526.3l0 0M300.1 558.7l0 0M308.9 509.7l0 0M277.2 577.2l0 0M338.4 529.8l0 0M279.8 565.8l0 0M319.2 511l0 0M292.5 553.1l0 0M275.4 518.9l0 0M339.1 548.7l0 0M318.3 532.9l0 0M313.6 544.4l0 0M304 503.3l0 0M314.8 569.7l0 0M319.1 506.5l0 0M300.7 525l0 0M330.8 516.6l0 0M342.1 520.5l0 0M291.5 537.8l0 0M309.3 510.6l0 0M275 541.5l0 0M310.7 566.7l0 0M317.2 576.7l0 0M276.2 539.7l0 0M277.5 561l0 0M330.1 535.3l0 0M321.6 513.5l0 0M314.7 537.3l0 0M285.8 575.5l0 0M345.2 540.6l0 0M304 528.9l0 0M317.7 527.1l0 0M322.4 538.5l0 0M345.6 540.9l0 0" stroke="#606080" stroke-width="0.75" stroke-linecap="round" fill="none" opacity="0.8"/>
<path d="M341.7 543.5l-0.9 1.1M335.7 574.2l-1.2 2.1M318 544.8l-1.7 0" stroke="#a030e0" stroke-width="2.0" stroke-linecap="round" fill="none" opacity="0.95"/>
<path d="M341.7 543.5l-1.8 1.1M341.7 543.5l1.7 -0.4M297.9 536.7l1.1 -1.3M335.7 574.2l1.9 1.5M297.9 551.6l0.2 -2.3M313.2 549.9l1.1 -3M313.2 549.9l0.7 -2.4M291.6 498.9l2.4 1.3M274.9 506.3l-2.4 -2.4M318 544.8l1.1 -1.3M318 544.8l-1.3 2" stroke="#a030e0" stroke-width="1.0" stroke-linecap="round" fill="none" opacity="0.9"/>
<path d="M328.9 521.2l0.2 0.6M337.2 576.2l-0.9 1.3M271.7 565.1l-0.6 0.6M287.5 526.4l-0.1 0.9" stroke="#6030c0" stroke-width="1.5" stroke-linecap="round" fill="none" opacity="0.95"/>
<path d="M328.9 521.2l0.8 -2.9M328.9 521.2l2.6 0.4M335.4 556.5l-3.4 -0.5M281.7 521.1l1 2.9M281.7 521.1l1.4 -1.8M337.2 576.2l1.1 2.3M271.7 565.1l-0.4 2.2M271.7 565.1l2.8 0.3M328.8 535.5l1.4 1.2M328.8 535.5l-1.3 1M316 498.6l-3.1 -0.7M287.5 526.4l2.5 0.1M287.5 526.4l-2.3 -1.4" stroke="#6030c0" stroke-width="1.0" stroke-linecap="round" fill="none" opacity="0.9"/>
<path d="M345.2 523.8l0.4 1.4M300.2 568.8l0.6 0.6M308.2 512.5l0.8 2.7M294.6 507.2l-0.2 1.9M337.7 499.7l-1.5 0.8M297.1 570.7l1.3 2.8M308.6 501.2l-1.6 0.2M290 521.2l2.9 0.2M321.2 535.5l2 1" stroke="#c048f0" stroke-width="2.0" stroke-linecap="round" fill="none" opacity="0.95"/>
<path d="M345.2 523.8l-2.6 -1.4M300.2 568.8l0.6 2.3M300.2 568.8l0.4 -3.1M308.2 512.5l3.2 0.7M294.6 507.2l3.3 0.3M294.6 507.2l3 0M288.5 519.3l0.8 2.9M288.5 519.3l-0.8 2.4M337.7 499.7l-2.6 -1.1M337.7 499.7l-2.3 0.3M297.1 570.7l1.9 1.6M266.9 534.7l-1.5 -2.8M266.9 534.7l-0.1 -1.7M277 552.4l1.3 0.9M297.9 504.6l3.1 -0.4M297.9 504.6l0.9 2.4M307.7 529.7l2.6 1.8M308.6 501.2l0.2 2.3M275 566.2l-0.3 1.8M275 566.2l-0.9 -1.6M290 521.2l-2.1 0.5M290 521.2l1.6 -1M332.6 529.7l2.1 2M332.6 529.7l2 -0.6M321.2 535.5l2 -2.1M321.2 535.5l2.2 -0.7M331.7 515.8l-0.4 2.8M331.7 515.8l-1.4 -1.3" stroke="#c048f0" stroke-width="1.0" stroke-linecap="round" fill="none" opacity="0.9"/>
<path d="M325.4 543.2l3.1 0.4M269.6 516.7l1.9 0M301.4 504l0.9 1.5" stroke="#b040ea" stroke-width="2.0" stroke-linecap="round" fill="none" opacity="0.95"/>
<path d="M325.4 543.2l0.7 3.2M325.4 543.2l-3 0.2M289.7 520.5l1.4 -1.8M289.7 520.5l2.9 1.3M269.6 516.7l0 2.3M337.3 541l-2.9 0.2M337.3 541l2.3 -2M282.4 508l-0.7 3.1M305.5 567.4l0.6 1.6M305.5 567.4l1.6 0.3M301.4 504l2.1 0.2" stroke="#b040ea" stroke-width="1.0" stroke-linecap="round" fill="none" opacity="0.9"/>
<path d="M289.7 520.5l-0.3 1.5M282.4 508l0.9 1.5M305.5 567.4l-1.6 0.1" stroke="#b040ea" stroke-width="2.5" stroke-linecap="round" fill="none" opacity="0.95"/>
<path d="M335.4 556.5l-1.8 2M281.7 521.1l-0.3 1.8M328.8 535.5l-2.2 1.6" stroke="#6030c0" stroke-width="2.0" stroke-linecap="round" fill="none" opacity="0.95"/>
<path d="M297.9 536.7l-0.4 0.7M297.9 551.6l0.8 2.2M313.2 549.9l-0.9 0.9M291.6 498.9l-2.6 0.1" stroke="#a030e0" stroke-width="2.5" stroke-linecap="round" fill="none" opacity="0.95"/>
<path d="M337.3 541l0.5 0.1" stroke="#b040ea" stroke-width="1.5" stroke-linecap="round" fill="none" opacity="0.95"/>
<path d="M288.5 519.3l0.4 1.7M266.9 534.7l-0.4 2.3M297.9 504.6l-0.8 0.2M275 566.2l-2 0.2M332.6 529.7l2.1 0.1M331.7 515.8l0.1 0.1" stroke="#c048f0" stroke-width="1.5" stroke-linecap="round" fill="none" opacity="0.95"/>
<path d="M277 552.4l-0.7 0.9" stroke="#c048f0" stroke-width="2.5" stroke-linecap="round" fill="none" opacity="0.95"/>
<path d="M307.7 529.7l0.3 1.2" stroke="#c048f0" stroke-width="1.0" stroke-linecap="round" fill="none" opacity="0.95"/>
<path d="M316 498.6l-0.8 0.8" stroke="#6030c0" stroke-width="2.5" stroke-linecap="round" fill="none" opacity="0.95"/>
<path d="M274.9 506.3l0.7 0.5" stroke="#a030e0" stroke-width="1.5" stroke-linecap="round" fill="none" opacity="0.95"/>
<path d="M326.8 573.6l0.9 1M285.7 521.6l0.9 -0M294.4 580.4l-0.7 -0.8M305.9 508.5l-0.7 0.5" stroke="#302080" stroke-width="2.2" stroke-linecap="round" fill="none" opacity="0.95"/>
</svg>
<rect x="266.8" y="498.3" width="83.7" height="82.2" fill="none" stroke="#3a3a3a" stroke-width="1.2" />
<svg x="71.8" y="621.3" width="83.2" height="81.7" viewBox="71.8 621.3 83.2 81.7" overflow="hidden">
<rect x="71.8" y="621.3" width="83.2" height="81.7" fill="#fbfbfb" stroke="none" stroke-width="1" />
<path d="M103.5 640.1l0 0M146.8 652.8l0 0M117.8 652.6l0 0M136.8 675.4l0 0M108.4 634l0 0M153.3 647.4l0 0M126.3 672l0 0M81.8 669.3l0 0M143.9 690l0 0M77.9 650.7l0 0M82.2 676l0 0M80 633l0 0M76.3 647.3l0 0M122.4 636.2l0 0M96.9 633.2l0 0M105.7 675.5l0 0M143.3 640.1l0 0M83 658.8l0 0M107.2 682.1l0 0M145 674.8l0 0M86.5 687.2l0 0M131.7 677l0 0M153.9 678.9l0 0M126.3 682.5l0 0M121.8 629.4l0 0M90.2 651l0 0M128.4 654.8l0 0M78.7 675.9l0 0M149.1 641.6l0 0M146.5 647.9l0 0M137.3 645.4l0 0M132.7 638.8l0 0M89.6 639.7l0 0M127.3 626.6l0 0M117.4 672.2l0 0M99.2 640l0 0M140.2 657.8l0 0M117.8 662l0 0M146.2 688.5l0 0M86.7 679.2l0 0M124.9 663.2l0 0M106 700.8l0 0M75.3 675.8l0 0M89.6 653.9l0 0M95.4 642.5l0 0M122.7 689.1l0 0M123.5 655.3l0 0M138.2 677.8l0 0M79.9 659.7l0 0M91.2 636.2l0 0M96 641.5l0 0M150 688.8l0 0M122.6 702.9l0 0M134.8 672.8l0 0M138.6 647.6l0 0M120 656.2l0 0M90.3 692.6l0 0M84.2 674.8l0 0M74 688.6l0 0M123.6 666.8l0 0M103.9 636.5l0 0M120.6 677.6l0 0M77.1 665.3l0 0M87.6 636.1l0 0M79.1 675.1l0 0M73.2 646.7l0 0M104.1 626.8l0 0M127.5 682.8l0 0M114.4 635.9l0 0M102.6 650l0 0M86.2 634.3l0 0M77.2 622.5l0 0M146.9 646.9l0 0M88 695l0 0M146.4 696l0 0M115.6 697.6l0 0M100.6 635l0 0M136 684.4l0 0M112.1 641.9l0 0M119.4 634.5l0 0M138.6 623.4l0 0M115.3 637.1l0 0M95.2 641.8l0 0M94.3 628.9l0 0M154.6 646.2l0 0M144.7 666l0 0M102.9 699l0 0M149.1 655.2l0 0M106.7 639.4l0 0M76.9 671.2l0 0M86.2 655.7l0 0M114.2 667.2l0 0M143.1 672.1l0 0M124.6 658.7l0 0M117.6 681.1l0 0M139.4 699.6l0 0M79 677l0 0M109.4 656.5l0 0M146.3 633.8l0 0M148.9 687.9l0 0M103.8 659.7l0 0M133.2 669.3l0 0M146.6 663.8l0 0M129 644.9l0 0M150.3 673.2l0 0M112.2 681.4l0 0M115.4 634.4l0 0M79.1 694.6l0 0M138.4 699.4l0 0M82.5 641.9l0 0M101 621.9l0 0M78.6 627.3l0 0M136.8 674.2l0 0M88.5 644.2l0 0M150.8 633.2l0 0M78.7 634.5l0 0M87.3 658.7l0 0M92.8 639.2l0 0M100.7 690.5l0 0M100.9 660.5l0 0M136.9 672.3l0 0M84.1 629.1l0 0M84.4 656.7l0 0M143.3 698.6l0 0M91 649.6l0 0M116.8 644.8l0 0M153.5 638.8l0 0M114.7 694.8l0 0M134.1 676l0 0M148.7 669.8l0 0M90.9 629.4l0 0M84.7 673.6l0 0M73.3 657.4l0 0M88 699.6l0 0M152 653.9l0 0M146.1 645l0 0M74.6 682.8l0 0M88.5 649.5l0 0M74.6 648l0 0M130.2 692.2l0 0" stroke="#6040b0" stroke-width="0.8" stroke-linecap="round" fill="none" opacity="0.8"/>
<path d="M77.4 634.5l2.3 -3.7M148.4 654l-2.9 3.3M82.5 634.8l-5.7 -0.7M131.4 675.5l-1.6 4.2M112.9 643.6l-0.8 4.7M147.9 699.8l-2.1 -1.2" stroke="#8a20e0" stroke-width="2.4" stroke-linecap="round" fill="none" opacity="0.88"/>
<path d="M79.7 630.8l1.3 -4.9M76.7 633.8l-0.4 0.9M72.4 615.9l0.1 -4.4M76.9 645.6l-0.4 -5.6M69.9 658.8l3.4 -3.6M157.1 643.2l-2.8 4.5M105.9 701.9l5 1.7M135.8 664.6l-4.7 0.3M127.3 618.6l-4.6 1.3M96.2 684.3l-5 -0.9M91.2 683.4l-5 0.9M94.9 681.1l1.8 3.4M100.9 700.8l2.4 -3M122.9 683.8l1.6 -0M98.9 629.7l5.1 -1.4M149.1 693.8l0.5 5.4" stroke="#a020f0" stroke-width="1.0" stroke-linecap="round" fill="none" opacity="0.88"/>
<path d="M81.1 625.9l0.3 -4M77.8 592.7l-1.1 5.3M101.1 700.9l4.8 1M142.7 674.3l-3.1 4.8M115.2 706l0.5 1.6M86.4 689.3l0.8 -5M105 659.5l4.9 -3.2M111.7 656.5l-1.7 -0.6M114.7 615.8l-2.5 1.6M128.4 710.8l3.9 0.4M138.9 694.7l0.7 3.3" stroke="#a020f0" stroke-width="2.4" stroke-linecap="round" fill="none" opacity="0.88"/>
<path d="M81.4 621.9l0.5 -4.8M82.4 659.3l-2.6 5.1M144.5 669.8l-1.8 4.5M64.8 689.8l3.5 -2.4M125.3 683.7l-1.1 -0.5" stroke="#b030f0" stroke-width="3.2" stroke-linecap="round" fill="none" opacity="0.88"/>
<path d="M81.9 617.1l1.1 -4.8M148.3 631.4l-5.2 -0.1M110.9 703.6l3.8 3.2M124.1 650.6l-1.5 1.2M91.8 668.6l4.8 -2.4M152.1 676.2l-0.8 4.8M161.4 684.5l-5.4 1.2M122.5 702l1.8 -2.7M121.1 688.9l-0.4 -4.4M116.2 660.4l-1.2 -5.2M94.3 630l4.6 -0.4M128.2 686.4l4.2 3" stroke="#9018e8" stroke-width="2.4" stroke-linecap="round" fill="none" opacity="0.88"/>
<path d="M77.2 635l-0.2 -0.1M47.5 630.4l2.1 -3.3M72.4 653.4l-0.1 1.7M136.6 637.9l3.1 -3.5M85.5 671l2.6 -1.2M109.9 694.9l-2 0.1M107.9 694.9l-4 -0M149.3 689.6l-0.2 4.2" stroke="#c040f4" stroke-width="2.4" stroke-linecap="round" fill="none" opacity="0.88"/>
<path d="M77 634.8l-0 -0.5M165.4 632.6l-2.7 4.2M118.9 634.7l0.9 5M88 670.7l3.8 -2.1M82.7 680.1l-5.2 -2.5M101.4 663.7l3.8 3.9M120 670.7l-2.7 -5.1M105 647.9l3.7 1.7M124.4 683.9l3.9 2.5M146.7 687l2.7 2.6" stroke="#b838f0" stroke-width="2.4" stroke-linecap="round" fill="none" opacity="0.88"/>
<path d="M76 633.8l-1.3 -4.1M74.9 650l-1.9 4.1M138.8 651.3l3.4 3.4M87.3 634.4l-4.9 0.5M144.8 664.7l-4.6 0.1M76.8 678.1l0.4 -0.4M97.3 685.4l0.4 -0.8M103 689.3l0.9 5.8M120.6 704.7l1.9 -2.7M132.4 689.4l3.8 1.7M153.8 698.8l-4.7 -0.3M136 710.8l-1.3 2.6" stroke="#8a20e0" stroke-width="1.0" stroke-linecap="round" fill="none" opacity="0.88"/>
<path d="M71.9 621.3l0.5 -5.4M85.9 705.5l4.5 3.2M128.5 629.7l2.3 -2.7M161.2 629.1l-4.9 0.8M167.6 629.9l-2.2 2.7M145.9 656.3l0.4 5.1M141.7 667.5l-3.2 2.7M138.6 670.2l-3.3 3M151.3 681l0.1 5.5M119.1 632.7l0.6 -3.9M117.5 678.9l-2.2 -3.3M101.6 664.1l-1.2 -0.6M116.8 653.1l-2.7 2.7M101.2 663.7l3.8 -4.2M119.1 633.6l-6.1 -2.8" stroke="#8a20e0" stroke-width="1.6" stroke-linecap="round" fill="none" opacity="0.88"/>
<path d="M82.5 613.2l-0 -5.2M76.7 598.1l-0.9 4.1M76.6 645.7l-1.7 4.3M139.7 634.3l4.2 -2.6M165.5 627.2l-4.3 1.9M152 630.6l-3.8 0.8M154.3 647.7l-2 2.7M94.4 707.6l-0.7 4.4M146.6 664.9l-0.7 -0.2M131.2 681.9l-4.9 1.1M156 685.7l-4.8 0.9M133.3 623.2l-2.2 -3.4M121.4 623.8l1.4 -4.3M121.7 706.5l3.6 3.7M86.2 684.5l-3.6 -4.3M110.2 623.2l-0.1 -4.4" stroke="#c040f4" stroke-width="1.0" stroke-linecap="round" fill="none" opacity="0.88"/>
<path d="M82.5 607.9l-1.4 -3.9M81.1 604l-0 -3.7M74.5 607.6l-2.4 4.1M90.4 708.7l3.3 3.7M73 673.8l4.7 2.3M136.5 626.1l-3.2 -3.3M134.9 680.2l-3.7 1.8M161.2 689.5l0.1 -4.5M78.9 682.1l-2.2 -4.7M62 692.3l2.7 -2.5M132.8 705.2l-0.2 6.1M125.3 709.8l3.1 1" stroke="#c040f4" stroke-width="1.6" stroke-linecap="round" fill="none" opacity="0.88"/>
<path d="M81 600.3l-1.9 -3.3M95.2 698.8l-4 -4.1M68.3 687.4l3.3 -2.4M97.7 684.6l-0.9 -0.6M77.2 675.8l0.6 1M87.5 669.8l2.3 3.8" stroke="#c040f4" stroke-width="3.2" stroke-linecap="round" fill="none" opacity="0.88"/>
<path d="M79.1 597l-2.1 -4M131 664.9l-5.8 -0M131.4 615l-4 3.6M91.8 694.6l-3.3 -0.4M88.5 694.2l-2 -0.6M133.3 712.7l0.8 1.3" stroke="#b030f0" stroke-width="2.4" stroke-linecap="round" fill="none" opacity="0.88"/>
<path d="M75.8 602.2l-1.3 5.4M56.8 621.1l4.2 -3M119 633.6l0.1 0.8M119.8 639.7l2.5 5.4M81.9 671.1l3.6 -0.2M125.3 665.3l-0.5 1.4M159.3 697.1l1 -4.2M131.1 619.8l0.4 -5M119.6 633.1l-0.4 0.1M112.1 639.3l0.8 4.3M106.9 616.5l2.4 0.6" stroke="#b030f0" stroke-width="1.6" stroke-linecap="round" fill="none" opacity="0.88"/>
<path d="M53.4 624.1l3.4 -3.1M61 618l2.8 -1.6M118.8 635.2l-3.2 2.4" stroke="#3a1490" stroke-width="2.4" stroke-linecap="round" fill="none" opacity="0.88"/>
<path d="M63.8 616.4l3.8 -3.1M156.4 629.9l-4.3 0.7M119.2 634.4l0 0.7M147.2 665.2l-0.7 0.8M89.8 673.6l3.1 3.4M140.6 682.1l3.2 2.5" stroke="#b838f0" stroke-width="3.2" stroke-linecap="round" fill="none" opacity="0.88"/>
<path d="M76.5 640l0.5 -5.1M146.3 665.5l0.9 -0.3M124.1 699.3l-1.4 -5.1M143.8 684.5l2.9 2.4M142.7 698.4l-1.8 4.7" stroke="#9018e8" stroke-width="3.2" stroke-linecap="round" fill="none" opacity="0.88"/>
<path d="M72.4 655.1l1 0.2M80.3 700.4l-1.3 -0.9M151.2 671.7l0.9 4.5M140.9 703.1l-2.7 2.9M138.2 706l-2.3 4.8" stroke="#5018b0" stroke-width="2.4" stroke-linecap="round" fill="none" opacity="0.88"/>
<path d="M79.7 664.3l-2.9 -5M108.5 670.5l3.1 4.8" stroke="#6020c0" stroke-width="2.4" stroke-linecap="round" fill="none" opacity="0.88"/>
<path d="M68 663l1.9 -4.2M75.5 696.5l3.7 2.8M124.4 633.1l4.1 -3.4M91 617.9l3.7 2.9M96.6 666.3l2.1 -3.5M124.8 666.7l-1.8 0.1M120.5 704.7l1.2 1.8M79.4 687l-0.4 -4.9M100.5 663.5l-1.1 -0.1M121.1 669l2.3 -1.4M91.6 633l3.3 4.5M130.9 701.1l1.8 4.2" stroke="#a020f0" stroke-width="1.6" stroke-linecap="round" fill="none" opacity="0.88"/>
<path d="M62.4 694.5l3.8 -0.2M80.1 663.7l0.7 3.4M86.7 615l4.3 3M119.8 704.2l-1.5 0.8M77.3 677.4l-0.5 0.8M57.1 695.3l4.9 -2.9M75.1 681.1l1.5 -3.3M122.7 694.2l-1.6 -5.4M121.5 651.6l-1 0.1M139.8 679.3l-0.6 2.1M136.3 700.1l3.4 -2.6M127.7 700.3l3.4 -0.3" stroke="#b838f0" stroke-width="1.6" stroke-linecap="round" fill="none" opacity="0.88"/>
<path d="M81.2 703.3l4.6 2.2M152.3 650.4l-3.9 3.5M135.9 642.2l0.4 -4M92 633.7l-4.6 0.6M144.5 664.6l-2.8 2.9M129.9 679.7l-3.4 3.1M163.2 681.8l-2.8 2.8M160.3 693l0.9 -3.5M115.8 686.2l3.6 -2.5M112.7 675.6l2.2 0.2M120.6 684.5l0.3 -0.9M97.5 643.5l0.7 0.7M94.9 637.5l3.4 4.6M139.2 681.4l0.8 1.3M132.2 710.8l1.2 1.9M123.9 698.9l3.9 1.4" stroke="#b030f0" stroke-width="1.0" stroke-linecap="round" fill="none" opacity="0.88"/>
<path d="M80.8 667.2l1.4 3.4M140.2 664.8l-4.4 -0.1M86.6 693.9l-0.2 -4.6M71.6 684.9l3.6 -3.9" stroke="#5018b0" stroke-width="1.0" stroke-linecap="round" fill="none" opacity="0.88"/>
<path d="M66.1 667.3l2.9 3.8" stroke="#a020f0" stroke-width="3.2" stroke-linecap="round" fill="none" opacity="0.88"/>
<path d="M69 671.1l4 2.7M79.2 673l-1.7 2.8M160.1 640.7l-3 2.5M136.1 647.3l-6.2 1.9M123.8 649.1l0.3 1.5M168.7 675.9l-1.8 3M110.5 694.7l1.9 -5.2M112.4 689.6l3.4 -3.4M105.3 667.6l3.2 2.9M117.3 665.5l-1.1 -5.1M115.6 637.6l-3.2 2.7M104 628.3l5.2 -2.3M151.2 686.4l-0.4 2.4" stroke="#9018e8" stroke-width="1.6" stroke-linecap="round" fill="none" opacity="0.88"/>
<path d="M143.1 631l-3.2 -2.4M162.8 636.8l-2.7 4M121 651.1l-4.2 2M131.4 701.1l4.9 -1" stroke="#8a20e0" stroke-width="3.2" stroke-linecap="round" fill="none" opacity="0.88"/>
<path d="M140 628.6l-3.4 -2.5M136.5 647.4l2.3 3.9M82.1 612.3l4.6 2.7M150.5 667l0.7 4.7M99.4 684.7l3.5 4.5M119.6 670l1.5 -1M117.3 673.8l-2.4 1.5M149.5 699.2l-0.4 -0.4M118.7 617.8l-3.7 -1.6" stroke="#b838f0" stroke-width="1.0" stroke-linecap="round" fill="none" opacity="0.88"/>
<path d="M169.3 625.6l-1.7 4.2M119.7 628.8l1.6 -5" stroke="#3a1490" stroke-width="1.0" stroke-linecap="round" fill="none" opacity="0.88"/>
<path d="M135.7 646.8l0.3 -4.6M109.1 652.9l0.2 -3.5" stroke="#3a1490" stroke-width="1.6" stroke-linecap="round" fill="none" opacity="0.88"/>
<path d="M129.9 649.2l-5.4 -0.2M174.6 669.6l-4.2 1M122.4 620l-3.7 -2.2M145.8 698.6l-3.1 0.3" stroke="#6020c0" stroke-width="1.6" stroke-linecap="round" fill="none" opacity="0.88"/>
<path d="M93.8 630.7l0.6 -4.8M139.3 678.9l-4.4 1.2M174.6 669.5l-2.9 3.8M119.3 633.1l-0.8 -0.1M113 630.8l-4 -4.3" stroke="#9018e8" stroke-width="1.0" stroke-linecap="round" fill="none" opacity="0.88"/>
<path d="M96.6 703.7l2.5 -1.1M135.3 673.2l-3.6 1.7" stroke="#6020c0" stroke-width="1.0" stroke-linecap="round" fill="none" opacity="0.88"/>
<path d="M145.9 664.7l-0.6 0.2M120.9 683.5l-0.6 0.1M119.3 669.9l-1.9 3.9M101.2 646.3l3.8 1.6" stroke="#3a1490" stroke-width="3.2" stroke-linecap="round" fill="none" opacity="0.88"/>
<path d="M116.2 706.5l-1 -0.5M122.7 651l-1.2 0.7" stroke="#5018b0" stroke-width="3.2" stroke-linecap="round" fill="none" opacity="0.88"/>
<path d="M111.3 674.8l1.4 0.8M149 698.8l-1.3 0.3" stroke="#5018b0" stroke-width="1.6" stroke-linecap="round" fill="none" opacity="0.88"/>
<path d="M103.2 697.8l0.7 -3.1" stroke="#6020c0" stroke-width="3.2" stroke-linecap="round" fill="none" opacity="0.88"/>
<path d="M136 647.3l-1.3 1.5M94.2 621l0.4 -1.1M122.8 619.7l-2.3 1.8" stroke="#a020f0" stroke-width="4.0" stroke-linecap="round" fill="none" opacity="0.9"/>
<path d="M145.7 656.8l-2.1 -2.3M88 670.2l-2.1 0.1M126.8 682.5l1.6 0.7M112.6 647.8l0.5 -0.9M130.9 700.6l-2 -1.6" stroke="#b030f0" stroke-width="4.0" stroke-linecap="round" fill="none" opacity="0.9"/>
<path d="M146.5 664.9l1.4 0.8" stroke="#9018e8" stroke-width="2.0" stroke-linecap="round" fill="none" opacity="0.9"/>
<path d="M77.1 634.5l0.7 0M119.5 670.3l1.6 0.7M77.3 677.5l-2.3 -2.1" stroke="#c040f4" stroke-width="3.0" stroke-linecap="round" fill="none" opacity="0.9"/>
<path d="M72.5 653.6l1.2 -1M98.1 644.3l0.5 1.7M149 698.7l0.2 -1.3" stroke="#a020f0" stroke-width="2.0" stroke-linecap="round" fill="none" opacity="0.9"/>
<path d="M81.5 703.2l1.2 1.4M86.3 693.9l-1.7 -0.5M77.2 677.6l2.4 1.6M119.9 683.3l-0.3 1.7" stroke="#8a20e0" stroke-width="2.0" stroke-linecap="round" fill="none" opacity="0.9"/>
<path d="M136.9 638l-0.2 -1.2M143.5 631.1l-0.5 -0.3M120.9 683.9l1.8 -2.1M114.4 655.8l1.8 -1.4" stroke="#c040f4" stroke-width="2.0" stroke-linecap="round" fill="none" opacity="0.9"/>
<path d="M124.6 632.9l1.6 1.9M104.3 694.9l-0.2 0.6" stroke="#8a20e0" stroke-width="4.0" stroke-linecap="round" fill="none" opacity="0.9"/>
<path d="M124.4 649.4l1 -2.1M124.1 683.8l0.1 0.9" stroke="#8a20e0" stroke-width="3.0" stroke-linecap="round" fill="none" opacity="0.9"/>
<path d="M144.8 665.1l0.2 0.9M96.2 655.7l-1.9 -1.6M109 626.3l-0.7 -0.2" stroke="#9018e8" stroke-width="4.0" stroke-linecap="round" fill="none" opacity="0.9"/>
<path d="M124.5 699.5l1 -0.9M86.6 684l-0.6 2M110.3 694.6l1.8 -1.3" stroke="#9018e8" stroke-width="3.0" stroke-linecap="round" fill="none" opacity="0.9"/>
<path d="M118.9 633.1l1.4 2.3M120.4 651.7l1.1 -1" stroke="#a020f0" stroke-width="3.0" stroke-linecap="round" fill="none" opacity="0.9"/>
<path d="M83 695.2l1.6 -0.4" stroke="#c040f4" stroke-width="4.0" stroke-linecap="round" fill="none" opacity="0.9"/>
<path d="M99.5 685.1l-0.7 1.5M140.1 682.4l0 1.4M140 697.9l-1.3 -1.6" stroke="#b838f0" stroke-width="4.0" stroke-linecap="round" fill="none" opacity="0.9"/>
<path d="M136.7 690.8l0 -0.6" stroke="#b838f0" stroke-width="3.0" stroke-linecap="round" fill="none" opacity="0.9"/>
<path d="M135.7 671.6l-0.4 1.5M140.5 637.4l0.8 0.9M142.9 627.6l-0.3 0.4" stroke="#b838f0" stroke-width="2.5" stroke-linecap="round" fill="none" opacity="0.95"/>
<path d="M135.7 671.6l-3.8 2M135.7 671.6l4.7 0.1M140.5 637.4l-2.1 1.6M140.5 637.4l-1.3 2.7M142.9 627.6l2.9 2.6M142.9 627.6l3.5 -3.4M139.5 696.6l0.3 -2.7M139.5 696.6l-1.6 2.5M76.1 645.3l0.9 -2" stroke="#b838f0" stroke-width="1.1" stroke-linecap="round" fill="none" opacity="0.9"/>
<path d="M108.3 682.6l1.2 0.9M95.9 626.6l-1.6 0" stroke="#9018e8" stroke-width="2.5" stroke-linecap="round" fill="none" opacity="0.95"/>
<path d="M108.3 682.6l3.6 -2.5M108.3 682.6l2.5 0M95.9 626.6l-2.4 -1" stroke="#9018e8" stroke-width="1.1" stroke-linecap="round" fill="none" opacity="0.9"/>
<path d="M139.1 687l-0 0.3M107.4 665.1l0.8 0.9M115.8 651.5l0.2 0.1" stroke="#a020f0" stroke-width="3.5" stroke-linecap="round" fill="none" opacity="0.95"/>
<path d="M139.1 687l-2 -0.3M135.9 672l4.5 1M107.4 665.1l-3.5 -2.8M114.3 686.5l2.9 2.3M115.8 651.5l0.5 -3.2M115.8 651.5l-2.1 -0.3M147.8 633.4l2 -0.7" stroke="#a020f0" stroke-width="1.1" stroke-linecap="round" fill="none" opacity="0.9"/>
<path d="M131.8 669.3l1.4 1.2M109.7 636.4l0.3 1.1" stroke="#c040f4" stroke-width="2.5" stroke-linecap="round" fill="none" opacity="0.95"/>
<path d="M131.8 669.3l-2.7 -1.2M131.8 669.3l0.3 2.5M113.5 644.6l3.1 -0.8M104.3 637.1l0.2 -4.8M104.3 637.1l1.4 3.7M109.7 636.4l-3.3 1.2" stroke="#c040f4" stroke-width="1.1" stroke-linecap="round" fill="none" opacity="0.9"/>
<path d="M79.2 671l-0.8 0.2" stroke="#8a20e0" stroke-width="2.0" stroke-linecap="round" fill="none" opacity="0.95"/>
<path d="M79.2 671l-1.7 4.5M122.5 653l-1.1 3.2M146.6 682.9l-1.4 3M146.6 682.9l1.6 -1.8" stroke="#8a20e0" stroke-width="1.1" stroke-linecap="round" fill="none" opacity="0.9"/>
<path d="M135.9 672l0.5 0.5M114.3 686.5l-0.9 1.3M147.8 633.4l-0.4 0.5" stroke="#a020f0" stroke-width="2.5" stroke-linecap="round" fill="none" opacity="0.95"/>
<path d="M122.5 653l-0.2 0.2M146.6 682.9l-1.3 1.1" stroke="#8a20e0" stroke-width="2.5" stroke-linecap="round" fill="none" opacity="0.95"/>
<path d="M113.5 644.6l-0.4 2.2M104.3 637.1l-1.5 1.6" stroke="#c040f4" stroke-width="3.0" stroke-linecap="round" fill="none" opacity="0.95"/>
<path d="M130.5 649.7l0.3 0.2M137.8 649.1l0.4 0.3" stroke="#b030f0" stroke-width="3.5" stroke-linecap="round" fill="none" opacity="0.95"/>
<path d="M130.5 649.7l-2.4 1.6M130.5 649.7l-1.8 1.9M137.8 649.1l1.6 1.3M137.8 649.1l3.5 -3.5" stroke="#b030f0" stroke-width="1.1" stroke-linecap="round" fill="none" opacity="0.9"/>
<path d="M139.5 696.6l-1.1 2.1" stroke="#b838f0" stroke-width="3.5" stroke-linecap="round" fill="none" opacity="0.95"/>
<path d="M76.1 645.3l-0.1 0.1" stroke="#b838f0" stroke-width="3.0" stroke-linecap="round" fill="none" opacity="0.95"/>
</svg>
<rect x="71.8" y="621.3" width="83.2" height="81.7" fill="none" stroke="#3a3a3a" stroke-width="1.2" />
<svg x="157.5" y="621.3" width="83.8" height="81.7" viewBox="157.5 621.3 83.8 81.7" overflow="hidden">
<rect x="157.5" y="621.3" width="83.8" height="81.7" fill="#fbfbfb" stroke="none" stroke-width="1" />
<path d="M211.1 623.3l0 0M178 632.7l0 0M214.2 694.2l0 0M207 623.9l0 0M175.8 662.6l0 0M204.5 679.8l0 0M176 669.4l0 0M221.1 634.3l0 0M186 634l0 0M166.1 652.3l0 0M228.5 670.6l0 0M218.7 665.1l0 0M164.1 645.3l0 0M205.9 678.9l0 0M212.9 684.5l0 0M229.2 692.1l0 0M180.8 673.2l0 0M171.1 650.3l0 0M216.3 677.1l0 0M208.5 635.3l0 0M171.2 652.3l0 0M214.9 690.2l0 0M176.7 623.9l0 0M191.1 626.7l0 0M175.3 662.1l0 0M169.5 632.7l0 0M220.1 656.3l0 0M187.8 702.8l0 0M200.2 628.7l0 0M229.7 633.8l0 0M223.9 655.8l0 0M189.7 670l0 0M201.8 700.6l0 0M214.5 630.7l0 0M221.9 649.1l0 0M193.9 658.4l0 0M238.9 683.6l0 0M230.4 645.7l0 0M170.3 683.6l0 0M207.7 661.2l0 0M235.4 693.1l0 0M177.6 641l0 0M164.7 661l0 0M239.5 664.8l0 0M168.3 660.1l0 0M179.7 692.6l0 0M238.3 697.2l0 0M217.2 653.9l0 0M194.2 663.6l0 0M178.3 626.5l0 0M206.8 640.1l0 0M158.1 679.1l0 0M176.7 695.3l0 0M163.4 640.7l0 0M175.5 632.1l0 0M177.9 659.9l0 0M173.5 629.2l0 0M187.2 654.9l0 0M213.9 701.7l0 0M162.6 680.8l0 0M178.3 636.8l0 0M169.2 636.3l0 0M178.4 696.7l0 0M225.2 691.2l0 0M161.7 702.9l0 0M238.7 697l0 0M171.4 661l0 0M230 695l0 0M189.3 701.8l0 0M235.1 685.4l0 0M192.9 699.5l0 0M170.5 645.5l0 0M206 665.6l0 0M162.3 669l0 0M162.3 662.8l0 0M163.2 626.9l0 0M191.3 698.2l0 0M206 624.5l0 0M192.6 669l0 0M235.8 638l0 0M177.5 653.6l0 0M195.8 697.2l0 0M158.3 672l0 0M163.6 638.7l0 0M168.6 649.8l0 0M231.2 651.5l0 0M194.2 665.7l0 0M208.8 702l0 0M213.5 666.6l0 0M236.2 632.3l0 0M232.1 682l0 0M180.3 670.7l0 0M174.6 673.1l0 0M199.9 641.8l0 0M165.2 655.9l0 0M161.2 648.6l0 0M210.9 642.7l0 0M203.7 656.2l0 0M166.9 698.5l0 0M203.2 689.5l0 0M193.5 624.7l0 0M232.8 686.3l0 0M232.8 638.5l0 0M213.4 650.2l0 0M239.1 682.5l0 0M230 701.1l0 0M231.4 623.3l0 0M223.1 654.9l0 0M179.9 685.6l0 0M189.6 624.5l0 0M176.1 688l0 0M186.8 688.3l0 0M176.2 675.2l0 0M185 691.9l0 0M186.9 662.9l0 0M236.2 630.7l0 0M172.5 699.9l0 0M160.7 670l0 0M218.6 646.9l0 0M189.8 668.4l0 0M161.2 656.9l0 0M188 627l0 0M209.7 675.5l0 0M217.8 645.8l0 0M213.4 647.9l0 0M204 637l0 0M214.3 695.1l0 0M191.5 689.4l0 0M181.5 656.4l0 0M196.5 657.4l0 0M200.3 686.1l0 0M212.7 644.5l0 0M165.3 699.1l0 0M213.9 639.7l0 0M169.8 625.1l0 0M208.7 684.1l0 0M192.2 672.8l0 0M217.7 652.7l0 0M177.9 674.9l0 0M232.3 691.6l0 0" stroke="#6040b0" stroke-width="0.8" stroke-linecap="round" fill="none" opacity="0.8"/>
<path d="M261 622.9l-4.4 -0.4M253.2 671.3l-3.7 -2.4M160.4 688.3l2.2 -3.8M159.3 682.8l-4 -2.7M182.3 601.3l-2.4 -3.2M163.3 616.8l2.9 -2.4M192.7 655.1l1.7 -2.9M171.2 701l0.1 4.5M181.9 653.5l4.5 -0.8M203 712.1l0.4 -0.6" stroke="#9018e8" stroke-width="1.6" stroke-linecap="round" fill="none" opacity="0.88"/>
<path d="M256.6 622.6l-4.3 -1.9M256.5 626.2l-4 1.5M231.1 672.4l3.3 -4.7M220.5 614.1l-5.5 2.6M184.6 631.9l-5.7 -2M168.6 646.1l5.3 0.6M219 696.8l-2.9 3.3" stroke="#a020f0" stroke-width="1.0" stroke-linecap="round" fill="none" opacity="0.88"/>
<path d="M252.3 620.7l-4.4 -0.7M222.9 683.1l1.9 3.6M202.8 625.6l-4.3 2.2M162.3 650.9l0.2 -0.4M231.8 627.4l0.5 4.1M169.2 646.7l-1 1.5M209.4 705.3l0.1 -0.6" stroke="#b030f0" stroke-width="3.2" stroke-linecap="round" fill="none" opacity="0.88"/>
<path d="M243.7 619l-4 -1.5M250.2 683.9l-4.6 -0.9M155.7 680.6l1 -5M215.9 632.6l1 -5.2M212.6 656.5l0.3 0M192.1 625.7l-1.4 -3.4M179.9 598l-0.7 -4.6M172.7 630.3l-1.8 5.5M164 654.8l-0.8 -3.9M187.3 677.3l0.1 0.1M170.6 697.4l0.7 3.6M158 702.1l3.1 2.9M167.5 710.9l3.2 4.2M187.6 673.4l-1.2 -2.4M211.8 696.9l-1.9 -0.7M202.2 695.1l1.8 -0.2" stroke="#8a20e0" stroke-width="2.4" stroke-linecap="round" fill="none" opacity="0.88"/>
<path d="M239.6 617.5l-4.2 -0.9M200.9 645.5l-3 0.8M176.3 679.8l4.9 -1.3M177.3 655.8l4.6 -2.3M167.4 658.8l2.2 -3.7M176.4 653.8l-2 -0.8M224.1 713.9l-2.9 -4.6" stroke="#9018e8" stroke-width="3.2" stroke-linecap="round" fill="none" opacity="0.88"/>
<path d="M260.4 623.3l-3.8 2.9M260.1 675.8l-3.6 -3.2M214.5 640.3l-3.4 3.7M231.2 659.5l0.4 2.4M231.6 661.9l0.7 2.3M178.8 629.9l-3.7 -4.3M175 601l1 -3.5M206.7 622.4l-3.9 3.2M180.4 642.6l-5 -2.5M243 662.7l0.1 -1.7M204.9 705.5l2.2 -0.5M210.3 707.3l-0.9 -1.9" stroke="#b030f0" stroke-width="1.6" stroke-linecap="round" fill="none" opacity="0.88"/>
<path d="M252.5 627.7l-5.1 1.4M233.5 621.2l3.4 3M220.8 652.6l4.3 -2.6M218.4 672.5l-1.7 -4.5M166.2 614.4l3.1 -2.4M190.8 677.8l3.3 3.1M167.8 663.3l0.2 -2.6M173.9 646.7l3.8 0.4M174.3 652.4l1 0.9M188.1 693l4 -2.6" stroke="#6020c0" stroke-width="1.6" stroke-linecap="round" fill="none" opacity="0.88"/>
<path d="M247.5 629.1l-4.3 0.7M231.9 692.7l-0.4 -1.2M238.2 677.7l-5.4 -0.9M234.3 667.3l0.2 -1.2M214.9 661.7l0.3 2.4M216.4 653.9l4.5 -1.3M171.4 635.5l-0.2 0M241 657.6l-0.9 -1.4M241.4 655.2l1.3 -0.7M163.9 664.1l4.5 -0.3M168.2 663.5l2.2 0.7M170.4 664.2l1.9 0.8M195 675l3.7 -2.2M199.9 660.2l-4.9 2.9M171.3 635.6l-2.2 4.8M169.6 655.2l4 -2.4" stroke="#9018e8" stroke-width="1.0" stroke-linecap="round" fill="none" opacity="0.88"/>
<path d="M239.7 627.2l3.2 2.3M231.4 693.2l0.5 -0.5M210.1 617.8l-4.8 -0.4M215.2 664.1l1 3M191.8 634l-4 -1.8M204.5 636.6l-3.5 -1.6M242.4 647.3l0.2 3.3M241.2 641l-0.1 -5.7M171.5 681.9l0.2 -4.1M203.1 673.1l2.8 0.1M226.9 640.8l0.8 -0.4M239.6 634.5l-0.6 0.6M236.5 642l0.1 -4.9M198.6 686.8l0.3 3.6M187.7 676.9l-0.1 -3.5M188.3 654.4l-1.4 2.2M175.6 649.4l-0.6 3.4M199.8 698.3l1.9 -3.3" stroke="#a020f0" stroke-width="2.4" stroke-linecap="round" fill="none" opacity="0.88"/>
<path d="M270.2 681.1l-3.7 1.8M236.9 700.7l-2.6 -3.8M218.2 681.8l1.9 -2.5M218.7 690.5l1 1.7M231.8 649.1l0.2 0.7M184.7 609.9l-1.2 -4.2M201 635.1l-3.8 -1.6M243.2 655.5l0.3 -2.1M259.5 646.8l-4.3 1.3M228.1 644.2l-0.9 -2.8M205.9 684.2l-3.1 -2.4M190.3 655.4l-1.7 -0.7M188.6 653.7l-1.5 -1M185.6 651.8l-0.7 -2.3M177.4 657.3l-0.3 -1.4M221.9 707.6l0.2 2.1M187 696.8l1.6 1.7" stroke="#b838f0" stroke-width="1.6" stroke-linecap="round" fill="none" opacity="0.88"/>
<path d="M262.1 683.2l-3.7 0.9M239.7 670l-4.5 -0.8M204.6 637.4l1.2 3.2M173.5 604.6l1.4 -3.5M187.4 677.4l0.2 -0M187.6 668.3l-0.5 1.6M190.3 688.7l1.9 2.6" stroke="#3a1490" stroke-width="1.0" stroke-linecap="round" fill="none" opacity="0.88"/>
<path d="M258.4 684.2l-4.5 -0M262.9 677.2l-2.8 -1.4M256.4 672.6l-3.3 -1.3M242.6 679.3l3.3 3.4M158 697.7l0.6 -4.3M171.2 635.5l-0.7 -0.3M237.7 656.3l2 0.3M227.1 640.4l0.7 0.7M176.5 658.7l0.9 -1.4M167.8 648.1l2.9 1.9" stroke="#c040f4" stroke-width="2.4" stroke-linecap="round" fill="none" opacity="0.88"/>
<path d="M267.3 679.8l-4.5 -2.6M245.3 669.5l-5.6 0.5M192 633.4l-0 -0M184.6 631.5l-2.3 5.1M166.5 635.3l3.8 -0.2M242.7 650.6l0.7 2.9M171.7 677.7l-0.1 -4.1M209.2 684.8l-3.3 -0.5M180.2 642.4l1.1 1.6M184.3 686.1l-0.5 4.4M172.8 664.1l0.2 0.1M190.7 665.7l-3.4 2.8M200.7 692.9l1.6 1.2M207.1 709.4l2.9 -2.4M203.3 710.1l0.4 -3" stroke="#8a20e0" stroke-width="1.6" stroke-linecap="round" fill="none" opacity="0.88"/>
<path d="M238.3 678.7l-2.1 -4.7M222.8 625.1l-3.5 1.4M244.1 657.7l0.3 -1.7M234.6 707.8l-2.2 2.7M174.5 661l-0.3 3" stroke="#6020c0" stroke-width="1.0" stroke-linecap="round" fill="none" opacity="0.88"/>
<path d="M249.8 668.1l-4.5 1.4M238.2 703.7l-1.3 -3M234.3 696.8l-2.6 -3.5M245.9 682.7l-3.9 2.3M232.8 676.8l-6.1 -0.9M240.2 662.8l-2 0.5M216.9 667.3l-0.5 -0.2M233.9 653.4l2.4 2.8M198.4 627.8l-5 1.7M242.2 647.3l-0.5 0.2M241.7 647.5l-0.2 -0.3M232.1 648.6l1.7 -0.4M238.9 646.6l-2.3 0.8M222.4 625.7l0.7 -0M204.8 677.6l1.2 -4.9M167.5 659.1l-3.5 -4.3M188.8 677.6l-0.6 -0.7M186.3 677.7l1.1 0.1M187.4 677.8l0.7 -0.8M184.7 695.8l1.7 1.1M190.3 700.8l-1 -1M188.6 698.5l1 2.5M209.9 696.3l-2.5 -1.9" stroke="#c040f4" stroke-width="1.6" stroke-linecap="round" fill="none" opacity="0.88"/>
<path d="M234.2 689l-2.5 3.1M211.3 686.6l-0.5 -1.5M195 663.1l-4.3 2.6" stroke="#3a1490" stroke-width="3.2" stroke-linecap="round" fill="none" opacity="0.88"/>
<path d="M227.8 689.1l3.5 2.3M219 661.1l4.2 -0.1M212.7 655.3l3.7 -1.4M231.4 623.2l-0.9 1.3M162.4 650.5l0.5 0.1M182.5 668.6l4 2.4M177.3 646.7l-1.7 2.7M199.9 690.5l-0.5 1M226.4 722.8l-1.3 -5.4" stroke="#c040f4" stroke-width="3.2" stroke-linecap="round" fill="none" opacity="0.88"/>
<path d="M219.9 680l0.9 -2.7M231.1 654.2l0.1 4.5M230.5 624.6l-4.5 0.2M160 667l3.9 -2.9M159.1 656l3.8 -4.9M183.1 694.3l1.6 1.5M216.3 700.4l-1 -1.1" stroke="#6020c0" stroke-width="2.4" stroke-linecap="round" fill="none" opacity="0.88"/>
<path d="M220.8 677.3l-0.3 -1.3M205.8 640.5l1.8 5M227.5 660.6l3.3 -1.4M241 634.7l0.3 1.4M224.4 635.3l2 4.4M159.8 647.5l2.6 2.7M184.9 649.5l0.4 -4.2M181.3 644.4l1.8 0.7M191.5 676.9l-2.7 0.6M194.5 688.6l4.9 2.4M222.7 702.9l-1 4.1" stroke="#b838f0" stroke-width="1.0" stroke-linecap="round" fill="none" opacity="0.88"/>
<path d="M235.9 669.1l-1.3 -1.6M158 663.9l2.2 2.9M156.7 675.6l0.9 -4.6M208.5 623.8l-1.7 -1.6M216.4 637.6l-0.5 -5.1M231.7 664.4l-4.9 2.1M229.7 648.2l1.6 1.1M221.2 676.1l-2.7 -3.6M192.9 632.3l-0.9 1.1M174.9 626l0.8 -4.2M222.1 625.8l0.4 -0.1M233.5 637.9l3.1 -0.4M167.2 684.4l3.7 2.6M171.4 705.5l0.3 4.5M221.3 706.9l-1.7 -3.5M203.4 711.4l-0.2 -1.8M212.5 697.9l-1.5 -0.8" stroke="#b030f0" stroke-width="1.0" stroke-linecap="round" fill="none" opacity="0.88"/>
<path d="M226.5 675.3l4.6 -2.9M208.2 646l-1.4 -0.5M228.4 648.4l1.3 -0.2M174 609.5l-0.4 -4.9M239.5 656.2l1.9 -1M251.8 647.9l-4.6 -0.5M241.4 632.2l-0.4 1.7M221.7 639.5l4.6 0.8M191.4 676.9l3.6 -1.9M198.5 682.7l0.2 4.1M190.3 684.7l4.1 3.9M178 691.7l2.1 3.5M199.4 691.5l0.4 0M170.6 714.8l0.8 1" stroke="#c040f4" stroke-width="1.0" stroke-linecap="round" fill="none" opacity="0.88"/>
<path d="M158.6 693.4l1.8 -5.2M183.5 605.7l-1.2 -4.5M216.5 637.9l5.2 1.6M229.2 714.2l-2.2 3.7" stroke="#5018b0" stroke-width="3.2" stroke-linecap="round" fill="none" opacity="0.88"/>
<path d="M162.2 685.1l-2.8 -2.3M156.3 660.8l1.7 3.1M187 614.1l-2.4 -4.2M244.7 656.4l-1.5 -1M243.1 661l0.4 -1.7M242.9 629.1l-1.5 3.1M165.3 685.6l1.1 -0.2M167.9 660.7l-0.9 -2.4M187.1 652.7l-1.4 0.1M171.5 682l4.8 -2.3M186 678.7l-0.8 4M179.4 660.1l3.2 0.5M219.6 703.5l-2.6 -3.7" stroke="#a020f0" stroke-width="1.6" stroke-linecap="round" fill="none" opacity="0.88"/>
<path d="M157.7 671l2.2 -3.3M210 625.8l-1.6 -2M218.5 686.8l0.9 3.8M216.4 667.2l0.2 -0M233.9 621.5l-2.5 1.7M226 624.7l-3.4 1.2M152.4 642.7l4.4 2.4M230.5 635.2l-1.1 3.6M232.7 630.6l2.2 2.9M186.1 644.1l2.1 -1.3M168 688.9l1.3 3.8M187 656.5l-0.4 2.3M168.7 646.6l0.5 0.1M173.8 652.7l0.5 -0.3" stroke="#8a20e0" stroke-width="1.0" stroke-linecap="round" fill="none" opacity="0.88"/>
<path d="M222.5 619.7l0.1 5.9M211.1 644l-2.2 2.9M199.7 660.1l0 -1.1M227.7 640.4l1.2 -1.6" stroke="#6020c0" stroke-width="3.2" stroke-linecap="round" fill="none" opacity="0.88"/>
<path d="M206.7 622.6l-0.3 -2.8M197.2 633.4l-4.3 -0.7M169.4 611.9l4.3 -3.2" stroke="#5018b0" stroke-width="1.6" stroke-linecap="round" fill="none" opacity="0.88"/>
<path d="M148.8 641l4.2 -1.9M249.7 668l-3.6 -1.5M246.1 666.6l-3.7 -3.2M222.5 667.9l-6.4 -0.5M182.4 636.5l-1.4 5.8M204.2 658.6l-4.5 1.3M195.8 648.4l-4.1 -1.9M199.6 660.1l-3.8 -3.3M181.1 663.1l1.1 -3.5M163.1 650.3l2.5 -1.4M186.4 696.4l1.7 -3.4M203.8 707.1l1.7 -2.4" stroke="#b838f0" stroke-width="2.4" stroke-linecap="round" fill="none" opacity="0.88"/>
<path d="M219.7 692.2l2.1 1.1M241.6 647.2l-2.8 -0.5M226.6 639.5l0.5 0.8M214.3 684.4l-2.8 2.2M184.4 646.2l1.7 -2.1M230.9 692.8l-3.1 2.7" stroke="#5018b0" stroke-width="1.0" stroke-linecap="round" fill="none" opacity="0.88"/>
<path d="M242.6 663.3l-2.5 -0.6M193.7 631l-0.1 1.5M176 597.6l3 -3.9M174.5 625.3l-1.8 5M161.6 635.9l4.9 -0.6M255.3 648.2l-3.4 -0.3M223.2 630.4l1.2 4.9M228.6 647.9l-0.5 -3.7M199.4 672l3.7 1.1M169.1 640.4l0.2 5.8M171.1 714.8l-0.4 -0" stroke="#9018e8" stroke-width="2.4" stroke-linecap="round" fill="none" opacity="0.88"/>
<path d="M225.2 650l3.8 -1.5M232.1 649.7l-1 4.5M155.4 660.9l3.7 -4.9M230 624.3l1.8 3.1M204.2 645l-2.9 -0.4M192.1 636.9l-0.8 2.1M187.1 669.9l-0.3 0.6M205.7 699.9l-0.3 -4.6" stroke="#3a1490" stroke-width="2.4" stroke-linecap="round" fill="none" opacity="0.88"/>
<path d="M231 649l0.8 0.1M174.6 617.5l-0.2 -4.7M172.5 668.2l0 -3.9M170.5 683.6l-3.4 1.6M227 717.9l-1.3 4.7M165.6 648.9l3.2 -0.9" stroke="#8a20e0" stroke-width="3.2" stroke-linecap="round" fill="none" opacity="0.88"/>
<path d="M232.4 649.9l1.5 3.5M233.8 648.2l3.1 -0.2M171.6 673.6l0.9 -5.4M166 685l2 3.9M169.3 692.8l1.2 4.6M215.3 699.4l-0 -0.1" stroke="#a020f0" stroke-width="3.2" stroke-linecap="round" fill="none" opacity="0.88"/>
<path d="M243.4 660l-2.3 -2.3M210.8 685.1l-1.9 -0.1M207.2 645.2l-3 -0.2M194.5 652.2l1.4 -3.8M161.1 705l3.3 2.5M178.9 666.9l3.6 1.8M187.1 659.2l-2.8 0.1M177.3 656.1l-0.9 -2.3M192.2 701.8l-1.9 -1" stroke="#b030f0" stroke-width="2.4" stroke-linecap="round" fill="none" opacity="0.88"/>
<path d="M223.1 625.6l0.1 4.7M171.3 682.1l-0.8 1.5M181.1 678.4l5.3 -0.3M176.9 658.4l-2.4 2.6" stroke="#b838f0" stroke-width="3.2" stroke-linecap="round" fill="none" opacity="0.88"/>
<path d="M207.9 678.4l-1.6 -5M191.6 634.2l0.5 2.7M183.2 695l-1.9 0.4M187.2 664.4l-0.4 -5M194.4 701.2l-2.7 0.8" stroke="#3a1490" stroke-width="1.6" stroke-linecap="round" fill="none" opacity="0.88"/>
<path d="M184.4 659.3l-2.3 0.7" stroke="#5018b0" stroke-width="2.4" stroke-linecap="round" fill="none" opacity="0.88"/>
<path d="M243.2 629.3l-0.7 1.4M242.5 647.3l-0.5 -0.8M209.2 647.1l2.1 -1.3M204.9 636.8l-2.3 1.7M199.1 672.5l-1.8 -1.6M170.9 635.5l-2.1 -1.1M227.3 641l-2 -0.7M167.2 658.7l-1.6 0.8M169.1 646.2l-1.2 1.1M191.7 690.7l1.3 -2" stroke="#8a20e0" stroke-width="4.0" stroke-linecap="round" fill="none" opacity="0.9"/>
<path d="M235.5 668.9l0.1 1.4M220.6 676.1l0.9 1.4M212.5 656.1l0.2 1M198.1 682.6l0.9 0.3M188 654.2l0.3 0.3M232.7 631.1l-0.7 1.1M201.5 645l0.4 -1.7" stroke="#b030f0" stroke-width="2.0" stroke-linecap="round" fill="none" opacity="0.9"/>
<path d="M216.4 627.5l2.3 0.6M184.6 631.9l1.4 1.1M180.5 642.5l0.9 -0.8" stroke="#b030f0" stroke-width="3.0" stroke-linecap="round" fill="none" opacity="0.9"/>
<path d="M209.8 625.9l-2.5 0.8M157.6 702.2l-1.1 2.1M214.6 661.7l0.7 2.3M191 677.5l2 -0.8M187.6 677.3l-1.3 -1.1M243.1 653.9l-2.1 -2.1M241.6 647l-2.3 0.4M173.7 664.2l1.6 1.7M216.4 699.9l-0.3 -0.4" stroke="#b838f0" stroke-width="4.0" stroke-linecap="round" fill="none" opacity="0.9"/>
<path d="M212.7 655.7l2.1 2.2M221.8 693.6l-0.5 0.8M186 652.3l1.5 1.9M238.5 634.6l-1.4 -1.7M189.5 700.4l-0.7 1.5M205.3 694.8l1.3 2.1" stroke="#c040f4" stroke-width="3.0" stroke-linecap="round" fill="none" opacity="0.9"/>
<path d="M220.1 679.4l-0.1 -1M171.8 681.6l0.7 -2.1M167.7 684.7l2.2 -2.3M178.8 666.4l1.8 -1.6" stroke="#c040f4" stroke-width="4.0" stroke-linecap="round" fill="none" opacity="0.9"/>
<path d="M231.6 691.7l-1.7 2.3M177.7 647l-1.5 1.8" stroke="#a020f0" stroke-width="2.0" stroke-linecap="round" fill="none" opacity="0.9"/>
<path d="M206.8 622.3l-0.8 -2.1M228.5 648l-0.5 -0.9" stroke="#b838f0" stroke-width="3.0" stroke-linecap="round" fill="none" opacity="0.9"/>
<path d="M156.6 636.7l-2.1 1.6M188.7 642.6l2.3 0.7M168.2 647.7l0.5 -1.4" stroke="#8a20e0" stroke-width="3.0" stroke-linecap="round" fill="none" opacity="0.9"/>
<path d="M231.6 649.2l-2.5 1.1M192.6 654.7l0.9 1.3M174.9 652.8l-2 -0.1" stroke="#8a20e0" stroke-width="2.0" stroke-linecap="round" fill="none" opacity="0.9"/>
<path d="M207.1 645.2l-1.1 0.9M162.7 651.3l0.1 -0.6" stroke="#a020f0" stroke-width="4.0" stroke-linecap="round" fill="none" opacity="0.9"/>
<path d="M234.1 664.8l-1.8 -0.5M231 659.1l-1.9 -2.5M236.6 647.4l2 0.3M191.1 639.5l-2.2 -1.2" stroke="#b030f0" stroke-width="4.0" stroke-linecap="round" fill="none" opacity="0.9"/>
<path d="M187.6 677.3l0.4 2.3" stroke="#b838f0" stroke-width="2.0" stroke-linecap="round" fill="none" opacity="0.9"/>
<path d="M172.7 664.4l-0.1 -0.9M229.9 624.5l-0.5 2" stroke="#9018e8" stroke-width="2.0" stroke-linecap="round" fill="none" opacity="0.9"/>
<path d="M191.7 633.8l1.5 2.3" stroke="#9018e8" stroke-width="4.0" stroke-linecap="round" fill="none" opacity="0.9"/>
<path d="M171.1 635.3l1.4 -0.1M203 681.6l-1.3 0.8" stroke="#9018e8" stroke-width="3.0" stroke-linecap="round" fill="none" opacity="0.9"/>
<path d="M176.8 658.5l-2.3 0.7" stroke="#a020f0" stroke-width="3.0" stroke-linecap="round" fill="none" opacity="0.9"/>
<path d="M181.8 644.4l-1.7 -2.1M229 639.2l1.6 1.1" stroke="#c040f4" stroke-width="2.0" stroke-linecap="round" fill="none" opacity="0.9"/>
<path d="M164.5 670.2l1.2 0.8M240 671.5l-0.1 0M174.4 675l1.2 0.1M230.9 687.7l0.1 0.7M198.6 701.7l0.9 0.7" stroke="#8a20e0" stroke-width="2.5" stroke-linecap="round" fill="none" opacity="0.95"/>
<path d="M164.5 670.2l-2.1 -1.1M240 671.5l-2.1 -2.6M174.4 675l-3 -2.7M157.9 635.6l1.6 -4.6M230.9 687.7l0.5 -4.2M230.9 687.7l3.3 -0.8M184 699.4l3.4 2.2M184 699.4l1 -2M213.1 671.4l-5 0.2M213.1 671.4l3.7 -2.8M198.6 701.7l-3.2 -0.5M200.8 686.7l-3.9 2.4M200.8 686.7l1.2 2.6" stroke="#8a20e0" stroke-width="1.1" stroke-linecap="round" fill="none" opacity="0.9"/>
<path d="M158.1 674.8l0.1 0.2M234.5 666.2l-0.8 0.2M207 658.6l-0.3 1.2" stroke="#b838f0" stroke-width="3.0" stroke-linecap="round" fill="none" opacity="0.95"/>
<path d="M158.1 674.8l-1.6 -2.2M158.1 674.8l2 -2.6M188.1 643.8l1.6 3.3M188.1 643.8l-4.9 0.5M234.5 666.2l0.7 4.8M234.5 666.2l-3.1 0.9M183.8 674.7l0.9 -4.7M183.8 674.7l-0 -3.6M207 658.6l2.9 -1.9M207 658.6l0.3 2.2" stroke="#b838f0" stroke-width="1.1" stroke-linecap="round" fill="none" opacity="0.9"/>
<path d="M188.1 643.8l0.9 0.7M183.8 674.7l-0.2 0.5" stroke="#b838f0" stroke-width="2.5" stroke-linecap="round" fill="none" opacity="0.95"/>
<path d="M205.9 684.6l-1.4 0.7M171.1 638.8l-1.2 0.9M165.5 697.8l0.9 0.1" stroke="#c040f4" stroke-width="3.0" stroke-linecap="round" fill="none" opacity="0.95"/>
<path d="M205.9 684.6l-3.9 1.3M171.1 638.8l2.6 4.1M186.3 636.3l-0.5 2.5M186.3 636.3l2.5 2.7M165.5 697.8l3.1 2.3M164.6 697.4l3.1 3.3M158.2 696.6l1.1 -3.5M173.3 693.4l1.3 -2.3M173.3 693.4l3.4 1.9M186.2 646.8l3.7 2.1M186.2 646.8l1.7 2.2" stroke="#c040f4" stroke-width="1.1" stroke-linecap="round" fill="none" opacity="0.9"/>
<path d="M157.9 628.7l-0.1 0.2M219.1 692.6l-1.5 0.8M215.3 622.3l0.7 0.2M170 687.1l1.6 0.7M183.3 655l1.6 0" stroke="#b030f0" stroke-width="2.5" stroke-linecap="round" fill="none" opacity="0.95"/>
<path d="M157.9 628.7l0.4 2.2M157.9 628.7l3.1 0.7M187.6 674.8l-2.2 1.5M187.6 674.8l4.1 0.4M219.1 692.6l1.3 1.9M219.1 692.6l3.5 -1.9M215.3 622.3l1.1 2.6M215.3 622.3l-0.6 4.8M170 687.1l0.6 -2.8M170 687.1l-3.4 -1.4M183.3 655l-1.9 2.8" stroke="#b030f0" stroke-width="1.1" stroke-linecap="round" fill="none" opacity="0.9"/>
<path d="M187.6 674.8l0.4 0.5" stroke="#b030f0" stroke-width="2.0" stroke-linecap="round" fill="none" opacity="0.95"/>
<path d="M157.9 635.6l0.5 0.1" stroke="#8a20e0" stroke-width="2.0" stroke-linecap="round" fill="none" opacity="0.95"/>
<path d="M196.1 669.2l0.5 0.6M190.9 677.7l1.2 1.2" stroke="#a020f0" stroke-width="2.5" stroke-linecap="round" fill="none" opacity="0.95"/>
<path d="M196.1 669.2l-1.2 -2.4M190.9 677.7l-2.9 0.9M195.2 635l0.8 3.1" stroke="#a020f0" stroke-width="1.1" stroke-linecap="round" fill="none" opacity="0.9"/>
<path d="M184 699.4l-0.4 0.5M200.8 686.7l-0.4 0.6" stroke="#8a20e0" stroke-width="3.0" stroke-linecap="round" fill="none" opacity="0.95"/>
<path d="M235.6 660.2l-0.1 0.4M236.2 624l-0.2 0.3M187.7 667.1l0.2 0.7M202.6 701.3l-0.5 0.8M169.6 635l-0.3 0.8" stroke="#9018e8" stroke-width="2.5" stroke-linecap="round" fill="none" opacity="0.95"/>
<path d="M235.6 660.2l-2.6 0M236.2 624l-1.1 -3.2M176.7 629.5l3 3.9M187.7 667.1l-3.5 -1.8M202.6 701.3l2.4 -2M202.6 701.3l-0.9 3.8M169.6 635l2.7 1.4M159.9 675.5l-2.3 -0.7M159.9 675.5l3.4 -1.2M210.9 671.8l3.4 1.1M173.1 629.7l2 2.8" stroke="#9018e8" stroke-width="1.1" stroke-linecap="round" fill="none" opacity="0.9"/>
<path d="M213.1 671.4l-0.9 0.5" stroke="#8a20e0" stroke-width="3.5" stroke-linecap="round" fill="none" opacity="0.95"/>
<path d="M186.3 636.3l-0.4 0.6M164.6 697.4l0.4 0.4M158.2 696.6l-1.2 1.1M173.3 693.4l1.3 0.7" stroke="#c040f4" stroke-width="2.5" stroke-linecap="round" fill="none" opacity="0.95"/>
<path d="M176.7 629.5l-0.4 2M210.9 671.8l0 0.8" stroke="#9018e8" stroke-width="3.0" stroke-linecap="round" fill="none" opacity="0.95"/>
<path d="M195.2 635l0.3 0.3" stroke="#a020f0" stroke-width="2.0" stroke-linecap="round" fill="none" opacity="0.95"/>
<path d="M159.9 675.5l0.3 2.4" stroke="#9018e8" stroke-width="3.5" stroke-linecap="round" fill="none" opacity="0.95"/>
<path d="M173.1 629.7l0 0" stroke="#9018e8" stroke-width="2.0" stroke-linecap="round" fill="none" opacity="0.95"/>
<path d="M186.2 646.8l0.3 2.2" stroke="#c040f4" stroke-width="3.5" stroke-linecap="round" fill="none" opacity="0.95"/>
</svg>
<rect x="157.5" y="621.3" width="83.8" height="81.7" fill="none" stroke="#3a3a3a" stroke-width="1.2" />
<svg x="243.8" y="621.3" width="82" height="81.7" viewBox="243.8 621.3 82 81.7" overflow="hidden">
<rect x="243.8" y="621.3" width="82" height="81.7" fill="#fbfbfb" stroke="none" stroke-width="1" />
<path d="M247 678.2l0 0M257 689.5l0 0M293.2 628.1l0 0M296.7 692.7l0 0M276.4 625.5l0 0M298.7 699.6l0 0M291.3 642.8l0 0M280.6 653.3l0 0M253.3 646.8l0 0M288.2 633.7l0 0M286.3 668.3l0 0M294.1 678.5l0 0M318 694.3l0 0M280.1 643.1l0 0M270.6 689.6l0 0M287 625.3l0 0M268.6 632l0 0M261.3 635.9l0 0M265.2 662.1l0 0M312.8 663.4l0 0M310.9 644.8l0 0M259 672.7l0 0M261.8 629.8l0 0M246 671.6l0 0M265 653.8l0 0M298.2 658.8l0 0M311.4 664l0 0M279.9 695.1l0 0M272.7 686.1l0 0M284.5 662.4l0 0M245.5 683.9l0 0M290.1 662.3l0 0M248.8 679.4l0 0M288.4 678.5l0 0M292.3 683.1l0 0M256.1 641.3l0 0M319.3 664.1l0 0M315.6 640l0 0M246.3 702.2l0 0M310.1 628l0 0M260.8 652.7l0 0M279 686.8l0 0M317.2 697.4l0 0M289.3 654.4l0 0M320.9 650.6l0 0M285.3 689.4l0 0M316.5 653.7l0 0M256.1 671.9l0 0M323 699l0 0M322.6 677.8l0 0M304.4 698l0 0M317.8 631.3l0 0M264.2 648.6l0 0M248.9 655.1l0 0M275.7 635.6l0 0M317 632.8l0 0M268.8 684.7l0 0M302.4 680l0 0M322 643.7l0 0M282.3 622.2l0 0M324 649.5l0 0M272.3 634.7l0 0M293.1 679.7l0 0M314.9 665l0 0M246 666l0 0M316.5 665l0 0M295.3 675.6l0 0M266.4 701l0 0M293.6 626.3l0 0M280.2 660.9l0 0M270.2 655.9l0 0M263.5 692.4l0 0M301.3 649.6l0 0M269 650.4l0 0M284.3 678l0 0M271 652.7l0 0M255.9 667.2l0 0M313.6 684.8l0 0M277.5 680.4l0 0M280.7 682.5l0 0M258.1 664.4l0 0M270.8 643.5l0 0M261.5 697.8l0 0M250.7 667.3l0 0M323.7 650l0 0M318.1 688.9l0 0M314.2 652l0 0M323.5 622.9l0 0M272.9 685.9l0 0M260.3 629.4l0 0M298.5 694.1l0 0M289.9 652.5l0 0M257.4 682.8l0 0M319 640l0 0M312.3 696.1l0 0M286.9 680.4l0 0M296.2 669.5l0 0M276.4 649.2l0 0M282.3 652.8l0 0M274.7 628.7l0 0M260.7 665.8l0 0M288.8 675.4l0 0M266.5 692.2l0 0M260.5 655.8l0 0M292.3 660l0 0M267.5 648.2l0 0M280.5 700.7l0 0M321.5 674.1l0 0M309.3 700.4l0 0M295.3 665.7l0 0M272.7 671.9l0 0M254.5 683.1l0 0M247.5 689.8l0 0M272.6 679l0 0M314.7 701.8l0 0M289.5 693.7l0 0M255.1 694.7l0 0M258.7 641.6l0 0M287.3 634.7l0 0M265.8 677.4l0 0M303.1 662.7l0 0M304.9 697.8l0 0M251 672.2l0 0M284.2 652.3l0 0M273.4 638.3l0 0M311.6 679.3l0 0M250.3 685l0 0M309.9 682.2l0 0M288.2 627.3l0 0M293 665.2l0 0M249.4 655.7l0 0M263.2 681.6l0 0M273.3 648.8l0 0M313.9 702.9l0 0M307 660.4l0 0M323.9 625.8l0 0" stroke="#8a60d0" stroke-width="0.8" stroke-linecap="round" fill="none" opacity="0.8"/>
<path d="M322.5 651.5l0 0M281 662l0 0M276.1 626l0 0M311.1 652l0 0M291 652.1l0 0M291.3 636.5l0 0M312.6 645.5l0 0M286.6 629.7l0 0M303.5 676.2l0 0M323.3 666.4l0 0M280.1 624.4l0 0M252.5 686l0 0M314.1 652.8l0 0M308 636.6l0 0M311.3 653.1l0 0M281.4 626.3l0 0M245.7 691.6l0 0M244.3 678.4l0 0M283.1 697.8l0 0M293.5 623.3l0 0M309.3 673.4l0 0M259.2 637.4l0 0M325.2 689.4l0 0M289.9 665.6l0 0M244.4 643l0 0M248.6 673.2l0 0M250.2 629.9l0 0M262.8 683.7l0 0M250.9 622.2l0 0M297.6 692.3l0 0M299.6 637.8l0 0M289.6 696.8l0 0M274.5 675.7l0 0M279.7 681.1l0 0M245.9 658.1l0 0M308 682.9l0 0M290.5 644.4l0 0M265 672.4l0 0M323.3 647.5l0 0M307.8 691.5l0 0M268.7 680.5l0 0M264.8 674.8l0 0M257.9 657.3l0 0M287 673.6l0 0M269.7 697.7l0 0M270 661.1l0 0M300.9 631.4l0 0M267 653.2l0 0M304.5 647.2l0 0M246.4 653.9l0 0M263.3 632.1l0 0M253.6 643.8l0 0M297.7 699.3l0 0M294 659.6l0 0M305.8 674.2l0 0M304.5 681l0 0M245.9 641l0 0M283.1 635.7l0 0M253.4 685.8l0 0M299.7 666.4l0 0M245.8 646l0 0M246.5 627.2l0 0M243.9 645.7l0 0M247.3 627.8l0 0M265.4 630.9l0 0M306.3 625.2l0 0M269.3 652.1l0 0M269.6 669l0 0M284.9 679.3l0 0M273.5 685.9l0 0M293.5 680.1l0 0M279.2 654.9l0 0M285.6 689.8l0 0M291.6 655.5l0 0M269.8 627.9l0 0M312.6 625.1l0 0M255.5 651.3l0 0M295.1 678.1l0 0M300.1 643.6l0 0M292.7 652.3l0 0M245.2 692.9l0 0M279.8 631.3l0 0M287.1 658.8l0 0M294.7 686.6l0 0M286.3 647.8l0 0M290.3 674.8l0 0M270.6 677.4l0 0M319.8 669l0 0M251.1 638.8l0 0M245.7 669.6l0 0M264.6 683.5l0 0M286.4 644.7l0 0M319.8 663.2l0 0M322.3 654.9l0 0M270.9 630.5l0 0M311.5 661.8l0 0M305 688.9l0 0M267.3 684l0 0M251 632.9l0 0M247.7 670.7l0 0M307.9 623.9l0 0M309.5 637.6l0 0M271.7 669.1l0 0M316.6 698.7l0 0M247.3 681.5l0 0M273 643.9l0 0M307.4 625.2l0 0M310.2 638.2l0 0M250.5 632.9l0 0M292.6 673.7l0 0M259.7 673.3l0 0M275.2 691.1l0 0M259.4 683.2l0 0M259.1 631.9l0 0M253.2 671.9l0 0M296.7 635.1l0 0M278.5 645.9l0 0M271.3 682.9l0 0M269.4 626.7l0 0M256.9 673l0 0M274 680.9l0 0M288.8 687.3l0 0M301.1 667.6l0 0M271.5 650.2l0 0M289.1 639l0 0M322.8 659l0 0M259.6 645.3l0 0M249.6 701.2l0 0M291.2 698.6l0 0M319.8 665l0 0M256.4 683.9l0 0M287.7 689.9l0 0M273.9 684.4l0 0M273.8 696.2l0 0M261.8 667.3l0 0M291.1 694.5l0 0M270.9 641.9l0 0M295.6 694.1l0 0M300.6 674.5l0 0M278.8 655.7l0 0M323.7 663.5l0 0M305.7 684.6l0 0M249.6 669l0 0M266.1 674.8l0 0M269.9 694.8l0 0M320.2 667.6l0 0M268.4 634l0 0M277.1 647.5l0 0M321.3 684.9l0 0M312.9 645.7l0 0M299.5 667.8l0 0M245.6 671.5l0 0M259.6 689.9l0 0M293.1 668.9l0 0M313.6 660.2l0 0M289.2 678.5l0 0" stroke="#6a40c0" stroke-width="0.8" stroke-linecap="round" fill="none" opacity="0.8"/>
<path d="M286 668.4l0 0M270.9 675.6l0 0M302.4 624.7l0 0M290.9 646.4l0 0M251.4 638.1l0 0M259.7 697.7l0 0M272.1 684.7l0 0M290.2 655.2l0 0M278.7 622.5l0 0M262.1 680.9l0 0M323.4 633.6l0 0M268.3 660.6l0 0M269.1 700l0 0M313.1 671.1l0 0M264.8 661l0 0M278.2 626.5l0 0M273.7 685.3l0 0M251.6 667.9l0 0M248 668.3l0 0M244.5 679.9l0 0M280.5 628.5l0 0M270.5 631.3l0 0M294.1 641.3l0 0M284.1 668.1l0 0M280.1 673.3l0 0M306.8 630.5l0 0M295.4 641.8l0 0M263.6 651.2l0 0M294 626.1l0 0M317.3 657.6l0 0M309.1 671.8l0 0M307.5 675.3l0 0M256.5 670.2l0 0M311.1 676l0 0M266.1 653.6l0 0M317.3 648.8l0 0M260.1 666.3l0 0M267.4 697.7l0 0M319.8 681l0 0M302.7 685.6l0 0M289.7 673.3l0 0M262.4 692.7l0 0M303.3 664.7l0 0M274.3 683.7l0 0M299.9 663.4l0 0M311.7 646.6l0 0M271.6 670.9l0 0M266.4 688.1l0 0M246.5 646.6l0 0M320.2 637.3l0 0M250.1 694.8l0 0M291.7 700.5l0 0M284.8 682.2l0 0M252 635.4l0 0M302.1 694.6l0 0M276.5 696.1l0 0M251.7 631.8l0 0M323.9 692.6l0 0M324.9 690.1l0 0M284.2 675l0 0M317.8 646.6l0 0M306.4 693.6l0 0M252.4 675.5l0 0M309.5 642.7l0 0M297.9 651.6l0 0M298.2 657.2l0 0M289.8 664.3l0 0M250.1 662.4l0 0M299.6 681.7l0 0M273.6 661.8l0 0M283.5 668.6l0 0M319.9 659.2l0 0M250.3 640.7l0 0M308.2 697.3l0 0M245.4 658.5l0 0M318.6 678.5l0 0M316.3 649.9l0 0M280.3 685.3l0 0M305.5 690.5l0 0M284.4 666.8l0 0M271.3 665.7l0 0M285 668.5l0 0M312.1 625.9l0 0M251.6 643.8l0 0M292 682.6l0 0M255.5 672.2l0 0M258.8 639.6l0 0M298.6 695.3l0 0M322.1 671.9l0 0M299.6 682.2l0 0M270 640.5l0 0M269.6 696l0 0M313.6 671.3l0 0M310.7 684.1l0 0M267.5 678.2l0 0M319.8 642.8l0 0M324.8 660.4l0 0M312 630.7l0 0M276.4 655.1l0 0M282.3 672.2l0 0M325.1 690.7l0 0M283.4 631l0 0M307.3 628.6l0 0M317.9 649.1l0 0M264.5 696.8l0 0M245.8 698.1l0 0M306 671.9l0 0M303.4 688.3l0 0M266.3 696.2l0 0M312 678.2l0 0M308.4 691.2l0 0M256.9 637.7l0 0M316.8 634.7l0 0M276.5 669.4l0 0M270.9 687.7l0 0M276.7 692.8l0 0M295.7 647.3l0 0M246.1 649.7l0 0M255 641.3l0 0M279.2 688.9l0 0M301.2 637.2l0 0M310.5 660.6l0 0M248.7 688.3l0 0M321.9 638.6l0 0M244.2 690.2l0 0M306.3 668.3l0 0M251.5 629.5l0 0M286 681.5l0 0M297.3 654.2l0 0M319.9 697.8l0 0M247.1 642.6l0 0M246.8 701.1l0 0M244.1 696.7l0 0M287.8 625.1l0 0M267.6 668.4l0 0M256.7 670.8l0 0M251.9 666.9l0 0M270.6 667.6l0 0M246.7 632.2l0 0M274 625.8l0 0" stroke="#a080d8" stroke-width="0.8" stroke-linecap="round" fill="none" opacity="0.8"/>
<path d="M307.1 670.1l0 0M251.5 672.2l0 0M257.5 690.6l0 0M247.9 669.6l0 0M268.2 694.8l0 0M254.1 622.7l0 0M253.5 664.8l0 0M320.7 678.7l0 0M265.1 669.2l0 0M260.2 624.9l0 0M283.3 649l0 0M253.2 647.6l0 0M263.2 659.1l0 0M268.5 656.8l0 0M252.3 656.9l0 0M283.1 699l0 0M251.1 666.7l0 0M247 630.4l0 0M308.7 672.4l0 0M273.1 693.6l0 0M266 690.3l0 0M254 673.9l0 0M288.3 655.3l0 0M283.1 639.4l0 0M305.6 695l0 0M267.7 682.2l0 0M319.2 668.6l0 0M318.1 641.7l0 0M316.9 631.1l0 0M299.7 628.8l0 0M320.4 628.8l0 0M274.2 657.9l0 0M254.3 655.3l0 0M292.5 677.7l0 0M301.6 622.4l0 0M280.9 685.4l0 0M294.9 689.9l0 0M279.5 646.8l0 0M277.7 693.7l0 0M265.9 686.9l0 0M303.7 692.2l0 0M252.1 703l0 0M251.3 641.2l0 0M269.2 622.3l0 0M265.5 622.6l0 0M259.8 642.9l0 0M312.2 669.7l0 0M281.3 682.9l0 0M307.6 625.1l0 0M285.5 679.9l0 0M293.6 627.1l0 0M310.6 702l0 0M299.5 661.5l0 0M261.4 662.8l0 0M306.4 677.1l0 0M305.4 697.3l0 0M322.9 645.1l0 0M248.2 674.1l0 0M277.9 641.5l0 0M275.2 629.1l0 0M301.2 697.3l0 0M272.8 630.3l0 0M273.9 648.3l0 0M259.3 656l0 0M290.9 689.9l0 0M299.2 624.3l0 0M267.9 656.5l0 0M300 657.6l0 0M271.7 628.6l0 0M254.5 681.3l0 0M277.7 642l0 0M277.3 642.5l0 0M245.2 621.5l0 0M288.1 629.3l0 0M306.5 632.8l0 0M313.5 683.3l0 0M298.4 682.1l0 0M252.3 658.4l0 0M301.2 660.7l0 0M299.6 678l0 0M324.1 655.2l0 0M258.7 641.3l0 0M295.8 689.2l0 0M298.8 674l0 0M303.8 663l0 0M320.9 664.2l0 0M287.4 630.6l0 0M268.3 658.8l0 0M278.8 664.2l0 0M275.7 661.8l0 0M274.7 655.4l0 0M289 674.8l0 0M264.6 686.2l0 0M282.2 645.7l0 0M273.7 688.9l0 0M307.6 632.2l0 0M276.5 659.5l0 0M286.7 653.8l0 0M253.9 687.6l0 0M245.3 623.7l0 0M318.8 702.3l0 0M305.1 634.7l0 0M261.3 698.9l0 0M244 693.4l0 0M301.1 638.1l0 0M295.9 633l0 0M317.9 684.5l0 0M306.5 681.9l0 0M281.5 639.8l0 0M272.4 635.9l0 0M325.3 696.8l0 0M320.9 660.4l0 0M290.8 669.4l0 0M294.5 670.4l0 0M295.3 680.6l0 0M293.7 654.2l0 0M259.8 675.3l0 0M289.6 696.1l0 0M284.7 698.8l0 0M319.9 634.1l0 0M243.9 657.7l0 0M257.1 634.8l0 0M291.8 666.6l0 0M254.4 679.9l0 0M317.1 646.2l0 0M256.5 660.9l0 0M273.5 700.1l0 0M247 658.5l0 0" stroke="#7050b0" stroke-width="0.8" stroke-linecap="round" fill="none" opacity="0.8"/>
<path d="M293.1 691.7l0 0.1M324.4 657.7l-0.2 0.2" stroke="#a035e4" stroke-width="2.5" stroke-linecap="round" fill="none" opacity="0.95"/>
<path d="M293.1 691.7l-1.5 0.7M325.6 688.5l-0.6 0.8M325.6 688.5l-0.9 -1.7" stroke="#a035e4" stroke-width="1.1" stroke-linecap="round" fill="none" opacity="0.9"/>
<path d="M302.3 651.2l0.5 0.7M286.1 647.8l-1.7 0.4" stroke="#9030dc" stroke-width="2.5" stroke-linecap="round" fill="none" opacity="0.95"/>
<path d="M302.3 651.2l-0.8 -1.1M286.1 647.8l1.9 2.6M282.8 692.1l0.4 0.9M282.8 692.1l-1.8 0.8" stroke="#9030dc" stroke-width="1.1" stroke-linecap="round" fill="none" opacity="0.9"/>
<path d="M317.3 672.6l0.1 1.1M267.8 630.4l-0.9 0.6M294.6 651.4l-1.3 1.3M299.5 642.3l-0.1 1M270.5 655.9l0.6 1.8M251.6 663.1l-0.8 0.7M283.3 658.5l0.1 0.5M322.2 702.4l-0.2 0.3M303.9 632.6l0.4 1.9M288.4 655.2l0.2 0.3" stroke="#c050f0" stroke-width="2.5" stroke-linecap="round" fill="none" opacity="0.95"/>
<path d="M296.2 687.2l-0.2 0.7" stroke="#9030dc" stroke-width="2.0" stroke-linecap="round" fill="none" opacity="0.95"/>
<path d="M325 696.9l-0 0M280.8 645.7l0 1.2M258 679.7l0.3 0.1M285.1 624.6l-0.1 0M250.1 692.3l0.1 0M254.1 673.3l1.1 1M290.6 647.3l-0.1 0.1M302.2 672.5l-0.4 0.8" stroke="#c050f0" stroke-width="2.0" stroke-linecap="round" fill="none" opacity="0.95"/>
<path d="M325 696.9l-1.1 -2.6M325 696.9l0 2.8M280.8 645.7l-1.9 0.8M280.8 645.7l-2.3 1.8M291.9 694.8l2 0.7M267.8 630.4l1.7 0.7M267.8 630.4l-3.2 -0.4M270.5 655.9l3 1.6M270.5 655.9l-1 2.4M324.7 652l0.6 -1.1M324.7 652l1.3 3.2M285.1 624.6l-3.1 -1.1M282 684.4l1 0M282 684.4l-1.1 0.6M283.3 658.5l-1.2 1.8M250.1 692.3l2.4 -0.6M250.1 692.3l0.9 -1.7M303.9 632.6l-1.2 -2.5M254.1 673.3l2.6 0.4M254.1 673.3l0.7 2.5M290.6 647.3l-0 -1.8M290.6 647.3l1.1 -1.8M302.2 672.5l-0.7 -3" stroke="#c050f0" stroke-width="1.1" stroke-linecap="round" fill="none" opacity="0.9"/>
<path d="M291.9 694.8l-0.6 0.5M282 684.4l0.3 0.1" stroke="#c050f0" stroke-width="3.0" stroke-linecap="round" fill="none" opacity="0.95"/>
<path d="M280.4 683l-0 0.8M267.7 702.3l-0.5 1.9" stroke="#a035e4" stroke-width="3.0" stroke-linecap="round" fill="none" opacity="0.95"/>
<path d="M324.7 652l0.2 0.8" stroke="#c050f0" stroke-width="1.5" stroke-linecap="round" fill="none" opacity="0.95"/>
<path d="M247.8 650.9l-0.7 0.3" stroke="#9030dc" stroke-width="1.5" stroke-linecap="round" fill="none" opacity="0.95"/>
<path d="M297.4 674.2l-0.7 0.8M308.3 695.3l0.5 0.4" stroke="#a035e4" stroke-width="1.5" stroke-linecap="round" fill="none" opacity="0.95"/>
<path d="M325.6 688.5l-0.1 0.4" stroke="#a035e4" stroke-width="2.0" stroke-linecap="round" fill="none" opacity="0.95"/>
<path d="M282.8 692.1l0.2 1.1" stroke="#9030dc" stroke-width="3.0" stroke-linecap="round" fill="none" opacity="0.95"/>
<path d="M307.9 657.5l-0.4 0.1" stroke="#b040ec" stroke-width="3.0" stroke-linecap="round" fill="none" opacity="0.95"/>
<path d="M307.9 657.5l-2.6 -0.2M257.4 644.1l-0.1 3.1M257.4 644.1l-1.3 -0.7M300 646.1l3.2 1M300 646.1l1.5 -1.9" stroke="#b040ec" stroke-width="1.1" stroke-linecap="round" fill="none" opacity="0.9"/>
<path d="M257.4 644.1l0.9 1.5" stroke="#b040ec" stroke-width="2.5" stroke-linecap="round" fill="none" opacity="0.95"/>
<path d="M300 646.1l0 0.2" stroke="#b040ec" stroke-width="2.0" stroke-linecap="round" fill="none" opacity="0.95"/>
<path d="M286.9 636.5l0.7 -0.3M298.9 675.9l-0.9 0.4" stroke="#302080" stroke-width="2.2" stroke-linecap="round" fill="none" opacity="0.95"/>
</svg>
<rect x="243.8" y="621.3" width="82" height="81.7" fill="none" stroke="#3a3a3a" stroke-width="1.2" />
<text x="220.3" y="220.7" font-size="12.5" text-anchor="middle" fill="#1a1a1a" style="stroke-width:0.14px">CV</text>
<line x1="96" y1="226.3" x2="348.5" y2="226.3" stroke="#222" stroke-width="1.5" />
<text x="52" y="242.8" font-size="12.5" text-anchor="middle" fill="#1a1a1a" textLength="24.7" lengthAdjust="spacingAndGlyphs" style="stroke-width:0.14px">Con</text>
<text x="135.5" y="242.8" font-size="12.5" text-anchor="middle" fill="#1a1a1a" textLength="50.5" lengthAdjust="spacingAndGlyphs" style="stroke-width:0.14px">Con EVs</text>
<text x="221" y="242.8" font-size="12.5" text-anchor="middle" fill="#1a1a1a" textLength="72" lengthAdjust="spacingAndGlyphs" style="stroke-width:0.14px">Scr miR EVs</text>
<text x="306.8" y="242.8" font-size="12.5" text-anchor="middle" fill="#1a1a1a" textLength="78.2" lengthAdjust="spacingAndGlyphs" style="stroke-width:0.14px">Anti-miR EVs</text>
<text x="3.4" y="234" font-size="13.8" text-anchor="start" fill="#1a1a1a" >E</text>
<text x="223" y="344.5" font-size="12.5" text-anchor="middle" fill="#1a1a1a" style="stroke-width:0.14px">aPC</text>
<line x1="96" y1="349.5" x2="350" y2="349.5" stroke="#222" stroke-width="1.5" />
<text x="135.5" y="366" font-size="12.5" text-anchor="middle" fill="#1a1a1a" textLength="50.5" lengthAdjust="spacingAndGlyphs" style="stroke-width:0.14px">Con EVs</text>
<text x="222.8" y="366" font-size="12.5" text-anchor="middle" fill="#1a1a1a" textLength="72" lengthAdjust="spacingAndGlyphs" style="stroke-width:0.14px">Scr miR EVs</text>
<text x="306.9" y="366" font-size="12.5" text-anchor="middle" fill="#1a1a1a" textLength="78.2" lengthAdjust="spacingAndGlyphs" style="stroke-width:0.14px">Anti-miR EVs</text>
<text x="1" y="487.5" font-size="13.8" text-anchor="start" fill="#1a1a1a" >G</text>
<text x="220.5" y="469.8" font-size="12.5" text-anchor="middle" fill="#1a1a1a" style="stroke-width:0.14px">CV</text>
<line x1="97" y1="475" x2="348.8" y2="475" stroke="#222" stroke-width="1.5" />
<text x="52.9" y="492.2" font-size="12.5" text-anchor="middle" fill="#1a1a1a" textLength="24.7" lengthAdjust="spacingAndGlyphs" style="stroke-width:0.14px">Con</text>
<text x="136.2" y="492.2" font-size="12.5" text-anchor="middle" fill="#1a1a1a" textLength="50.5" lengthAdjust="spacingAndGlyphs" style="stroke-width:0.14px">Con EVs</text>
<text x="221.5" y="492.2" font-size="12.5" text-anchor="middle" fill="#1a1a1a" textLength="72" lengthAdjust="spacingAndGlyphs" style="stroke-width:0.14px">Scr miR EVs</text>
<text x="306.4" y="492.2" font-size="12.5" text-anchor="middle" fill="#1a1a1a" textLength="78.2" lengthAdjust="spacingAndGlyphs" style="stroke-width:0.14px">Anti-miR EVs</text>
<text x="199.4" y="594" font-size="12.5" text-anchor="middle" fill="#1a1a1a" style="stroke-width:0.14px">aPC</text>
<line x1="72.5" y1="598.3" x2="324" y2="598.3" stroke="#222" stroke-width="1.5" />
<text x="111.9" y="615.2" font-size="12.5" text-anchor="middle" fill="#1a1a1a" textLength="50.5" lengthAdjust="spacingAndGlyphs" style="stroke-width:0.14px">Con EVs</text>
<text x="197.5" y="615.2" font-size="12.5" text-anchor="middle" fill="#1a1a1a" textLength="72" lengthAdjust="spacingAndGlyphs" style="stroke-width:0.14px">Scr miR EVs</text>
<text x="283.1" y="615.2" font-size="12.5" text-anchor="middle" fill="#1a1a1a" textLength="78.2" lengthAdjust="spacingAndGlyphs" style="stroke-width:0.14px">Anti-miR EVs</text>
</svg></body></html>
